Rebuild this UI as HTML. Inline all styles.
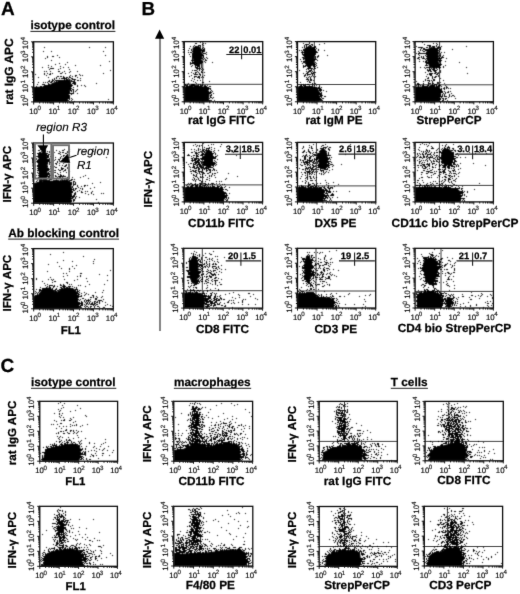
<!DOCTYPE html>
<html><head><meta charset="utf-8"><style>
html,body{margin:0;padding:0;background:#fff;}
body{width:520px;height:594px;overflow:hidden;}
svg{display:block;font-family:"Liberation Sans", sans-serif;text-rendering:geometricPrecision;}
</style></head><body>
<svg width="520" height="594" viewBox="0 0 520 594">
<defs><filter id="bl" x="0" y="0" width="1" height="1" filterUnits="objectBoundingBox"><feConvolveMatrix order="3" kernelMatrix="0.0121 0.0858 0.0121 0.0858 0.6084 0.0858 0.0121 0.0858 0.0121" divisor="1" edgeMode="none" preserveAlpha="false"/></filter><filter id="gb" x="0" y="0" width="1" height="1"><feConvolveMatrix order="3" kernelMatrix="0.0064 0.0672 0.0064 0.0672 0.7056 0.0672 0.0064 0.0672 0.0064" divisor="1" edgeMode="none" preserveAlpha="false"/></filter></defs>
<rect width="520" height="594" fill="#fff"/>
<g filter="url(#gb)">
<path d="M202.80 41.60L202.80 101.80" stroke="#444" stroke-width="1.0" fill="none"/><path d="M184.30 84.30L262.70 84.30" stroke="#444" stroke-width="1.0" fill="none"/><path d="M314.30 41.60L314.30 101.80" stroke="#444" stroke-width="1.0" fill="none"/><path d="M297.50 84.50L375.70 84.50" stroke="#444" stroke-width="1.0" fill="none"/><path d="M439.60 41.60L439.60 101.80" stroke="#444" stroke-width="1.0" fill="none"/><path d="M415.10 84.80L493.40 84.80" stroke="#444" stroke-width="1.0" fill="none"/><path d="M202.60 142.40L202.60 201.90" stroke="#444" stroke-width="1.0" fill="none"/><path d="M184.30 184.90L262.60 184.90" stroke="#444" stroke-width="1.0" fill="none"/><path d="M316.40 142.40L316.40 201.90" stroke="#444" stroke-width="1.0" fill="none"/><path d="M297.50 185.90L375.80 185.90" stroke="#444" stroke-width="1.0" fill="none"/><path d="M439.40 142.40L439.40 201.90" stroke="#444" stroke-width="1.0" fill="none"/><path d="M415.10 185.40L493.40 185.40" stroke="#444" stroke-width="1.0" fill="none"/><path d="M202.30 248.30L202.30 308.10" stroke="#444" stroke-width="1.0" fill="none"/><path d="M183.80 290.70L262.60 290.70" stroke="#444" stroke-width="1.0" fill="none"/><path d="M316.00 248.30L316.00 308.00" stroke="#444" stroke-width="1.0" fill="none"/><path d="M297.50 291.00L375.70 291.00" stroke="#444" stroke-width="1.0" fill="none"/><path d="M441.00 248.30L441.00 308.00" stroke="#444" stroke-width="1.0" fill="none"/><path d="M415.10 291.40L493.40 291.40" stroke="#444" stroke-width="1.0" fill="none"/><path d="M319.20 441.40L397.30 441.40" stroke="#444" stroke-width="1.0" fill="none"/><path d="M344.50 401.40L344.50 441.40" stroke="#444" stroke-width="1.0" fill="none"/><path d="M425.10 441.40L503.30 441.40" stroke="#444" stroke-width="1.0" fill="none"/><path d="M448.80 401.40L448.80 441.40" stroke="#444" stroke-width="1.0" fill="none"/><path d="M319.20 546.50L397.30 546.50" stroke="#444" stroke-width="1.0" fill="none"/><path d="M344.50 506.50L344.50 546.50" stroke="#444" stroke-width="1.0" fill="none"/><path d="M424.30 546.50L502.60 546.50" stroke="#444" stroke-width="1.0" fill="none"/><path d="M447.40 506.30L447.40 546.50" stroke="#444" stroke-width="1.0" fill="none"/>
<g filter="url(#bl)">
<path d="M33.7 87.0L45.0 86.5L49.0 85.2L52.8 82.7L57.1 81.5L62.4 80.3L67.2 79.6L70.6 79.5L71.0 84.2L70.0 89.8L68.7 95.4L67.4 101.9L33.7 101.9Z" fill="#000"/><path d="M33.7 183.2L40.9 181.3L50.7 180.8L59.5 180.4L67.2 179.5L71.0 182.3L72.0 189.8L71.3 203.2L33.7 203.2Z" fill="#000"/><path d="M38.8 152.9L45.8 152.0L47.5 158.9L47.8 169.3L46.8 179.0L39.3 180.0L38.5 165.9Z" fill="#000"/><path d="M33.7 297.8L38.0 294.9L41.0 291.1L43.9 288.3L47.8 287.5L51.7 288.7L54.7 291.2L56.8 292.0L60.3 289.7L64.2 288.0L69.1 287.4L74.0 288.7L77.0 292.0L78.0 297.8L78.7 308.8L33.7 308.8Z" fill="#000"/><path d="M192.5 47.8L197.0 46.0L200.7 46.9L201.7 52.6L201.5 63.1L198.9 66.0L194.3 65.1L192.9 57.6Z" fill="#000"/><path d="M184.3 86.4L195.6 86.3L204.3 86.7L208.1 88.4L209.5 94.7L208.3 101.8L184.3 101.8Z" fill="#000"/><path d="M304.1 48.8L309.0 46.0L313.5 47.9L314.5 55.2L314.0 65.1L309.9 67.0L305.4 64.1L304.0 56.0Z" fill="#000"/><path d="M297.5 86.4L310.1 86.5L317.2 87.1L319.5 92.0L319.3 101.8L297.5 101.8Z" fill="#000"/><path d="M426.6 49.8L431.2 47.0L436.6 47.9L438.7 52.6L438.4 65.2L434.8 69.0L429.3 67.1L426.9 59.6Z" fill="#000"/><path d="M415.1 86.4L430.0 86.5L439.2 86.5L440.0 92.0L439.8 101.8L415.1 101.8Z" fill="#000"/><path d="M213.0 159.0L212.9 161.2L212.6 163.3L211.9 165.2L210.9 166.7L209.8 167.7L208.5 168.0L207.2 167.7L206.1 166.7L205.1 165.2L204.4 163.3L204.1 161.2L204.0 159.0L204.1 156.8L204.4 154.7L205.1 152.8L206.1 151.3L207.2 150.3L208.5 150.0L209.8 150.3L210.9 151.3L211.9 152.8L212.6 154.7L212.9 156.8Z" fill="#000"/><path d="M184.3 187.2L200.8 186.6L214.2 187.1L221.0 188.3L224.5 192.9L224.1 201.9L184.3 201.9Z" fill="#000"/><path d="M327.5 159.0L327.4 161.5L327.1 164.0L326.5 166.2L325.5 168.0L324.3 169.1L323.0 169.5L321.7 169.1L320.5 168.0L319.5 166.2L318.9 164.0L318.6 161.5L318.5 159.0L318.6 156.5L318.9 154.0L319.5 151.8L320.5 150.0L321.7 148.9L323.0 148.5L324.3 148.9L325.5 150.0L326.5 151.8L327.1 154.0L327.4 156.5Z" fill="#000"/><path d="M297.5 187.8L312.2 187.5L321.2 187.5L324.0 192.1L323.2 201.9L297.5 201.9Z" fill="#000"/><path d="M453.0 157.0L452.8 159.1L452.3 161.1L451.4 162.9L450.1 164.3L448.6 165.2L447.0 165.5L445.4 165.2L443.9 164.3L442.6 162.9L441.7 161.1L441.2 159.1L441.0 157.0L441.2 154.9L441.7 152.9L442.6 151.1L443.9 149.7L445.4 148.8L447.0 148.5L448.6 148.8L450.1 149.7L451.4 151.1L452.3 152.9L452.8 154.9Z" fill="#000"/><path d="M415.1 187.2L430.9 186.5L444.4 187.8L457.0 188.2L461.0 192.0L460.1 201.9L415.1 201.9Z" fill="#000"/><path d="M198.5 270.0L198.5 273.3L198.2 276.7L197.5 279.7L196.5 282.0L195.3 283.5L194.0 284.0L192.7 283.5L191.5 282.0L190.5 279.7L189.8 276.7L189.5 273.3L189.5 270.0L189.5 266.7L189.8 263.3L190.5 260.3L191.5 258.0L192.7 256.5L194.0 256.0L195.3 256.5L196.5 258.0L197.5 260.3L198.2 263.3L198.5 266.7Z" fill="#000"/><path d="M183.8 292.5L195.2 292.5L202.2 293.6L205.0 298.0L204.3 308.1L183.8 308.1Z" fill="#000"/><path d="M311.5 268.0L311.6 270.9L311.4 273.9L310.9 276.6L310.1 278.7L309.1 280.0L308.0 280.5L306.9 280.0L305.9 278.7L305.1 276.6L304.6 273.9L304.4 270.9L304.5 268.0L304.4 265.1L304.6 262.1L305.1 259.4L305.9 257.3L306.9 256.0L308.0 255.5L309.1 256.0L310.1 257.3L310.9 259.4L311.4 262.1L311.6 265.1Z" fill="#000"/><path d="M297.5 293.3L310.7 292.7L316.3 295.0L317.4 298.8L329.0 297.1L334.0 299.9L334.1 308.0L297.5 308.0Z" fill="#000"/><path d="M423.6 260.8L428.2 258.0L433.7 258.0L437.4 261.8L437.2 274.5L434.7 282.1L430.0 285.0L425.4 281.1L424.0 270.0Z" fill="#000"/><path d="M417.0 294.3L425.7 291.7L434.5 291.9L441.1 294.4L442.0 299.8L441.3 308.0L416.8 308.0Z" fill="#000"/><path d="M452.0 302.0L451.9 303.2L451.7 304.3L451.3 305.4L450.6 306.3L449.9 308.0L449.0 308.0L448.1 308.0L447.4 306.3L446.7 305.4L446.3 304.3L446.1 303.2L446.0 302.0L446.1 300.8L446.3 299.7L446.7 298.6L447.4 297.7L448.1 297.2L449.0 297.0L449.9 297.2L450.6 297.7L451.3 298.6L451.7 299.7L451.9 300.8Z" fill="#000"/><path d="M45.0 451.9L48.0 448.2L55.8 446.5L64.7 444.9L71.2 443.6L77.1 444.4L80.5 448.1L81.0 454.8L79.1 461.2L42.9 461.2L44.0 455.7Z" fill="#000"/><path d="M173.8 449.9L183.0 449.0L189.0 446.1L194.9 442.9L200.8 443.5L205.8 446.6L211.1 446.0L219.1 443.8L229.0 443.2L237.0 444.1L240.0 448.0L240.6 461.2L173.8 461.2Z" fill="#000"/><path d="M324.0 451.9L331.0 448.2L340.8 446.7L347.6 444.9L355.1 444.5L361.0 447.2L363.0 451.9L362.1 460.8L321.9 460.8Z" fill="#000"/><path d="M430.0 451.9L436.0 447.2L445.7 444.8L451.7 443.0L459.2 442.6L465.0 445.3L466.5 451.9L465.2 460.8L428.9 460.8Z" fill="#000"/><path d="M45.0 555.9L49.0 552.2L56.9 550.5L64.8 549.5L71.2 548.6L79.0 550.3L82.5 555.0L82.1 566.3L42.9 566.3Z" fill="#000"/><path d="M173.8 554.0L186.0 553.5L201.0 553.1L210.9 552.0L219.4 550.8L231.1 549.3L240.0 549.7L245.0 552.1L246.0 557.9L245.6 566.0L173.8 566.0Z" fill="#000"/><path d="M327.0 556.0L333.0 552.3L340.7 550.7L347.7 549.9L355.1 550.5L360.0 553.2L361.0 559.8L359.2 566.3L324.9 566.3Z" fill="#000"/><path d="M429.0 555.9L433.0 553.1L440.9 551.5L446.0 549.0L454.2 547.6L460.1 549.3L462.5 555.0L462.2 566.0L426.9 566.0Z" fill="#000"/>
<path d="M52 79h1v1h-1zM69 76h1v1h-1zM43 86h1v1h-1zM73 89h1v1h-1zM61 80h1v1h-1zM55 83h1v1h-1zM47 82h1v1h-1zM75 83h1v1h-1zM66 80h1v1h-1zM71 86h1v1h-1zM68 95h1v1h-1zM48 84h1v1h-1zM73 92h1v1h-1zM67 80h1v1h-1zM54 81h1v1h-1zM69 93h1v1h-1zM45 82h1v1h-1zM70 75h1v1h-1zM62 81h1v1h-1zM70 89h1v1h-1zM72 78h1v1h-1zM71 94h1v1h-1zM45 86h1v1h-1zM38 87h1v1h-1zM70 82h1v1h-1zM69 80h1v1h-1zM63 78h1v1h-1zM59 78h1v1h-1zM68 96h1v1h-1zM65 78h1v1h-1zM75 84h1v1h-1zM42 84h1v1h-1zM69 92h1v1h-1zM69 96h1v1h-1zM73 93h1v1h-1zM61 82h1v1h-1zM50 85h1v1h-1zM72 83h1v1h-1zM70 90h1v1h-1zM35 92h1v1h-1zM77 77h1v1h-1zM35 87h1v1h-1zM55 80h1v1h-1zM70 87h1v1h-1zM52 80h1v1h-1zM52 81h1v1h-1zM71 90h1v1h-1zM64 77h1v1h-1zM76 90h1v1h-1zM67 77h1v1h-1zM49 84h1v1h-1zM54 84h1v1h-1zM51 82h1v1h-1zM51 81h1v1h-1zM52 83h1v1h-1zM56 82h1v1h-1zM43 84h1v1h-1zM66 77h1v1h-1zM37 87h1v1h-1zM49 80h1v1h-1zM35 95h1v1h-1zM53 84h1v1h-1zM43 82h1v1h-1zM73 81h1v1h-1zM71 98h1v1h-1zM40 86h1v1h-1zM50 82h1v1h-1zM70 88h1v1h-1zM64 80h1v1h-1zM67 98h1v1h-1zM62 80h1v1h-1zM35 100h1v1h-1zM68 98h1v1h-1zM61 76h1v1h-1zM44 86h1v1h-1zM70 86h1v1h-1zM67 100h1v1h-1zM69 91h1v1h-1zM58 82h1v1h-1zM56 77h1v1h-1zM70 83h1v1h-1zM44 85h1v1h-1zM69 98h1v1h-1zM67 79h1v1h-1zM71 84h1v1h-1zM71 80h1v1h-1zM46 85h1v1h-1zM56 80h1v1h-1zM68 78h1v1h-1zM74 79h1v1h-1zM73 87h1v1h-1zM71 91h1v1h-1zM41 86h1v1h-1zM45 85h1v1h-1zM37 84h1v1h-1zM77 85h1v1h-1zM71 81h1v1h-1zM68 100h1v1h-1zM60 80h1v1h-1zM41 87h1v1h-1zM44 84h1v1h-1zM72 93h1v1h-1zM69 77h1v1h-1zM38 82h1v1h-1zM61 78h1v1h-1zM70 93h1v1h-1zM65 80h1v1h-1zM48 85h1v1h-1zM53 83h1v1h-1zM57 80h1v1h-1zM56 83h1v1h-1zM49 81h1v1h-1zM71 85h1v1h-1zM46 86h1v1h-1zM74 81h1v1h-1zM66 78h1v1h-1zM60 73h1v1h-1zM48 86h1v1h-1zM59 82h1v1h-1zM63 77h1v1h-1zM69 95h1v1h-1zM74 80h1v1h-1zM55 82h1v1h-1zM68 93h1v1h-1zM68 80h1v1h-1zM72 85h1v1h-1zM54 83h1v1h-1zM35 93h1v1h-1zM69 89h1v1h-1zM69 99h1v1h-1zM74 84h1v1h-1zM70 85h1v1h-1zM69 101h1v1h-1zM34 92h1v1h-1zM71 93h1v1h-1zM63 81h1v1h-1zM67 96h1v1h-1zM57 83h1v1h-1zM58 81h1v1h-1zM73 82h1v1h-1zM59 81h1v1h-1zM64 79h1v1h-1zM62 101h1v1h-1zM35 91h1v1h-1zM69 97h1v1h-1zM75 91h1v1h-1zM56 81h1v1h-1zM36 86h1v1h-1zM73 83h1v1h-1zM72 81h1v1h-1zM71 100h1v1h-1zM59 80h1v1h-1zM73 79h1v1h-1zM47 86h1v1h-1zM68 97h1v1h-1zM34 97h1v1h-1zM53 80h1v1h-1zM74 83h1v1h-1zM72 89h1v1h-1zM63 80h1v1h-1zM71 78h1v1h-1zM63 76h1v1h-1zM49 85h1v1h-1zM69 88h1v1h-1zM47 85h1v1h-1zM48 83h1v1h-1zM72 99h1v1h-1zM71 88h1v1h-1zM58 80h1v1h-1zM74 101h1v1h-1zM34 93h1v1h-1zM73 91h1v1h-1zM51 66h1v1h-1zM50 68h1v1h-1zM70 77h1v1h-1zM50 74h1v1h-1zM73 90h1v1h-1zM45 58h1v1h-1zM63 67h1v1h-1zM49 74h1v1h-1zM51 51h1v1h-1zM58 71h1v1h-1zM64 78h1v1h-1zM60 68h1v1h-1zM52 56h1v1h-1zM54 79h1v1h-1zM64 88h1v1h-1zM57 55h1v1h-1zM66 79h1v1h-1zM47 56h1v1h-1zM60 76h1v1h-1zM48 67h1v1h-1zM51 60h1v1h-1zM46 71h1v1h-1zM55 64h1v1h-1zM49 69h1v1h-1zM47 73h1v1h-1zM44 71h1v1h-1zM56 78h1v1h-1zM48 65h1v1h-1zM56 88h1v1h-1zM44 73h1v1h-1zM52 73h1v1h-1zM64 71h1v1h-1zM61 73h1v1h-1zM53 68h1v1h-1zM42 67h1v1h-1zM51 68h1v1h-1zM65 73h1v1h-1zM35 74h1v1h-1zM58 69h1v1h-1zM46 75h1v1h-1zM69 79h1v1h-1zM57 76h1v1h-1zM67 86h1v1h-1zM70 71h1v1h-1zM59 71h1v1h-1zM60 66h1v1h-1zM65 64h1v1h-1zM50 73h1v1h-1zM38 77h1v1h-1zM62 72h1v1h-1zM51 87h1v1h-1zM54 78h1v1h-1zM75 65h1v1h-1zM59 63h1v1h-1zM68 67h1v1h-1zM48 81h1v1h-1zM67 62h1v1h-1zM69 72h1v1h-1zM84 85h1v1h-1zM50 71h1v1h-1zM58 76h1v1h-1zM59 57h1v1h-1zM69 69h1v1h-1zM75 82h1v1h-1zM76 75h1v1h-1zM80 80h1v1h-1zM77 71h1v1h-1zM77 89h1v1h-1zM65 90h1v1h-1zM78 80h1v1h-1zM68 89h1v1h-1zM77 86h1v1h-1zM75 79h1v1h-1zM80 78h1v1h-1zM80 75h1v1h-1zM72 76h1v1h-1zM82 75h1v1h-1zM77 93h1v1h-1zM85 86h1v1h-1zM79 74h1v1h-1zM75 76h1v1h-1zM72 79h1v1h-1zM81 85h1v1h-1zM74 82h1v1h-1zM77 80h1v1h-1zM75 75h1v1h-1zM105 47h1v1h-1zM62 78h1v1h-1zM52 68h1v1h-1zM43 51h1v1h-1zM103 73h1v1h-1zM54 94h1v1h-1zM103 51h1v1h-1zM105 55h1v1h-1zM44 74h1v1h-1zM100 65h1v1h-1zM109 61h1v1h-1zM89 47h1v1h-1zM48 77h1v1h-1zM110 70h1v1h-1zM96 83h1v1h-1zM53 56h1v1h-1zM108 99h1v1h-1zM44 47h1v1h-1zM47 57h1v1h-1zM53 180h1v1h-1zM71 191h1v1h-1zM44 178h1v1h-1zM58 180h1v1h-1zM72 197h1v1h-1zM66 179h1v1h-1zM72 198h1v1h-1zM60 178h1v1h-1zM75 194h1v1h-1zM64 179h1v1h-1zM72 192h1v1h-1zM70 202h1v1h-1zM48 178h1v1h-1zM34 195h1v1h-1zM46 181h1v1h-1zM71 188h1v1h-1zM73 197h1v1h-1zM70 188h1v1h-1zM34 189h1v1h-1zM71 198h1v1h-1zM68 179h1v1h-1zM57 181h1v1h-1zM53 178h1v1h-1zM73 183h1v1h-1zM73 188h1v1h-1zM73 182h1v1h-1zM39 182h1v1h-1zM48 182h1v1h-1zM35 195h1v1h-1zM50 179h1v1h-1zM74 181h1v1h-1zM50 181h1v1h-1zM60 181h1v1h-1zM74 194h1v1h-1zM37 180h1v1h-1zM42 180h1v1h-1zM56 179h1v1h-1zM47 176h1v1h-1zM69 181h1v1h-1zM72 187h1v1h-1zM50 178h1v1h-1zM65 180h1v1h-1zM77 191h1v1h-1zM35 197h1v1h-1zM66 180h1v1h-1zM71 182h1v1h-1zM35 186h1v1h-1zM71 184h1v1h-1zM54 181h1v1h-1zM70 180h1v1h-1zM75 192h1v1h-1zM73 190h1v1h-1zM61 175h1v1h-1zM71 192h1v1h-1zM58 178h1v1h-1zM41 181h1v1h-1zM73 199h1v1h-1zM35 188h1v1h-1zM71 201h1v1h-1zM45 177h1v1h-1zM44 179h1v1h-1zM68 181h1v1h-1zM71 190h1v1h-1zM35 200h1v1h-1zM72 191h1v1h-1zM71 189h1v1h-1zM55 180h1v1h-1zM59 181h1v1h-1zM61 179h1v1h-1zM73 184h1v1h-1zM37 182h1v1h-1zM71 180h1v1h-1zM52 181h1v1h-1zM70 187h1v1h-1zM54 182h1v1h-1zM75 198h1v1h-1zM54 180h1v1h-1zM70 183h1v1h-1zM44 182h1v1h-1zM57 180h1v1h-1zM62 177h1v1h-1zM62 180h1v1h-1zM75 182h1v1h-1zM53 181h1v1h-1zM75 184h1v1h-1zM35 190h1v1h-1zM69 182h1v1h-1zM74 193h1v1h-1zM47 182h1v1h-1zM59 177h1v1h-1zM77 186h1v1h-1zM70 200h1v1h-1zM63 178h1v1h-1zM64 180h1v1h-1zM65 178h1v1h-1zM34 188h1v1h-1zM56 182h1v1h-1zM34 192h1v1h-1zM51 178h1v1h-1zM63 176h1v1h-1zM75 183h1v1h-1zM73 181h1v1h-1zM34 194h1v1h-1zM72 189h1v1h-1zM35 187h1v1h-1zM35 184h1v1h-1zM63 180h1v1h-1zM44 181h1v1h-1zM70 185h1v1h-1zM74 184h1v1h-1zM71 179h1v1h-1zM73 200h1v1h-1zM57 182h1v1h-1zM72 179h1v1h-1zM74 196h1v1h-1zM72 196h1v1h-1zM73 195h1v1h-1zM40 180h1v1h-1zM51 181h1v1h-1zM38 182h1v1h-1zM47 180h1v1h-1zM68 176h1v1h-1zM57 177h1v1h-1zM40 178h1v1h-1zM73 185h1v1h-1zM37 183h1v1h-1zM41 179h1v1h-1zM77 185h1v1h-1zM49 179h1v1h-1zM56 180h1v1h-1zM51 182h1v1h-1zM73 196h1v1h-1zM74 199h1v1h-1zM35 199h1v1h-1zM52 182h1v1h-1zM39 180h1v1h-1zM67 179h1v1h-1zM71 196h1v1h-1zM71 183h1v1h-1zM74 195h1v1h-1zM75 188h1v1h-1zM43 179h1v1h-1zM67 178h1v1h-1zM56 176h1v1h-1zM71 200h1v1h-1zM75 189h1v1h-1zM69 180h1v1h-1zM49 180h1v1h-1zM34 193h1v1h-1zM66 178h1v1h-1zM74 200h1v1h-1zM61 176h1v1h-1zM55 175h1v1h-1zM74 179h1v1h-1zM37 178h1v1h-1zM45 180h1v1h-1zM55 176h1v1h-1zM71 195h1v1h-1zM68 202h1v1h-1zM48 180h1v1h-1zM62 179h1v1h-1zM34 197h1v1h-1zM35 192h1v1h-1zM49 177h1v1h-1zM63 175h1v1h-1zM73 201h1v1h-1zM56 181h1v1h-1zM72 177h1v1h-1zM35 194h1v1h-1zM71 194h1v1h-1zM73 189h1v1h-1zM39 181h1v1h-1zM60 180h1v1h-1zM40 182h1v1h-1zM44 180h1v1h-1zM70 184h1v1h-1zM45 179h1v1h-1zM74 190h1v1h-1zM61 181h1v1h-1zM38 178h1v1h-1zM75 197h1v1h-1zM35 189h1v1h-1zM72 186h1v1h-1zM46 179h1v1h-1zM49 171h1v1h-1zM40 181h1v1h-1zM38 160h1v1h-1zM42 154h1v1h-1zM48 173h1v1h-1zM39 167h1v1h-1zM51 179h1v1h-1zM35 177h1v1h-1zM49 160h1v1h-1zM44 151h1v1h-1zM51 170h1v1h-1zM47 162h1v1h-1zM38 175h1v1h-1zM48 174h1v1h-1zM43 181h1v1h-1zM40 179h1v1h-1zM45 153h1v1h-1zM47 168h1v1h-1zM47 161h1v1h-1zM40 173h1v1h-1zM46 155h1v1h-1zM51 164h1v1h-1zM49 164h1v1h-1zM43 178h1v1h-1zM47 159h1v1h-1zM39 163h1v1h-1zM38 159h1v1h-1zM52 160h1v1h-1zM46 154h1v1h-1zM49 176h1v1h-1zM38 153h1v1h-1zM37 170h1v1h-1zM48 160h1v1h-1zM38 163h1v1h-1zM47 163h1v1h-1zM40 168h1v1h-1zM48 155h1v1h-1zM49 181h1v1h-1zM45 149h1v1h-1zM50 171h1v1h-1zM39 162h1v1h-1zM35 165h1v1h-1zM39 183h1v1h-1zM37 172h1v1h-1zM39 157h1v1h-1zM38 166h1v1h-1zM47 174h1v1h-1zM39 177h1v1h-1zM38 177h1v1h-1zM48 156h1v1h-1zM35 162h1v1h-1zM48 177h1v1h-1zM52 169h1v1h-1zM39 153h1v1h-1zM49 154h1v1h-1zM48 172h1v1h-1zM36 158h1v1h-1zM42 149h1v1h-1zM37 168h1v1h-1zM36 181h1v1h-1zM36 159h1v1h-1zM39 155h1v1h-1zM39 172h1v1h-1zM49 174h1v1h-1zM39 164h1v1h-1zM51 173h1v1h-1zM35 166h1v1h-1zM37 161h1v1h-1zM40 149h1v1h-1zM37 162h1v1h-1zM44 150h1v1h-1zM38 150h1v1h-1zM50 168h1v1h-1zM51 175h1v1h-1zM38 173h1v1h-1zM48 176h1v1h-1zM39 158h1v1h-1zM39 165h1v1h-1zM38 170h1v1h-1zM44 148h1v1h-1zM49 159h1v1h-1zM47 160h1v1h-1zM37 160h1v1h-1zM38 165h1v1h-1zM46 153h1v1h-1zM43 180h1v1h-1zM38 162h1v1h-1zM39 168h1v1h-1zM38 154h1v1h-1zM43 184h1v1h-1zM38 161h1v1h-1zM39 173h1v1h-1zM40 152h1v1h-1zM49 169h1v1h-1zM50 162h1v1h-1zM39 150h1v1h-1zM38 155h1v1h-1zM39 152h1v1h-1zM37 156h1v1h-1zM49 163h1v1h-1zM49 175h1v1h-1zM43 151h1v1h-1zM46 180h1v1h-1zM42 178h1v1h-1zM39 161h1v1h-1zM51 167h1v1h-1zM41 153h1v1h-1zM47 181h1v1h-1zM38 156h1v1h-1zM34 159h1v1h-1zM45 150h1v1h-1zM47 157h1v1h-1zM52 175h1v1h-1zM50 175h1v1h-1zM38 157h1v1h-1zM48 170h1v1h-1zM51 174h1v1h-1zM49 152h1v1h-1zM38 168h1v1h-1zM41 180h1v1h-1zM47 169h1v1h-1zM39 156h1v1h-1zM48 157h1v1h-1zM47 178h1v1h-1zM47 166h1v1h-1zM50 166h1v1h-1zM39 175h1v1h-1zM45 151h1v1h-1zM47 175h1v1h-1zM49 161h1v1h-1zM42 152h1v1h-1zM39 159h1v1h-1zM49 158h1v1h-1zM39 160h1v1h-1zM48 154h1v1h-1zM45 178h1v1h-1zM39 178h1v1h-1zM40 162h1v1h-1zM44 153h1v1h-1zM39 176h1v1h-1zM39 174h1v1h-1zM36 175h1v1h-1zM45 182h1v1h-1zM47 153h1v1h-1zM44 152h1v1h-1zM39 170h1v1h-1zM48 169h1v1h-1zM38 169h1v1h-1zM36 161h1v1h-1zM37 153h1v1h-1zM36 156h1v1h-1zM41 154h1v1h-1zM43 152h1v1h-1zM35 169h1v1h-1zM38 164h1v1h-1zM38 167h1v1h-1zM48 168h1v1h-1zM42 183h1v1h-1zM45 181h1v1h-1zM41 151h1v1h-1zM50 156h1v1h-1zM43 153h1v1h-1zM47 155h1v1h-1zM49 151h1v1h-1zM43 183h1v1h-1zM51 162h1v1h-1zM51 172h1v1h-1zM51 166h1v1h-1zM48 161h1v1h-1zM41 182h1v1h-1zM40 183h1v1h-1zM40 171h1v1h-1zM47 173h1v1h-1zM47 170h1v1h-1zM47 156h1v1h-1zM47 151h1v1h-1zM37 165h1v1h-1zM52 159h1v1h-1zM40 176h1v1h-1zM48 159h1v1h-1zM49 162h1v1h-1zM39 166h1v1h-1zM52 165h1v1h-1zM37 166h1v1h-1zM52 174h1v1h-1zM49 173h1v1h-1zM58 159h1v1h-1zM57 162h1v1h-1zM64 170h1v1h-1zM69 149h1v1h-1zM60 176h1v1h-1zM65 162h1v1h-1zM54 160h1v1h-1zM67 152h1v1h-1zM62 152h1v1h-1zM63 163h1v1h-1zM60 174h1v1h-1zM53 167h1v1h-1zM59 176h1v1h-1zM56 164h1v1h-1zM66 155h1v1h-1zM66 156h1v1h-1zM65 166h1v1h-1zM64 155h1v1h-1zM54 172h1v1h-1zM66 165h1v1h-1zM53 175h1v1h-1zM59 170h1v1h-1zM67 168h1v1h-1zM65 169h1v1h-1zM62 176h1v1h-1zM63 161h1v1h-1zM68 170h1v1h-1zM65 160h1v1h-1zM62 169h1v1h-1zM59 165h1v1h-1zM55 172h1v1h-1zM66 164h1v1h-1zM63 152h1v1h-1zM67 151h1v1h-1zM55 163h1v1h-1zM69 162h1v1h-1zM68 152h1v1h-1zM63 171h1v1h-1zM55 159h1v1h-1zM62 168h1v1h-1zM63 150h1v1h-1zM65 176h1v1h-1zM69 155h1v1h-1zM61 161h1v1h-1zM65 165h1v1h-1zM60 175h1v1h-1zM62 160h1v1h-1zM59 160h1v1h-1zM69 171h1v1h-1zM63 156h1v1h-1zM59 161h1v1h-1zM63 155h1v1h-1zM68 164h1v1h-1zM64 162h1v1h-1zM62 158h1v1h-1zM54 166h1v1h-1zM60 154h1v1h-1zM60 157h1v1h-1zM64 166h1v1h-1zM57 161h1v1h-1zM61 169h1v1h-1zM59 151h1v1h-1zM66 172h1v1h-1zM64 176h1v1h-1zM62 150h1v1h-1zM60 158h1v1h-1zM54 152h1v1h-1zM60 152h1v1h-1zM67 154h1v1h-1zM69 151h1v1h-1zM67 177h1v1h-1zM55 167h1v1h-1zM67 159h1v1h-1zM61 156h1v1h-1zM64 149h1v1h-1zM61 168h1v1h-1zM56 163h1v1h-1zM59 159h1v1h-1zM59 163h1v1h-1zM55 170h1v1h-1zM67 162h1v1h-1zM62 165h1v1h-1zM55 157h1v1h-1zM64 159h1v1h-1zM56 167h1v1h-1zM63 168h1v1h-1zM57 173h1v1h-1zM58 176h1v1h-1zM58 174h1v1h-1zM53 155h1v1h-1zM60 172h1v1h-1zM67 167h1v1h-1zM56 150h1v1h-1zM61 167h1v1h-1zM68 162h1v1h-1zM60 170h1v1h-1zM65 153h1v1h-1zM54 170h1v1h-1zM58 153h1v1h-1zM59 153h1v1h-1zM58 169h1v1h-1zM65 170h1v1h-1zM60 177h1v1h-1zM66 153h1v1h-1zM79 190h1v1h-1zM84 185h1v1h-1zM92 183h1v1h-1zM88 178h1v1h-1zM92 191h1v1h-1zM81 191h1v1h-1zM76 188h1v1h-1zM87 191h1v1h-1zM93 194h1v1h-1zM94 187h1v1h-1zM87 185h1v1h-1zM85 175h1v1h-1zM85 191h1v1h-1zM82 189h1v1h-1zM81 192h1v1h-1zM90 188h1v1h-1zM85 193h1v1h-1zM79 197h1v1h-1zM103 193h1v1h-1zM82 192h1v1h-1zM96 199h1v1h-1zM75 193h1v1h-1zM80 188h1v1h-1zM88 194h1v1h-1zM84 186h1v1h-1zM85 185h1v1h-1zM100 182h1v1h-1zM91 192h1v1h-1zM80 177h1v1h-1zM91 193h1v1h-1zM98 202h1v1h-1zM78 187h1v1h-1zM106 157h1v1h-1zM76 196h1v1h-1zM70 193h1v1h-1zM82 188h1v1h-1zM101 193h1v1h-1zM93 151h1v1h-1zM81 186h1v1h-1zM83 176h1v1h-1zM81 296h1v1h-1zM68 286h1v1h-1zM81 295h1v1h-1zM52 288h1v1h-1zM35 302h1v1h-1zM44 288h1v1h-1zM78 304h1v1h-1zM59 291h1v1h-1zM34 300h1v1h-1zM46 289h1v1h-1zM49 285h1v1h-1zM79 303h1v1h-1zM77 304h1v1h-1zM47 286h1v1h-1zM49 286h1v1h-1zM39 293h1v1h-1zM63 287h1v1h-1zM76 294h1v1h-1zM77 295h1v1h-1zM41 292h1v1h-1zM76 289h1v1h-1zM43 288h1v1h-1zM42 291h1v1h-1zM54 290h1v1h-1zM57 290h1v1h-1zM62 288h1v1h-1zM55 290h1v1h-1zM78 294h1v1h-1zM52 282h1v1h-1zM75 289h1v1h-1zM84 295h1v1h-1zM76 287h1v1h-1zM60 289h1v1h-1zM80 296h1v1h-1zM78 296h1v1h-1zM37 294h1v1h-1zM47 288h1v1h-1zM40 290h1v1h-1zM42 288h1v1h-1zM35 293h1v1h-1zM66 288h1v1h-1zM73 289h1v1h-1zM81 303h1v1h-1zM81 301h1v1h-1zM36 296h1v1h-1zM46 288h1v1h-1zM63 284h1v1h-1zM77 300h1v1h-1zM34 297h1v1h-1zM78 297h1v1h-1zM41 290h1v1h-1zM78 293h1v1h-1zM58 292h1v1h-1zM35 300h1v1h-1zM70 288h1v1h-1zM39 289h1v1h-1zM74 290h1v1h-1zM77 299h1v1h-1zM79 304h1v1h-1zM50 288h1v1h-1zM44 289h1v1h-1zM80 285h1v1h-1zM64 287h1v1h-1zM40 293h1v1h-1zM43 290h1v1h-1zM61 287h1v1h-1zM41 291h1v1h-1zM79 306h1v1h-1zM34 306h1v1h-1zM44 283h1v1h-1zM42 289h1v1h-1zM64 288h1v1h-1zM79 290h1v1h-1zM36 289h1v1h-1zM59 289h1v1h-1zM55 291h1v1h-1zM78 295h1v1h-1zM79 302h1v1h-1zM39 295h1v1h-1zM63 285h1v1h-1zM57 292h1v1h-1zM39 291h1v1h-1zM84 292h1v1h-1zM78 299h1v1h-1zM37 296h1v1h-1zM82 302h1v1h-1zM43 291h1v1h-1zM85 305h1v1h-1zM60 284h1v1h-1zM78 303h1v1h-1zM78 305h1v1h-1zM77 290h1v1h-1zM64 286h1v1h-1zM62 289h1v1h-1zM40 289h1v1h-1zM69 286h1v1h-1zM56 289h1v1h-1zM76 288h1v1h-1zM53 287h1v1h-1zM67 283h1v1h-1zM56 293h1v1h-1zM40 287h1v1h-1zM38 295h1v1h-1zM55 292h1v1h-1zM83 298h1v1h-1zM76 293h1v1h-1zM86 300h1v1h-1zM77 298h1v1h-1zM35 307h1v1h-1zM65 288h1v1h-1zM69 287h1v1h-1zM35 291h1v1h-1zM58 291h1v1h-1zM77 296h1v1h-1zM80 305h1v1h-1zM78 306h1v1h-1zM53 290h1v1h-1zM67 287h1v1h-1zM81 307h1v1h-1zM69 288h1v1h-1zM80 299h1v1h-1zM72 286h1v1h-1zM45 285h1v1h-1zM44 290h1v1h-1zM52 285h1v1h-1zM79 294h1v1h-1zM46 287h1v1h-1zM80 306h1v1h-1zM77 303h1v1h-1zM52 289h1v1h-1zM37 295h1v1h-1zM50 287h1v1h-1zM81 305h1v1h-1zM75 290h1v1h-1zM55 289h1v1h-1zM79 307h1v1h-1zM64 285h1v1h-1zM79 296h1v1h-1zM74 287h1v1h-1zM42 290h1v1h-1zM35 295h1v1h-1zM79 292h1v1h-1zM34 296h1v1h-1zM61 289h1v1h-1zM66 287h1v1h-1zM70 286h1v1h-1zM69 284h1v1h-1zM62 286h1v1h-1zM78 307h1v1h-1zM78 302h1v1h-1zM78 291h1v1h-1zM36 297h1v1h-1zM43 289h1v1h-1zM39 290h1v1h-1zM81 293h1v1h-1zM56 288h1v1h-1zM56 291h1v1h-1zM78 285h1v1h-1zM81 302h1v1h-1zM67 288h1v1h-1zM35 303h1v1h-1zM81 304h1v1h-1zM82 298h1v1h-1zM82 305h1v1h-1zM40 292h1v1h-1zM75 291h1v1h-1zM41 293h1v1h-1zM72 288h1v1h-1zM51 285h1v1h-1zM65 286h1v1h-1zM68 288h1v1h-1zM82 304h1v1h-1zM36 295h1v1h-1zM63 286h1v1h-1zM66 282h1v1h-1zM77 289h1v1h-1zM35 306h1v1h-1zM47 284h1v1h-1zM58 290h1v1h-1zM61 288h1v1h-1zM35 296h1v1h-1zM37 293h1v1h-1zM77 292h1v1h-1zM49 287h1v1h-1zM38 292h1v1h-1zM36 292h1v1h-1zM77 291h1v1h-1zM77 293h1v1h-1zM56 292h1v1h-1zM76 297h1v1h-1zM60 285h1v1h-1zM80 303h1v1h-1zM53 286h1v1h-1zM54 286h1v1h-1zM71 284h1v1h-1zM60 287h1v1h-1zM45 289h1v1h-1zM96 302h1v1h-1zM79 300h1v1h-1zM88 294h1v1h-1zM88 301h1v1h-1zM88 300h1v1h-1zM102 296h1v1h-1zM87 306h1v1h-1zM93 296h1v1h-1zM95 292h1v1h-1zM88 304h1v1h-1zM92 302h1v1h-1zM93 295h1v1h-1zM92 304h1v1h-1zM84 300h1v1h-1zM96 296h1v1h-1zM91 306h1v1h-1zM89 303h1v1h-1zM95 301h1v1h-1zM96 298h1v1h-1zM102 292h1v1h-1zM93 304h1v1h-1zM87 302h1v1h-1zM93 305h1v1h-1zM86 304h1v1h-1zM112 306h1v1h-1zM97 306h1v1h-1zM102 308h1v1h-1zM100 300h1v1h-1zM97 304h1v1h-1zM89 300h1v1h-1zM94 306h1v1h-1zM94 301h1v1h-1zM105 302h1v1h-1zM99 303h1v1h-1zM87 300h1v1h-1zM97 301h1v1h-1zM102 301h1v1h-1zM97 302h1v1h-1zM91 304h1v1h-1zM90 299h1v1h-1zM87 303h1v1h-1zM94 307h1v1h-1zM95 305h1v1h-1zM99 301h1v1h-1zM101 300h1v1h-1zM89 284h1v1h-1zM103 307h1v1h-1zM103 299h1v1h-1zM86 303h1v1h-1zM99 302h1v1h-1zM95 303h1v1h-1zM96 304h1v1h-1zM85 294h1v1h-1zM88 299h1v1h-1zM75 307h1v1h-1zM86 306h1v1h-1zM94 303h1v1h-1zM90 301h1v1h-1zM91 297h1v1h-1zM105 305h1v1h-1zM90 297h1v1h-1zM94 302h1v1h-1zM97 297h1v1h-1zM98 306h1v1h-1zM95 299h1v1h-1zM85 302h1v1h-1zM94 304h1v1h-1zM92 295h1v1h-1zM89 302h1v1h-1zM101 297h1v1h-1zM96 299h1v1h-1zM84 301h1v1h-1zM107 304h1v1h-1zM90 307h1v1h-1zM80 307h1v1h-1zM93 297h1v1h-1zM75 300h1v1h-1zM104 307h1v1h-1zM90 306h1v1h-1zM95 298h1v1h-1zM110 305h1v1h-1zM85 307h1v1h-1zM99 307h1v1h-1zM82 303h1v1h-1zM86 301h1v1h-1zM90 304h1v1h-1zM84 306h1v1h-1zM91 303h1v1h-1zM98 300h1v1h-1zM99 300h1v1h-1zM86 293h1v1h-1zM85 299h1v1h-1zM88 307h1v1h-1zM84 304h1v1h-1zM92 303h1v1h-1zM54 281h1v1h-1zM68 295h1v1h-1zM74 280h1v1h-1zM66 273h1v1h-1zM53 279h1v1h-1zM77 279h1v1h-1zM42 281h1v1h-1zM107 275h1v1h-1zM49 288h1v1h-1zM50 277h1v1h-1zM69 271h1v1h-1zM51 279h1v1h-1zM48 279h1v1h-1zM72 266h1v1h-1zM76 265h1v1h-1zM69 269h1v1h-1zM47 271h1v1h-1zM67 282h1v1h-1zM74 268h1v1h-1zM63 252h1v1h-1zM77 276h1v1h-1zM63 273h1v1h-1zM36 279h1v1h-1zM67 275h1v1h-1zM80 275h1v1h-1zM57 286h1v1h-1zM61 268h1v1h-1zM59 266h1v1h-1zM72 261h1v1h-1zM63 276h1v1h-1zM80 276h1v1h-1zM61 285h1v1h-1zM86 278h1v1h-1zM52 280h1v1h-1zM48 288h1v1h-1zM69 268h1v1h-1zM93 263h1v1h-1zM80 273h1v1h-1zM57 262h1v1h-1zM36 278h1v1h-1zM50 285h1v1h-1zM64 279h1v1h-1zM93 261h1v1h-1zM87 281h1v1h-1zM103 290h1v1h-1zM104 284h1v1h-1zM60 290h1v1h-1zM83 256h1v1h-1zM54 285h1v1h-1zM94 259h1v1h-1zM99 274h1v1h-1zM81 273h1v1h-1zM110 270h1v1h-1zM107 280h1v1h-1zM50 254h1v1h-1zM50 289h1v1h-1zM55 281h1v1h-1zM63 260h1v1h-1zM48 264h1v1h-1zM85 286h1v1h-1zM192 59h1v1h-1zM194 56h1v1h-1zM203 47h1v1h-1zM202 55h1v1h-1zM196 65h1v1h-1zM204 51h1v1h-1zM201 49h1v1h-1zM201 61h1v1h-1zM200 45h1v1h-1zM194 59h1v1h-1zM200 46h1v1h-1zM194 57h1v1h-1zM195 65h1v1h-1zM199 68h1v1h-1zM205 53h1v1h-1zM205 60h1v1h-1zM199 66h1v1h-1zM195 46h1v1h-1zM193 53h1v1h-1zM204 58h1v1h-1zM198 68h1v1h-1zM201 54h1v1h-1zM199 65h1v1h-1zM193 62h1v1h-1zM201 63h1v1h-1zM201 56h1v1h-1zM201 65h1v1h-1zM204 48h1v1h-1zM201 66h1v1h-1zM192 61h1v1h-1zM192 55h1v1h-1zM191 63h1v1h-1zM202 70h1v1h-1zM206 54h1v1h-1zM195 43h1v1h-1zM191 66h1v1h-1zM197 47h1v1h-1zM201 60h1v1h-1zM203 51h1v1h-1zM197 66h1v1h-1zM202 51h1v1h-1zM194 60h1v1h-1zM200 49h1v1h-1zM199 67h1v1h-1zM190 46h1v1h-1zM198 65h1v1h-1zM193 51h1v1h-1zM201 62h1v1h-1zM199 45h1v1h-1zM195 67h1v1h-1zM196 67h1v1h-1zM193 60h1v1h-1zM199 69h1v1h-1zM192 62h1v1h-1zM197 68h1v1h-1zM192 53h1v1h-1zM205 59h1v1h-1zM193 57h1v1h-1zM201 50h1v1h-1zM198 46h1v1h-1zM200 51h1v1h-1zM203 45h1v1h-1zM194 45h1v1h-1zM189 54h1v1h-1zM203 50h1v1h-1zM193 55h1v1h-1zM203 59h1v1h-1zM206 57h1v1h-1zM198 66h1v1h-1zM191 52h1v1h-1zM200 50h1v1h-1zM203 53h1v1h-1zM198 47h1v1h-1zM197 65h1v1h-1zM192 58h1v1h-1zM194 58h1v1h-1zM200 63h1v1h-1zM202 48h1v1h-1zM194 55h1v1h-1zM191 60h1v1h-1zM195 64h1v1h-1zM191 50h1v1h-1zM198 45h1v1h-1zM196 46h1v1h-1zM201 64h1v1h-1zM203 49h1v1h-1zM194 61h1v1h-1zM201 58h1v1h-1zM192 65h1v1h-1zM201 53h1v1h-1zM190 63h1v1h-1zM199 47h1v1h-1zM201 55h1v1h-1zM204 49h1v1h-1zM195 48h1v1h-1zM196 48h1v1h-1zM191 49h1v1h-1zM204 53h1v1h-1zM203 57h1v1h-1zM202 61h1v1h-1zM188 50h1v1h-1zM192 60h1v1h-1zM193 50h1v1h-1zM194 70h1v1h-1zM202 44h1v1h-1zM201 67h1v1h-1zM199 64h1v1h-1zM202 62h1v1h-1zM197 67h1v1h-1zM193 46h1v1h-1zM204 61h1v1h-1zM193 63h1v1h-1zM192 63h1v1h-1zM200 68h1v1h-1zM194 63h1v1h-1zM194 64h1v1h-1zM193 54h1v1h-1zM193 56h1v1h-1zM195 66h1v1h-1zM189 48h1v1h-1zM202 54h1v1h-1zM203 56h1v1h-1zM206 52h1v1h-1zM202 58h1v1h-1zM192 56h1v1h-1zM190 56h1v1h-1zM207 58h1v1h-1zM204 50h1v1h-1zM192 57h1v1h-1zM202 52h1v1h-1zM203 55h1v1h-1zM206 60h1v1h-1zM188 52h1v1h-1zM203 43h1v1h-1zM205 62h1v1h-1zM192 51h1v1h-1zM190 62h1v1h-1zM201 57h1v1h-1zM196 43h1v1h-1zM190 52h1v1h-1zM190 64h1v1h-1zM192 54h1v1h-1zM202 50h1v1h-1zM192 85h1v1h-1zM197 71h1v1h-1zM197 74h1v1h-1zM198 84h1v1h-1zM201 71h1v1h-1zM195 73h1v1h-1zM202 82h1v1h-1zM191 72h1v1h-1zM195 82h1v1h-1zM201 72h1v1h-1zM194 76h1v1h-1zM198 76h1v1h-1zM193 73h1v1h-1zM199 77h1v1h-1zM199 70h1v1h-1zM196 76h1v1h-1zM188 73h1v1h-1zM196 74h1v1h-1zM199 74h1v1h-1zM192 78h1v1h-1zM192 70h1v1h-1zM203 77h1v1h-1zM199 78h1v1h-1zM199 76h1v1h-1zM194 77h1v1h-1zM197 80h1v1h-1zM200 84h1v1h-1zM202 72h1v1h-1zM195 72h1v1h-1zM195 70h1v1h-1zM197 69h1v1h-1zM203 69h1v1h-1zM193 81h1v1h-1zM195 76h1v1h-1zM202 68h1v1h-1zM189 76h1v1h-1zM204 72h1v1h-1zM191 75h1v1h-1zM200 80h1v1h-1zM196 72h1v1h-1zM196 68h1v1h-1zM198 77h1v1h-1zM201 69h1v1h-1zM200 74h1v1h-1zM199 73h1v1h-1zM200 75h1v1h-1zM195 74h1v1h-1zM194 79h1v1h-1zM196 70h1v1h-1zM204 75h1v1h-1zM198 72h1v1h-1zM197 85h1v1h-1zM191 80h1v1h-1zM197 77h1v1h-1zM202 76h1v1h-1zM201 77h1v1h-1zM194 74h1v1h-1zM202 85h1v1h-1zM185 84h1v1h-1zM197 88h1v1h-1zM208 89h1v1h-1zM205 86h1v1h-1zM194 85h1v1h-1zM210 86h1v1h-1zM195 85h1v1h-1zM199 87h1v1h-1zM205 85h1v1h-1zM204 85h1v1h-1zM200 86h1v1h-1zM195 86h1v1h-1zM197 86h1v1h-1zM210 89h1v1h-1zM208 100h1v1h-1zM188 83h1v1h-1zM185 99h1v1h-1zM186 97h1v1h-1zM200 85h1v1h-1zM207 88h1v1h-1zM206 88h1v1h-1zM205 87h1v1h-1zM210 88h1v1h-1zM206 87h1v1h-1zM201 87h1v1h-1zM202 88h1v1h-1zM198 87h1v1h-1zM186 86h1v1h-1zM187 84h1v1h-1zM192 87h1v1h-1zM191 84h1v1h-1zM209 101h1v1h-1zM196 86h1v1h-1zM198 86h1v1h-1zM196 83h1v1h-1zM192 86h1v1h-1zM204 86h1v1h-1zM186 87h1v1h-1zM189 86h1v1h-1zM190 86h1v1h-1zM211 94h1v1h-1zM208 88h1v1h-1zM211 100h1v1h-1zM210 95h1v1h-1zM194 87h1v1h-1zM185 97h1v1h-1zM211 97h1v1h-1zM208 91h1v1h-1zM210 92h1v1h-1zM198 85h1v1h-1zM207 87h1v1h-1zM185 96h1v1h-1zM204 87h1v1h-1zM191 86h1v1h-1zM194 84h1v1h-1zM212 98h1v1h-1zM191 85h1v1h-1zM187 86h1v1h-1zM186 85h1v1h-1zM210 100h1v1h-1zM201 86h1v1h-1zM208 87h1v1h-1zM209 92h1v1h-1zM197 87h1v1h-1zM203 82h1v1h-1zM195 87h1v1h-1zM187 87h1v1h-1zM185 88h1v1h-1zM210 93h1v1h-1zM214 100h1v1h-1zM190 87h1v1h-1zM208 94h1v1h-1zM200 87h1v1h-1zM208 99h1v1h-1zM210 97h1v1h-1zM203 87h1v1h-1zM201 85h1v1h-1zM194 86h1v1h-1zM210 96h1v1h-1zM207 85h1v1h-1zM190 85h1v1h-1zM209 100h1v1h-1zM185 95h1v1h-1zM186 93h1v1h-1zM193 85h1v1h-1zM185 94h1v1h-1zM211 95h1v1h-1zM209 86h1v1h-1zM208 97h1v1h-1zM202 87h1v1h-1zM209 98h1v1h-1zM209 88h1v1h-1zM206 89h1v1h-1zM189 85h1v1h-1zM199 86h1v1h-1zM213 97h1v1h-1zM202 84h1v1h-1zM196 85h1v1h-1zM203 88h1v1h-1zM189 87h1v1h-1zM208 96h1v1h-1zM212 91h1v1h-1zM185 100h1v1h-1zM185 85h1v1h-1zM191 87h1v1h-1zM210 91h1v1h-1zM188 86h1v1h-1zM211 90h1v1h-1zM205 88h1v1h-1zM211 92h1v1h-1zM206 86h1v1h-1zM213 93h1v1h-1zM186 95h1v1h-1zM187 85h1v1h-1zM209 93h1v1h-1zM193 84h1v1h-1zM186 96h1v1h-1zM192 84h1v1h-1zM193 91h1v1h-1zM200 42h1v1h-1zM193 92h1v1h-1zM209 81h1v1h-1zM199 53h1v1h-1zM205 43h1v1h-1zM200 61h1v1h-1zM212 62h1v1h-1zM201 91h1v1h-1zM304 56h1v1h-1zM314 49h1v1h-1zM313 47h1v1h-1zM311 48h1v1h-1zM306 65h1v1h-1zM305 51h1v1h-1zM302 54h1v1h-1zM316 48h1v1h-1zM306 48h1v1h-1zM315 72h1v1h-1zM305 53h1v1h-1zM309 47h1v1h-1zM304 47h1v1h-1zM314 46h1v1h-1zM305 57h1v1h-1zM310 46h1v1h-1zM313 58h1v1h-1zM302 63h1v1h-1zM308 72h1v1h-1zM313 49h1v1h-1zM311 70h1v1h-1zM303 61h1v1h-1zM311 68h1v1h-1zM318 49h1v1h-1zM304 55h1v1h-1zM305 44h1v1h-1zM310 47h1v1h-1zM310 66h1v1h-1zM312 44h1v1h-1zM315 64h1v1h-1zM314 55h1v1h-1zM303 55h1v1h-1zM313 66h1v1h-1zM308 46h1v1h-1zM303 54h1v1h-1zM307 68h1v1h-1zM318 55h1v1h-1zM300 59h1v1h-1zM303 65h1v1h-1zM306 49h1v1h-1zM313 51h1v1h-1zM305 59h1v1h-1zM303 50h1v1h-1zM313 64h1v1h-1zM305 63h1v1h-1zM308 66h1v1h-1zM306 44h1v1h-1zM304 61h1v1h-1zM303 58h1v1h-1zM305 66h1v1h-1zM302 51h1v1h-1zM310 45h1v1h-1zM302 57h1v1h-1zM308 64h1v1h-1zM302 52h1v1h-1zM313 48h1v1h-1zM307 47h1v1h-1zM309 66h1v1h-1zM308 69h1v1h-1zM311 65h1v1h-1zM315 50h1v1h-1zM304 62h1v1h-1zM315 62h1v1h-1zM318 56h1v1h-1zM311 46h1v1h-1zM316 59h1v1h-1zM312 48h1v1h-1zM313 57h1v1h-1zM314 68h1v1h-1zM305 58h1v1h-1zM307 66h1v1h-1zM317 52h1v1h-1zM305 48h1v1h-1zM309 43h1v1h-1zM306 60h1v1h-1zM317 56h1v1h-1zM304 50h1v1h-1zM313 54h1v1h-1zM315 54h1v1h-1zM317 67h1v1h-1zM312 47h1v1h-1zM305 61h1v1h-1zM308 67h1v1h-1zM303 57h1v1h-1zM310 67h1v1h-1zM307 44h1v1h-1zM310 48h1v1h-1zM304 58h1v1h-1zM308 47h1v1h-1zM315 56h1v1h-1zM314 59h1v1h-1zM313 61h1v1h-1zM306 47h1v1h-1zM303 62h1v1h-1zM316 51h1v1h-1zM315 59h1v1h-1zM304 66h1v1h-1zM305 49h1v1h-1zM313 69h1v1h-1zM302 53h1v1h-1zM304 45h1v1h-1zM306 59h1v1h-1zM304 53h1v1h-1zM309 71h1v1h-1zM303 52h1v1h-1zM310 68h1v1h-1zM314 67h1v1h-1zM317 60h1v1h-1zM305 52h1v1h-1zM316 65h1v1h-1zM308 48h1v1h-1zM312 71h1v1h-1zM315 47h1v1h-1zM316 63h1v1h-1zM314 66h1v1h-1zM312 45h1v1h-1zM306 64h1v1h-1zM314 60h1v1h-1zM306 69h1v1h-1zM303 49h1v1h-1zM314 63h1v1h-1zM301 50h1v1h-1zM311 44h1v1h-1zM307 48h1v1h-1zM308 65h1v1h-1zM314 54h1v1h-1zM314 64h1v1h-1zM305 54h1v1h-1zM314 52h1v1h-1zM313 59h1v1h-1zM314 51h1v1h-1zM315 53h1v1h-1zM301 61h1v1h-1zM315 52h1v1h-1zM318 50h1v1h-1zM304 54h1v1h-1zM311 69h1v1h-1zM316 52h1v1h-1zM306 46h1v1h-1zM314 50h1v1h-1zM299 50h1v1h-1zM314 65h1v1h-1zM308 68h1v1h-1zM314 47h1v1h-1zM304 51h1v1h-1zM317 57h1v1h-1zM315 46h1v1h-1zM315 58h1v1h-1zM307 65h1v1h-1zM303 66h1v1h-1zM304 46h1v1h-1zM310 71h1v1h-1zM302 47h1v1h-1zM315 51h1v1h-1zM314 53h1v1h-1zM309 67h1v1h-1zM306 45h1v1h-1zM315 57h1v1h-1zM309 68h1v1h-1zM309 45h1v1h-1zM308 44h1v1h-1zM309 42h1v1h-1zM314 48h1v1h-1zM313 50h1v1h-1zM305 65h1v1h-1zM315 49h1v1h-1zM304 52h1v1h-1zM313 65h1v1h-1zM303 59h1v1h-1zM310 70h1v1h-1zM305 50h1v1h-1zM312 75h1v1h-1zM313 72h1v1h-1zM311 73h1v1h-1zM305 75h1v1h-1zM309 81h1v1h-1zM308 86h1v1h-1zM309 76h1v1h-1zM304 76h1v1h-1zM312 73h1v1h-1zM308 74h1v1h-1zM312 84h1v1h-1zM307 78h1v1h-1zM312 74h1v1h-1zM312 68h1v1h-1zM312 83h1v1h-1zM309 70h1v1h-1zM314 74h1v1h-1zM307 88h1v1h-1zM306 73h1v1h-1zM305 86h1v1h-1zM303 73h1v1h-1zM310 77h1v1h-1zM306 71h1v1h-1zM308 71h1v1h-1zM307 81h1v1h-1zM310 82h1v1h-1zM313 80h1v1h-1zM306 87h1v1h-1zM315 66h1v1h-1zM314 72h1v1h-1zM305 74h1v1h-1zM307 73h1v1h-1zM304 86h1v1h-1zM310 74h1v1h-1zM310 61h1v1h-1zM303 67h1v1h-1zM307 86h1v1h-1zM310 80h1v1h-1zM313 76h1v1h-1zM307 72h1v1h-1zM308 79h1v1h-1zM306 79h1v1h-1zM311 80h1v1h-1zM307 87h1v1h-1zM309 74h1v1h-1zM315 83h1v1h-1zM311 76h1v1h-1zM308 77h1v1h-1zM313 73h1v1h-1zM308 80h1v1h-1zM311 72h1v1h-1zM306 77h1v1h-1zM314 85h1v1h-1zM314 77h1v1h-1zM307 74h1v1h-1zM299 70h1v1h-1zM315 76h1v1h-1zM307 79h1v1h-1zM315 68h1v1h-1zM309 82h1v1h-1zM310 79h1v1h-1zM304 75h1v1h-1zM307 75h1v1h-1zM310 78h1v1h-1zM299 98h1v1h-1zM312 85h1v1h-1zM320 91h1v1h-1zM326 91h1v1h-1zM319 94h1v1h-1zM320 98h1v1h-1zM321 90h1v1h-1zM302 86h1v1h-1zM300 86h1v1h-1zM311 79h1v1h-1zM320 95h1v1h-1zM299 89h1v1h-1zM319 99h1v1h-1zM315 88h1v1h-1zM320 100h1v1h-1zM322 100h1v1h-1zM320 88h1v1h-1zM319 100h1v1h-1zM319 92h1v1h-1zM320 93h1v1h-1zM318 94h1v1h-1zM321 99h1v1h-1zM302 87h1v1h-1zM298 92h1v1h-1zM321 87h1v1h-1zM301 84h1v1h-1zM318 93h1v1h-1zM318 95h1v1h-1zM322 98h1v1h-1zM310 86h1v1h-1zM320 96h1v1h-1zM319 96h1v1h-1zM321 89h1v1h-1zM301 85h1v1h-1zM306 86h1v1h-1zM310 88h1v1h-1zM300 85h1v1h-1zM316 85h1v1h-1zM305 85h1v1h-1zM298 90h1v1h-1zM309 86h1v1h-1zM321 100h1v1h-1zM299 92h1v1h-1zM309 88h1v1h-1zM319 93h1v1h-1zM318 88h1v1h-1zM319 98h1v1h-1zM321 94h1v1h-1zM309 85h1v1h-1zM312 86h1v1h-1zM322 95h1v1h-1zM301 86h1v1h-1zM299 91h1v1h-1zM318 92h1v1h-1zM308 84h1v1h-1zM321 97h1v1h-1zM317 88h1v1h-1zM319 90h1v1h-1zM318 87h1v1h-1zM320 94h1v1h-1zM299 95h1v1h-1zM298 98h1v1h-1zM311 87h1v1h-1zM319 87h1v1h-1zM313 88h1v1h-1zM308 87h1v1h-1zM321 96h1v1h-1zM319 89h1v1h-1zM320 90h1v1h-1zM318 98h1v1h-1zM314 83h1v1h-1zM299 87h1v1h-1zM319 86h1v1h-1zM321 92h1v1h-1zM299 86h1v1h-1zM320 89h1v1h-1zM321 95h1v1h-1zM319 88h1v1h-1zM300 82h1v1h-1zM298 95h1v1h-1zM311 86h1v1h-1zM321 93h1v1h-1zM325 96h1v1h-1zM323 90h1v1h-1zM314 88h1v1h-1zM307 84h1v1h-1zM299 90h1v1h-1zM303 85h1v1h-1zM319 97h1v1h-1zM320 99h1v1h-1zM309 87h1v1h-1zM304 85h1v1h-1zM310 87h1v1h-1zM324 96h1v1h-1zM305 84h1v1h-1zM298 93h1v1h-1zM319 85h1v1h-1zM323 98h1v1h-1zM303 84h1v1h-1zM303 43h1v1h-1zM308 59h1v1h-1zM324 43h1v1h-1zM319 44h1v1h-1zM307 93h1v1h-1zM314 95h1v1h-1zM301 52h1v1h-1zM327 55h1v1h-1zM306 58h1v1h-1zM324 50h1v1h-1zM304 90h1v1h-1zM438 56h1v1h-1zM434 71h1v1h-1zM437 49h1v1h-1zM427 67h1v1h-1zM428 61h1v1h-1zM428 62h1v1h-1zM443 67h1v1h-1zM426 63h1v1h-1zM430 69h1v1h-1zM438 58h1v1h-1zM430 46h1v1h-1zM433 69h1v1h-1zM423 61h1v1h-1zM443 55h1v1h-1zM436 67h1v1h-1zM427 58h1v1h-1zM426 62h1v1h-1zM424 53h1v1h-1zM441 60h1v1h-1zM440 48h1v1h-1zM438 50h1v1h-1zM437 51h1v1h-1zM432 46h1v1h-1zM437 44h1v1h-1zM428 45h1v1h-1zM426 50h1v1h-1zM427 51h1v1h-1zM427 54h1v1h-1zM428 57h1v1h-1zM438 47h1v1h-1zM439 49h1v1h-1zM429 69h1v1h-1zM438 63h1v1h-1zM426 64h1v1h-1zM445 61h1v1h-1zM441 46h1v1h-1zM437 65h1v1h-1zM438 52h1v1h-1zM439 61h1v1h-1zM430 48h1v1h-1zM439 60h1v1h-1zM426 58h1v1h-1zM439 65h1v1h-1zM438 67h1v1h-1zM426 67h1v1h-1zM439 55h1v1h-1zM438 53h1v1h-1zM440 72h1v1h-1zM441 64h1v1h-1zM436 72h1v1h-1zM440 63h1v1h-1zM428 50h1v1h-1zM442 57h1v1h-1zM426 65h1v1h-1zM428 71h1v1h-1zM434 46h1v1h-1zM426 47h1v1h-1zM429 70h1v1h-1zM433 47h1v1h-1zM435 49h1v1h-1zM440 67h1v1h-1zM436 48h1v1h-1zM434 69h1v1h-1zM436 43h1v1h-1zM438 62h1v1h-1zM427 70h1v1h-1zM439 67h1v1h-1zM427 65h1v1h-1zM439 68h1v1h-1zM428 59h1v1h-1zM428 70h1v1h-1zM428 67h1v1h-1zM440 47h1v1h-1zM434 47h1v1h-1zM425 61h1v1h-1zM440 71h1v1h-1zM425 50h1v1h-1zM427 47h1v1h-1zM434 70h1v1h-1zM435 70h1v1h-1zM423 53h1v1h-1zM441 58h1v1h-1zM426 56h1v1h-1zM424 58h1v1h-1zM440 53h1v1h-1zM436 46h1v1h-1zM438 59h1v1h-1zM438 64h1v1h-1zM436 66h1v1h-1zM438 46h1v1h-1zM428 60h1v1h-1zM438 60h1v1h-1zM424 67h1v1h-1zM429 64h1v1h-1zM430 66h1v1h-1zM432 69h1v1h-1zM440 70h1v1h-1zM440 49h1v1h-1zM440 58h1v1h-1zM437 67h1v1h-1zM426 54h1v1h-1zM440 59h1v1h-1zM440 60h1v1h-1zM427 69h1v1h-1zM439 58h1v1h-1zM440 64h1v1h-1zM427 53h1v1h-1zM427 45h1v1h-1zM426 49h1v1h-1zM430 71h1v1h-1zM434 68h1v1h-1zM425 55h1v1h-1zM418 57h1v1h-1zM429 46h1v1h-1zM439 47h1v1h-1zM429 65h1v1h-1zM430 49h1v1h-1zM440 54h1v1h-1zM440 56h1v1h-1zM427 55h1v1h-1zM428 49h1v1h-1zM431 48h1v1h-1zM433 68h1v1h-1zM428 63h1v1h-1zM439 51h1v1h-1zM430 70h1v1h-1zM440 55h1v1h-1zM424 44h1v1h-1zM439 57h1v1h-1zM427 52h1v1h-1zM441 57h1v1h-1zM429 47h1v1h-1zM429 61h1v1h-1zM426 52h1v1h-1zM425 53h1v1h-1zM436 45h1v1h-1zM425 72h1v1h-1zM436 68h1v1h-1zM425 59h1v1h-1zM429 67h1v1h-1zM425 62h1v1h-1zM437 52h1v1h-1zM425 65h1v1h-1zM440 65h1v1h-1zM440 61h1v1h-1zM427 49h1v1h-1zM430 67h1v1h-1zM425 68h1v1h-1zM431 68h1v1h-1zM425 49h1v1h-1zM424 49h1v1h-1zM444 52h1v1h-1zM437 69h1v1h-1zM433 70h1v1h-1zM436 50h1v1h-1zM437 50h1v1h-1zM429 62h1v1h-1zM438 48h1v1h-1zM428 52h1v1h-1zM428 51h1v1h-1zM424 51h1v1h-1zM426 60h1v1h-1zM438 66h1v1h-1zM429 68h1v1h-1zM443 57h1v1h-1zM429 45h1v1h-1zM426 53h1v1h-1zM437 48h1v1h-1zM421 48h1v1h-1zM429 50h1v1h-1zM441 52h1v1h-1zM427 50h1v1h-1zM427 63h1v1h-1zM427 62h1v1h-1zM431 66h1v1h-1zM430 73h1v1h-1zM423 56h1v1h-1zM433 46h1v1h-1zM438 65h1v1h-1zM437 66h1v1h-1zM433 43h1v1h-1zM442 56h1v1h-1zM430 45h1v1h-1zM437 47h1v1h-1zM439 66h1v1h-1zM431 71h1v1h-1zM439 64h1v1h-1zM440 62h1v1h-1zM419 52h1v1h-1zM418 53h1v1h-1zM420 50h1v1h-1zM420 53h1v1h-1zM419 61h1v1h-1zM419 59h1v1h-1zM421 57h1v1h-1zM418 58h1v1h-1zM424 48h1v1h-1zM423 58h1v1h-1zM423 57h1v1h-1zM419 53h1v1h-1zM422 53h1v1h-1zM418 51h1v1h-1zM423 48h1v1h-1zM421 53h1v1h-1zM417 58h1v1h-1zM422 50h1v1h-1zM420 47h1v1h-1zM422 58h1v1h-1zM419 55h1v1h-1zM419 57h1v1h-1zM418 54h1v1h-1zM416 53h1v1h-1zM422 47h1v1h-1zM419 47h1v1h-1zM429 51h1v1h-1zM420 67h1v1h-1zM423 51h1v1h-1zM421 47h1v1h-1zM416 46h1v1h-1zM418 47h1v1h-1zM422 42h1v1h-1zM421 56h1v1h-1zM423 49h1v1h-1zM420 49h1v1h-1zM434 85h1v1h-1zM435 72h1v1h-1zM437 82h1v1h-1zM429 74h1v1h-1zM437 74h1v1h-1zM432 83h1v1h-1zM436 84h1v1h-1zM430 86h1v1h-1zM425 79h1v1h-1zM434 73h1v1h-1zM428 77h1v1h-1zM435 73h1v1h-1zM434 79h1v1h-1zM432 73h1v1h-1zM438 72h1v1h-1zM437 73h1v1h-1zM432 77h1v1h-1zM438 75h1v1h-1zM436 74h1v1h-1zM438 73h1v1h-1zM437 83h1v1h-1zM429 83h1v1h-1zM429 73h1v1h-1zM432 81h1v1h-1zM440 78h1v1h-1zM429 81h1v1h-1zM428 80h1v1h-1zM430 74h1v1h-1zM428 82h1v1h-1zM434 77h1v1h-1zM427 74h1v1h-1zM430 83h1v1h-1zM438 82h1v1h-1zM438 83h1v1h-1zM432 78h1v1h-1zM427 80h1v1h-1zM435 71h1v1h-1zM436 76h1v1h-1zM426 76h1v1h-1zM433 79h1v1h-1zM431 74h1v1h-1zM427 78h1v1h-1zM433 86h1v1h-1zM435 76h1v1h-1zM431 75h1v1h-1zM435 77h1v1h-1zM433 83h1v1h-1zM433 85h1v1h-1zM433 80h1v1h-1zM438 76h1v1h-1zM431 80h1v1h-1zM438 86h1v1h-1zM430 75h1v1h-1zM443 80h1v1h-1zM432 76h1v1h-1zM434 80h1v1h-1zM428 78h1v1h-1zM423 83h1v1h-1zM431 73h1v1h-1zM438 85h1v1h-1zM442 95h1v1h-1zM433 88h1v1h-1zM441 96h1v1h-1zM439 86h1v1h-1zM418 85h1v1h-1zM428 87h1v1h-1zM426 87h1v1h-1zM440 91h1v1h-1zM443 99h1v1h-1zM417 87h1v1h-1zM420 85h1v1h-1zM429 87h1v1h-1zM431 86h1v1h-1zM439 90h1v1h-1zM444 89h1v1h-1zM434 86h1v1h-1zM437 86h1v1h-1zM430 85h1v1h-1zM422 85h1v1h-1zM418 83h1v1h-1zM426 86h1v1h-1zM432 85h1v1h-1zM423 85h1v1h-1zM432 86h1v1h-1zM423 86h1v1h-1zM439 88h1v1h-1zM429 88h1v1h-1zM440 96h1v1h-1zM440 99h1v1h-1zM427 86h1v1h-1zM419 84h1v1h-1zM442 96h1v1h-1zM441 88h1v1h-1zM443 98h1v1h-1zM440 92h1v1h-1zM421 87h1v1h-1zM416 95h1v1h-1zM431 85h1v1h-1zM431 88h1v1h-1zM440 94h1v1h-1zM416 94h1v1h-1zM440 95h1v1h-1zM441 86h1v1h-1zM423 84h1v1h-1zM441 97h1v1h-1zM420 87h1v1h-1zM439 94h1v1h-1zM427 88h1v1h-1zM416 85h1v1h-1zM416 92h1v1h-1zM432 84h1v1h-1zM445 93h1v1h-1zM436 86h1v1h-1zM418 87h1v1h-1zM431 87h1v1h-1zM444 91h1v1h-1zM416 99h1v1h-1zM424 87h1v1h-1zM442 91h1v1h-1zM416 101h1v1h-1zM418 86h1v1h-1zM423 87h1v1h-1zM422 87h1v1h-1zM439 89h1v1h-1zM440 89h1v1h-1zM439 92h1v1h-1zM428 85h1v1h-1zM434 84h1v1h-1zM440 82h1v1h-1zM442 101h1v1h-1zM425 80h1v1h-1zM416 89h1v1h-1zM439 96h1v1h-1zM442 100h1v1h-1zM429 86h1v1h-1zM439 84h1v1h-1zM435 87h1v1h-1zM417 84h1v1h-1zM440 98h1v1h-1zM439 99h1v1h-1zM427 85h1v1h-1zM443 93h1v1h-1zM429 80h1v1h-1zM436 85h1v1h-1zM441 92h1v1h-1zM439 91h1v1h-1zM444 87h1v1h-1zM442 98h1v1h-1zM416 81h1v1h-1zM440 93h1v1h-1zM432 82h1v1h-1zM425 86h1v1h-1zM443 100h1v1h-1zM442 94h1v1h-1zM423 81h1v1h-1zM416 90h1v1h-1zM422 86h1v1h-1zM433 87h1v1h-1zM441 90h1v1h-1zM443 88h1v1h-1zM436 87h1v1h-1zM441 89h1v1h-1zM424 86h1v1h-1zM416 98h1v1h-1zM435 84h1v1h-1zM446 96h1v1h-1zM417 83h1v1h-1zM439 95h1v1h-1zM416 97h1v1h-1zM439 85h1v1h-1zM441 91h1v1h-1zM428 83h1v1h-1zM418 84h1v1h-1zM442 92h1v1h-1zM440 85h1v1h-1zM428 84h1v1h-1zM444 94h1v1h-1zM448 97h1v1h-1zM444 88h1v1h-1zM449 96h1v1h-1zM449 94h1v1h-1zM448 91h1v1h-1zM445 92h1v1h-1zM454 96h1v1h-1zM446 98h1v1h-1zM446 88h1v1h-1zM446 86h1v1h-1zM455 98h1v1h-1zM450 88h1v1h-1zM447 92h1v1h-1zM440 90h1v1h-1zM448 88h1v1h-1zM452 95h1v1h-1zM448 92h1v1h-1zM449 95h1v1h-1zM451 96h1v1h-1zM451 93h1v1h-1zM453 95h1v1h-1zM447 100h1v1h-1zM445 96h1v1h-1zM444 96h1v1h-1zM450 91h1v1h-1zM445 85h1v1h-1zM444 95h1v1h-1zM446 87h1v1h-1zM445 98h1v1h-1zM445 99h1v1h-1zM444 83h1v1h-1zM443 66h1v1h-1zM447 87h1v1h-1zM418 88h1v1h-1zM425 97h1v1h-1zM426 61h1v1h-1zM436 70h1v1h-1zM445 65h1v1h-1zM446 58h1v1h-1zM467 73h1v1h-1zM466 67h1v1h-1zM466 46h1v1h-1zM452 49h1v1h-1zM459 62h1v1h-1zM206 149h1v1h-1zM204 154h1v1h-1zM210 169h1v1h-1zM213 164h1v1h-1zM212 163h1v1h-1zM213 153h1v1h-1zM209 148h1v1h-1zM208 150h1v1h-1zM214 160h1v1h-1zM214 158h1v1h-1zM204 157h1v1h-1zM203 164h1v1h-1zM209 170h1v1h-1zM201 158h1v1h-1zM205 156h1v1h-1zM212 154h1v1h-1zM205 159h1v1h-1zM205 158h1v1h-1zM203 150h1v1h-1zM205 150h1v1h-1zM210 172h1v1h-1zM209 169h1v1h-1zM204 161h1v1h-1zM200 158h1v1h-1zM206 167h1v1h-1zM203 156h1v1h-1zM207 151h1v1h-1zM212 156h1v1h-1zM199 162h1v1h-1zM215 157h1v1h-1zM208 173h1v1h-1zM211 147h1v1h-1zM210 171h1v1h-1zM216 164h1v1h-1zM204 156h1v1h-1zM213 166h1v1h-1zM212 160h1v1h-1zM202 153h1v1h-1zM210 167h1v1h-1zM204 165h1v1h-1zM202 162h1v1h-1zM212 164h1v1h-1zM211 149h1v1h-1zM209 147h1v1h-1zM204 169h1v1h-1zM215 158h1v1h-1zM208 145h1v1h-1zM203 153h1v1h-1zM214 148h1v1h-1zM213 168h1v1h-1zM210 151h1v1h-1zM215 163h1v1h-1zM206 152h1v1h-1zM216 162h1v1h-1zM210 166h1v1h-1zM213 163h1v1h-1zM206 166h1v1h-1zM202 159h1v1h-1zM202 154h1v1h-1zM212 161h1v1h-1zM211 144h1v1h-1zM203 157h1v1h-1zM201 154h1v1h-1zM206 148h1v1h-1zM212 153h1v1h-1zM205 164h1v1h-1zM214 152h1v1h-1zM209 167h1v1h-1zM210 170h1v1h-1zM213 151h1v1h-1zM205 167h1v1h-1zM200 151h1v1h-1zM203 163h1v1h-1zM214 163h1v1h-1zM215 154h1v1h-1zM202 167h1v1h-1zM204 160h1v1h-1zM213 162h1v1h-1zM202 157h1v1h-1zM206 153h1v1h-1zM201 161h1v1h-1zM204 163h1v1h-1zM213 144h1v1h-1zM205 163h1v1h-1zM207 150h1v1h-1zM206 169h1v1h-1zM206 155h1v1h-1zM214 169h1v1h-1zM212 159h1v1h-1zM206 150h1v1h-1zM208 167h1v1h-1zM215 156h1v1h-1zM205 165h1v1h-1zM214 157h1v1h-1zM214 162h1v1h-1zM216 156h1v1h-1zM215 165h1v1h-1zM206 154h1v1h-1zM208 148h1v1h-1zM204 162h1v1h-1zM211 153h1v1h-1zM205 155h1v1h-1zM213 158h1v1h-1zM217 155h1v1h-1zM204 164h1v1h-1zM212 162h1v1h-1zM208 169h1v1h-1zM203 161h1v1h-1zM213 157h1v1h-1zM215 161h1v1h-1zM201 159h1v1h-1zM207 168h1v1h-1zM213 156h1v1h-1zM207 166h1v1h-1zM204 151h1v1h-1zM205 162h1v1h-1zM209 151h1v1h-1zM210 152h1v1h-1zM208 168h1v1h-1zM203 154h1v1h-1zM211 152h1v1h-1zM205 161h1v1h-1zM212 158h1v1h-1zM202 155h1v1h-1zM202 164h1v1h-1zM212 155h1v1h-1zM202 158h1v1h-1zM208 149h1v1h-1zM204 159h1v1h-1zM211 151h1v1h-1zM212 165h1v1h-1zM204 152h1v1h-1zM215 153h1v1h-1zM212 167h1v1h-1zM203 158h1v1h-1zM203 149h1v1h-1zM203 168h1v1h-1zM212 170h1v1h-1zM214 150h1v1h-1zM204 149h1v1h-1zM201 168h1v1h-1zM214 164h1v1h-1zM208 151h1v1h-1zM211 167h1v1h-1zM203 165h1v1h-1zM209 150h1v1h-1zM206 168h1v1h-1zM198 154h1v1h-1zM213 165h1v1h-1zM203 162h1v1h-1zM217 159h1v1h-1zM202 172h1v1h-1zM187 155h1v1h-1zM201 152h1v1h-1zM194 159h1v1h-1zM198 188h1v1h-1zM195 176h1v1h-1zM193 155h1v1h-1zM201 163h1v1h-1zM195 162h1v1h-1zM196 153h1v1h-1zM206 160h1v1h-1zM200 155h1v1h-1zM199 159h1v1h-1zM208 157h1v1h-1zM197 164h1v1h-1zM197 173h1v1h-1zM194 162h1v1h-1zM198 152h1v1h-1zM198 168h1v1h-1zM199 165h1v1h-1zM198 164h1v1h-1zM199 173h1v1h-1zM198 160h1v1h-1zM199 186h1v1h-1zM194 175h1v1h-1zM202 169h1v1h-1zM207 161h1v1h-1zM200 164h1v1h-1zM198 156h1v1h-1zM200 165h1v1h-1zM193 163h1v1h-1zM199 171h1v1h-1zM195 144h1v1h-1zM195 152h1v1h-1zM196 154h1v1h-1zM198 167h1v1h-1zM195 159h1v1h-1zM191 149h1v1h-1zM203 167h1v1h-1zM195 168h1v1h-1zM195 160h1v1h-1zM205 168h1v1h-1zM198 162h1v1h-1zM197 165h1v1h-1zM202 176h1v1h-1zM204 147h1v1h-1zM193 160h1v1h-1zM190 167h1v1h-1zM196 175h1v1h-1zM195 172h1v1h-1zM196 158h1v1h-1zM196 161h1v1h-1zM198 170h1v1h-1zM199 152h1v1h-1zM196 165h1v1h-1zM195 170h1v1h-1zM192 159h1v1h-1zM193 170h1v1h-1zM194 158h1v1h-1zM198 169h1v1h-1zM193 157h1v1h-1zM196 167h1v1h-1zM189 155h1v1h-1zM198 171h1v1h-1zM191 173h1v1h-1zM198 178h1v1h-1zM196 157h1v1h-1zM203 183h1v1h-1zM196 174h1v1h-1zM200 167h1v1h-1zM197 161h1v1h-1zM192 160h1v1h-1zM191 160h1v1h-1zM195 185h1v1h-1zM192 158h1v1h-1zM191 158h1v1h-1zM191 156h1v1h-1zM199 168h1v1h-1zM194 155h1v1h-1zM203 151h1v1h-1zM199 166h1v1h-1zM197 153h1v1h-1zM201 166h1v1h-1zM198 179h1v1h-1zM194 164h1v1h-1zM196 163h1v1h-1zM190 171h1v1h-1zM198 148h1v1h-1zM205 160h1v1h-1zM196 146h1v1h-1zM193 180h1v1h-1zM201 165h1v1h-1zM197 160h1v1h-1zM198 149h1v1h-1zM197 145h1v1h-1zM194 151h1v1h-1zM193 164h1v1h-1zM189 166h1v1h-1zM197 166h1v1h-1zM195 164h1v1h-1zM201 151h1v1h-1zM199 160h1v1h-1zM198 158h1v1h-1zM200 174h1v1h-1zM200 171h1v1h-1zM196 172h1v1h-1zM194 160h1v1h-1zM197 155h1v1h-1zM193 167h1v1h-1zM199 169h1v1h-1zM191 171h1v1h-1zM203 159h1v1h-1zM202 150h1v1h-1zM199 146h1v1h-1zM197 158h1v1h-1zM196 159h1v1h-1zM199 163h1v1h-1zM196 156h1v1h-1zM188 154h1v1h-1zM203 143h1v1h-1zM198 161h1v1h-1zM202 170h1v1h-1zM194 149h1v1h-1zM202 174h1v1h-1zM197 167h1v1h-1zM192 161h1v1h-1zM197 156h1v1h-1zM193 174h1v1h-1zM192 152h1v1h-1zM202 192h1v1h-1zM193 175h1v1h-1zM197 195h1v1h-1zM192 167h1v1h-1zM198 150h1v1h-1zM194 178h1v1h-1zM196 179h1v1h-1zM190 163h1v1h-1zM201 155h1v1h-1zM199 164h1v1h-1zM200 177h1v1h-1zM198 159h1v1h-1zM200 180h1v1h-1zM200 166h1v1h-1zM200 161h1v1h-1zM196 176h1v1h-1zM199 172h1v1h-1zM201 145h1v1h-1zM194 179h1v1h-1zM202 181h1v1h-1zM195 158h1v1h-1zM196 168h1v1h-1zM196 152h1v1h-1zM186 162h1v1h-1zM195 163h1v1h-1zM193 166h1v1h-1zM191 152h1v1h-1zM195 153h1v1h-1zM192 170h1v1h-1zM195 171h1v1h-1zM196 155h1v1h-1zM203 173h1v1h-1zM199 145h1v1h-1zM188 155h1v1h-1zM195 161h1v1h-1zM194 166h1v1h-1zM200 149h1v1h-1zM196 170h1v1h-1zM193 165h1v1h-1zM193 145h1v1h-1zM201 162h1v1h-1zM191 163h1v1h-1zM201 167h1v1h-1zM201 177h1v1h-1zM194 167h1v1h-1zM198 163h1v1h-1zM188 164h1v1h-1zM196 162h1v1h-1zM197 162h1v1h-1zM201 171h1v1h-1zM197 177h1v1h-1zM193 177h1v1h-1zM195 181h1v1h-1zM200 176h1v1h-1zM194 168h1v1h-1zM195 183h1v1h-1zM211 175h1v1h-1zM211 190h1v1h-1zM207 179h1v1h-1zM208 186h1v1h-1zM212 173h1v1h-1zM195 188h1v1h-1zM205 181h1v1h-1zM204 173h1v1h-1zM209 176h1v1h-1zM201 182h1v1h-1zM214 173h1v1h-1zM203 177h1v1h-1zM195 180h1v1h-1zM194 171h1v1h-1zM200 183h1v1h-1zM211 176h1v1h-1zM209 172h1v1h-1zM204 187h1v1h-1zM207 170h1v1h-1zM209 178h1v1h-1zM212 193h1v1h-1zM216 170h1v1h-1zM225 179h1v1h-1zM205 175h1v1h-1zM209 180h1v1h-1zM193 171h1v1h-1zM200 186h1v1h-1zM218 189h1v1h-1zM221 181h1v1h-1zM213 169h1v1h-1zM206 171h1v1h-1zM207 173h1v1h-1zM209 175h1v1h-1zM209 187h1v1h-1zM208 183h1v1h-1zM191 192h1v1h-1zM205 189h1v1h-1zM215 173h1v1h-1zM204 186h1v1h-1zM192 179h1v1h-1zM199 180h1v1h-1zM200 184h1v1h-1zM206 179h1v1h-1zM203 166h1v1h-1zM214 170h1v1h-1zM201 184h1v1h-1zM214 175h1v1h-1zM212 174h1v1h-1zM190 169h1v1h-1zM207 177h1v1h-1zM211 183h1v1h-1zM212 187h1v1h-1zM216 181h1v1h-1zM206 170h1v1h-1zM204 168h1v1h-1zM203 172h1v1h-1zM215 177h1v1h-1zM219 183h1v1h-1zM222 187h1v1h-1zM196 185h1v1h-1zM220 185h1v1h-1zM185 192h1v1h-1zM200 185h1v1h-1zM192 187h1v1h-1zM214 186h1v1h-1zM194 184h1v1h-1zM206 187h1v1h-1zM225 199h1v1h-1zM194 187h1v1h-1zM207 187h1v1h-1zM206 186h1v1h-1zM188 183h1v1h-1zM212 186h1v1h-1zM197 185h1v1h-1zM196 187h1v1h-1zM218 187h1v1h-1zM227 195h1v1h-1zM222 191h1v1h-1zM223 193h1v1h-1zM220 189h1v1h-1zM212 183h1v1h-1zM199 183h1v1h-1zM222 190h1v1h-1zM222 184h1v1h-1zM226 197h1v1h-1zM205 187h1v1h-1zM191 187h1v1h-1zM187 187h1v1h-1zM227 190h1v1h-1zM215 188h1v1h-1zM222 189h1v1h-1zM224 197h1v1h-1zM223 192h1v1h-1zM192 185h1v1h-1zM221 187h1v1h-1zM186 190h1v1h-1zM190 183h1v1h-1zM224 195h1v1h-1zM190 186h1v1h-1zM187 186h1v1h-1zM201 181h1v1h-1zM217 187h1v1h-1zM191 185h1v1h-1zM218 186h1v1h-1zM229 193h1v1h-1zM221 190h1v1h-1zM225 192h1v1h-1zM213 186h1v1h-1zM196 186h1v1h-1zM187 184h1v1h-1zM185 190h1v1h-1zM210 187h1v1h-1zM201 183h1v1h-1zM219 188h1v1h-1zM223 191h1v1h-1zM186 191h1v1h-1zM223 195h1v1h-1zM225 196h1v1h-1zM185 194h1v1h-1zM225 186h1v1h-1zM212 184h1v1h-1zM214 188h1v1h-1zM185 188h1v1h-1zM224 196h1v1h-1zM193 187h1v1h-1zM203 187h1v1h-1zM223 189h1v1h-1zM205 185h1v1h-1zM201 186h1v1h-1zM214 187h1v1h-1zM212 185h1v1h-1zM226 189h1v1h-1zM226 195h1v1h-1zM219 186h1v1h-1zM215 187h1v1h-1zM218 188h1v1h-1zM224 192h1v1h-1zM189 184h1v1h-1zM189 187h1v1h-1zM185 199h1v1h-1zM224 184h1v1h-1zM199 185h1v1h-1zM226 194h1v1h-1zM223 198h1v1h-1zM206 184h1v1h-1zM197 187h1v1h-1zM225 189h1v1h-1zM206 188h1v1h-1zM223 196h1v1h-1zM224 194h1v1h-1zM208 188h1v1h-1zM217 185h1v1h-1zM225 197h1v1h-1zM226 193h1v1h-1zM226 201h1v1h-1zM191 183h1v1h-1zM195 184h1v1h-1zM214 184h1v1h-1zM223 199h1v1h-1zM226 200h1v1h-1zM185 201h1v1h-1zM210 184h1v1h-1zM226 196h1v1h-1zM207 188h1v1h-1zM224 187h1v1h-1zM185 189h1v1h-1zM216 183h1v1h-1zM188 187h1v1h-1zM192 186h1v1h-1zM186 185h1v1h-1zM223 197h1v1h-1zM192 184h1v1h-1zM225 195h1v1h-1zM188 186h1v1h-1zM197 186h1v1h-1zM221 186h1v1h-1zM205 184h1v1h-1zM195 186h1v1h-1zM186 189h1v1h-1zM221 188h1v1h-1zM228 197h1v1h-1zM227 200h1v1h-1zM196 188h1v1h-1zM202 187h1v1h-1zM222 188h1v1h-1zM220 187h1v1h-1zM216 187h1v1h-1zM204 183h1v1h-1zM226 198h1v1h-1zM207 185h1v1h-1zM204 185h1v1h-1zM197 188h1v1h-1zM193 185h1v1h-1zM191 186h1v1h-1zM225 193h1v1h-1zM186 195h1v1h-1zM208 184h1v1h-1zM221 189h1v1h-1zM195 187h1v1h-1zM197 184h1v1h-1zM227 199h1v1h-1zM220 188h1v1h-1zM228 198h1v1h-1zM186 187h1v1h-1zM210 186h1v1h-1zM224 193h1v1h-1zM217 186h1v1h-1zM213 183h1v1h-1zM219 181h1v1h-1zM205 183h1v1h-1zM203 185h1v1h-1zM224 198h1v1h-1zM196 150h1v1h-1zM196 198h1v1h-1zM229 187h1v1h-1zM228 173h1v1h-1zM207 148h1v1h-1zM220 146h1v1h-1zM226 178h1v1h-1zM236 155h1v1h-1zM237 176h1v1h-1zM218 150h1v1h-1zM221 144h1v1h-1zM209 191h1v1h-1zM231 150h1v1h-1zM233 152h1v1h-1zM201 172h1v1h-1zM217 172h1v1h-1zM328 152h1v1h-1zM326 156h1v1h-1zM324 150h1v1h-1zM319 160h1v1h-1zM327 146h1v1h-1zM318 157h1v1h-1zM326 165h1v1h-1zM325 144h1v1h-1zM319 153h1v1h-1zM327 161h1v1h-1zM319 157h1v1h-1zM320 163h1v1h-1zM317 169h1v1h-1zM315 152h1v1h-1zM328 167h1v1h-1zM319 158h1v1h-1zM329 161h1v1h-1zM323 172h1v1h-1zM322 170h1v1h-1zM328 149h1v1h-1zM325 168h1v1h-1zM325 166h1v1h-1zM317 158h1v1h-1zM319 165h1v1h-1zM332 169h1v1h-1zM330 147h1v1h-1zM329 150h1v1h-1zM320 160h1v1h-1zM316 157h1v1h-1zM319 161h1v1h-1zM331 162h1v1h-1zM319 151h1v1h-1zM316 152h1v1h-1zM322 148h1v1h-1zM328 163h1v1h-1zM316 155h1v1h-1zM318 161h1v1h-1zM328 154h1v1h-1zM326 162h1v1h-1zM321 150h1v1h-1zM328 148h1v1h-1zM316 159h1v1h-1zM319 159h1v1h-1zM321 174h1v1h-1zM321 170h1v1h-1zM320 151h1v1h-1zM327 165h1v1h-1zM326 157h1v1h-1zM332 164h1v1h-1zM324 168h1v1h-1zM315 168h1v1h-1zM320 170h1v1h-1zM314 158h1v1h-1zM328 159h1v1h-1zM323 147h1v1h-1zM328 166h1v1h-1zM323 149h1v1h-1zM329 170h1v1h-1zM317 150h1v1h-1zM326 166h1v1h-1zM323 170h1v1h-1zM320 166h1v1h-1zM328 161h1v1h-1zM327 155h1v1h-1zM329 158h1v1h-1zM319 167h1v1h-1zM321 151h1v1h-1zM326 151h1v1h-1zM330 155h1v1h-1zM328 162h1v1h-1zM319 163h1v1h-1zM328 153h1v1h-1zM320 169h1v1h-1zM318 154h1v1h-1zM330 161h1v1h-1zM317 156h1v1h-1zM323 174h1v1h-1zM315 155h1v1h-1zM320 154h1v1h-1zM317 157h1v1h-1zM320 167h1v1h-1zM330 159h1v1h-1zM319 156h1v1h-1zM315 162h1v1h-1zM317 159h1v1h-1zM313 163h1v1h-1zM331 164h1v1h-1zM326 153h1v1h-1zM327 157h1v1h-1zM320 153h1v1h-1zM325 172h1v1h-1zM325 147h1v1h-1zM318 156h1v1h-1zM326 159h1v1h-1zM319 154h1v1h-1zM315 169h1v1h-1zM322 150h1v1h-1zM318 165h1v1h-1zM328 165h1v1h-1zM327 158h1v1h-1zM324 147h1v1h-1zM314 154h1v1h-1zM318 164h1v1h-1zM321 168h1v1h-1zM314 161h1v1h-1zM317 154h1v1h-1zM314 159h1v1h-1zM323 145h1v1h-1zM321 173h1v1h-1zM327 166h1v1h-1zM318 169h1v1h-1zM329 149h1v1h-1zM326 169h1v1h-1zM326 147h1v1h-1zM320 150h1v1h-1zM328 172h1v1h-1zM323 171h1v1h-1zM320 165h1v1h-1zM329 147h1v1h-1zM319 155h1v1h-1zM319 164h1v1h-1zM317 161h1v1h-1zM327 162h1v1h-1zM316 158h1v1h-1zM329 163h1v1h-1zM329 167h1v1h-1zM317 165h1v1h-1zM318 166h1v1h-1zM329 157h1v1h-1zM328 155h1v1h-1zM327 168h1v1h-1zM322 168h1v1h-1zM320 156h1v1h-1zM332 166h1v1h-1zM329 165h1v1h-1zM321 148h1v1h-1zM333 165h1v1h-1zM327 160h1v1h-1zM317 153h1v1h-1zM320 148h1v1h-1zM314 155h1v1h-1zM320 164h1v1h-1zM327 159h1v1h-1zM324 169h1v1h-1zM331 157h1v1h-1zM318 160h1v1h-1zM317 155h1v1h-1zM326 164h1v1h-1zM326 171h1v1h-1zM323 148h1v1h-1zM320 168h1v1h-1zM319 166h1v1h-1zM317 149h1v1h-1zM329 155h1v1h-1zM322 145h1v1h-1zM328 164h1v1h-1zM328 158h1v1h-1zM325 148h1v1h-1zM326 167h1v1h-1zM326 158h1v1h-1zM325 169h1v1h-1zM324 173h1v1h-1zM323 150h1v1h-1zM318 167h1v1h-1zM327 169h1v1h-1zM313 152h1v1h-1zM318 155h1v1h-1zM325 167h1v1h-1zM317 162h1v1h-1zM327 164h1v1h-1zM309 171h1v1h-1zM303 162h1v1h-1zM311 180h1v1h-1zM309 158h1v1h-1zM302 174h1v1h-1zM309 162h1v1h-1zM308 150h1v1h-1zM302 181h1v1h-1zM302 165h1v1h-1zM311 161h1v1h-1zM300 178h1v1h-1zM306 155h1v1h-1zM311 146h1v1h-1zM321 171h1v1h-1zM303 161h1v1h-1zM312 169h1v1h-1zM317 163h1v1h-1zM303 146h1v1h-1zM315 171h1v1h-1zM305 156h1v1h-1zM307 162h1v1h-1zM313 177h1v1h-1zM300 164h1v1h-1zM307 169h1v1h-1zM312 165h1v1h-1zM307 161h1v1h-1zM307 171h1v1h-1zM312 162h1v1h-1zM309 170h1v1h-1zM305 164h1v1h-1zM307 178h1v1h-1zM303 155h1v1h-1zM312 183h1v1h-1zM307 159h1v1h-1zM302 169h1v1h-1zM309 165h1v1h-1zM305 173h1v1h-1zM311 187h1v1h-1zM309 157h1v1h-1zM314 193h1v1h-1zM307 177h1v1h-1zM306 162h1v1h-1zM305 178h1v1h-1zM311 174h1v1h-1zM300 160h1v1h-1zM307 164h1v1h-1zM309 161h1v1h-1zM303 151h1v1h-1zM312 155h1v1h-1zM310 177h1v1h-1zM310 156h1v1h-1zM314 163h1v1h-1zM302 160h1v1h-1zM311 148h1v1h-1zM309 167h1v1h-1zM307 174h1v1h-1zM311 160h1v1h-1zM310 178h1v1h-1zM307 176h1v1h-1zM309 172h1v1h-1zM309 163h1v1h-1zM302 156h1v1h-1zM309 151h1v1h-1zM309 155h1v1h-1zM309 176h1v1h-1zM308 171h1v1h-1zM315 163h1v1h-1zM313 166h1v1h-1zM315 154h1v1h-1zM315 159h1v1h-1zM314 172h1v1h-1zM305 158h1v1h-1zM301 162h1v1h-1zM305 157h1v1h-1zM314 160h1v1h-1zM309 169h1v1h-1zM312 180h1v1h-1zM317 171h1v1h-1zM308 151h1v1h-1zM306 152h1v1h-1zM302 152h1v1h-1zM305 182h1v1h-1zM310 160h1v1h-1zM309 147h1v1h-1zM305 170h1v1h-1zM310 152h1v1h-1zM314 178h1v1h-1zM312 167h1v1h-1zM310 164h1v1h-1zM313 144h1v1h-1zM304 156h1v1h-1zM309 152h1v1h-1zM306 161h1v1h-1zM312 172h1v1h-1zM311 156h1v1h-1zM310 167h1v1h-1zM305 159h1v1h-1zM313 169h1v1h-1zM304 159h1v1h-1zM308 160h1v1h-1zM309 198h1v1h-1zM303 152h1v1h-1zM312 168h1v1h-1zM313 165h1v1h-1zM312 189h1v1h-1zM304 164h1v1h-1zM307 172h1v1h-1zM310 166h1v1h-1zM305 168h1v1h-1zM309 173h1v1h-1zM299 168h1v1h-1zM310 168h1v1h-1zM314 169h1v1h-1zM307 168h1v1h-1zM303 169h1v1h-1zM320 162h1v1h-1zM310 184h1v1h-1zM308 182h1v1h-1zM312 153h1v1h-1zM308 162h1v1h-1zM316 160h1v1h-1zM315 166h1v1h-1zM309 174h1v1h-1zM310 158h1v1h-1zM306 167h1v1h-1zM304 172h1v1h-1zM311 147h1v1h-1zM312 171h1v1h-1zM305 155h1v1h-1zM304 163h1v1h-1zM312 160h1v1h-1zM307 163h1v1h-1zM305 161h1v1h-1zM300 159h1v1h-1zM313 186h1v1h-1zM311 172h1v1h-1zM313 161h1v1h-1zM311 169h1v1h-1zM308 168h1v1h-1zM315 180h1v1h-1zM313 167h1v1h-1zM301 176h1v1h-1zM307 165h1v1h-1zM312 150h1v1h-1zM303 160h1v1h-1zM313 171h1v1h-1zM312 159h1v1h-1zM313 176h1v1h-1zM304 151h1v1h-1zM310 176h1v1h-1zM310 173h1v1h-1zM307 173h1v1h-1zM308 167h1v1h-1zM312 173h1v1h-1zM308 172h1v1h-1zM306 171h1v1h-1zM307 160h1v1h-1zM306 181h1v1h-1zM307 175h1v1h-1zM305 162h1v1h-1zM314 174h1v1h-1zM309 159h1v1h-1zM303 191h1v1h-1zM301 172h1v1h-1zM313 154h1v1h-1zM308 164h1v1h-1zM306 163h1v1h-1zM310 153h1v1h-1zM304 157h1v1h-1zM309 145h1v1h-1zM318 153h1v1h-1zM311 170h1v1h-1zM317 167h1v1h-1zM306 168h1v1h-1zM305 180h1v1h-1zM306 154h1v1h-1zM310 161h1v1h-1zM316 177h1v1h-1zM313 170h1v1h-1zM307 156h1v1h-1zM315 165h1v1h-1zM305 169h1v1h-1zM305 175h1v1h-1zM310 157h1v1h-1zM303 147h1v1h-1zM309 160h1v1h-1zM310 171h1v1h-1zM305 172h1v1h-1zM312 148h1v1h-1zM305 166h1v1h-1zM312 164h1v1h-1zM313 156h1v1h-1zM311 168h1v1h-1zM316 172h1v1h-1zM304 162h1v1h-1zM313 162h1v1h-1zM311 178h1v1h-1zM314 166h1v1h-1zM302 148h1v1h-1zM306 177h1v1h-1zM307 179h1v1h-1zM304 158h1v1h-1zM301 165h1v1h-1zM338 184h1v1h-1zM330 191h1v1h-1zM326 191h1v1h-1zM328 186h1v1h-1zM327 197h1v1h-1zM325 193h1v1h-1zM326 184h1v1h-1zM331 200h1v1h-1zM332 188h1v1h-1zM328 195h1v1h-1zM327 191h1v1h-1zM326 193h1v1h-1zM328 187h1v1h-1zM320 194h1v1h-1zM331 195h1v1h-1zM326 190h1v1h-1zM331 194h1v1h-1zM322 190h1v1h-1zM332 194h1v1h-1zM329 189h1v1h-1zM328 183h1v1h-1zM326 182h1v1h-1zM337 197h1v1h-1zM328 192h1v1h-1zM325 198h1v1h-1zM330 187h1v1h-1zM330 192h1v1h-1zM329 197h1v1h-1zM326 195h1v1h-1zM325 180h1v1h-1zM324 191h1v1h-1zM333 194h1v1h-1zM333 191h1v1h-1zM327 193h1v1h-1zM330 188h1v1h-1zM324 196h1v1h-1zM326 192h1v1h-1zM329 190h1v1h-1zM330 199h1v1h-1zM336 191h1v1h-1zM328 191h1v1h-1zM329 200h1v1h-1zM324 188h1v1h-1zM327 190h1v1h-1zM320 189h1v1h-1zM324 195h1v1h-1zM319 196h1v1h-1zM327 187h1v1h-1zM325 190h1v1h-1zM329 191h1v1h-1zM330 195h1v1h-1zM331 187h1v1h-1zM332 195h1v1h-1zM333 195h1v1h-1zM319 195h1v1h-1zM332 187h1v1h-1zM323 193h1v1h-1zM334 186h1v1h-1zM320 183h1v1h-1zM325 196h1v1h-1zM328 196h1v1h-1zM320 197h1v1h-1zM332 197h1v1h-1zM329 192h1v1h-1zM328 185h1v1h-1zM332 193h1v1h-1zM329 188h1v1h-1zM317 187h1v1h-1zM298 187h1v1h-1zM305 186h1v1h-1zM312 188h1v1h-1zM324 186h1v1h-1zM308 183h1v1h-1zM323 192h1v1h-1zM321 187h1v1h-1zM327 201h1v1h-1zM316 185h1v1h-1zM327 198h1v1h-1zM322 192h1v1h-1zM324 194h1v1h-1zM324 200h1v1h-1zM326 189h1v1h-1zM313 183h1v1h-1zM314 189h1v1h-1zM299 187h1v1h-1zM323 200h1v1h-1zM322 191h1v1h-1zM324 192h1v1h-1zM306 189h1v1h-1zM310 188h1v1h-1zM307 186h1v1h-1zM323 194h1v1h-1zM305 183h1v1h-1zM323 187h1v1h-1zM305 187h1v1h-1zM324 190h1v1h-1zM330 198h1v1h-1zM302 187h1v1h-1zM326 200h1v1h-1zM313 188h1v1h-1zM313 189h1v1h-1zM323 197h1v1h-1zM310 187h1v1h-1zM318 188h1v1h-1zM323 195h1v1h-1zM308 186h1v1h-1zM320 187h1v1h-1zM309 188h1v1h-1zM307 188h1v1h-1zM323 190h1v1h-1zM323 191h1v1h-1zM299 186h1v1h-1zM315 188h1v1h-1zM321 188h1v1h-1zM311 186h1v1h-1zM313 187h1v1h-1zM323 196h1v1h-1zM309 185h1v1h-1zM324 198h1v1h-1zM309 184h1v1h-1zM326 196h1v1h-1zM325 200h1v1h-1zM298 201h1v1h-1zM314 187h1v1h-1zM323 198h1v1h-1zM308 187h1v1h-1zM305 188h1v1h-1zM327 195h1v1h-1zM303 187h1v1h-1zM325 195h1v1h-1zM312 186h1v1h-1zM308 184h1v1h-1zM315 187h1v1h-1zM310 186h1v1h-1zM325 197h1v1h-1zM314 188h1v1h-1zM314 184h1v1h-1zM298 193h1v1h-1zM298 190h1v1h-1zM310 180h1v1h-1zM327 194h1v1h-1zM298 194h1v1h-1zM323 189h1v1h-1zM304 187h1v1h-1zM302 186h1v1h-1zM303 188h1v1h-1zM325 188h1v1h-1zM322 189h1v1h-1zM301 186h1v1h-1zM299 198h1v1h-1zM316 186h1v1h-1zM298 198h1v1h-1zM319 187h1v1h-1zM317 183h1v1h-1zM322 194h1v1h-1zM322 186h1v1h-1zM315 186h1v1h-1zM318 186h1v1h-1zM309 187h1v1h-1zM299 192h1v1h-1zM301 187h1v1h-1zM316 184h1v1h-1zM319 188h1v1h-1zM325 189h1v1h-1zM301 185h1v1h-1zM308 185h1v1h-1zM303 186h1v1h-1zM324 187h1v1h-1zM306 188h1v1h-1zM328 188h1v1h-1zM300 187h1v1h-1zM322 199h1v1h-1zM324 199h1v1h-1zM321 189h1v1h-1zM314 185h1v1h-1zM298 197h1v1h-1zM326 197h1v1h-1zM315 189h1v1h-1zM321 146h1v1h-1zM304 150h1v1h-1zM302 196h1v1h-1zM301 190h1v1h-1zM349 191h1v1h-1zM350 144h1v1h-1zM345 154h1v1h-1zM330 164h1v1h-1zM308 149h1v1h-1zM333 182h1v1h-1zM341 164h1v1h-1zM319 173h1v1h-1zM317 198h1v1h-1zM310 197h1v1h-1zM306 194h1v1h-1zM318 158h1v1h-1zM449 167h1v1h-1zM438 156h1v1h-1zM453 155h1v1h-1zM453 156h1v1h-1zM452 158h1v1h-1zM446 164h1v1h-1zM437 149h1v1h-1zM454 164h1v1h-1zM441 152h1v1h-1zM438 148h1v1h-1zM445 167h1v1h-1zM452 148h1v1h-1zM443 151h1v1h-1zM444 165h1v1h-1zM444 170h1v1h-1zM437 159h1v1h-1zM444 166h1v1h-1zM451 164h1v1h-1zM455 154h1v1h-1zM447 148h1v1h-1zM455 158h1v1h-1zM449 166h1v1h-1zM451 153h1v1h-1zM442 158h1v1h-1zM441 153h1v1h-1zM441 158h1v1h-1zM454 158h1v1h-1zM454 150h1v1h-1zM438 159h1v1h-1zM440 158h1v1h-1zM439 169h1v1h-1zM439 166h1v1h-1zM451 161h1v1h-1zM452 161h1v1h-1zM442 162h1v1h-1zM452 155h1v1h-1zM457 153h1v1h-1zM450 163h1v1h-1zM443 149h1v1h-1zM447 149h1v1h-1zM453 149h1v1h-1zM453 159h1v1h-1zM447 150h1v1h-1zM442 153h1v1h-1zM436 160h1v1h-1zM455 156h1v1h-1zM452 154h1v1h-1zM453 170h1v1h-1zM444 148h1v1h-1zM444 147h1v1h-1zM452 160h1v1h-1zM441 164h1v1h-1zM436 152h1v1h-1zM443 166h1v1h-1zM442 156h1v1h-1zM452 153h1v1h-1zM441 155h1v1h-1zM451 162h1v1h-1zM456 157h1v1h-1zM441 149h1v1h-1zM442 151h1v1h-1zM439 151h1v1h-1zM440 151h1v1h-1zM442 167h1v1h-1zM441 159h1v1h-1zM451 165h1v1h-1zM444 164h1v1h-1zM454 161h1v1h-1zM451 168h1v1h-1zM445 168h1v1h-1zM445 165h1v1h-1zM457 157h1v1h-1zM442 160h1v1h-1zM445 166h1v1h-1zM445 148h1v1h-1zM448 149h1v1h-1zM447 147h1v1h-1zM439 159h1v1h-1zM445 169h1v1h-1zM449 164h1v1h-1zM454 156h1v1h-1zM453 164h1v1h-1zM451 166h1v1h-1zM455 151h1v1h-1zM453 158h1v1h-1zM446 165h1v1h-1zM445 150h1v1h-1zM458 155h1v1h-1zM452 152h1v1h-1zM449 150h1v1h-1zM456 154h1v1h-1zM440 165h1v1h-1zM452 159h1v1h-1zM442 165h1v1h-1zM448 168h1v1h-1zM446 144h1v1h-1zM445 145h1v1h-1zM442 163h1v1h-1zM453 162h1v1h-1zM437 157h1v1h-1zM453 148h1v1h-1zM452 165h1v1h-1zM436 161h1v1h-1zM444 150h1v1h-1zM460 157h1v1h-1zM455 160h1v1h-1zM448 146h1v1h-1zM437 161h1v1h-1zM453 157h1v1h-1zM444 151h1v1h-1zM452 157h1v1h-1zM452 162h1v1h-1zM443 153h1v1h-1zM442 148h1v1h-1zM452 156h1v1h-1zM442 152h1v1h-1zM442 150h1v1h-1zM455 150h1v1h-1zM439 157h1v1h-1zM442 145h1v1h-1zM449 168h1v1h-1zM440 152h1v1h-1zM447 167h1v1h-1zM445 149h1v1h-1zM448 167h1v1h-1zM453 154h1v1h-1zM453 163h1v1h-1zM450 165h1v1h-1zM448 147h1v1h-1zM454 162h1v1h-1zM452 166h1v1h-1zM448 165h1v1h-1zM454 159h1v1h-1zM449 148h1v1h-1zM443 154h1v1h-1zM447 166h1v1h-1zM451 160h1v1h-1zM440 169h1v1h-1zM455 164h1v1h-1zM454 163h1v1h-1zM451 163h1v1h-1zM442 169h1v1h-1zM450 164h1v1h-1zM443 152h1v1h-1zM443 150h1v1h-1zM444 149h1v1h-1zM439 164h1v1h-1zM453 153h1v1h-1zM451 150h1v1h-1zM442 157h1v1h-1zM442 154h1v1h-1zM453 152h1v1h-1zM436 150h1v1h-1zM445 146h1v1h-1zM452 150h1v1h-1zM444 163h1v1h-1zM454 167h1v1h-1zM441 156h1v1h-1zM450 172h1v1h-1zM424 156h1v1h-1zM427 169h1v1h-1zM433 174h1v1h-1zM423 164h1v1h-1zM427 171h1v1h-1zM431 170h1v1h-1zM417 154h1v1h-1zM426 173h1v1h-1zM418 149h1v1h-1zM422 167h1v1h-1zM439 152h1v1h-1zM428 172h1v1h-1zM423 154h1v1h-1zM436 171h1v1h-1zM429 177h1v1h-1zM421 165h1v1h-1zM428 152h1v1h-1zM433 167h1v1h-1zM416 157h1v1h-1zM426 144h1v1h-1zM427 154h1v1h-1zM419 147h1v1h-1zM424 168h1v1h-1zM422 158h1v1h-1zM422 180h1v1h-1zM423 157h1v1h-1zM426 157h1v1h-1zM431 192h1v1h-1zM431 175h1v1h-1zM422 164h1v1h-1zM431 155h1v1h-1zM422 143h1v1h-1zM426 167h1v1h-1zM432 156h1v1h-1zM417 170h1v1h-1zM423 156h1v1h-1zM425 153h1v1h-1zM423 170h1v1h-1zM440 172h1v1h-1zM430 154h1v1h-1zM419 162h1v1h-1zM423 155h1v1h-1zM429 171h1v1h-1zM422 154h1v1h-1zM427 155h1v1h-1zM426 150h1v1h-1zM433 160h1v1h-1zM438 169h1v1h-1zM429 158h1v1h-1zM434 171h1v1h-1zM435 173h1v1h-1zM428 157h1v1h-1zM426 159h1v1h-1zM420 157h1v1h-1zM429 163h1v1h-1zM424 165h1v1h-1zM423 151h1v1h-1zM424 170h1v1h-1zM425 168h1v1h-1zM428 171h1v1h-1zM422 162h1v1h-1zM435 159h1v1h-1zM424 166h1v1h-1zM424 162h1v1h-1zM421 163h1v1h-1zM428 145h1v1h-1zM420 161h1v1h-1zM429 164h1v1h-1zM429 143h1v1h-1zM429 166h1v1h-1zM424 144h1v1h-1zM427 176h1v1h-1zM428 154h1v1h-1zM433 181h1v1h-1zM426 164h1v1h-1zM431 162h1v1h-1zM425 151h1v1h-1zM431 161h1v1h-1zM421 151h1v1h-1zM428 177h1v1h-1zM433 148h1v1h-1zM432 164h1v1h-1zM437 152h1v1h-1zM430 153h1v1h-1zM417 160h1v1h-1zM429 168h1v1h-1zM433 161h1v1h-1zM435 157h1v1h-1zM428 165h1v1h-1zM419 159h1v1h-1zM434 153h1v1h-1zM430 157h1v1h-1zM418 167h1v1h-1zM432 157h1v1h-1zM419 153h1v1h-1zM420 144h1v1h-1zM422 153h1v1h-1zM435 167h1v1h-1zM427 151h1v1h-1zM432 148h1v1h-1zM427 156h1v1h-1zM426 156h1v1h-1zM432 167h1v1h-1zM431 157h1v1h-1zM427 158h1v1h-1zM432 169h1v1h-1zM432 166h1v1h-1zM421 160h1v1h-1zM427 150h1v1h-1zM430 160h1v1h-1zM429 151h1v1h-1zM426 152h1v1h-1zM426 153h1v1h-1zM431 152h1v1h-1zM421 172h1v1h-1zM427 163h1v1h-1zM419 157h1v1h-1zM421 177h1v1h-1zM425 154h1v1h-1zM432 172h1v1h-1zM433 158h1v1h-1zM434 152h1v1h-1zM427 161h1v1h-1zM422 172h1v1h-1zM441 161h1v1h-1zM417 153h1v1h-1zM438 162h1v1h-1zM420 154h1v1h-1zM430 172h1v1h-1zM423 165h1v1h-1zM419 150h1v1h-1zM419 163h1v1h-1zM437 158h1v1h-1zM427 164h1v1h-1zM426 149h1v1h-1zM434 173h1v1h-1zM423 168h1v1h-1zM423 160h1v1h-1zM431 146h1v1h-1zM429 165h1v1h-1zM440 157h1v1h-1zM419 161h1v1h-1zM432 147h1v1h-1zM421 174h1v1h-1zM417 165h1v1h-1zM432 163h1v1h-1zM427 146h1v1h-1zM424 164h1v1h-1zM425 166h1v1h-1zM420 156h1v1h-1zM418 155h1v1h-1zM418 165h1v1h-1zM417 156h1v1h-1zM427 173h1v1h-1zM430 156h1v1h-1zM439 165h1v1h-1zM434 155h1v1h-1zM434 158h1v1h-1zM428 164h1v1h-1zM433 154h1v1h-1zM429 154h1v1h-1zM430 170h1v1h-1zM434 161h1v1h-1zM427 166h1v1h-1zM437 155h1v1h-1zM433 163h1v1h-1zM440 171h1v1h-1zM431 177h1v1h-1zM427 160h1v1h-1zM426 171h1v1h-1zM429 159h1v1h-1zM434 163h1v1h-1zM429 150h1v1h-1zM423 152h1v1h-1zM422 166h1v1h-1zM436 156h1v1h-1zM431 148h1v1h-1zM429 157h1v1h-1zM435 165h1v1h-1zM421 157h1v1h-1zM424 157h1v1h-1zM436 155h1v1h-1zM425 167h1v1h-1zM454 170h1v1h-1zM458 173h1v1h-1zM436 183h1v1h-1zM442 180h1v1h-1zM441 172h1v1h-1zM445 177h1v1h-1zM448 175h1v1h-1zM449 178h1v1h-1zM449 175h1v1h-1zM451 173h1v1h-1zM450 175h1v1h-1zM443 167h1v1h-1zM452 178h1v1h-1zM455 161h1v1h-1zM450 177h1v1h-1zM449 165h1v1h-1zM453 173h1v1h-1zM453 171h1v1h-1zM448 181h1v1h-1zM460 163h1v1h-1zM458 176h1v1h-1zM448 178h1v1h-1zM436 164h1v1h-1zM439 181h1v1h-1zM440 174h1v1h-1zM443 172h1v1h-1zM455 173h1v1h-1zM441 162h1v1h-1zM454 160h1v1h-1zM456 166h1v1h-1zM453 180h1v1h-1zM453 188h1v1h-1zM448 180h1v1h-1zM439 161h1v1h-1zM449 171h1v1h-1zM454 180h1v1h-1zM451 181h1v1h-1zM444 181h1v1h-1zM441 183h1v1h-1zM450 179h1v1h-1zM442 177h1v1h-1zM444 169h1v1h-1zM446 174h1v1h-1zM443 173h1v1h-1zM457 164h1v1h-1zM449 176h1v1h-1zM445 174h1v1h-1zM444 171h1v1h-1zM452 170h1v1h-1zM454 173h1v1h-1zM454 166h1v1h-1zM449 173h1v1h-1zM442 188h1v1h-1zM456 161h1v1h-1zM440 184h1v1h-1zM455 179h1v1h-1zM448 170h1v1h-1zM449 179h1v1h-1zM452 176h1v1h-1zM459 172h1v1h-1zM444 176h1v1h-1zM455 181h1v1h-1zM448 166h1v1h-1zM456 165h1v1h-1zM445 184h1v1h-1zM445 180h1v1h-1zM439 176h1v1h-1zM444 172h1v1h-1zM431 172h1v1h-1zM449 182h1v1h-1zM443 158h1v1h-1zM452 183h1v1h-1zM439 172h1v1h-1zM448 179h1v1h-1zM460 168h1v1h-1zM453 166h1v1h-1zM450 171h1v1h-1zM455 171h1v1h-1zM445 176h1v1h-1zM443 165h1v1h-1zM451 176h1v1h-1zM458 166h1v1h-1zM437 177h1v1h-1zM458 165h1v1h-1zM454 176h1v1h-1zM444 179h1v1h-1zM442 171h1v1h-1zM454 175h1v1h-1zM456 178h1v1h-1zM452 186h1v1h-1zM451 182h1v1h-1zM465 157h1v1h-1zM445 172h1v1h-1zM443 171h1v1h-1zM443 182h1v1h-1zM458 169h1v1h-1zM443 170h1v1h-1zM454 169h1v1h-1zM453 168h1v1h-1zM438 175h1v1h-1zM445 179h1v1h-1zM446 177h1v1h-1zM456 174h1v1h-1zM462 193h1v1h-1zM416 185h1v1h-1zM463 198h1v1h-1zM460 200h1v1h-1zM450 187h1v1h-1zM462 192h1v1h-1zM464 194h1v1h-1zM461 192h1v1h-1zM459 195h1v1h-1zM456 185h1v1h-1zM428 185h1v1h-1zM434 186h1v1h-1zM450 189h1v1h-1zM440 187h1v1h-1zM425 186h1v1h-1zM416 193h1v1h-1zM461 189h1v1h-1zM445 186h1v1h-1zM435 181h1v1h-1zM459 193h1v1h-1zM442 184h1v1h-1zM428 187h1v1h-1zM440 188h1v1h-1zM462 200h1v1h-1zM441 181h1v1h-1zM442 186h1v1h-1zM445 189h1v1h-1zM454 184h1v1h-1zM444 188h1v1h-1zM461 193h1v1h-1zM463 192h1v1h-1zM460 195h1v1h-1zM459 188h1v1h-1zM449 188h1v1h-1zM439 186h1v1h-1zM454 188h1v1h-1zM455 188h1v1h-1zM460 191h1v1h-1zM451 188h1v1h-1zM447 187h1v1h-1zM436 187h1v1h-1zM448 188h1v1h-1zM455 187h1v1h-1zM462 195h1v1h-1zM419 187h1v1h-1zM459 199h1v1h-1zM463 199h1v1h-1zM431 184h1v1h-1zM426 185h1v1h-1zM439 188h1v1h-1zM447 188h1v1h-1zM456 188h1v1h-1zM416 187h1v1h-1zM416 195h1v1h-1zM464 201h1v1h-1zM460 199h1v1h-1zM464 191h1v1h-1zM462 191h1v1h-1zM462 190h1v1h-1zM417 185h1v1h-1zM433 187h1v1h-1zM445 187h1v1h-1zM446 185h1v1h-1zM451 186h1v1h-1zM466 196h1v1h-1zM452 188h1v1h-1zM446 188h1v1h-1zM461 198h1v1h-1zM417 180h1v1h-1zM462 198h1v1h-1zM434 187h1v1h-1zM416 198h1v1h-1zM457 188h1v1h-1zM464 198h1v1h-1zM431 186h1v1h-1zM422 177h1v1h-1zM427 186h1v1h-1zM429 186h1v1h-1zM424 186h1v1h-1zM417 182h1v1h-1zM448 186h1v1h-1zM419 186h1v1h-1zM461 191h1v1h-1zM426 184h1v1h-1zM446 187h1v1h-1zM450 188h1v1h-1zM444 186h1v1h-1zM420 184h1v1h-1zM416 200h1v1h-1zM431 187h1v1h-1zM461 188h1v1h-1zM437 188h1v1h-1zM453 184h1v1h-1zM448 185h1v1h-1zM427 183h1v1h-1zM417 195h1v1h-1zM423 187h1v1h-1zM443 187h1v1h-1zM416 191h1v1h-1zM416 194h1v1h-1zM439 184h1v1h-1zM458 186h1v1h-1zM449 187h1v1h-1zM450 185h1v1h-1zM461 196h1v1h-1zM416 201h1v1h-1zM461 195h1v1h-1zM462 194h1v1h-1zM418 187h1v1h-1zM438 187h1v1h-1zM441 185h1v1h-1zM422 187h1v1h-1zM416 192h1v1h-1zM419 185h1v1h-1zM459 197h1v1h-1zM460 196h1v1h-1zM437 187h1v1h-1zM430 187h1v1h-1zM423 182h1v1h-1zM424 185h1v1h-1zM419 183h1v1h-1zM458 190h1v1h-1zM444 187h1v1h-1zM459 187h1v1h-1zM435 186h1v1h-1zM442 183h1v1h-1zM432 183h1v1h-1zM464 195h1v1h-1zM448 187h1v1h-1zM460 197h1v1h-1zM430 184h1v1h-1zM460 198h1v1h-1zM420 187h1v1h-1zM448 189h1v1h-1zM464 200h1v1h-1zM439 187h1v1h-1zM458 188h1v1h-1zM467 192h1v1h-1zM439 185h1v1h-1zM417 199h1v1h-1zM430 182h1v1h-1zM422 186h1v1h-1zM462 188h1v1h-1zM460 193h1v1h-1zM416 188h1v1h-1zM437 183h1v1h-1zM420 185h1v1h-1zM419 178h1v1h-1zM433 184h1v1h-1zM462 186h1v1h-1zM447 189h1v1h-1zM427 185h1v1h-1zM432 187h1v1h-1zM452 189h1v1h-1zM446 186h1v1h-1zM441 187h1v1h-1zM449 147h1v1h-1zM474 189h1v1h-1zM462 148h1v1h-1zM421 188h1v1h-1zM428 194h1v1h-1zM479 183h1v1h-1zM486 153h1v1h-1zM447 155h1v1h-1zM425 160h1v1h-1zM479 152h1v1h-1zM467 191h1v1h-1zM420 165h1v1h-1zM444 167h1v1h-1zM469 152h1v1h-1zM475 153h1v1h-1zM473 163h1v1h-1zM485 165h1v1h-1zM418 180h1v1h-1zM427 199h1v1h-1zM453 144h1v1h-1zM201 266h1v1h-1zM190 275h1v1h-1zM201 274h1v1h-1zM195 282h1v1h-1zM191 271h1v1h-1zM186 270h1v1h-1zM199 271h1v1h-1zM200 267h1v1h-1zM197 281h1v1h-1zM189 277h1v1h-1zM189 267h1v1h-1zM197 260h1v1h-1zM199 272h1v1h-1zM198 276h1v1h-1zM190 271h1v1h-1zM189 263h1v1h-1zM191 270h1v1h-1zM190 257h1v1h-1zM198 281h1v1h-1zM192 257h1v1h-1zM199 265h1v1h-1zM198 263h1v1h-1zM187 280h1v1h-1zM201 257h1v1h-1zM198 260h1v1h-1zM199 264h1v1h-1zM187 270h1v1h-1zM200 271h1v1h-1zM190 290h1v1h-1zM199 256h1v1h-1zM197 257h1v1h-1zM194 258h1v1h-1zM195 257h1v1h-1zM199 254h1v1h-1zM197 280h1v1h-1zM202 279h1v1h-1zM199 276h1v1h-1zM189 270h1v1h-1zM201 279h1v1h-1zM199 273h1v1h-1zM196 281h1v1h-1zM199 261h1v1h-1zM192 282h1v1h-1zM187 277h1v1h-1zM189 265h1v1h-1zM195 256h1v1h-1zM188 273h1v1h-1zM189 273h1v1h-1zM198 277h1v1h-1zM190 278h1v1h-1zM201 281h1v1h-1zM201 264h1v1h-1zM196 258h1v1h-1zM199 255h1v1h-1zM201 268h1v1h-1zM187 267h1v1h-1zM189 262h1v1h-1zM200 260h1v1h-1zM191 278h1v1h-1zM193 282h1v1h-1zM197 282h1v1h-1zM190 264h1v1h-1zM197 255h1v1h-1zM189 269h1v1h-1zM191 262h1v1h-1zM199 278h1v1h-1zM200 272h1v1h-1zM197 262h1v1h-1zM199 259h1v1h-1zM194 285h1v1h-1zM201 275h1v1h-1zM189 261h1v1h-1zM191 269h1v1h-1zM198 274h1v1h-1zM190 267h1v1h-1zM189 266h1v1h-1zM200 280h1v1h-1zM190 276h1v1h-1zM186 262h1v1h-1zM203 255h1v1h-1zM190 262h1v1h-1zM190 269h1v1h-1zM198 280h1v1h-1zM188 270h1v1h-1zM190 261h1v1h-1zM189 274h1v1h-1zM201 259h1v1h-1zM195 284h1v1h-1zM196 282h1v1h-1zM195 287h1v1h-1zM190 272h1v1h-1zM199 282h1v1h-1zM199 269h1v1h-1zM189 258h1v1h-1zM200 277h1v1h-1zM192 256h1v1h-1zM198 275h1v1h-1zM188 282h1v1h-1zM193 287h1v1h-1zM190 265h1v1h-1zM191 285h1v1h-1zM200 261h1v1h-1zM188 277h1v1h-1zM191 268h1v1h-1zM189 264h1v1h-1zM198 283h1v1h-1zM188 261h1v1h-1zM198 266h1v1h-1zM191 280h1v1h-1zM193 253h1v1h-1zM190 266h1v1h-1zM196 283h1v1h-1zM191 261h1v1h-1zM193 256h1v1h-1zM197 283h1v1h-1zM188 274h1v1h-1zM202 271h1v1h-1zM199 266h1v1h-1zM199 281h1v1h-1zM190 263h1v1h-1zM202 281h1v1h-1zM188 283h1v1h-1zM196 252h1v1h-1zM198 259h1v1h-1zM196 257h1v1h-1zM187 276h1v1h-1zM191 281h1v1h-1zM202 268h1v1h-1zM204 266h1v1h-1zM193 257h1v1h-1zM193 285h1v1h-1zM198 279h1v1h-1zM194 257h1v1h-1zM197 271h1v1h-1zM201 262h1v1h-1zM199 275h1v1h-1zM195 283h1v1h-1zM190 274h1v1h-1zM195 254h1v1h-1zM190 270h1v1h-1zM201 258h1v1h-1zM188 286h1v1h-1zM189 268h1v1h-1zM198 269h1v1h-1zM191 272h1v1h-1zM189 272h1v1h-1zM191 283h1v1h-1zM202 269h1v1h-1zM197 258h1v1h-1zM186 263h1v1h-1zM198 264h1v1h-1zM196 287h1v1h-1zM193 254h1v1h-1zM187 271h1v1h-1zM194 256h1v1h-1zM188 271h1v1h-1zM198 273h1v1h-1zM197 261h1v1h-1zM200 262h1v1h-1zM202 278h1v1h-1zM191 260h1v1h-1zM188 276h1v1h-1zM188 280h1v1h-1zM202 266h1v1h-1zM198 290h1v1h-1zM188 272h1v1h-1zM193 255h1v1h-1zM189 287h1v1h-1zM200 264h1v1h-1zM190 277h1v1h-1zM191 274h1v1h-1zM189 259h1v1h-1zM189 260h1v1h-1zM190 260h1v1h-1zM200 265h1v1h-1zM190 286h1v1h-1zM196 284h1v1h-1zM186 267h1v1h-1zM198 271h1v1h-1zM189 276h1v1h-1zM200 269h1v1h-1zM194 251h1v1h-1zM191 253h1v1h-1zM194 284h1v1h-1zM210 277h1v1h-1zM205 281h1v1h-1zM213 263h1v1h-1zM209 266h1v1h-1zM203 273h1v1h-1zM208 267h1v1h-1zM216 272h1v1h-1zM210 272h1v1h-1zM217 285h1v1h-1zM210 276h1v1h-1zM204 264h1v1h-1zM211 254h1v1h-1zM203 274h1v1h-1zM213 274h1v1h-1zM215 264h1v1h-1zM219 271h1v1h-1zM206 262h1v1h-1zM208 278h1v1h-1zM211 271h1v1h-1zM202 274h1v1h-1zM207 282h1v1h-1zM210 270h1v1h-1zM217 259h1v1h-1zM207 276h1v1h-1zM206 281h1v1h-1zM214 278h1v1h-1zM214 296h1v1h-1zM221 279h1v1h-1zM218 262h1v1h-1zM221 272h1v1h-1zM213 268h1v1h-1zM206 265h1v1h-1zM212 266h1v1h-1zM214 280h1v1h-1zM211 259h1v1h-1zM215 266h1v1h-1zM207 285h1v1h-1zM212 279h1v1h-1zM207 266h1v1h-1zM215 263h1v1h-1zM202 265h1v1h-1zM212 292h1v1h-1zM209 272h1v1h-1zM213 275h1v1h-1zM206 277h1v1h-1zM209 259h1v1h-1zM215 297h1v1h-1zM216 280h1v1h-1zM211 276h1v1h-1zM215 275h1v1h-1zM215 282h1v1h-1zM206 257h1v1h-1zM205 298h1v1h-1zM207 279h1v1h-1zM206 283h1v1h-1zM224 257h1v1h-1zM205 257h1v1h-1zM204 260h1v1h-1zM208 282h1v1h-1zM207 269h1v1h-1zM211 274h1v1h-1zM217 256h1v1h-1zM221 265h1v1h-1zM219 282h1v1h-1zM205 253h1v1h-1zM211 277h1v1h-1zM196 265h1v1h-1zM218 267h1v1h-1zM208 270h1v1h-1zM209 261h1v1h-1zM203 271h1v1h-1zM205 266h1v1h-1zM210 289h1v1h-1zM213 266h1v1h-1zM218 289h1v1h-1zM206 263h1v1h-1zM207 287h1v1h-1zM203 264h1v1h-1zM215 281h1v1h-1zM225 269h1v1h-1zM213 264h1v1h-1zM212 267h1v1h-1zM218 278h1v1h-1zM204 276h1v1h-1zM205 280h1v1h-1zM218 274h1v1h-1zM215 278h1v1h-1zM215 270h1v1h-1zM201 270h1v1h-1zM221 269h1v1h-1zM198 272h1v1h-1zM213 270h1v1h-1zM215 288h1v1h-1zM210 254h1v1h-1zM212 274h1v1h-1zM214 273h1v1h-1zM212 281h1v1h-1zM206 288h1v1h-1zM214 274h1v1h-1zM215 280h1v1h-1zM217 269h1v1h-1zM210 283h1v1h-1zM212 260h1v1h-1zM216 264h1v1h-1zM221 284h1v1h-1zM208 280h1v1h-1zM201 265h1v1h-1zM216 267h1v1h-1zM214 266h1v1h-1zM212 284h1v1h-1zM209 258h1v1h-1zM212 264h1v1h-1zM213 271h1v1h-1zM215 277h1v1h-1zM215 274h1v1h-1zM206 279h1v1h-1zM210 273h1v1h-1zM216 298h1v1h-1zM211 273h1v1h-1zM206 271h1v1h-1zM206 274h1v1h-1zM214 270h1v1h-1zM209 275h1v1h-1zM225 294h1v1h-1zM206 276h1v1h-1zM203 267h1v1h-1zM213 251h1v1h-1zM209 253h1v1h-1zM205 267h1v1h-1zM217 280h1v1h-1zM209 276h1v1h-1zM209 263h1v1h-1zM202 277h1v1h-1zM207 259h1v1h-1zM216 277h1v1h-1zM212 258h1v1h-1zM204 263h1v1h-1zM214 261h1v1h-1zM215 256h1v1h-1zM217 261h1v1h-1zM209 265h1v1h-1zM208 272h1v1h-1zM212 275h1v1h-1zM215 283h1v1h-1zM216 268h1v1h-1zM209 264h1v1h-1zM204 283h1v1h-1zM215 268h1v1h-1zM219 268h1v1h-1zM215 284h1v1h-1zM206 261h1v1h-1zM218 266h1v1h-1zM207 273h1v1h-1zM211 280h1v1h-1zM220 284h1v1h-1zM207 271h1v1h-1zM207 264h1v1h-1zM207 304h1v1h-1zM208 305h1v1h-1zM213 305h1v1h-1zM206 303h1v1h-1zM212 301h1v1h-1zM211 301h1v1h-1zM221 299h1v1h-1zM213 300h1v1h-1zM207 299h1v1h-1zM218 290h1v1h-1zM224 299h1v1h-1zM224 303h1v1h-1zM206 295h1v1h-1zM220 302h1v1h-1zM210 298h1v1h-1zM223 299h1v1h-1zM215 302h1v1h-1zM209 296h1v1h-1zM211 302h1v1h-1zM216 302h1v1h-1zM206 307h1v1h-1zM208 296h1v1h-1zM215 296h1v1h-1zM207 300h1v1h-1zM215 295h1v1h-1zM224 306h1v1h-1zM209 297h1v1h-1zM222 305h1v1h-1zM203 306h1v1h-1zM209 300h1v1h-1zM214 302h1v1h-1zM210 300h1v1h-1zM228 302h1v1h-1zM218 299h1v1h-1zM215 299h1v1h-1zM204 303h1v1h-1zM203 298h1v1h-1zM210 303h1v1h-1zM206 302h1v1h-1zM211 299h1v1h-1zM208 301h1v1h-1zM206 298h1v1h-1zM217 304h1v1h-1zM216 307h1v1h-1zM205 300h1v1h-1zM218 300h1v1h-1zM215 301h1v1h-1zM214 298h1v1h-1zM207 301h1v1h-1zM215 305h1v1h-1zM211 303h1v1h-1zM220 295h1v1h-1zM208 304h1v1h-1zM214 305h1v1h-1zM219 304h1v1h-1zM206 300h1v1h-1zM201 304h1v1h-1zM196 300h1v1h-1zM216 299h1v1h-1zM210 302h1v1h-1zM217 298h1v1h-1zM204 295h1v1h-1zM220 297h1v1h-1zM206 306h1v1h-1zM216 293h1v1h-1zM213 303h1v1h-1zM219 299h1v1h-1zM217 300h1v1h-1zM211 295h1v1h-1zM216 301h1v1h-1zM199 301h1v1h-1zM210 295h1v1h-1zM207 298h1v1h-1zM203 303h1v1h-1zM206 293h1v1h-1zM202 303h1v1h-1zM213 306h1v1h-1zM206 304h1v1h-1zM217 296h1v1h-1zM214 297h1v1h-1zM208 299h1v1h-1zM215 294h1v1h-1zM214 303h1v1h-1zM207 307h1v1h-1zM214 299h1v1h-1zM216 300h1v1h-1zM212 302h1v1h-1zM220 298h1v1h-1zM214 300h1v1h-1zM196 298h1v1h-1zM219 303h1v1h-1zM203 296h1v1h-1zM219 300h1v1h-1zM204 300h1v1h-1zM212 303h1v1h-1zM217 303h1v1h-1zM215 304h1v1h-1zM210 305h1v1h-1zM211 294h1v1h-1zM214 293h1v1h-1zM214 304h1v1h-1zM210 293h1v1h-1zM219 296h1v1h-1zM211 304h1v1h-1zM211 305h1v1h-1zM213 298h1v1h-1zM210 296h1v1h-1zM210 297h1v1h-1zM207 306h1v1h-1zM208 306h1v1h-1zM206 301h1v1h-1zM218 304h1v1h-1zM205 303h1v1h-1zM233 302h1v1h-1zM249 293h1v1h-1zM221 305h1v1h-1zM225 306h1v1h-1zM248 304h1v1h-1zM238 302h1v1h-1zM231 300h1v1h-1zM225 305h1v1h-1zM253 294h1v1h-1zM257 299h1v1h-1zM232 297h1v1h-1zM229 293h1v1h-1zM242 300h1v1h-1zM221 298h1v1h-1zM243 299h1v1h-1zM255 304h1v1h-1zM248 293h1v1h-1zM239 295h1v1h-1zM245 299h1v1h-1zM235 298h1v1h-1zM229 300h1v1h-1zM238 294h1v1h-1zM242 301h1v1h-1zM242 304h1v1h-1zM231 303h1v1h-1zM255 298h1v1h-1zM233 292h1v1h-1zM234 303h1v1h-1zM228 301h1v1h-1zM227 302h1v1h-1zM232 307h1v1h-1zM242 302h1v1h-1zM233 300h1v1h-1zM250 296h1v1h-1zM239 297h1v1h-1zM202 293h1v1h-1zM205 296h1v1h-1zM207 305h1v1h-1zM209 304h1v1h-1zM204 302h1v1h-1zM201 294h1v1h-1zM196 291h1v1h-1zM193 293h1v1h-1zM200 294h1v1h-1zM204 298h1v1h-1zM197 294h1v1h-1zM199 293h1v1h-1zM192 294h1v1h-1zM187 289h1v1h-1zM192 293h1v1h-1zM200 293h1v1h-1zM194 291h1v1h-1zM185 295h1v1h-1zM189 292h1v1h-1zM186 291h1v1h-1zM203 295h1v1h-1zM200 290h1v1h-1zM188 293h1v1h-1zM208 298h1v1h-1zM195 293h1v1h-1zM211 293h1v1h-1zM202 295h1v1h-1zM185 303h1v1h-1zM204 296h1v1h-1zM199 291h1v1h-1zM205 301h1v1h-1zM205 295h1v1h-1zM203 292h1v1h-1zM197 307h1v1h-1zM208 302h1v1h-1zM208 295h1v1h-1zM188 292h1v1h-1zM184 302h1v1h-1zM208 297h1v1h-1zM203 291h1v1h-1zM186 293h1v1h-1zM185 291h1v1h-1zM198 293h1v1h-1zM195 292h1v1h-1zM203 293h1v1h-1zM206 299h1v1h-1zM207 290h1v1h-1zM201 295h1v1h-1zM199 294h1v1h-1zM197 292h1v1h-1zM205 304h1v1h-1zM193 290h1v1h-1zM192 290h1v1h-1zM209 298h1v1h-1zM207 296h1v1h-1zM205 306h1v1h-1zM193 289h1v1h-1zM196 288h1v1h-1zM204 293h1v1h-1zM209 306h1v1h-1zM185 298h1v1h-1zM207 302h1v1h-1zM209 301h1v1h-1zM203 297h1v1h-1zM191 293h1v1h-1zM186 292h1v1h-1zM196 293h1v1h-1zM184 296h1v1h-1zM190 292h1v1h-1zM197 290h1v1h-1zM190 294h1v1h-1zM192 292h1v1h-1zM205 299h1v1h-1zM206 296h1v1h-1zM185 301h1v1h-1zM190 289h1v1h-1zM207 291h1v1h-1zM190 291h1v1h-1zM189 293h1v1h-1zM204 294h1v1h-1zM196 292h1v1h-1zM191 290h1v1h-1zM210 301h1v1h-1zM185 297h1v1h-1zM205 297h1v1h-1zM194 290h1v1h-1zM313 270h1v1h-1zM305 261h1v1h-1zM311 268h1v1h-1zM311 270h1v1h-1zM308 279h1v1h-1zM302 266h1v1h-1zM305 273h1v1h-1zM307 280h1v1h-1zM314 274h1v1h-1zM314 265h1v1h-1zM310 280h1v1h-1zM311 259h1v1h-1zM312 265h1v1h-1zM314 275h1v1h-1zM311 264h1v1h-1zM306 280h1v1h-1zM315 264h1v1h-1zM303 265h1v1h-1zM304 277h1v1h-1zM309 252h1v1h-1zM309 281h1v1h-1zM310 277h1v1h-1zM308 283h1v1h-1zM303 272h1v1h-1zM306 257h1v1h-1zM304 268h1v1h-1zM312 262h1v1h-1zM306 281h1v1h-1zM313 267h1v1h-1zM313 257h1v1h-1zM307 279h1v1h-1zM310 275h1v1h-1zM305 267h1v1h-1zM311 261h1v1h-1zM311 273h1v1h-1zM309 257h1v1h-1zM305 279h1v1h-1zM305 272h1v1h-1zM311 263h1v1h-1zM301 261h1v1h-1zM303 268h1v1h-1zM307 258h1v1h-1zM309 255h1v1h-1zM300 274h1v1h-1zM308 254h1v1h-1zM313 274h1v1h-1zM307 281h1v1h-1zM312 271h1v1h-1zM303 259h1v1h-1zM310 284h1v1h-1zM308 280h1v1h-1zM305 274h1v1h-1zM303 276h1v1h-1zM315 272h1v1h-1zM313 276h1v1h-1zM309 279h1v1h-1zM312 268h1v1h-1zM311 260h1v1h-1zM312 272h1v1h-1zM304 259h1v1h-1zM312 274h1v1h-1zM305 277h1v1h-1zM305 262h1v1h-1zM313 273h1v1h-1zM304 262h1v1h-1zM311 256h1v1h-1zM311 265h1v1h-1zM312 278h1v1h-1zM300 262h1v1h-1zM312 267h1v1h-1zM313 272h1v1h-1zM306 269h1v1h-1zM305 275h1v1h-1zM311 262h1v1h-1zM304 270h1v1h-1zM304 273h1v1h-1zM303 260h1v1h-1zM315 263h1v1h-1zM303 261h1v1h-1zM312 275h1v1h-1zM305 281h1v1h-1zM312 266h1v1h-1zM309 283h1v1h-1zM307 255h1v1h-1zM306 283h1v1h-1zM311 257h1v1h-1zM302 267h1v1h-1zM309 256h1v1h-1zM302 259h1v1h-1zM304 266h1v1h-1zM313 278h1v1h-1zM313 280h1v1h-1zM311 274h1v1h-1zM312 260h1v1h-1zM306 268h1v1h-1zM306 256h1v1h-1zM304 265h1v1h-1zM305 278h1v1h-1zM312 258h1v1h-1zM301 278h1v1h-1zM313 260h1v1h-1zM308 256h1v1h-1zM302 270h1v1h-1zM311 271h1v1h-1zM305 264h1v1h-1zM308 281h1v1h-1zM311 276h1v1h-1zM304 261h1v1h-1zM305 268h1v1h-1zM305 259h1v1h-1zM314 257h1v1h-1zM310 270h1v1h-1zM301 257h1v1h-1zM313 266h1v1h-1zM305 263h1v1h-1zM307 256h1v1h-1zM304 276h1v1h-1zM313 275h1v1h-1zM304 258h1v1h-1zM312 255h1v1h-1zM302 268h1v1h-1zM305 266h1v1h-1zM303 258h1v1h-1zM305 265h1v1h-1zM313 271h1v1h-1zM302 258h1v1h-1zM307 252h1v1h-1zM305 276h1v1h-1zM304 272h1v1h-1zM311 267h1v1h-1zM305 271h1v1h-1zM304 275h1v1h-1zM309 278h1v1h-1zM315 276h1v1h-1zM311 266h1v1h-1zM304 264h1v1h-1zM306 275h1v1h-1zM312 259h1v1h-1zM305 269h1v1h-1zM302 275h1v1h-1zM304 267h1v1h-1zM312 273h1v1h-1zM303 267h1v1h-1zM308 257h1v1h-1zM305 260h1v1h-1zM311 255h1v1h-1zM299 266h1v1h-1zM306 267h1v1h-1zM302 273h1v1h-1zM314 261h1v1h-1zM314 268h1v1h-1zM303 271h1v1h-1zM311 284h1v1h-1zM315 282h1v1h-1zM303 280h1v1h-1zM303 283h1v1h-1zM306 290h1v1h-1zM313 287h1v1h-1zM313 277h1v1h-1zM311 288h1v1h-1zM304 278h1v1h-1zM306 278h1v1h-1zM314 289h1v1h-1zM311 275h1v1h-1zM316 277h1v1h-1zM311 279h1v1h-1zM311 285h1v1h-1zM306 271h1v1h-1zM310 278h1v1h-1zM307 284h1v1h-1zM302 280h1v1h-1zM299 289h1v1h-1zM304 279h1v1h-1zM301 287h1v1h-1zM312 292h1v1h-1zM310 288h1v1h-1zM315 277h1v1h-1zM314 281h1v1h-1zM309 275h1v1h-1zM312 286h1v1h-1zM310 285h1v1h-1zM308 286h1v1h-1zM312 285h1v1h-1zM310 289h1v1h-1zM316 279h1v1h-1zM310 283h1v1h-1zM308 275h1v1h-1zM306 285h1v1h-1zM309 282h1v1h-1zM308 282h1v1h-1zM307 289h1v1h-1zM307 282h1v1h-1zM311 282h1v1h-1zM306 279h1v1h-1zM302 277h1v1h-1zM323 269h1v1h-1zM320 272h1v1h-1zM322 279h1v1h-1zM320 281h1v1h-1zM321 271h1v1h-1zM330 279h1v1h-1zM324 258h1v1h-1zM327 284h1v1h-1zM321 262h1v1h-1zM320 259h1v1h-1zM327 270h1v1h-1zM320 265h1v1h-1zM318 268h1v1h-1zM322 274h1v1h-1zM315 273h1v1h-1zM316 270h1v1h-1zM319 277h1v1h-1zM329 276h1v1h-1zM332 274h1v1h-1zM326 263h1v1h-1zM323 281h1v1h-1zM320 278h1v1h-1zM323 268h1v1h-1zM328 268h1v1h-1zM323 274h1v1h-1zM328 276h1v1h-1zM327 273h1v1h-1zM327 268h1v1h-1zM330 264h1v1h-1zM324 271h1v1h-1zM326 282h1v1h-1zM317 274h1v1h-1zM328 265h1v1h-1zM332 262h1v1h-1zM338 270h1v1h-1zM322 283h1v1h-1zM331 258h1v1h-1zM328 277h1v1h-1zM317 273h1v1h-1zM324 270h1v1h-1zM314 272h1v1h-1zM320 279h1v1h-1zM326 268h1v1h-1zM329 285h1v1h-1zM327 278h1v1h-1zM319 253h1v1h-1zM326 262h1v1h-1zM321 273h1v1h-1zM324 281h1v1h-1zM309 280h1v1h-1zM317 284h1v1h-1zM315 260h1v1h-1zM329 251h1v1h-1zM321 277h1v1h-1zM321 272h1v1h-1zM325 262h1v1h-1zM317 263h1v1h-1zM329 266h1v1h-1zM319 284h1v1h-1zM328 278h1v1h-1zM322 275h1v1h-1zM330 274h1v1h-1zM329 277h1v1h-1zM326 278h1v1h-1zM319 275h1v1h-1zM322 272h1v1h-1zM336 276h1v1h-1zM323 276h1v1h-1zM316 264h1v1h-1zM324 269h1v1h-1zM315 269h1v1h-1zM324 257h1v1h-1zM318 258h1v1h-1zM326 260h1v1h-1zM330 262h1v1h-1zM320 268h1v1h-1zM331 275h1v1h-1zM324 267h1v1h-1zM326 264h1v1h-1zM318 289h1v1h-1zM325 264h1v1h-1zM325 255h1v1h-1zM319 266h1v1h-1zM322 277h1v1h-1zM322 252h1v1h-1zM320 274h1v1h-1zM330 259h1v1h-1zM323 270h1v1h-1zM324 261h1v1h-1zM318 263h1v1h-1zM330 272h1v1h-1zM328 263h1v1h-1zM318 274h1v1h-1zM334 275h1v1h-1zM323 265h1v1h-1zM313 283h1v1h-1zM318 261h1v1h-1zM326 274h1v1h-1zM329 284h1v1h-1zM322 276h1v1h-1zM315 284h1v1h-1zM323 286h1v1h-1zM320 252h1v1h-1zM321 279h1v1h-1zM324 264h1v1h-1zM324 259h1v1h-1zM319 279h1v1h-1zM318 264h1v1h-1zM322 281h1v1h-1zM325 256h1v1h-1zM317 275h1v1h-1zM323 273h1v1h-1zM329 269h1v1h-1zM325 277h1v1h-1zM315 265h1v1h-1zM329 273h1v1h-1zM316 268h1v1h-1zM319 265h1v1h-1zM324 285h1v1h-1zM322 286h1v1h-1zM327 262h1v1h-1zM317 252h1v1h-1zM325 279h1v1h-1zM329 278h1v1h-1zM319 267h1v1h-1zM336 250h1v1h-1zM317 277h1v1h-1zM316 285h1v1h-1zM320 262h1v1h-1zM318 284h1v1h-1zM317 270h1v1h-1zM333 269h1v1h-1zM322 265h1v1h-1zM314 252h1v1h-1zM318 299h1v1h-1zM336 306h1v1h-1zM327 297h1v1h-1zM298 305h1v1h-1zM330 294h1v1h-1zM306 293h1v1h-1zM317 296h1v1h-1zM333 307h1v1h-1zM315 295h1v1h-1zM334 301h1v1h-1zM299 292h1v1h-1zM335 304h1v1h-1zM331 297h1v1h-1zM298 301h1v1h-1zM333 299h1v1h-1zM321 294h1v1h-1zM307 292h1v1h-1zM309 293h1v1h-1zM334 298h1v1h-1zM309 290h1v1h-1zM333 298h1v1h-1zM318 298h1v1h-1zM311 292h1v1h-1zM303 293h1v1h-1zM306 292h1v1h-1zM333 306h1v1h-1zM299 301h1v1h-1zM335 306h1v1h-1zM335 307h1v1h-1zM321 296h1v1h-1zM317 295h1v1h-1zM326 294h1v1h-1zM310 292h1v1h-1zM339 307h1v1h-1zM308 292h1v1h-1zM321 297h1v1h-1zM338 301h1v1h-1zM324 297h1v1h-1zM298 298h1v1h-1zM311 293h1v1h-1zM317 298h1v1h-1zM301 291h1v1h-1zM320 299h1v1h-1zM318 294h1v1h-1zM313 293h1v1h-1zM314 293h1v1h-1zM318 296h1v1h-1zM309 292h1v1h-1zM319 297h1v1h-1zM304 292h1v1h-1zM321 298h1v1h-1zM329 298h1v1h-1zM332 296h1v1h-1zM299 302h1v1h-1zM312 293h1v1h-1zM316 299h1v1h-1zM302 292h1v1h-1zM331 299h1v1h-1zM333 301h1v1h-1zM333 302h1v1h-1zM311 289h1v1h-1zM316 295h1v1h-1zM322 297h1v1h-1zM299 297h1v1h-1zM320 297h1v1h-1zM305 293h1v1h-1zM326 296h1v1h-1zM301 293h1v1h-1zM302 291h1v1h-1zM336 302h1v1h-1zM327 298h1v1h-1zM299 294h1v1h-1zM334 305h1v1h-1zM321 295h1v1h-1zM323 297h1v1h-1zM298 295h1v1h-1zM300 290h1v1h-1zM298 304h1v1h-1zM313 294h1v1h-1zM336 298h1v1h-1zM299 293h1v1h-1zM299 299h1v1h-1zM324 291h1v1h-1zM300 292h1v1h-1zM313 292h1v1h-1zM331 293h1v1h-1zM298 294h1v1h-1zM336 305h1v1h-1zM329 297h1v1h-1zM299 300h1v1h-1zM335 302h1v1h-1zM319 295h1v1h-1zM319 298h1v1h-1zM333 303h1v1h-1zM299 306h1v1h-1zM333 305h1v1h-1zM333 296h1v1h-1zM336 300h1v1h-1zM310 293h1v1h-1zM313 289h1v1h-1zM315 294h1v1h-1zM334 302h1v1h-1zM323 296h1v1h-1zM303 291h1v1h-1zM334 303h1v1h-1zM298 291h1v1h-1zM314 294h1v1h-1zM298 299h1v1h-1zM332 295h1v1h-1zM337 303h1v1h-1zM320 298h1v1h-1zM332 299h1v1h-1zM325 297h1v1h-1zM339 303h1v1h-1zM298 300h1v1h-1zM330 296h1v1h-1zM318 297h1v1h-1zM336 307h1v1h-1zM317 299h1v1h-1zM314 295h1v1h-1zM310 286h1v1h-1zM332 298h1v1h-1zM317 297h1v1h-1zM336 293h1v1h-1zM337 299h1v1h-1zM362 307h1v1h-1zM349 293h1v1h-1zM340 296h1v1h-1zM339 296h1v1h-1zM365 306h1v1h-1zM364 299h1v1h-1zM354 304h1v1h-1zM338 306h1v1h-1zM359 296h1v1h-1zM369 295h1v1h-1zM344 296h1v1h-1zM348 294h1v1h-1zM338 305h1v1h-1zM365 295h1v1h-1zM345 304h1v1h-1zM365 301h1v1h-1zM363 304h1v1h-1zM370 294h1v1h-1zM428 282h1v1h-1zM421 268h1v1h-1zM440 267h1v1h-1zM420 273h1v1h-1zM429 284h1v1h-1zM437 272h1v1h-1zM435 259h1v1h-1zM423 271h1v1h-1zM438 267h1v1h-1zM423 264h1v1h-1zM435 283h1v1h-1zM436 255h1v1h-1zM439 264h1v1h-1zM432 284h1v1h-1zM438 268h1v1h-1zM438 256h1v1h-1zM442 267h1v1h-1zM436 278h1v1h-1zM421 278h1v1h-1zM422 284h1v1h-1zM433 259h1v1h-1zM432 256h1v1h-1zM421 274h1v1h-1zM434 288h1v1h-1zM437 280h1v1h-1zM433 287h1v1h-1zM439 282h1v1h-1zM417 263h1v1h-1zM429 253h1v1h-1zM420 264h1v1h-1zM424 274h1v1h-1zM437 262h1v1h-1zM431 284h1v1h-1zM438 266h1v1h-1zM439 273h1v1h-1zM433 283h1v1h-1zM424 267h1v1h-1zM423 268h1v1h-1zM437 278h1v1h-1zM430 258h1v1h-1zM439 262h1v1h-1zM438 260h1v1h-1zM424 281h1v1h-1zM435 256h1v1h-1zM431 255h1v1h-1zM424 269h1v1h-1zM423 265h1v1h-1zM436 273h1v1h-1zM422 270h1v1h-1zM424 263h1v1h-1zM437 263h1v1h-1zM425 277h1v1h-1zM425 270h1v1h-1zM436 284h1v1h-1zM424 264h1v1h-1zM435 280h1v1h-1zM437 281h1v1h-1zM439 260h1v1h-1zM425 272h1v1h-1zM425 258h1v1h-1zM420 271h1v1h-1zM425 273h1v1h-1zM438 273h1v1h-1zM432 255h1v1h-1zM423 274h1v1h-1zM435 284h1v1h-1zM440 266h1v1h-1zM425 276h1v1h-1zM437 270h1v1h-1zM423 258h1v1h-1zM437 271h1v1h-1zM425 268h1v1h-1zM428 283h1v1h-1zM424 273h1v1h-1zM429 258h1v1h-1zM428 258h1v1h-1zM441 269h1v1h-1zM426 281h1v1h-1zM425 283h1v1h-1zM424 277h1v1h-1zM426 276h1v1h-1zM425 274h1v1h-1zM446 269h1v1h-1zM422 256h1v1h-1zM437 266h1v1h-1zM434 283h1v1h-1zM432 283h1v1h-1zM430 284h1v1h-1zM424 257h1v1h-1zM439 267h1v1h-1zM436 289h1v1h-1zM425 260h1v1h-1zM423 280h1v1h-1zM438 274h1v1h-1zM433 286h1v1h-1zM437 268h1v1h-1zM424 259h1v1h-1zM438 276h1v1h-1zM432 254h1v1h-1zM437 267h1v1h-1zM434 259h1v1h-1zM444 265h1v1h-1zM423 257h1v1h-1zM423 270h1v1h-1zM423 263h1v1h-1zM439 261h1v1h-1zM442 271h1v1h-1zM424 266h1v1h-1zM431 254h1v1h-1zM424 268h1v1h-1zM426 283h1v1h-1zM435 281h1v1h-1zM418 261h1v1h-1zM436 281h1v1h-1zM424 261h1v1h-1zM440 262h1v1h-1zM425 278h1v1h-1zM426 278h1v1h-1zM432 285h1v1h-1zM436 275h1v1h-1zM436 268h1v1h-1zM437 274h1v1h-1zM432 252h1v1h-1zM428 257h1v1h-1zM438 264h1v1h-1zM441 259h1v1h-1zM439 266h1v1h-1zM423 277h1v1h-1zM436 259h1v1h-1zM434 281h1v1h-1zM440 264h1v1h-1zM424 258h1v1h-1zM420 279h1v1h-1zM431 283h1v1h-1zM437 269h1v1h-1zM442 262h1v1h-1zM431 258h1v1h-1zM437 276h1v1h-1zM424 275h1v1h-1zM428 256h1v1h-1zM421 270h1v1h-1zM425 280h1v1h-1zM425 285h1v1h-1zM434 257h1v1h-1zM419 260h1v1h-1zM420 268h1v1h-1zM425 275h1v1h-1zM438 263h1v1h-1zM432 290h1v1h-1zM441 258h1v1h-1zM438 269h1v1h-1zM430 254h1v1h-1zM433 255h1v1h-1zM438 275h1v1h-1zM431 257h1v1h-1zM425 257h1v1h-1zM423 269h1v1h-1zM426 282h1v1h-1zM424 265h1v1h-1zM433 282h1v1h-1zM423 284h1v1h-1zM423 266h1v1h-1zM427 257h1v1h-1zM419 276h1v1h-1zM434 284h1v1h-1zM422 265h1v1h-1zM441 266h1v1h-1zM435 282h1v1h-1zM444 266h1v1h-1zM427 261h1v1h-1zM439 263h1v1h-1zM435 258h1v1h-1zM440 261h1v1h-1zM427 260h1v1h-1zM425 281h1v1h-1zM424 272h1v1h-1zM426 260h1v1h-1zM439 265h1v1h-1zM435 288h1v1h-1zM436 283h1v1h-1zM428 287h1v1h-1zM438 272h1v1h-1zM421 285h1v1h-1zM425 269h1v1h-1zM426 261h1v1h-1zM424 285h1v1h-1zM423 260h1v1h-1zM436 276h1v1h-1zM425 261h1v1h-1zM436 280h1v1h-1zM437 275h1v1h-1zM433 257h1v1h-1zM422 269h1v1h-1zM439 268h1v1h-1zM437 261h1v1h-1zM431 259h1v1h-1zM426 258h1v1h-1zM424 271h1v1h-1zM424 270h1v1h-1zM433 284h1v1h-1zM426 259h1v1h-1zM434 280h1v1h-1zM425 259h1v1h-1zM442 265h1v1h-1zM439 276h1v1h-1zM428 259h1v1h-1zM420 267h1v1h-1zM422 268h1v1h-1zM427 281h1v1h-1zM425 267h1v1h-1zM423 267h1v1h-1zM424 286h1v1h-1zM434 289h1v1h-1zM440 269h1v1h-1zM433 258h1v1h-1zM430 263h1v1h-1zM430 257h1v1h-1zM428 263h1v1h-1zM430 260h1v1h-1zM432 274h1v1h-1zM417 258h1v1h-1zM418 268h1v1h-1zM427 264h1v1h-1zM428 270h1v1h-1zM425 262h1v1h-1zM429 267h1v1h-1zM442 273h1v1h-1zM428 262h1v1h-1zM434 270h1v1h-1zM434 260h1v1h-1zM433 266h1v1h-1zM429 261h1v1h-1zM432 270h1v1h-1zM431 265h1v1h-1zM426 268h1v1h-1zM420 262h1v1h-1zM444 269h1v1h-1zM430 266h1v1h-1zM430 270h1v1h-1zM421 254h1v1h-1zM426 257h1v1h-1zM426 280h1v1h-1zM429 263h1v1h-1zM434 262h1v1h-1zM433 278h1v1h-1zM429 264h1v1h-1zM439 253h1v1h-1zM434 266h1v1h-1zM429 270h1v1h-1zM436 261h1v1h-1zM436 269h1v1h-1zM431 272h1v1h-1zM427 272h1v1h-1zM435 265h1v1h-1zM431 267h1v1h-1zM431 270h1v1h-1zM430 273h1v1h-1zM430 256h1v1h-1zM433 260h1v1h-1zM426 277h1v1h-1zM445 273h1v1h-1zM433 264h1v1h-1zM431 269h1v1h-1zM422 267h1v1h-1zM426 266h1v1h-1zM425 265h1v1h-1zM434 249h1v1h-1zM433 261h1v1h-1zM432 261h1v1h-1zM426 271h1v1h-1zM430 262h1v1h-1zM427 277h1v1h-1zM432 267h1v1h-1zM430 269h1v1h-1zM433 267h1v1h-1zM431 271h1v1h-1zM430 259h1v1h-1zM427 262h1v1h-1zM433 269h1v1h-1zM426 272h1v1h-1zM437 264h1v1h-1zM440 259h1v1h-1zM450 264h1v1h-1zM450 261h1v1h-1zM448 277h1v1h-1zM445 265h1v1h-1zM449 290h1v1h-1zM454 269h1v1h-1zM452 265h1v1h-1zM449 279h1v1h-1zM448 272h1v1h-1zM454 268h1v1h-1zM447 269h1v1h-1zM452 258h1v1h-1zM452 266h1v1h-1zM449 273h1v1h-1zM442 250h1v1h-1zM448 260h1v1h-1zM453 281h1v1h-1zM442 258h1v1h-1zM454 288h1v1h-1zM448 278h1v1h-1zM447 272h1v1h-1zM454 272h1v1h-1zM443 282h1v1h-1zM449 295h1v1h-1zM447 257h1v1h-1zM453 276h1v1h-1zM455 262h1v1h-1zM451 267h1v1h-1zM450 274h1v1h-1zM448 285h1v1h-1zM449 276h1v1h-1zM445 264h1v1h-1zM453 272h1v1h-1zM447 263h1v1h-1zM449 286h1v1h-1zM454 265h1v1h-1zM447 279h1v1h-1zM454 263h1v1h-1zM448 279h1v1h-1zM446 284h1v1h-1zM446 281h1v1h-1zM448 273h1v1h-1zM446 264h1v1h-1zM454 285h1v1h-1zM447 283h1v1h-1zM449 260h1v1h-1zM451 279h1v1h-1zM445 275h1v1h-1zM447 285h1v1h-1zM454 270h1v1h-1zM451 273h1v1h-1zM435 293h1v1h-1zM418 301h1v1h-1zM442 304h1v1h-1zM418 295h1v1h-1zM441 295h1v1h-1zM441 299h1v1h-1zM441 300h1v1h-1zM441 294h1v1h-1zM439 292h1v1h-1zM416 296h1v1h-1zM428 291h1v1h-1zM442 295h1v1h-1zM417 297h1v1h-1zM438 293h1v1h-1zM430 292h1v1h-1zM418 302h1v1h-1zM442 293h1v1h-1zM436 293h1v1h-1zM444 292h1v1h-1zM435 291h1v1h-1zM425 291h1v1h-1zM420 294h1v1h-1zM443 300h1v1h-1zM418 306h1v1h-1zM416 293h1v1h-1zM425 290h1v1h-1zM440 295h1v1h-1zM440 293h1v1h-1zM418 294h1v1h-1zM433 291h1v1h-1zM418 292h1v1h-1zM417 299h1v1h-1zM416 292h1v1h-1zM443 295h1v1h-1zM426 292h1v1h-1zM433 290h1v1h-1zM436 291h1v1h-1zM423 293h1v1h-1zM442 302h1v1h-1zM442 297h1v1h-1zM417 304h1v1h-1zM442 301h1v1h-1zM416 294h1v1h-1zM433 292h1v1h-1zM435 292h1v1h-1zM423 292h1v1h-1zM445 293h1v1h-1zM426 289h1v1h-1zM442 296h1v1h-1zM443 303h1v1h-1zM424 294h1v1h-1zM417 302h1v1h-1zM442 303h1v1h-1zM442 300h1v1h-1zM417 294h1v1h-1zM424 291h1v1h-1zM442 299h1v1h-1zM420 292h1v1h-1zM441 305h1v1h-1zM436 294h1v1h-1zM441 301h1v1h-1zM429 291h1v1h-1zM425 292h1v1h-1zM422 293h1v1h-1zM439 291h1v1h-1zM432 291h1v1h-1zM440 292h1v1h-1zM418 297h1v1h-1zM418 305h1v1h-1zM427 291h1v1h-1zM421 293h1v1h-1zM434 292h1v1h-1zM417 301h1v1h-1zM419 292h1v1h-1zM418 299h1v1h-1zM437 292h1v1h-1zM416 297h1v1h-1zM427 289h1v1h-1zM417 307h1v1h-1zM421 292h1v1h-1zM433 285h1v1h-1zM434 293h1v1h-1zM424 290h1v1h-1zM442 298h1v1h-1zM441 306h1v1h-1zM430 293h1v1h-1zM417 292h1v1h-1zM418 307h1v1h-1zM428 293h1v1h-1zM421 294h1v1h-1zM437 291h1v1h-1zM442 305h1v1h-1zM443 299h1v1h-1zM431 291h1v1h-1zM445 300h1v1h-1zM419 293h1v1h-1zM416 300h1v1h-1zM441 297h1v1h-1zM428 292h1v1h-1zM424 292h1v1h-1zM418 300h1v1h-1zM424 289h1v1h-1zM438 290h1v1h-1zM445 301h1v1h-1zM416 305h1v1h-1zM428 290h1v1h-1zM423 287h1v1h-1zM420 293h1v1h-1zM443 301h1v1h-1zM437 293h1v1h-1zM441 307h1v1h-1zM418 304h1v1h-1zM416 301h1v1h-1zM450 306h1v1h-1zM418 290h1v1h-1zM418 298h1v1h-1zM441 293h1v1h-1zM441 304h1v1h-1zM437 290h1v1h-1zM444 299h1v1h-1zM448 300h1v1h-1zM434 290h1v1h-1zM417 305h1v1h-1zM444 303h1v1h-1zM443 293h1v1h-1zM417 306h1v1h-1zM421 291h1v1h-1zM430 291h1v1h-1zM440 297h1v1h-1zM441 303h1v1h-1zM427 290h1v1h-1zM447 305h1v1h-1zM453 298h1v1h-1zM446 295h1v1h-1zM451 303h1v1h-1zM448 294h1v1h-1zM447 304h1v1h-1zM450 298h1v1h-1zM454 305h1v1h-1zM451 302h1v1h-1zM447 306h1v1h-1zM450 305h1v1h-1zM448 307h1v1h-1zM446 301h1v1h-1zM452 303h1v1h-1zM453 300h1v1h-1zM453 296h1v1h-1zM453 303h1v1h-1zM451 301h1v1h-1zM446 306h1v1h-1zM445 296h1v1h-1zM448 298h1v1h-1zM447 300h1v1h-1zM454 297h1v1h-1zM447 297h1v1h-1zM453 294h1v1h-1zM452 298h1v1h-1zM450 296h1v1h-1zM455 302h1v1h-1zM446 303h1v1h-1zM454 304h1v1h-1zM452 299h1v1h-1zM452 304h1v1h-1zM451 300h1v1h-1zM446 305h1v1h-1zM444 302h1v1h-1zM455 303h1v1h-1zM448 299h1v1h-1zM449 298h1v1h-1zM445 304h1v1h-1zM451 294h1v1h-1zM445 306h1v1h-1zM453 302h1v1h-1zM448 305h1v1h-1zM457 303h1v1h-1zM443 296h1v1h-1zM457 301h1v1h-1zM453 307h1v1h-1zM452 302h1v1h-1zM446 293h1v1h-1zM450 295h1v1h-1zM445 303h1v1h-1zM452 295h1v1h-1zM444 298h1v1h-1zM456 298h1v1h-1zM451 298h1v1h-1zM447 298h1v1h-1zM457 299h1v1h-1zM447 303h1v1h-1zM452 305h1v1h-1zM453 297h1v1h-1zM449 297h1v1h-1zM451 306h1v1h-1zM452 301h1v1h-1zM451 299h1v1h-1zM455 301h1v1h-1zM445 298h1v1h-1zM446 300h1v1h-1zM445 299h1v1h-1zM447 299h1v1h-1zM447 301h1v1h-1zM476 304h1v1h-1zM463 296h1v1h-1zM456 305h1v1h-1zM485 302h1v1h-1zM472 295h1v1h-1zM458 297h1v1h-1zM470 299h1v1h-1zM471 292h1v1h-1zM460 304h1v1h-1zM470 305h1v1h-1zM488 306h1v1h-1zM492 298h1v1h-1zM481 293h1v1h-1zM490 294h1v1h-1zM470 306h1v1h-1zM487 305h1v1h-1zM475 296h1v1h-1zM476 305h1v1h-1zM483 307h1v1h-1zM487 301h1v1h-1zM482 294h1v1h-1zM480 296h1v1h-1zM468 302h1v1h-1zM465 306h1v1h-1zM462 294h1v1h-1zM462 296h1v1h-1zM492 297h1v1h-1zM479 298h1v1h-1zM481 295h1v1h-1zM492 303h1v1h-1zM491 295h1v1h-1zM478 295h1v1h-1zM469 297h1v1h-1zM487 303h1v1h-1zM460 306h1v1h-1zM471 295h1v1h-1zM463 303h1v1h-1zM487 296h1v1h-1zM471 299h1v1h-1zM490 301h1v1h-1zM488 303h1v1h-1zM491 305h1v1h-1zM60 447h1v1h-1zM81 446h1v1h-1zM50 444h1v1h-1zM82 458h1v1h-1zM81 458h1v1h-1zM81 450h1v1h-1zM80 454h1v1h-1zM51 446h1v1h-1zM44 455h1v1h-1zM44 456h1v1h-1zM74 444h1v1h-1zM76 444h1v1h-1zM47 450h1v1h-1zM79 443h1v1h-1zM49 449h1v1h-1zM42 452h1v1h-1zM47 447h1v1h-1zM82 453h1v1h-1zM83 454h1v1h-1zM77 446h1v1h-1zM72 445h1v1h-1zM75 444h1v1h-1zM45 450h1v1h-1zM84 452h1v1h-1zM51 447h1v1h-1zM42 457h1v1h-1zM52 444h1v1h-1zM64 444h1v1h-1zM54 445h1v1h-1zM48 449h1v1h-1zM45 451h1v1h-1zM66 445h1v1h-1zM79 448h1v1h-1zM62 447h1v1h-1zM44 453h1v1h-1zM45 455h1v1h-1zM54 443h1v1h-1zM46 452h1v1h-1zM57 447h1v1h-1zM55 445h1v1h-1zM82 454h1v1h-1zM45 452h1v1h-1zM43 452h1v1h-1zM80 457h1v1h-1zM47 448h1v1h-1zM78 445h1v1h-1zM79 457h1v1h-1zM46 449h1v1h-1zM68 440h1v1h-1zM46 454h1v1h-1zM79 445h1v1h-1zM65 446h1v1h-1zM42 455h1v1h-1zM54 447h1v1h-1zM44 458h1v1h-1zM82 452h1v1h-1zM78 460h1v1h-1zM71 444h1v1h-1zM48 446h1v1h-1zM43 447h1v1h-1zM45 459h1v1h-1zM60 446h1v1h-1zM63 446h1v1h-1zM84 453h1v1h-1zM54 444h1v1h-1zM55 447h1v1h-1zM78 446h1v1h-1zM80 456h1v1h-1zM82 449h1v1h-1zM78 448h1v1h-1zM64 443h1v1h-1zM69 444h1v1h-1zM83 457h1v1h-1zM84 454h1v1h-1zM81 453h1v1h-1zM71 442h1v1h-1zM80 449h1v1h-1zM48 448h1v1h-1zM80 444h1v1h-1zM85 451h1v1h-1zM46 446h1v1h-1zM49 448h1v1h-1zM59 446h1v1h-1zM46 450h1v1h-1zM85 449h1v1h-1zM79 442h1v1h-1zM47 449h1v1h-1zM72 443h1v1h-1zM83 451h1v1h-1zM66 439h1v1h-1zM85 454h1v1h-1zM69 445h1v1h-1zM80 453h1v1h-1zM77 444h1v1h-1zM66 444h1v1h-1zM62 446h1v1h-1zM65 445h1v1h-1zM54 448h1v1h-1zM85 455h1v1h-1zM61 443h1v1h-1zM70 444h1v1h-1zM43 460h1v1h-1zM43 458h1v1h-1zM81 440h1v1h-1zM44 452h1v1h-1zM65 444h1v1h-1zM65 443h1v1h-1zM57 446h1v1h-1zM74 445h1v1h-1zM81 454h1v1h-1zM45 449h1v1h-1zM81 459h1v1h-1zM41 459h1v1h-1zM79 455h1v1h-1zM51 448h1v1h-1zM67 442h1v1h-1zM62 442h1v1h-1zM81 443h1v1h-1zM42 460h1v1h-1zM58 446h1v1h-1zM46 447h1v1h-1zM68 445h1v1h-1zM52 447h1v1h-1zM79 446h1v1h-1zM86 446h1v1h-1zM61 445h1v1h-1zM46 453h1v1h-1zM42 458h1v1h-1zM63 445h1v1h-1zM68 442h1v1h-1zM60 444h1v1h-1zM67 445h1v1h-1zM53 446h1v1h-1zM43 459h1v1h-1zM83 459h1v1h-1zM50 448h1v1h-1zM40 453h1v1h-1zM42 456h1v1h-1zM67 441h1v1h-1zM79 458h1v1h-1zM60 441h1v1h-1zM64 445h1v1h-1zM64 446h1v1h-1zM45 457h1v1h-1zM59 441h1v1h-1zM76 446h1v1h-1zM81 456h1v1h-1zM55 446h1v1h-1zM66 440h1v1h-1zM56 446h1v1h-1zM62 445h1v1h-1zM52 445h1v1h-1zM50 446h1v1h-1zM80 459h1v1h-1zM66 442h1v1h-1zM82 448h1v1h-1zM67 443h1v1h-1zM72 444h1v1h-1zM59 445h1v1h-1zM85 452h1v1h-1zM86 459h1v1h-1zM80 452h1v1h-1zM75 443h1v1h-1zM45 454h1v1h-1zM59 447h1v1h-1zM82 456h1v1h-1zM70 440h1v1h-1zM71 441h1v1h-1zM76 445h1v1h-1zM67 444h1v1h-1zM42 459h1v1h-1zM81 449h1v1h-1zM73 438h1v1h-1zM56 445h1v1h-1zM74 442h1v1h-1zM60 417h1v1h-1zM73 442h1v1h-1zM53 445h1v1h-1zM65 430h1v1h-1zM58 433h1v1h-1zM56 433h1v1h-1zM56 421h1v1h-1zM73 430h1v1h-1zM76 424h1v1h-1zM73 431h1v1h-1zM82 425h1v1h-1zM73 447h1v1h-1zM78 437h1v1h-1zM60 410h1v1h-1zM73 417h1v1h-1zM77 432h1v1h-1zM62 437h1v1h-1zM57 436h1v1h-1zM81 431h1v1h-1zM67 447h1v1h-1zM80 408h1v1h-1zM62 405h1v1h-1zM61 420h1v1h-1zM56 441h1v1h-1zM66 426h1v1h-1zM74 425h1v1h-1zM61 408h1v1h-1zM59 442h1v1h-1zM69 433h1v1h-1zM86 416h1v1h-1zM78 431h1v1h-1zM59 426h1v1h-1zM61 423h1v1h-1zM78 441h1v1h-1zM53 424h1v1h-1zM69 420h1v1h-1zM60 436h1v1h-1zM63 407h1v1h-1zM70 411h1v1h-1zM77 435h1v1h-1zM63 426h1v1h-1zM56 444h1v1h-1zM80 450h1v1h-1zM54 413h1v1h-1zM71 419h1v1h-1zM66 449h1v1h-1zM76 425h1v1h-1zM58 432h1v1h-1zM64 419h1v1h-1zM58 438h1v1h-1zM59 437h1v1h-1zM61 431h1v1h-1zM59 411h1v1h-1zM67 452h1v1h-1zM85 415h1v1h-1zM72 425h1v1h-1zM63 417h1v1h-1zM51 424h1v1h-1zM80 441h1v1h-1zM64 448h1v1h-1zM64 441h1v1h-1zM70 418h1v1h-1zM75 421h1v1h-1zM73 450h1v1h-1zM60 423h1v1h-1zM70 430h1v1h-1zM70 431h1v1h-1zM64 403h1v1h-1zM85 438h1v1h-1zM59 413h1v1h-1zM76 430h1v1h-1zM73 433h1v1h-1zM60 402h1v1h-1zM73 445h1v1h-1zM75 410h1v1h-1zM77 405h1v1h-1zM63 433h1v1h-1zM69 440h1v1h-1zM66 430h1v1h-1zM54 420h1v1h-1zM66 429h1v1h-1zM62 413h1v1h-1zM70 424h1v1h-1zM61 444h1v1h-1zM64 433h1v1h-1zM63 431h1v1h-1zM80 426h1v1h-1zM59 414h1v1h-1zM70 420h1v1h-1zM64 420h1v1h-1zM58 409h1v1h-1zM59 416h1v1h-1zM58 403h1v1h-1zM68 433h1v1h-1zM71 430h1v1h-1zM76 433h1v1h-1zM68 437h1v1h-1zM67 432h1v1h-1zM61 440h1v1h-1zM61 415h1v1h-1zM61 453h1v1h-1zM62 444h1v1h-1zM72 446h1v1h-1zM70 426h1v1h-1zM73 422h1v1h-1zM69 439h1v1h-1zM57 424h1v1h-1zM63 420h1v1h-1zM56 428h1v1h-1zM60 431h1v1h-1zM87 424h1v1h-1zM61 428h1v1h-1zM74 432h1v1h-1zM59 439h1v1h-1zM96 448h1v1h-1zM93 455h1v1h-1zM95 453h1v1h-1zM70 454h1v1h-1zM94 450h1v1h-1zM91 450h1v1h-1zM90 456h1v1h-1zM98 458h1v1h-1zM108 446h1v1h-1zM103 443h1v1h-1zM102 453h1v1h-1zM89 442h1v1h-1zM89 443h1v1h-1zM93 447h1v1h-1zM103 449h1v1h-1zM94 446h1v1h-1zM81 457h1v1h-1zM102 450h1v1h-1zM85 448h1v1h-1zM113 450h1v1h-1zM88 451h1v1h-1zM74 459h1v1h-1zM92 455h1v1h-1zM100 446h1v1h-1zM94 443h1v1h-1zM104 448h1v1h-1zM79 454h1v1h-1zM93 456h1v1h-1zM107 450h1v1h-1zM89 459h1v1h-1zM86 458h1v1h-1zM103 453h1v1h-1zM90 459h1v1h-1zM85 453h1v1h-1zM87 460h1v1h-1zM109 455h1v1h-1zM105 439h1v1h-1zM96 451h1v1h-1zM91 454h1v1h-1zM72 459h1v1h-1zM102 455h1v1h-1zM101 444h1v1h-1zM96 455h1v1h-1zM112 452h1v1h-1zM105 442h1v1h-1zM99 449h1v1h-1zM220 444h1v1h-1zM205 446h1v1h-1zM242 447h1v1h-1zM231 443h1v1h-1zM242 443h1v1h-1zM240 449h1v1h-1zM244 451h1v1h-1zM214 443h1v1h-1zM217 444h1v1h-1zM175 450h1v1h-1zM177 448h1v1h-1zM228 441h1v1h-1zM240 451h1v1h-1zM188 446h1v1h-1zM238 445h1v1h-1zM240 446h1v1h-1zM208 447h1v1h-1zM211 444h1v1h-1zM197 443h1v1h-1zM239 447h1v1h-1zM179 442h1v1h-1zM175 448h1v1h-1zM239 454h1v1h-1zM230 443h1v1h-1zM211 445h1v1h-1zM220 443h1v1h-1zM194 444h1v1h-1zM243 449h1v1h-1zM192 443h1v1h-1zM198 443h1v1h-1zM208 445h1v1h-1zM177 441h1v1h-1zM239 448h1v1h-1zM192 445h1v1h-1zM225 442h1v1h-1zM244 453h1v1h-1zM236 443h1v1h-1zM241 460h1v1h-1zM243 457h1v1h-1zM175 452h1v1h-1zM223 440h1v1h-1zM230 441h1v1h-1zM239 450h1v1h-1zM203 442h1v1h-1zM192 442h1v1h-1zM193 444h1v1h-1zM180 449h1v1h-1zM240 455h1v1h-1zM214 442h1v1h-1zM177 444h1v1h-1zM209 447h1v1h-1zM221 441h1v1h-1zM233 443h1v1h-1zM239 455h1v1h-1zM215 445h1v1h-1zM192 440h1v1h-1zM239 458h1v1h-1zM237 439h1v1h-1zM182 445h1v1h-1zM180 446h1v1h-1zM174 453h1v1h-1zM242 450h1v1h-1zM226 442h1v1h-1zM193 445h1v1h-1zM179 445h1v1h-1zM186 447h1v1h-1zM210 446h1v1h-1zM191 441h1v1h-1zM239 442h1v1h-1zM191 437h1v1h-1zM241 442h1v1h-1zM222 442h1v1h-1zM194 436h1v1h-1zM240 454h1v1h-1zM228 442h1v1h-1zM200 440h1v1h-1zM204 445h1v1h-1zM200 444h1v1h-1zM175 459h1v1h-1zM237 446h1v1h-1zM238 442h1v1h-1zM175 456h1v1h-1zM241 458h1v1h-1zM242 448h1v1h-1zM212 446h1v1h-1zM241 445h1v1h-1zM174 448h1v1h-1zM175 453h1v1h-1zM199 441h1v1h-1zM181 447h1v1h-1zM194 443h1v1h-1zM201 441h1v1h-1zM228 438h1v1h-1zM246 457h1v1h-1zM217 442h1v1h-1zM184 445h1v1h-1zM235 444h1v1h-1zM229 441h1v1h-1zM187 448h1v1h-1zM241 448h1v1h-1zM203 444h1v1h-1zM220 440h1v1h-1zM188 445h1v1h-1zM189 446h1v1h-1zM240 457h1v1h-1zM197 438h1v1h-1zM179 447h1v1h-1zM191 443h1v1h-1zM205 445h1v1h-1zM187 447h1v1h-1zM243 451h1v1h-1zM192 439h1v1h-1zM183 445h1v1h-1zM240 459h1v1h-1zM224 440h1v1h-1zM224 442h1v1h-1zM209 445h1v1h-1zM239 459h1v1h-1zM209 443h1v1h-1zM242 449h1v1h-1zM187 445h1v1h-1zM198 441h1v1h-1zM221 442h1v1h-1zM218 440h1v1h-1zM240 452h1v1h-1zM238 444h1v1h-1zM226 443h1v1h-1zM222 441h1v1h-1zM233 442h1v1h-1zM204 441h1v1h-1zM213 445h1v1h-1zM240 456h1v1h-1zM241 446h1v1h-1zM224 443h1v1h-1zM186 445h1v1h-1zM242 457h1v1h-1zM218 444h1v1h-1zM199 444h1v1h-1zM177 449h1v1h-1zM179 449h1v1h-1zM181 449h1v1h-1zM234 443h1v1h-1zM239 446h1v1h-1zM216 445h1v1h-1zM185 449h1v1h-1zM242 454h1v1h-1zM242 453h1v1h-1zM233 444h1v1h-1zM201 444h1v1h-1zM205 444h1v1h-1zM182 447h1v1h-1zM227 439h1v1h-1zM190 443h1v1h-1zM205 440h1v1h-1zM183 449h1v1h-1zM199 443h1v1h-1zM237 445h1v1h-1zM243 453h1v1h-1zM242 459h1v1h-1zM215 444h1v1h-1zM243 452h1v1h-1zM242 451h1v1h-1zM206 445h1v1h-1zM190 444h1v1h-1zM241 457h1v1h-1zM236 441h1v1h-1zM180 448h1v1h-1zM213 444h1v1h-1zM208 446h1v1h-1zM207 445h1v1h-1zM207 444h1v1h-1zM189 447h1v1h-1zM189 442h1v1h-1zM241 454h1v1h-1zM182 449h1v1h-1zM187 444h1v1h-1zM221 443h1v1h-1zM243 454h1v1h-1zM239 451h1v1h-1zM207 446h1v1h-1zM216 444h1v1h-1zM193 443h1v1h-1zM215 442h1v1h-1zM239 452h1v1h-1zM195 440h1v1h-1zM231 442h1v1h-1zM189 443h1v1h-1zM183 446h1v1h-1zM175 455h1v1h-1zM218 441h1v1h-1zM212 443h1v1h-1zM190 446h1v1h-1zM214 441h1v1h-1zM208 444h1v1h-1zM211 446h1v1h-1zM195 444h1v1h-1zM213 439h1v1h-1zM227 442h1v1h-1zM191 446h1v1h-1zM192 444h1v1h-1zM222 440h1v1h-1zM219 443h1v1h-1zM200 441h1v1h-1zM210 445h1v1h-1zM186 448h1v1h-1zM202 443h1v1h-1zM195 442h1v1h-1zM202 444h1v1h-1zM241 449h1v1h-1zM176 446h1v1h-1zM221 440h1v1h-1zM227 443h1v1h-1zM245 457h1v1h-1zM185 446h1v1h-1zM229 443h1v1h-1zM243 455h1v1h-1zM232 444h1v1h-1zM225 443h1v1h-1zM204 442h1v1h-1zM238 447h1v1h-1zM223 443h1v1h-1zM187 446h1v1h-1zM185 448h1v1h-1zM198 435h1v1h-1zM196 415h1v1h-1zM196 437h1v1h-1zM197 431h1v1h-1zM196 418h1v1h-1zM193 423h1v1h-1zM196 435h1v1h-1zM202 416h1v1h-1zM198 423h1v1h-1zM199 408h1v1h-1zM197 430h1v1h-1zM196 432h1v1h-1zM197 423h1v1h-1zM196 433h1v1h-1zM192 403h1v1h-1zM197 413h1v1h-1zM199 433h1v1h-1zM195 422h1v1h-1zM193 421h1v1h-1zM196 412h1v1h-1zM198 409h1v1h-1zM196 417h1v1h-1zM194 419h1v1h-1zM194 416h1v1h-1zM195 411h1v1h-1zM193 418h1v1h-1zM197 436h1v1h-1zM197 427h1v1h-1zM195 409h1v1h-1zM194 441h1v1h-1zM194 426h1v1h-1zM190 422h1v1h-1zM198 420h1v1h-1zM200 412h1v1h-1zM194 415h1v1h-1zM195 402h1v1h-1zM197 440h1v1h-1zM202 418h1v1h-1zM196 429h1v1h-1zM193 451h1v1h-1zM192 421h1v1h-1zM194 418h1v1h-1zM197 429h1v1h-1zM198 437h1v1h-1zM191 420h1v1h-1zM197 418h1v1h-1zM197 411h1v1h-1zM197 417h1v1h-1zM200 421h1v1h-1zM196 411h1v1h-1zM195 441h1v1h-1zM194 433h1v1h-1zM198 428h1v1h-1zM192 411h1v1h-1zM194 425h1v1h-1zM197 412h1v1h-1zM202 424h1v1h-1zM201 431h1v1h-1zM200 426h1v1h-1zM199 415h1v1h-1zM200 422h1v1h-1zM196 430h1v1h-1zM196 427h1v1h-1zM192 406h1v1h-1zM200 437h1v1h-1zM193 410h1v1h-1zM196 421h1v1h-1zM202 414h1v1h-1zM191 426h1v1h-1zM193 426h1v1h-1zM198 416h1v1h-1zM195 443h1v1h-1zM202 438h1v1h-1zM200 432h1v1h-1zM192 432h1v1h-1zM197 403h1v1h-1zM194 408h1v1h-1zM197 419h1v1h-1zM200 419h1v1h-1zM193 434h1v1h-1zM202 426h1v1h-1zM199 420h1v1h-1zM190 430h1v1h-1zM193 424h1v1h-1zM195 421h1v1h-1zM190 432h1v1h-1zM192 415h1v1h-1zM196 406h1v1h-1zM197 428h1v1h-1zM193 429h1v1h-1zM195 414h1v1h-1zM195 420h1v1h-1zM195 428h1v1h-1zM198 418h1v1h-1zM195 445h1v1h-1zM195 446h1v1h-1zM198 421h1v1h-1zM193 432h1v1h-1zM196 420h1v1h-1zM197 442h1v1h-1zM195 424h1v1h-1zM194 422h1v1h-1zM195 438h1v1h-1zM192 426h1v1h-1zM195 427h1v1h-1zM194 439h1v1h-1zM193 419h1v1h-1zM193 425h1v1h-1zM191 428h1v1h-1zM196 423h1v1h-1zM194 424h1v1h-1zM196 443h1v1h-1zM200 431h1v1h-1zM195 425h1v1h-1zM204 425h1v1h-1zM198 432h1v1h-1zM194 404h1v1h-1zM196 425h1v1h-1zM190 412h1v1h-1zM197 425h1v1h-1zM192 438h1v1h-1zM193 447h1v1h-1zM198 408h1v1h-1zM195 435h1v1h-1zM196 424h1v1h-1zM196 422h1v1h-1zM197 437h1v1h-1zM197 439h1v1h-1zM195 417h1v1h-1zM194 414h1v1h-1zM197 420h1v1h-1zM192 422h1v1h-1zM195 426h1v1h-1zM192 431h1v1h-1zM195 418h1v1h-1zM195 430h1v1h-1zM195 432h1v1h-1zM193 433h1v1h-1zM195 433h1v1h-1zM197 422h1v1h-1zM194 410h1v1h-1zM199 426h1v1h-1zM193 406h1v1h-1zM196 413h1v1h-1zM192 413h1v1h-1zM197 421h1v1h-1zM197 444h1v1h-1zM203 419h1v1h-1zM195 434h1v1h-1zM193 409h1v1h-1zM199 414h1v1h-1zM195 423h1v1h-1zM194 412h1v1h-1zM191 432h1v1h-1zM196 431h1v1h-1zM190 420h1v1h-1zM196 419h1v1h-1zM196 428h1v1h-1zM191 423h1v1h-1zM193 435h1v1h-1zM202 421h1v1h-1zM189 405h1v1h-1zM190 427h1v1h-1zM188 426h1v1h-1zM193 438h1v1h-1zM188 419h1v1h-1zM193 411h1v1h-1zM195 413h1v1h-1zM193 416h1v1h-1zM190 433h1v1h-1zM197 435h1v1h-1zM200 446h1v1h-1zM199 403h1v1h-1zM192 424h1v1h-1zM189 426h1v1h-1zM192 423h1v1h-1zM194 428h1v1h-1zM191 416h1v1h-1zM199 416h1v1h-1zM197 415h1v1h-1zM200 436h1v1h-1zM200 414h1v1h-1zM202 446h1v1h-1zM198 434h1v1h-1zM199 413h1v1h-1zM201 427h1v1h-1zM193 427h1v1h-1zM192 407h1v1h-1zM191 427h1v1h-1zM197 433h1v1h-1zM193 415h1v1h-1zM198 433h1v1h-1zM198 431h1v1h-1zM197 441h1v1h-1zM187 420h1v1h-1zM194 430h1v1h-1zM196 434h1v1h-1zM201 435h1v1h-1zM194 411h1v1h-1zM189 428h1v1h-1zM193 422h1v1h-1zM188 436h1v1h-1zM188 415h1v1h-1zM203 425h1v1h-1zM199 429h1v1h-1zM203 438h1v1h-1zM193 408h1v1h-1zM190 413h1v1h-1zM195 415h1v1h-1zM191 415h1v1h-1zM195 431h1v1h-1zM199 440h1v1h-1zM197 414h1v1h-1zM201 424h1v1h-1zM190 425h1v1h-1zM192 418h1v1h-1zM193 407h1v1h-1zM199 409h1v1h-1zM199 435h1v1h-1zM188 414h1v1h-1zM205 407h1v1h-1zM199 442h1v1h-1zM201 417h1v1h-1zM195 416h1v1h-1zM192 417h1v1h-1zM192 412h1v1h-1zM192 435h1v1h-1zM197 407h1v1h-1zM202 422h1v1h-1zM194 413h1v1h-1zM193 417h1v1h-1zM192 436h1v1h-1zM194 417h1v1h-1zM192 409h1v1h-1zM199 428h1v1h-1zM190 442h1v1h-1zM201 437h1v1h-1zM192 429h1v1h-1zM199 436h1v1h-1zM197 416h1v1h-1zM194 403h1v1h-1zM192 434h1v1h-1zM192 414h1v1h-1zM198 425h1v1h-1zM197 409h1v1h-1zM201 438h1v1h-1zM192 437h1v1h-1zM195 408h1v1h-1zM194 409h1v1h-1zM194 427h1v1h-1zM199 422h1v1h-1zM191 433h1v1h-1zM198 410h1v1h-1zM198 414h1v1h-1zM193 439h1v1h-1zM201 429h1v1h-1zM199 448h1v1h-1zM199 424h1v1h-1zM201 416h1v1h-1zM200 428h1v1h-1zM197 424h1v1h-1zM201 425h1v1h-1zM193 414h1v1h-1zM204 417h1v1h-1zM195 407h1v1h-1zM191 429h1v1h-1zM191 425h1v1h-1zM199 412h1v1h-1zM196 416h1v1h-1zM191 444h1v1h-1zM198 422h1v1h-1zM192 408h1v1h-1zM202 419h1v1h-1zM191 409h1v1h-1zM196 407h1v1h-1zM195 439h1v1h-1zM190 419h1v1h-1zM190 439h1v1h-1zM190 418h1v1h-1zM198 419h1v1h-1zM196 414h1v1h-1zM197 432h1v1h-1zM199 425h1v1h-1zM195 410h1v1h-1zM202 427h1v1h-1zM194 420h1v1h-1zM200 409h1v1h-1zM196 426h1v1h-1zM191 436h1v1h-1zM192 430h1v1h-1zM194 434h1v1h-1zM196 449h1v1h-1zM199 434h1v1h-1zM192 420h1v1h-1zM196 436h1v1h-1zM191 434h1v1h-1zM196 408h1v1h-1zM198 415h1v1h-1zM190 440h1v1h-1zM189 425h1v1h-1zM198 424h1v1h-1zM190 414h1v1h-1zM193 441h1v1h-1zM198 417h1v1h-1zM192 419h1v1h-1zM202 434h1v1h-1zM202 407h1v1h-1zM191 424h1v1h-1zM197 445h1v1h-1zM199 418h1v1h-1zM192 427h1v1h-1zM193 430h1v1h-1zM186 430h1v1h-1zM190 435h1v1h-1zM192 447h1v1h-1zM196 448h1v1h-1zM194 442h1v1h-1zM207 443h1v1h-1zM215 439h1v1h-1zM208 443h1v1h-1zM193 446h1v1h-1zM200 435h1v1h-1zM189 450h1v1h-1zM202 441h1v1h-1zM200 449h1v1h-1zM186 438h1v1h-1zM196 442h1v1h-1zM189 437h1v1h-1zM185 445h1v1h-1zM175 439h1v1h-1zM189 449h1v1h-1zM202 437h1v1h-1zM194 449h1v1h-1zM206 451h1v1h-1zM198 445h1v1h-1zM194 435h1v1h-1zM204 439h1v1h-1zM198 451h1v1h-1zM200 442h1v1h-1zM188 438h1v1h-1zM191 440h1v1h-1zM189 441h1v1h-1zM202 440h1v1h-1zM192 441h1v1h-1zM203 445h1v1h-1zM198 440h1v1h-1zM196 440h1v1h-1zM203 447h1v1h-1zM204 444h1v1h-1zM186 446h1v1h-1zM207 438h1v1h-1zM182 443h1v1h-1zM195 436h1v1h-1zM201 433h1v1h-1zM188 440h1v1h-1zM188 433h1v1h-1zM194 438h1v1h-1zM201 436h1v1h-1zM195 437h1v1h-1zM224 419h1v1h-1zM214 436h1v1h-1zM229 431h1v1h-1zM229 442h1v1h-1zM222 428h1v1h-1zM234 452h1v1h-1zM223 436h1v1h-1zM223 435h1v1h-1zM229 425h1v1h-1zM229 436h1v1h-1zM230 430h1v1h-1zM223 427h1v1h-1zM224 438h1v1h-1zM245 434h1v1h-1zM220 426h1v1h-1zM222 433h1v1h-1zM214 425h1v1h-1zM234 429h1v1h-1zM227 433h1v1h-1zM214 434h1v1h-1zM231 432h1v1h-1zM223 433h1v1h-1zM211 422h1v1h-1zM228 437h1v1h-1zM246 445h1v1h-1zM231 423h1v1h-1zM204 426h1v1h-1zM222 435h1v1h-1zM215 425h1v1h-1zM236 433h1v1h-1zM211 429h1v1h-1zM231 439h1v1h-1zM212 447h1v1h-1zM224 435h1v1h-1zM215 424h1v1h-1zM229 427h1v1h-1zM231 430h1v1h-1zM241 425h1v1h-1zM241 433h1v1h-1zM234 430h1v1h-1zM209 429h1v1h-1zM218 427h1v1h-1zM226 423h1v1h-1zM249 426h1v1h-1zM222 431h1v1h-1zM225 445h1v1h-1zM224 434h1v1h-1zM217 430h1v1h-1zM206 443h1v1h-1zM224 437h1v1h-1zM220 424h1v1h-1zM232 419h1v1h-1zM230 436h1v1h-1zM230 424h1v1h-1zM243 431h1v1h-1zM218 424h1v1h-1zM214 430h1v1h-1zM224 439h1v1h-1zM232 427h1v1h-1zM232 436h1v1h-1zM219 428h1v1h-1zM236 448h1v1h-1zM225 432h1v1h-1zM204 433h1v1h-1zM224 449h1v1h-1zM228 431h1v1h-1zM222 446h1v1h-1zM230 421h1v1h-1zM219 441h1v1h-1zM227 438h1v1h-1zM221 423h1v1h-1zM230 434h1v1h-1zM232 426h1v1h-1zM202 429h1v1h-1zM220 434h1v1h-1zM224 452h1v1h-1zM211 431h1v1h-1zM235 451h1v1h-1zM226 432h1v1h-1zM214 453h1v1h-1zM219 436h1v1h-1zM222 434h1v1h-1zM217 448h1v1h-1zM218 430h1v1h-1zM233 441h1v1h-1zM229 426h1v1h-1zM203 450h1v1h-1zM245 425h1v1h-1zM228 426h1v1h-1zM226 436h1v1h-1zM218 452h1v1h-1zM209 433h1v1h-1zM249 428h1v1h-1zM226 430h1v1h-1zM241 429h1v1h-1zM232 438h1v1h-1zM227 435h1v1h-1zM224 432h1v1h-1zM248 444h1v1h-1zM226 433h1v1h-1zM232 416h1v1h-1zM227 418h1v1h-1zM211 443h1v1h-1zM234 440h1v1h-1zM221 439h1v1h-1zM226 435h1v1h-1zM225 433h1v1h-1zM222 456h1v1h-1zM244 428h1v1h-1zM213 428h1v1h-1zM219 434h1v1h-1zM234 437h1v1h-1zM237 438h1v1h-1zM237 427h1v1h-1zM231 427h1v1h-1zM222 445h1v1h-1zM232 428h1v1h-1zM243 426h1v1h-1zM228 439h1v1h-1zM227 425h1v1h-1zM212 428h1v1h-1zM204 443h1v1h-1zM237 434h1v1h-1zM222 430h1v1h-1zM239 444h1v1h-1zM223 423h1v1h-1zM231 441h1v1h-1zM234 428h1v1h-1zM228 444h1v1h-1zM239 425h1v1h-1zM238 435h1v1h-1zM222 438h1v1h-1zM235 434h1v1h-1zM223 426h1v1h-1zM217 435h1v1h-1zM230 432h1v1h-1zM221 447h1v1h-1zM224 423h1v1h-1zM212 431h1v1h-1zM210 436h1v1h-1zM211 440h1v1h-1zM220 435h1v1h-1zM223 422h1v1h-1zM217 443h1v1h-1zM226 434h1v1h-1zM242 437h1v1h-1zM223 431h1v1h-1zM217 434h1v1h-1zM231 447h1v1h-1zM224 429h1v1h-1zM217 429h1v1h-1zM218 425h1v1h-1zM229 422h1v1h-1zM216 443h1v1h-1zM215 427h1v1h-1zM227 428h1v1h-1zM221 437h1v1h-1zM215 437h1v1h-1zM231 431h1v1h-1zM229 424h1v1h-1zM239 443h1v1h-1zM234 434h1v1h-1zM238 425h1v1h-1zM210 433h1v1h-1zM241 424h1v1h-1zM225 423h1v1h-1zM215 432h1v1h-1zM227 448h1v1h-1zM230 438h1v1h-1zM229 448h1v1h-1zM214 439h1v1h-1zM240 434h1v1h-1zM234 433h1v1h-1zM219 439h1v1h-1zM209 427h1v1h-1zM223 442h1v1h-1zM210 435h1v1h-1zM233 430h1v1h-1zM216 432h1v1h-1zM213 431h1v1h-1zM211 425h1v1h-1zM228 430h1v1h-1zM222 432h1v1h-1zM208 417h1v1h-1zM225 435h1v1h-1zM240 438h1v1h-1zM242 439h1v1h-1zM213 450h1v1h-1zM215 438h1v1h-1zM209 444h1v1h-1zM208 437h1v1h-1zM187 439h1v1h-1zM204 437h1v1h-1zM206 434h1v1h-1zM205 450h1v1h-1zM188 444h1v1h-1zM206 439h1v1h-1zM217 436h1v1h-1zM188 439h1v1h-1zM208 441h1v1h-1zM228 443h1v1h-1zM228 447h1v1h-1zM213 437h1v1h-1zM198 439h1v1h-1zM203 437h1v1h-1zM206 436h1v1h-1zM225 436h1v1h-1zM213 446h1v1h-1zM186 442h1v1h-1zM201 446h1v1h-1zM217 445h1v1h-1zM214 446h1v1h-1zM196 444h1v1h-1zM215 434h1v1h-1zM185 441h1v1h-1zM218 433h1v1h-1zM206 440h1v1h-1zM189 435h1v1h-1zM196 439h1v1h-1zM193 440h1v1h-1zM189 439h1v1h-1zM214 438h1v1h-1zM220 445h1v1h-1zM219 440h1v1h-1zM199 439h1v1h-1zM211 441h1v1h-1zM210 439h1v1h-1zM204 436h1v1h-1zM203 441h1v1h-1zM216 441h1v1h-1zM196 441h1v1h-1zM211 439h1v1h-1zM213 438h1v1h-1zM205 441h1v1h-1zM190 438h1v1h-1zM212 433h1v1h-1zM211 437h1v1h-1zM220 438h1v1h-1zM201 450h1v1h-1zM210 440h1v1h-1zM216 436h1v1h-1zM211 438h1v1h-1zM206 442h1v1h-1zM223 439h1v1h-1zM199 438h1v1h-1zM226 450h1v1h-1zM203 446h1v1h-1zM202 439h1v1h-1zM207 436h1v1h-1zM216 437h1v1h-1zM211 435h1v1h-1zM217 437h1v1h-1zM217 440h1v1h-1zM206 441h1v1h-1zM236 418h1v1h-1zM175 417h1v1h-1zM209 430h1v1h-1zM244 437h1v1h-1zM234 405h1v1h-1zM237 404h1v1h-1zM216 422h1v1h-1zM201 408h1v1h-1zM249 412h1v1h-1zM247 438h1v1h-1zM212 418h1v1h-1zM208 412h1v1h-1zM216 405h1v1h-1zM223 413h1v1h-1zM178 435h1v1h-1zM249 446h1v1h-1zM240 433h1v1h-1zM181 413h1v1h-1zM221 403h1v1h-1zM231 403h1v1h-1zM245 443h1v1h-1zM203 422h1v1h-1zM251 416h1v1h-1zM218 416h1v1h-1zM245 409h1v1h-1zM190 403h1v1h-1zM220 421h1v1h-1zM188 437h1v1h-1zM233 426h1v1h-1zM235 422h1v1h-1zM209 440h1v1h-1zM206 415h1v1h-1zM200 404h1v1h-1zM178 424h1v1h-1zM225 425h1v1h-1zM210 409h1v1h-1zM180 447h1v1h-1zM179 439h1v1h-1zM183 442h1v1h-1zM178 454h1v1h-1zM175 454h1v1h-1zM176 444h1v1h-1zM180 441h1v1h-1zM175 438h1v1h-1zM176 445h1v1h-1zM182 433h1v1h-1zM180 451h1v1h-1zM177 442h1v1h-1zM175 435h1v1h-1zM182 453h1v1h-1zM178 449h1v1h-1zM178 433h1v1h-1zM176 447h1v1h-1zM176 438h1v1h-1zM181 435h1v1h-1zM183 453h1v1h-1zM176 441h1v1h-1zM179 438h1v1h-1zM175 437h1v1h-1zM179 450h1v1h-1zM178 443h1v1h-1zM175 444h1v1h-1zM178 441h1v1h-1zM178 430h1v1h-1zM179 440h1v1h-1zM184 442h1v1h-1zM178 438h1v1h-1zM178 444h1v1h-1zM181 442h1v1h-1zM182 441h1v1h-1zM178 447h1v1h-1zM175 433h1v1h-1zM177 450h1v1h-1zM177 454h1v1h-1zM176 451h1v1h-1zM181 444h1v1h-1zM244 454h1v1h-1zM243 456h1v1h-1zM247 454h1v1h-1zM249 459h1v1h-1zM241 450h1v1h-1zM248 458h1v1h-1zM245 458h1v1h-1zM246 455h1v1h-1zM246 453h1v1h-1zM237 456h1v1h-1zM242 456h1v1h-1zM247 457h1v1h-1zM251 454h1v1h-1zM244 455h1v1h-1zM246 454h1v1h-1zM247 450h1v1h-1zM250 455h1v1h-1zM243 450h1v1h-1zM245 456h1v1h-1zM247 448h1v1h-1zM239 453h1v1h-1zM246 452h1v1h-1zM241 456h1v1h-1zM247 451h1v1h-1zM345 446h1v1h-1zM361 460h1v1h-1zM363 456h1v1h-1zM329 446h1v1h-1zM322 452h1v1h-1zM364 447h1v1h-1zM364 456h1v1h-1zM361 457h1v1h-1zM323 450h1v1h-1zM344 445h1v1h-1zM349 444h1v1h-1zM361 443h1v1h-1zM365 453h1v1h-1zM362 456h1v1h-1zM363 454h1v1h-1zM324 449h1v1h-1zM355 441h1v1h-1zM364 451h1v1h-1zM363 457h1v1h-1zM338 441h1v1h-1zM342 444h1v1h-1zM333 448h1v1h-1zM332 448h1v1h-1zM353 443h1v1h-1zM323 457h1v1h-1zM348 442h1v1h-1zM348 445h1v1h-1zM355 443h1v1h-1zM365 455h1v1h-1zM324 458h1v1h-1zM361 448h1v1h-1zM364 453h1v1h-1zM361 440h1v1h-1zM350 444h1v1h-1zM361 449h1v1h-1zM359 445h1v1h-1zM340 446h1v1h-1zM334 447h1v1h-1zM322 451h1v1h-1zM348 443h1v1h-1zM367 452h1v1h-1zM323 459h1v1h-1zM363 450h1v1h-1zM343 447h1v1h-1zM322 455h1v1h-1zM324 454h1v1h-1zM338 446h1v1h-1zM325 454h1v1h-1zM364 454h1v1h-1zM329 449h1v1h-1zM348 446h1v1h-1zM325 455h1v1h-1zM354 441h1v1h-1zM362 452h1v1h-1zM361 442h1v1h-1zM351 441h1v1h-1zM322 460h1v1h-1zM335 447h1v1h-1zM321 452h1v1h-1zM362 451h1v1h-1zM361 446h1v1h-1zM340 445h1v1h-1zM320 458h1v1h-1zM321 454h1v1h-1zM331 446h1v1h-1zM363 451h1v1h-1zM359 446h1v1h-1zM344 443h1v1h-1zM362 449h1v1h-1zM365 454h1v1h-1zM345 443h1v1h-1zM360 447h1v1h-1zM327 448h1v1h-1zM326 446h1v1h-1zM329 447h1v1h-1zM366 460h1v1h-1zM339 445h1v1h-1zM336 447h1v1h-1zM332 446h1v1h-1zM344 447h1v1h-1zM323 447h1v1h-1zM366 455h1v1h-1zM362 453h1v1h-1zM358 444h1v1h-1zM362 455h1v1h-1zM347 441h1v1h-1zM323 453h1v1h-1zM360 446h1v1h-1zM352 444h1v1h-1zM323 452h1v1h-1zM332 447h1v1h-1zM330 449h1v1h-1zM325 453h1v1h-1zM345 445h1v1h-1zM356 445h1v1h-1zM351 445h1v1h-1zM322 450h1v1h-1zM339 447h1v1h-1zM347 445h1v1h-1zM334 448h1v1h-1zM327 447h1v1h-1zM364 446h1v1h-1zM324 453h1v1h-1zM337 446h1v1h-1zM357 444h1v1h-1zM323 448h1v1h-1zM365 457h1v1h-1zM349 438h1v1h-1zM366 454h1v1h-1zM350 445h1v1h-1zM327 446h1v1h-1zM337 447h1v1h-1zM364 452h1v1h-1zM362 450h1v1h-1zM358 442h1v1h-1zM330 448h1v1h-1zM324 447h1v1h-1zM365 459h1v1h-1zM342 441h1v1h-1zM346 443h1v1h-1zM360 445h1v1h-1zM327 451h1v1h-1zM354 442h1v1h-1zM361 447h1v1h-1zM349 446h1v1h-1zM364 450h1v1h-1zM354 443h1v1h-1zM361 451h1v1h-1zM323 454h1v1h-1zM353 445h1v1h-1zM363 453h1v1h-1zM346 444h1v1h-1zM363 455h1v1h-1zM363 458h1v1h-1zM328 450h1v1h-1zM357 447h1v1h-1zM364 459h1v1h-1zM335 448h1v1h-1zM347 446h1v1h-1zM362 460h1v1h-1zM346 446h1v1h-1zM347 444h1v1h-1zM361 444h1v1h-1zM347 443h1v1h-1zM368 457h1v1h-1zM321 457h1v1h-1zM328 449h1v1h-1zM364 444h1v1h-1zM342 447h1v1h-1zM342 446h1v1h-1zM331 448h1v1h-1zM341 443h1v1h-1zM361 450h1v1h-1zM357 440h1v1h-1zM339 446h1v1h-1zM333 447h1v1h-1zM333 445h1v1h-1zM365 458h1v1h-1zM327 449h1v1h-1zM356 446h1v1h-1zM338 447h1v1h-1zM355 444h1v1h-1zM354 444h1v1h-1zM364 455h1v1h-1zM343 445h1v1h-1zM337 441h1v1h-1zM323 456h1v1h-1zM341 447h1v1h-1zM332 443h1v1h-1zM363 449h1v1h-1zM352 443h1v1h-1zM326 452h1v1h-1zM357 445h1v1h-1zM363 447h1v1h-1zM330 447h1v1h-1zM341 433h1v1h-1zM342 423h1v1h-1zM342 404h1v1h-1zM344 421h1v1h-1zM345 427h1v1h-1zM343 427h1v1h-1zM344 410h1v1h-1zM341 435h1v1h-1zM341 429h1v1h-1zM341 418h1v1h-1zM342 448h1v1h-1zM345 424h1v1h-1zM340 431h1v1h-1zM341 410h1v1h-1zM342 410h1v1h-1zM342 416h1v1h-1zM343 406h1v1h-1zM342 422h1v1h-1zM340 426h1v1h-1zM344 431h1v1h-1zM339 412h1v1h-1zM341 413h1v1h-1zM339 410h1v1h-1zM340 433h1v1h-1zM337 431h1v1h-1zM340 403h1v1h-1zM338 431h1v1h-1zM345 416h1v1h-1zM343 414h1v1h-1zM342 428h1v1h-1zM335 436h1v1h-1zM337 417h1v1h-1zM345 450h1v1h-1zM341 408h1v1h-1zM339 435h1v1h-1zM338 413h1v1h-1zM344 419h1v1h-1zM341 417h1v1h-1zM340 410h1v1h-1zM341 412h1v1h-1zM343 426h1v1h-1zM349 430h1v1h-1zM342 431h1v1h-1zM344 418h1v1h-1zM338 443h1v1h-1zM338 421h1v1h-1zM341 419h1v1h-1zM343 410h1v1h-1zM338 412h1v1h-1zM348 417h1v1h-1zM345 415h1v1h-1zM337 422h1v1h-1zM347 428h1v1h-1zM341 432h1v1h-1zM337 420h1v1h-1zM340 428h1v1h-1zM337 424h1v1h-1zM341 425h1v1h-1zM342 430h1v1h-1zM347 403h1v1h-1zM339 451h1v1h-1zM344 422h1v1h-1zM336 417h1v1h-1zM342 434h1v1h-1zM341 423h1v1h-1zM342 413h1v1h-1zM342 429h1v1h-1zM338 422h1v1h-1zM345 418h1v1h-1zM338 409h1v1h-1zM343 421h1v1h-1zM333 436h1v1h-1zM344 436h1v1h-1zM340 435h1v1h-1zM340 443h1v1h-1zM343 418h1v1h-1zM340 415h1v1h-1zM332 450h1v1h-1zM340 423h1v1h-1zM345 433h1v1h-1zM343 425h1v1h-1zM343 429h1v1h-1zM346 433h1v1h-1zM338 426h1v1h-1zM339 417h1v1h-1zM343 438h1v1h-1zM344 420h1v1h-1zM344 428h1v1h-1zM344 435h1v1h-1zM336 427h1v1h-1zM336 410h1v1h-1zM345 426h1v1h-1zM341 415h1v1h-1zM345 421h1v1h-1zM347 412h1v1h-1zM338 437h1v1h-1zM343 416h1v1h-1zM343 424h1v1h-1zM339 432h1v1h-1zM341 428h1v1h-1zM348 432h1v1h-1zM343 432h1v1h-1zM343 434h1v1h-1zM340 413h1v1h-1zM343 433h1v1h-1zM344 438h1v1h-1zM339 427h1v1h-1zM337 406h1v1h-1zM347 422h1v1h-1zM341 427h1v1h-1zM347 426h1v1h-1zM338 448h1v1h-1zM345 435h1v1h-1zM342 427h1v1h-1zM339 406h1v1h-1zM337 414h1v1h-1zM344 427h1v1h-1zM341 404h1v1h-1zM337 426h1v1h-1zM336 414h1v1h-1zM341 421h1v1h-1zM339 425h1v1h-1zM341 420h1v1h-1zM341 426h1v1h-1zM345 404h1v1h-1zM341 431h1v1h-1zM344 439h1v1h-1zM335 418h1v1h-1zM338 410h1v1h-1zM342 415h1v1h-1zM349 414h1v1h-1zM339 424h1v1h-1zM343 431h1v1h-1zM340 420h1v1h-1zM344 424h1v1h-1zM345 414h1v1h-1zM344 429h1v1h-1zM338 420h1v1h-1zM347 411h1v1h-1zM342 417h1v1h-1zM342 445h1v1h-1zM347 434h1v1h-1zM343 415h1v1h-1zM336 413h1v1h-1zM345 406h1v1h-1zM339 409h1v1h-1zM345 438h1v1h-1zM332 421h1v1h-1zM342 411h1v1h-1zM340 421h1v1h-1zM339 426h1v1h-1zM346 419h1v1h-1zM344 430h1v1h-1zM340 418h1v1h-1zM341 414h1v1h-1zM340 419h1v1h-1zM344 405h1v1h-1zM344 414h1v1h-1zM343 405h1v1h-1zM345 423h1v1h-1zM343 430h1v1h-1zM343 419h1v1h-1zM345 437h1v1h-1zM345 411h1v1h-1zM341 407h1v1h-1zM340 440h1v1h-1zM340 425h1v1h-1zM336 411h1v1h-1zM339 418h1v1h-1zM340 436h1v1h-1zM339 440h1v1h-1zM338 434h1v1h-1zM342 412h1v1h-1zM340 422h1v1h-1zM340 411h1v1h-1zM339 429h1v1h-1zM343 420h1v1h-1zM339 420h1v1h-1zM347 410h1v1h-1zM336 407h1v1h-1zM339 431h1v1h-1zM343 428h1v1h-1zM342 425h1v1h-1zM338 415h1v1h-1zM344 426h1v1h-1zM345 432h1v1h-1zM335 416h1v1h-1zM336 412h1v1h-1zM350 419h1v1h-1zM344 437h1v1h-1zM339 428h1v1h-1zM337 439h1v1h-1zM337 432h1v1h-1zM337 412h1v1h-1zM339 407h1v1h-1zM339 433h1v1h-1zM341 424h1v1h-1zM346 412h1v1h-1zM340 444h1v1h-1zM346 429h1v1h-1zM337 428h1v1h-1zM334 411h1v1h-1zM347 421h1v1h-1zM338 432h1v1h-1zM342 433h1v1h-1zM343 435h1v1h-1zM337 409h1v1h-1zM338 433h1v1h-1zM344 425h1v1h-1zM340 417h1v1h-1zM345 428h1v1h-1zM342 435h1v1h-1zM346 422h1v1h-1zM337 440h1v1h-1zM342 439h1v1h-1zM347 429h1v1h-1zM337 442h1v1h-1zM343 422h1v1h-1zM337 430h1v1h-1zM340 434h1v1h-1zM346 435h1v1h-1zM339 404h1v1h-1zM343 437h1v1h-1zM338 418h1v1h-1zM344 451h1v1h-1zM339 423h1v1h-1zM345 425h1v1h-1zM345 410h1v1h-1zM343 436h1v1h-1zM347 418h1v1h-1zM344 441h1v1h-1zM338 429h1v1h-1zM349 429h1v1h-1zM337 419h1v1h-1zM338 427h1v1h-1zM339 413h1v1h-1zM341 430h1v1h-1zM347 406h1v1h-1zM342 420h1v1h-1zM340 429h1v1h-1zM335 419h1v1h-1zM342 421h1v1h-1zM338 428h1v1h-1zM348 437h1v1h-1zM338 407h1v1h-1zM339 419h1v1h-1zM337 415h1v1h-1zM335 423h1v1h-1zM346 426h1v1h-1zM343 441h1v1h-1zM345 419h1v1h-1zM343 413h1v1h-1zM347 433h1v1h-1zM338 417h1v1h-1zM347 409h1v1h-1zM346 431h1v1h-1zM356 423h1v1h-1zM341 438h1v1h-1zM348 448h1v1h-1zM348 444h1v1h-1zM372 443h1v1h-1zM349 421h1v1h-1zM349 437h1v1h-1zM333 442h1v1h-1zM370 432h1v1h-1zM357 433h1v1h-1zM352 439h1v1h-1zM354 439h1v1h-1zM361 425h1v1h-1zM356 442h1v1h-1zM359 430h1v1h-1zM353 444h1v1h-1zM351 437h1v1h-1zM360 433h1v1h-1zM362 433h1v1h-1zM349 442h1v1h-1zM347 439h1v1h-1zM345 441h1v1h-1zM349 443h1v1h-1zM352 438h1v1h-1zM348 431h1v1h-1zM349 436h1v1h-1zM366 449h1v1h-1zM367 430h1v1h-1zM350 436h1v1h-1zM358 435h1v1h-1zM354 438h1v1h-1zM348 425h1v1h-1zM350 433h1v1h-1zM363 431h1v1h-1zM357 438h1v1h-1zM354 435h1v1h-1zM348 440h1v1h-1zM345 436h1v1h-1zM360 430h1v1h-1zM348 423h1v1h-1zM353 436h1v1h-1zM340 447h1v1h-1zM351 433h1v1h-1zM365 442h1v1h-1zM355 436h1v1h-1zM343 439h1v1h-1zM347 424h1v1h-1zM345 422h1v1h-1zM359 440h1v1h-1zM358 436h1v1h-1zM358 449h1v1h-1zM341 440h1v1h-1zM357 439h1v1h-1zM354 445h1v1h-1zM351 435h1v1h-1zM353 437h1v1h-1zM357 434h1v1h-1zM357 443h1v1h-1zM352 427h1v1h-1zM358 430h1v1h-1zM351 443h1v1h-1zM356 443h1v1h-1zM353 440h1v1h-1zM351 427h1v1h-1zM350 428h1v1h-1zM352 441h1v1h-1zM346 438h1v1h-1zM346 434h1v1h-1zM359 436h1v1h-1zM348 428h1v1h-1zM351 436h1v1h-1zM366 446h1v1h-1zM363 443h1v1h-1zM363 439h1v1h-1zM352 445h1v1h-1zM357 430h1v1h-1zM381 455h1v1h-1zM364 458h1v1h-1zM373 457h1v1h-1zM367 447h1v1h-1zM379 446h1v1h-1zM360 435h1v1h-1zM365 446h1v1h-1zM378 454h1v1h-1zM367 439h1v1h-1zM366 458h1v1h-1zM369 449h1v1h-1zM365 451h1v1h-1zM371 446h1v1h-1zM377 443h1v1h-1zM371 449h1v1h-1zM367 458h1v1h-1zM382 444h1v1h-1zM375 444h1v1h-1zM374 457h1v1h-1zM357 442h1v1h-1zM383 449h1v1h-1zM376 454h1v1h-1zM376 446h1v1h-1zM367 437h1v1h-1zM356 453h1v1h-1zM366 452h1v1h-1zM374 452h1v1h-1zM359 439h1v1h-1zM371 456h1v1h-1zM374 443h1v1h-1zM358 441h1v1h-1zM369 447h1v1h-1zM360 454h1v1h-1zM387 454h1v1h-1zM385 446h1v1h-1zM378 444h1v1h-1zM359 449h1v1h-1zM378 445h1v1h-1zM366 450h1v1h-1zM378 450h1v1h-1zM373 449h1v1h-1zM364 457h1v1h-1zM377 455h1v1h-1zM374 451h1v1h-1zM375 445h1v1h-1zM359 433h1v1h-1zM380 458h1v1h-1zM381 448h1v1h-1zM370 444h1v1h-1zM376 449h1v1h-1zM356 447h1v1h-1zM371 454h1v1h-1zM368 452h1v1h-1zM369 451h1v1h-1zM367 455h1v1h-1zM378 446h1v1h-1zM381 452h1v1h-1zM370 458h1v1h-1zM377 444h1v1h-1zM371 445h1v1h-1zM370 451h1v1h-1zM368 455h1v1h-1zM361 456h1v1h-1zM378 452h1v1h-1zM376 453h1v1h-1zM376 458h1v1h-1zM375 454h1v1h-1zM378 443h1v1h-1zM357 446h1v1h-1zM380 457h1v1h-1zM391 460h1v1h-1zM368 450h1v1h-1zM361 454h1v1h-1zM360 459h1v1h-1zM361 452h1v1h-1zM360 450h1v1h-1zM371 439h1v1h-1zM448 443h1v1h-1zM431 454h1v1h-1zM465 459h1v1h-1zM456 443h1v1h-1zM426 456h1v1h-1zM443 446h1v1h-1zM448 444h1v1h-1zM469 454h1v1h-1zM433 448h1v1h-1zM456 440h1v1h-1zM467 452h1v1h-1zM463 445h1v1h-1zM447 445h1v1h-1zM463 443h1v1h-1zM462 445h1v1h-1zM462 442h1v1h-1zM466 459h1v1h-1zM446 445h1v1h-1zM465 449h1v1h-1zM446 443h1v1h-1zM470 451h1v1h-1zM465 447h1v1h-1zM430 447h1v1h-1zM459 439h1v1h-1zM455 442h1v1h-1zM429 449h1v1h-1zM428 448h1v1h-1zM445 445h1v1h-1zM455 441h1v1h-1zM431 453h1v1h-1zM466 453h1v1h-1zM441 445h1v1h-1zM432 450h1v1h-1zM465 457h1v1h-1zM461 443h1v1h-1zM445 443h1v1h-1zM429 453h1v1h-1zM467 447h1v1h-1zM430 454h1v1h-1zM457 442h1v1h-1zM452 440h1v1h-1zM449 444h1v1h-1zM442 444h1v1h-1zM432 442h1v1h-1zM466 456h1v1h-1zM436 447h1v1h-1zM462 438h1v1h-1zM457 443h1v1h-1zM447 439h1v1h-1zM446 439h1v1h-1zM445 446h1v1h-1zM467 445h1v1h-1zM429 455h1v1h-1zM465 443h1v1h-1zM460 438h1v1h-1zM462 441h1v1h-1zM465 442h1v1h-1zM444 446h1v1h-1zM435 446h1v1h-1zM434 447h1v1h-1zM452 441h1v1h-1zM452 444h1v1h-1zM467 456h1v1h-1zM463 444h1v1h-1zM467 446h1v1h-1zM430 451h1v1h-1zM438 446h1v1h-1zM431 452h1v1h-1zM468 455h1v1h-1zM469 451h1v1h-1zM459 443h1v1h-1zM430 456h1v1h-1zM470 452h1v1h-1zM432 444h1v1h-1zM434 449h1v1h-1zM441 441h1v1h-1zM467 458h1v1h-1zM435 447h1v1h-1zM465 450h1v1h-1zM443 443h1v1h-1zM465 441h1v1h-1zM476 444h1v1h-1zM469 452h1v1h-1zM450 443h1v1h-1zM462 444h1v1h-1zM463 442h1v1h-1zM465 451h1v1h-1zM430 450h1v1h-1zM451 444h1v1h-1zM467 451h1v1h-1zM439 446h1v1h-1zM466 448h1v1h-1zM429 458h1v1h-1zM438 447h1v1h-1zM459 441h1v1h-1zM459 442h1v1h-1zM450 440h1v1h-1zM452 443h1v1h-1zM442 446h1v1h-1zM434 448h1v1h-1zM427 457h1v1h-1zM431 449h1v1h-1zM445 442h1v1h-1zM455 443h1v1h-1zM429 454h1v1h-1zM435 448h1v1h-1zM464 445h1v1h-1zM442 445h1v1h-1zM466 443h1v1h-1zM430 453h1v1h-1zM429 459h1v1h-1zM431 457h1v1h-1zM470 454h1v1h-1zM466 447h1v1h-1zM469 444h1v1h-1zM466 444h1v1h-1zM433 446h1v1h-1zM466 457h1v1h-1zM458 441h1v1h-1zM428 455h1v1h-1zM450 445h1v1h-1zM466 455h1v1h-1zM460 443h1v1h-1zM441 444h1v1h-1zM446 441h1v1h-1zM430 452h1v1h-1zM427 450h1v1h-1zM427 455h1v1h-1zM450 444h1v1h-1zM459 440h1v1h-1zM458 438h1v1h-1zM430 455h1v1h-1zM451 442h1v1h-1zM458 442h1v1h-1zM466 446h1v1h-1zM466 449h1v1h-1zM429 450h1v1h-1zM454 444h1v1h-1zM428 454h1v1h-1zM444 443h1v1h-1zM472 449h1v1h-1zM461 440h1v1h-1zM430 441h1v1h-1zM470 456h1v1h-1zM451 441h1v1h-1zM467 454h1v1h-1zM453 444h1v1h-1zM462 439h1v1h-1zM431 450h1v1h-1zM461 445h1v1h-1zM461 442h1v1h-1zM458 444h1v1h-1zM448 442h1v1h-1zM436 448h1v1h-1zM440 445h1v1h-1zM468 451h1v1h-1zM464 459h1v1h-1zM465 453h1v1h-1zM467 455h1v1h-1zM442 441h1v1h-1zM429 448h1v1h-1zM428 456h1v1h-1zM460 444h1v1h-1zM456 441h1v1h-1zM466 454h1v1h-1zM470 457h1v1h-1zM440 447h1v1h-1zM465 445h1v1h-1zM426 452h1v1h-1zM461 444h1v1h-1zM434 446h1v1h-1zM428 459h1v1h-1zM434 450h1v1h-1zM466 450h1v1h-1zM437 446h1v1h-1zM468 459h1v1h-1zM457 438h1v1h-1zM433 449h1v1h-1zM428 447h1v1h-1zM454 425h1v1h-1zM453 429h1v1h-1zM447 429h1v1h-1zM463 435h1v1h-1zM440 417h1v1h-1zM457 414h1v1h-1zM447 427h1v1h-1zM455 419h1v1h-1zM460 415h1v1h-1zM452 428h1v1h-1zM447 436h1v1h-1zM445 423h1v1h-1zM453 433h1v1h-1zM454 415h1v1h-1zM456 429h1v1h-1zM452 429h1v1h-1zM460 432h1v1h-1zM456 433h1v1h-1zM452 426h1v1h-1zM459 420h1v1h-1zM459 434h1v1h-1zM447 423h1v1h-1zM453 436h1v1h-1zM446 446h1v1h-1zM451 419h1v1h-1zM446 412h1v1h-1zM459 422h1v1h-1zM446 425h1v1h-1zM455 424h1v1h-1zM463 425h1v1h-1zM461 427h1v1h-1zM441 409h1v1h-1zM475 419h1v1h-1zM457 418h1v1h-1zM462 418h1v1h-1zM452 419h1v1h-1zM441 422h1v1h-1zM458 432h1v1h-1zM450 424h1v1h-1zM462 423h1v1h-1zM456 423h1v1h-1zM459 411h1v1h-1zM438 431h1v1h-1zM457 432h1v1h-1zM428 435h1v1h-1zM448 425h1v1h-1zM450 433h1v1h-1zM444 421h1v1h-1zM445 426h1v1h-1zM460 424h1v1h-1zM458 428h1v1h-1zM460 420h1v1h-1zM462 425h1v1h-1zM461 437h1v1h-1zM458 437h1v1h-1zM449 445h1v1h-1zM466 406h1v1h-1zM460 418h1v1h-1zM463 410h1v1h-1zM450 431h1v1h-1zM457 445h1v1h-1zM452 434h1v1h-1zM451 433h1v1h-1zM448 411h1v1h-1zM446 431h1v1h-1zM456 421h1v1h-1zM455 417h1v1h-1zM461 419h1v1h-1zM448 418h1v1h-1zM457 434h1v1h-1zM461 436h1v1h-1zM452 432h1v1h-1zM453 439h1v1h-1zM446 448h1v1h-1zM454 441h1v1h-1zM444 432h1v1h-1zM444 414h1v1h-1zM455 422h1v1h-1zM449 419h1v1h-1zM451 434h1v1h-1zM453 424h1v1h-1zM455 440h1v1h-1zM449 429h1v1h-1zM453 438h1v1h-1zM462 413h1v1h-1zM451 426h1v1h-1zM445 428h1v1h-1zM450 439h1v1h-1zM450 434h1v1h-1zM459 416h1v1h-1zM451 427h1v1h-1zM457 448h1v1h-1zM444 424h1v1h-1zM448 422h1v1h-1zM446 442h1v1h-1zM452 408h1v1h-1zM465 422h1v1h-1zM467 431h1v1h-1zM456 427h1v1h-1zM456 409h1v1h-1zM452 433h1v1h-1zM448 438h1v1h-1zM449 430h1v1h-1zM449 425h1v1h-1zM451 417h1v1h-1zM457 430h1v1h-1zM456 420h1v1h-1zM462 431h1v1h-1zM469 412h1v1h-1zM457 436h1v1h-1zM449 428h1v1h-1zM449 435h1v1h-1zM456 415h1v1h-1zM454 423h1v1h-1zM458 426h1v1h-1zM447 415h1v1h-1zM454 417h1v1h-1zM449 433h1v1h-1zM450 442h1v1h-1zM456 414h1v1h-1zM467 439h1v1h-1zM450 425h1v1h-1zM460 410h1v1h-1zM463 419h1v1h-1zM446 427h1v1h-1zM459 424h1v1h-1zM450 426h1v1h-1zM453 437h1v1h-1zM457 423h1v1h-1zM459 427h1v1h-1zM460 407h1v1h-1zM455 435h1v1h-1zM440 432h1v1h-1zM451 422h1v1h-1zM458 412h1v1h-1zM438 432h1v1h-1zM458 430h1v1h-1zM462 434h1v1h-1zM455 433h1v1h-1zM439 431h1v1h-1zM453 426h1v1h-1zM461 411h1v1h-1zM462 428h1v1h-1zM438 416h1v1h-1zM470 421h1v1h-1zM458 415h1v1h-1zM462 427h1v1h-1zM451 414h1v1h-1zM461 422h1v1h-1zM465 421h1v1h-1zM457 437h1v1h-1zM452 424h1v1h-1zM457 417h1v1h-1zM442 415h1v1h-1zM450 413h1v1h-1zM461 433h1v1h-1zM456 422h1v1h-1zM452 418h1v1h-1zM443 415h1v1h-1zM449 436h1v1h-1zM453 431h1v1h-1zM468 421h1v1h-1zM443 404h1v1h-1zM445 419h1v1h-1zM453 427h1v1h-1zM444 425h1v1h-1zM456 428h1v1h-1zM457 419h1v1h-1zM457 433h1v1h-1zM467 428h1v1h-1zM453 411h1v1h-1zM455 428h1v1h-1zM455 407h1v1h-1zM447 425h1v1h-1zM443 434h1v1h-1zM449 426h1v1h-1zM443 426h1v1h-1zM453 423h1v1h-1zM470 428h1v1h-1zM450 420h1v1h-1zM456 439h1v1h-1zM457 429h1v1h-1zM452 416h1v1h-1zM466 422h1v1h-1zM455 436h1v1h-1zM462 422h1v1h-1zM461 430h1v1h-1zM451 409h1v1h-1zM437 419h1v1h-1zM450 423h1v1h-1zM445 429h1v1h-1zM464 417h1v1h-1zM455 429h1v1h-1zM466 428h1v1h-1zM467 434h1v1h-1zM451 411h1v1h-1zM452 442h1v1h-1zM465 425h1v1h-1zM446 438h1v1h-1zM457 415h1v1h-1zM458 431h1v1h-1zM463 426h1v1h-1zM449 431h1v1h-1zM448 430h1v1h-1zM454 413h1v1h-1zM459 432h1v1h-1zM448 420h1v1h-1zM443 439h1v1h-1zM451 430h1v1h-1zM457 408h1v1h-1zM445 430h1v1h-1zM460 437h1v1h-1zM451 412h1v1h-1zM452 435h1v1h-1zM462 432h1v1h-1zM437 425h1v1h-1zM451 415h1v1h-1zM448 414h1v1h-1zM460 430h1v1h-1zM447 420h1v1h-1zM454 416h1v1h-1zM443 424h1v1h-1zM463 406h1v1h-1zM456 417h1v1h-1zM449 414h1v1h-1zM455 420h1v1h-1zM447 418h1v1h-1zM450 421h1v1h-1zM466 431h1v1h-1zM448 435h1v1h-1zM454 414h1v1h-1zM451 405h1v1h-1zM442 424h1v1h-1zM462 440h1v1h-1zM442 431h1v1h-1zM455 434h1v1h-1zM456 419h1v1h-1zM454 408h1v1h-1zM455 415h1v1h-1zM447 404h1v1h-1zM442 419h1v1h-1zM457 424h1v1h-1zM451 439h1v1h-1zM458 420h1v1h-1zM457 403h1v1h-1zM458 440h1v1h-1zM458 422h1v1h-1zM458 419h1v1h-1zM446 428h1v1h-1zM448 424h1v1h-1zM454 430h1v1h-1zM459 426h1v1h-1zM438 423h1v1h-1zM446 426h1v1h-1zM460 449h1v1h-1zM447 424h1v1h-1zM459 429h1v1h-1zM443 435h1v1h-1zM449 427h1v1h-1zM447 430h1v1h-1zM453 422h1v1h-1zM453 421h1v1h-1zM446 429h1v1h-1zM454 434h1v1h-1zM454 451h1v1h-1zM462 426h1v1h-1zM438 411h1v1h-1zM458 425h1v1h-1zM446 415h1v1h-1zM448 434h1v1h-1zM455 412h1v1h-1zM465 407h1v1h-1zM460 425h1v1h-1zM451 436h1v1h-1zM457 428h1v1h-1zM453 417h1v1h-1zM450 447h1v1h-1zM458 416h1v1h-1zM457 426h1v1h-1zM447 409h1v1h-1zM445 433h1v1h-1zM449 403h1v1h-1zM450 437h1v1h-1zM438 441h1v1h-1zM454 431h1v1h-1zM452 421h1v1h-1zM454 421h1v1h-1zM448 427h1v1h-1zM446 418h1v1h-1zM442 420h1v1h-1zM451 428h1v1h-1zM470 435h1v1h-1zM440 424h1v1h-1zM449 416h1v1h-1zM459 421h1v1h-1zM468 431h1v1h-1zM448 432h1v1h-1zM451 420h1v1h-1zM466 415h1v1h-1zM448 441h1v1h-1zM464 413h1v1h-1zM454 420h1v1h-1zM446 420h1v1h-1zM451 455h1v1h-1zM447 422h1v1h-1zM442 434h1v1h-1zM451 407h1v1h-1zM450 409h1v1h-1zM442 430h1v1h-1zM454 404h1v1h-1zM444 426h1v1h-1zM459 412h1v1h-1zM456 435h1v1h-1zM441 426h1v1h-1zM448 429h1v1h-1zM458 421h1v1h-1zM444 427h1v1h-1zM455 425h1v1h-1zM458 407h1v1h-1zM448 410h1v1h-1zM455 421h1v1h-1zM451 425h1v1h-1zM463 429h1v1h-1zM466 412h1v1h-1zM452 407h1v1h-1zM440 421h1v1h-1zM454 437h1v1h-1zM451 437h1v1h-1zM438 425h1v1h-1zM454 409h1v1h-1zM459 436h1v1h-1zM464 433h1v1h-1zM459 435h1v1h-1zM452 448h1v1h-1zM452 410h1v1h-1zM450 428h1v1h-1zM444 419h1v1h-1zM448 407h1v1h-1zM454 427h1v1h-1zM464 429h1v1h-1zM456 434h1v1h-1zM450 412h1v1h-1zM452 420h1v1h-1zM456 424h1v1h-1zM460 428h1v1h-1zM449 420h1v1h-1zM447 406h1v1h-1zM447 419h1v1h-1zM458 427h1v1h-1zM453 419h1v1h-1zM451 423h1v1h-1zM455 426h1v1h-1zM456 438h1v1h-1zM458 429h1v1h-1zM446 449h1v1h-1zM457 425h1v1h-1zM458 410h1v1h-1zM455 431h1v1h-1zM459 447h1v1h-1zM464 428h1v1h-1zM442 417h1v1h-1zM450 418h1v1h-1zM441 419h1v1h-1zM453 408h1v1h-1zM460 416h1v1h-1zM465 427h1v1h-1zM449 434h1v1h-1zM445 434h1v1h-1zM463 416h1v1h-1zM441 420h1v1h-1zM466 430h1v1h-1zM448 423h1v1h-1zM454 439h1v1h-1zM464 411h1v1h-1zM443 425h1v1h-1zM461 434h1v1h-1zM451 408h1v1h-1zM448 417h1v1h-1zM449 422h1v1h-1zM454 433h1v1h-1zM452 431h1v1h-1zM453 409h1v1h-1zM454 426h1v1h-1zM441 425h1v1h-1zM451 435h1v1h-1zM446 403h1v1h-1zM448 431h1v1h-1zM454 418h1v1h-1zM460 429h1v1h-1zM465 420h1v1h-1zM445 422h1v1h-1zM441 411h1v1h-1zM443 437h1v1h-1zM448 413h1v1h-1zM457 435h1v1h-1zM449 417h1v1h-1zM447 438h1v1h-1zM455 437h1v1h-1zM456 442h1v1h-1zM457 440h1v1h-1zM453 435h1v1h-1zM463 439h1v1h-1zM462 447h1v1h-1zM456 432h1v1h-1zM457 439h1v1h-1zM460 436h1v1h-1zM464 448h1v1h-1zM457 441h1v1h-1zM451 440h1v1h-1zM461 439h1v1h-1zM460 435h1v1h-1zM463 430h1v1h-1zM459 431h1v1h-1zM449 432h1v1h-1zM455 438h1v1h-1zM467 435h1v1h-1zM455 432h1v1h-1zM464 439h1v1h-1zM453 440h1v1h-1zM452 436h1v1h-1zM453 443h1v1h-1zM463 428h1v1h-1zM455 430h1v1h-1zM456 436h1v1h-1zM466 442h1v1h-1zM458 434h1v1h-1zM468 440h1v1h-1zM458 436h1v1h-1zM458 439h1v1h-1zM464 436h1v1h-1zM452 437h1v1h-1zM454 442h1v1h-1zM452 439h1v1h-1zM444 437h1v1h-1zM460 434h1v1h-1zM482 447h1v1h-1zM474 455h1v1h-1zM471 456h1v1h-1zM471 457h1v1h-1zM477 452h1v1h-1zM492 459h1v1h-1zM488 453h1v1h-1zM478 441h1v1h-1zM473 445h1v1h-1zM479 447h1v1h-1zM494 453h1v1h-1zM462 453h1v1h-1zM477 455h1v1h-1zM484 455h1v1h-1zM481 452h1v1h-1zM485 457h1v1h-1zM483 457h1v1h-1zM464 450h1v1h-1zM468 453h1v1h-1zM471 446h1v1h-1zM480 458h1v1h-1zM489 451h1v1h-1zM472 456h1v1h-1zM479 455h1v1h-1zM474 444h1v1h-1zM493 449h1v1h-1zM475 454h1v1h-1zM484 447h1v1h-1zM479 452h1v1h-1zM490 459h1v1h-1zM484 451h1v1h-1zM478 450h1v1h-1zM484 450h1v1h-1zM483 442h1v1h-1zM471 452h1v1h-1zM481 456h1v1h-1zM81 552h1v1h-1zM45 559h1v1h-1zM81 555h1v1h-1zM83 557h1v1h-1zM81 547h1v1h-1zM87 565h1v1h-1zM80 550h1v1h-1zM82 550h1v1h-1zM43 556h1v1h-1zM44 552h1v1h-1zM75 546h1v1h-1zM78 547h1v1h-1zM82 559h1v1h-1zM72 549h1v1h-1zM65 545h1v1h-1zM82 565h1v1h-1zM42 565h1v1h-1zM60 548h1v1h-1zM62 548h1v1h-1zM41 561h1v1h-1zM52 551h1v1h-1zM42 555h1v1h-1zM83 560h1v1h-1zM58 551h1v1h-1zM62 551h1v1h-1zM85 561h1v1h-1zM60 549h1v1h-1zM65 548h1v1h-1zM59 547h1v1h-1zM59 551h1v1h-1zM84 561h1v1h-1zM73 549h1v1h-1zM76 547h1v1h-1zM70 546h1v1h-1zM67 549h1v1h-1zM41 559h1v1h-1zM56 550h1v1h-1zM67 550h1v1h-1zM85 555h1v1h-1zM82 553h1v1h-1zM84 565h1v1h-1zM52 552h1v1h-1zM81 562h1v1h-1zM55 550h1v1h-1zM68 550h1v1h-1zM86 561h1v1h-1zM48 551h1v1h-1zM76 548h1v1h-1zM61 549h1v1h-1zM76 545h1v1h-1zM83 549h1v1h-1zM80 551h1v1h-1zM47 554h1v1h-1zM42 553h1v1h-1zM83 558h1v1h-1zM53 550h1v1h-1zM62 550h1v1h-1zM44 559h1v1h-1zM82 562h1v1h-1zM86 559h1v1h-1zM51 548h1v1h-1zM79 552h1v1h-1zM53 551h1v1h-1zM54 552h1v1h-1zM45 553h1v1h-1zM78 551h1v1h-1zM50 552h1v1h-1zM45 562h1v1h-1zM54 548h1v1h-1zM73 545h1v1h-1zM83 556h1v1h-1zM69 547h1v1h-1zM55 552h1v1h-1zM61 551h1v1h-1zM66 550h1v1h-1zM82 551h1v1h-1zM82 554h1v1h-1zM54 549h1v1h-1zM83 564h1v1h-1zM82 556h1v1h-1zM58 550h1v1h-1zM61 545h1v1h-1zM43 565h1v1h-1zM44 550h1v1h-1zM79 548h1v1h-1zM49 553h1v1h-1zM84 563h1v1h-1zM75 548h1v1h-1zM84 560h1v1h-1zM77 550h1v1h-1zM83 555h1v1h-1zM60 550h1v1h-1zM44 562h1v1h-1zM82 557h1v1h-1zM85 562h1v1h-1zM86 563h1v1h-1zM66 545h1v1h-1zM62 547h1v1h-1zM58 547h1v1h-1zM64 551h1v1h-1zM42 560h1v1h-1zM43 562h1v1h-1zM72 550h1v1h-1zM81 563h1v1h-1zM83 562h1v1h-1zM57 550h1v1h-1zM83 565h1v1h-1zM56 552h1v1h-1zM85 558h1v1h-1zM66 549h1v1h-1zM85 554h1v1h-1zM77 548h1v1h-1zM82 555h1v1h-1zM69 548h1v1h-1zM63 550h1v1h-1zM48 554h1v1h-1zM67 548h1v1h-1zM67 546h1v1h-1zM53 548h1v1h-1zM84 553h1v1h-1zM81 557h1v1h-1zM49 551h1v1h-1zM83 550h1v1h-1zM51 551h1v1h-1zM59 548h1v1h-1zM46 554h1v1h-1zM45 564h1v1h-1zM72 548h1v1h-1zM71 549h1v1h-1zM84 559h1v1h-1zM44 557h1v1h-1zM45 554h1v1h-1zM79 550h1v1h-1zM87 552h1v1h-1zM44 561h1v1h-1zM72 547h1v1h-1zM63 549h1v1h-1zM81 559h1v1h-1zM80 552h1v1h-1zM48 550h1v1h-1zM55 551h1v1h-1zM71 545h1v1h-1zM43 558h1v1h-1zM64 549h1v1h-1zM46 555h1v1h-1zM56 549h1v1h-1zM77 549h1v1h-1zM57 549h1v1h-1zM42 558h1v1h-1zM57 551h1v1h-1zM44 556h1v1h-1zM52 548h1v1h-1zM48 549h1v1h-1zM64 548h1v1h-1zM44 560h1v1h-1zM41 564h1v1h-1zM81 554h1v1h-1zM43 552h1v1h-1zM50 549h1v1h-1zM49 548h1v1h-1zM74 546h1v1h-1zM83 552h1v1h-1zM47 555h1v1h-1zM82 564h1v1h-1zM50 553h1v1h-1zM82 560h1v1h-1zM65 547h1v1h-1zM74 550h1v1h-1zM44 563h1v1h-1zM82 563h1v1h-1zM46 547h1v1h-1zM81 551h1v1h-1zM59 549h1v1h-1zM75 547h1v1h-1zM79 553h1v1h-1zM70 548h1v1h-1zM45 555h1v1h-1zM45 560h1v1h-1zM87 560h1v1h-1zM81 550h1v1h-1zM81 561h1v1h-1zM69 549h1v1h-1zM63 547h1v1h-1zM43 560h1v1h-1zM45 556h1v1h-1zM62 521h1v1h-1zM61 515h1v1h-1zM63 531h1v1h-1zM63 521h1v1h-1zM59 537h1v1h-1zM61 535h1v1h-1zM63 530h1v1h-1zM64 538h1v1h-1zM58 535h1v1h-1zM61 543h1v1h-1zM66 533h1v1h-1zM61 531h1v1h-1zM57 515h1v1h-1zM61 538h1v1h-1zM60 531h1v1h-1zM56 537h1v1h-1zM59 523h1v1h-1zM61 521h1v1h-1zM63 540h1v1h-1zM56 526h1v1h-1zM54 514h1v1h-1zM58 525h1v1h-1zM54 523h1v1h-1zM61 523h1v1h-1zM59 530h1v1h-1zM62 515h1v1h-1zM70 519h1v1h-1zM59 532h1v1h-1zM63 537h1v1h-1zM58 512h1v1h-1zM58 531h1v1h-1zM60 522h1v1h-1zM59 524h1v1h-1zM61 528h1v1h-1zM60 534h1v1h-1zM58 530h1v1h-1zM61 526h1v1h-1zM56 521h1v1h-1zM57 517h1v1h-1zM60 530h1v1h-1zM61 537h1v1h-1zM63 523h1v1h-1zM61 534h1v1h-1zM60 521h1v1h-1zM63 545h1v1h-1zM58 522h1v1h-1zM60 529h1v1h-1zM58 514h1v1h-1zM59 518h1v1h-1zM55 527h1v1h-1zM65 524h1v1h-1zM64 525h1v1h-1zM63 533h1v1h-1zM68 524h1v1h-1zM59 539h1v1h-1zM62 526h1v1h-1zM59 514h1v1h-1zM61 540h1v1h-1zM57 532h1v1h-1zM56 544h1v1h-1zM62 520h1v1h-1zM60 523h1v1h-1zM62 528h1v1h-1zM62 534h1v1h-1zM61 529h1v1h-1zM59 544h1v1h-1zM59 526h1v1h-1zM55 517h1v1h-1zM56 528h1v1h-1zM64 522h1v1h-1zM56 543h1v1h-1zM60 541h1v1h-1zM61 525h1v1h-1zM58 528h1v1h-1zM58 521h1v1h-1zM60 525h1v1h-1zM64 535h1v1h-1zM53 523h1v1h-1zM59 520h1v1h-1zM56 519h1v1h-1zM61 527h1v1h-1zM63 519h1v1h-1zM57 523h1v1h-1zM64 537h1v1h-1zM62 524h1v1h-1zM60 545h1v1h-1zM58 536h1v1h-1zM58 529h1v1h-1zM60 527h1v1h-1zM59 536h1v1h-1zM57 510h1v1h-1zM55 545h1v1h-1zM59 522h1v1h-1zM67 521h1v1h-1zM59 534h1v1h-1zM61 524h1v1h-1zM59 533h1v1h-1zM63 517h1v1h-1zM61 532h1v1h-1zM57 511h1v1h-1zM60 540h1v1h-1zM57 534h1v1h-1zM65 520h1v1h-1zM62 545h1v1h-1zM64 519h1v1h-1zM59 531h1v1h-1zM59 528h1v1h-1zM57 524h1v1h-1zM66 535h1v1h-1zM61 516h1v1h-1zM61 517h1v1h-1zM60 526h1v1h-1zM63 518h1v1h-1zM63 526h1v1h-1zM63 524h1v1h-1zM68 525h1v1h-1zM60 507h1v1h-1zM55 523h1v1h-1zM60 517h1v1h-1zM58 517h1v1h-1zM66 530h1v1h-1zM55 530h1v1h-1zM64 536h1v1h-1zM60 524h1v1h-1zM62 530h1v1h-1zM65 529h1v1h-1zM61 520h1v1h-1zM63 528h1v1h-1zM60 528h1v1h-1zM56 535h1v1h-1zM61 542h1v1h-1zM57 537h1v1h-1zM59 510h1v1h-1zM57 528h1v1h-1zM64 521h1v1h-1zM62 511h1v1h-1zM59 542h1v1h-1zM56 515h1v1h-1zM60 510h1v1h-1zM62 536h1v1h-1zM56 534h1v1h-1zM60 532h1v1h-1zM62 539h1v1h-1zM59 527h1v1h-1zM57 546h1v1h-1zM61 522h1v1h-1zM63 527h1v1h-1zM58 543h1v1h-1zM61 550h1v1h-1zM63 532h1v1h-1zM65 537h1v1h-1zM67 520h1v1h-1zM62 532h1v1h-1zM62 527h1v1h-1zM56 524h1v1h-1zM69 522h1v1h-1zM63 516h1v1h-1zM58 533h1v1h-1zM65 525h1v1h-1zM54 527h1v1h-1zM60 547h1v1h-1zM57 542h1v1h-1zM63 529h1v1h-1zM62 537h1v1h-1zM61 541h1v1h-1zM62 546h1v1h-1zM60 537h1v1h-1zM62 531h1v1h-1zM54 541h1v1h-1zM58 532h1v1h-1zM57 530h1v1h-1zM66 522h1v1h-1zM64 541h1v1h-1zM57 516h1v1h-1zM59 516h1v1h-1zM59 541h1v1h-1zM60 543h1v1h-1zM59 538h1v1h-1zM63 544h1v1h-1zM59 529h1v1h-1zM58 520h1v1h-1zM57 540h1v1h-1zM65 512h1v1h-1zM66 520h1v1h-1zM59 545h1v1h-1zM64 517h1v1h-1zM60 539h1v1h-1zM56 530h1v1h-1zM54 537h1v1h-1zM60 536h1v1h-1zM57 519h1v1h-1zM65 511h1v1h-1zM57 543h1v1h-1zM59 521h1v1h-1zM62 529h1v1h-1zM62 540h1v1h-1zM63 525h1v1h-1zM65 527h1v1h-1zM63 536h1v1h-1zM57 527h1v1h-1zM60 538h1v1h-1zM63 538h1v1h-1zM57 520h1v1h-1zM58 523h1v1h-1zM58 527h1v1h-1zM59 535h1v1h-1zM65 542h1v1h-1zM62 510h1v1h-1zM67 522h1v1h-1zM67 535h1v1h-1zM56 533h1v1h-1zM57 518h1v1h-1zM61 530h1v1h-1zM66 529h1v1h-1zM55 536h1v1h-1zM57 529h1v1h-1zM54 529h1v1h-1zM59 540h1v1h-1zM63 539h1v1h-1zM64 528h1v1h-1zM57 533h1v1h-1zM64 524h1v1h-1zM69 530h1v1h-1zM65 514h1v1h-1zM64 540h1v1h-1zM61 514h1v1h-1zM56 542h1v1h-1zM57 541h1v1h-1zM59 513h1v1h-1zM63 552h1v1h-1zM66 538h1v1h-1zM65 521h1v1h-1zM62 522h1v1h-1zM66 524h1v1h-1zM63 534h1v1h-1zM64 527h1v1h-1zM62 525h1v1h-1zM53 519h1v1h-1zM61 547h1v1h-1zM63 513h1v1h-1zM65 518h1v1h-1zM65 534h1v1h-1zM55 518h1v1h-1zM54 535h1v1h-1zM54 517h1v1h-1zM60 516h1v1h-1zM58 519h1v1h-1zM57 526h1v1h-1zM53 544h1v1h-1zM63 535h1v1h-1zM59 515h1v1h-1zM65 515h1v1h-1zM59 519h1v1h-1zM57 522h1v1h-1zM68 520h1v1h-1zM64 533h1v1h-1zM66 523h1v1h-1zM57 544h1v1h-1zM52 523h1v1h-1zM56 545h1v1h-1zM61 533h1v1h-1zM58 509h1v1h-1zM65 540h1v1h-1zM63 546h1v1h-1zM58 558h1v1h-1zM62 523h1v1h-1zM58 534h1v1h-1zM65 532h1v1h-1zM52 526h1v1h-1zM63 542h1v1h-1zM80 554h1v1h-1zM101 547h1v1h-1zM96 558h1v1h-1zM73 559h1v1h-1zM91 553h1v1h-1zM99 556h1v1h-1zM95 558h1v1h-1zM91 559h1v1h-1zM89 563h1v1h-1zM69 560h1v1h-1zM95 564h1v1h-1zM102 564h1v1h-1zM84 547h1v1h-1zM90 557h1v1h-1zM78 557h1v1h-1zM90 545h1v1h-1zM100 546h1v1h-1zM95 557h1v1h-1zM75 557h1v1h-1zM87 551h1v1h-1zM76 551h1v1h-1zM85 556h1v1h-1zM91 551h1v1h-1zM86 551h1v1h-1zM84 552h1v1h-1zM101 553h1v1h-1zM99 555h1v1h-1zM100 564h1v1h-1zM90 558h1v1h-1zM88 553h1v1h-1zM72 558h1v1h-1zM90 553h1v1h-1zM103 545h1v1h-1zM96 556h1v1h-1zM93 562h1v1h-1zM112 555h1v1h-1zM79 555h1v1h-1zM74 554h1v1h-1zM85 559h1v1h-1zM90 550h1v1h-1zM86 558h1v1h-1zM89 553h1v1h-1zM89 562h1v1h-1zM84 554h1v1h-1zM101 558h1v1h-1zM110 553h1v1h-1zM83 554h1v1h-1zM92 556h1v1h-1zM84 557h1v1h-1zM86 556h1v1h-1zM88 556h1v1h-1zM95 556h1v1h-1zM78 554h1v1h-1zM92 554h1v1h-1zM91 557h1v1h-1zM87 558h1v1h-1zM90 563h1v1h-1zM76 549h1v1h-1zM86 554h1v1h-1zM83 559h1v1h-1zM75 550h1v1h-1zM76 555h1v1h-1zM87 563h1v1h-1zM88 559h1v1h-1zM100 550h1v1h-1zM84 558h1v1h-1zM85 560h1v1h-1zM93 551h1v1h-1zM87 547h1v1h-1zM98 556h1v1h-1zM87 556h1v1h-1zM80 558h1v1h-1zM79 557h1v1h-1zM88 549h1v1h-1zM106 557h1v1h-1zM101 551h1v1h-1zM95 550h1v1h-1zM99 546h1v1h-1zM94 554h1v1h-1zM95 559h1v1h-1zM93 564h1v1h-1zM85 557h1v1h-1zM93 552h1v1h-1zM86 549h1v1h-1zM90 564h1v1h-1zM90 560h1v1h-1zM97 560h1v1h-1zM89 555h1v1h-1zM84 550h1v1h-1zM86 545h1v1h-1zM60 562h1v1h-1zM67 539h1v1h-1zM73 538h1v1h-1zM55 531h1v1h-1zM65 528h1v1h-1zM53 539h1v1h-1zM52 537h1v1h-1zM42 534h1v1h-1zM87 537h1v1h-1zM78 531h1v1h-1zM90 540h1v1h-1zM61 558h1v1h-1zM76 544h1v1h-1zM68 541h1v1h-1zM99 532h1v1h-1zM86 528h1v1h-1zM93 519h1v1h-1zM94 538h1v1h-1zM70 536h1v1h-1zM58 526h1v1h-1zM46 530h1v1h-1zM79 527h1v1h-1zM76 540h1v1h-1zM69 531h1v1h-1zM75 539h1v1h-1zM62 516h1v1h-1zM65 550h1v1h-1zM67 541h1v1h-1zM92 541h1v1h-1zM98 546h1v1h-1zM53 528h1v1h-1zM79 544h1v1h-1zM55 537h1v1h-1zM54 540h1v1h-1zM89 560h1v1h-1zM66 546h1v1h-1zM85 534h1v1h-1zM71 528h1v1h-1zM73 528h1v1h-1zM72 525h1v1h-1zM72 532h1v1h-1zM82 537h1v1h-1zM69 532h1v1h-1zM65 549h1v1h-1zM99 540h1v1h-1zM65 554h1v1h-1zM68 549h1v1h-1zM80 543h1v1h-1zM89 540h1v1h-1zM79 519h1v1h-1zM74 548h1v1h-1zM64 553h1v1h-1zM55 539h1v1h-1zM71 556h1v1h-1zM77 539h1v1h-1zM97 540h1v1h-1zM85 539h1v1h-1zM62 543h1v1h-1zM84 544h1v1h-1zM77 543h1v1h-1zM89 544h1v1h-1zM70 526h1v1h-1zM75 535h1v1h-1zM63 520h1v1h-1zM54 547h1v1h-1zM62 542h1v1h-1zM79 534h1v1h-1zM67 531h1v1h-1zM79 547h1v1h-1zM72 545h1v1h-1zM43 563h1v1h-1zM45 561h1v1h-1zM44 558h1v1h-1zM46 563h1v1h-1zM49 564h1v1h-1zM45 557h1v1h-1zM40 560h1v1h-1zM43 559h1v1h-1zM45 558h1v1h-1zM49 560h1v1h-1zM42 564h1v1h-1zM41 557h1v1h-1zM45 563h1v1h-1zM49 559h1v1h-1zM41 565h1v1h-1zM47 553h1v1h-1zM47 564h1v1h-1zM47 560h1v1h-1zM43 554h1v1h-1zM202 553h1v1h-1zM194 552h1v1h-1zM245 554h1v1h-1zM215 548h1v1h-1zM181 552h1v1h-1zM248 565h1v1h-1zM222 547h1v1h-1zM218 551h1v1h-1zM214 548h1v1h-1zM245 555h1v1h-1zM220 551h1v1h-1zM247 562h1v1h-1zM245 549h1v1h-1zM218 549h1v1h-1zM223 545h1v1h-1zM205 550h1v1h-1zM205 552h1v1h-1zM200 552h1v1h-1zM175 558h1v1h-1zM239 547h1v1h-1zM237 549h1v1h-1zM211 546h1v1h-1zM238 548h1v1h-1zM224 549h1v1h-1zM187 553h1v1h-1zM178 552h1v1h-1zM198 553h1v1h-1zM221 548h1v1h-1zM238 550h1v1h-1zM249 558h1v1h-1zM220 549h1v1h-1zM183 551h1v1h-1zM196 551h1v1h-1zM235 547h1v1h-1zM245 556h1v1h-1zM224 551h1v1h-1zM245 557h1v1h-1zM185 551h1v1h-1zM235 549h1v1h-1zM217 552h1v1h-1zM213 552h1v1h-1zM210 553h1v1h-1zM245 558h1v1h-1zM183 552h1v1h-1zM246 564h1v1h-1zM247 559h1v1h-1zM239 548h1v1h-1zM249 556h1v1h-1zM203 552h1v1h-1zM246 557h1v1h-1zM176 552h1v1h-1zM240 547h1v1h-1zM248 564h1v1h-1zM225 550h1v1h-1zM249 559h1v1h-1zM246 561h1v1h-1zM185 550h1v1h-1zM242 551h1v1h-1zM243 550h1v1h-1zM216 552h1v1h-1zM216 551h1v1h-1zM184 551h1v1h-1zM229 548h1v1h-1zM196 553h1v1h-1zM246 563h1v1h-1zM231 544h1v1h-1zM178 554h1v1h-1zM239 549h1v1h-1zM246 559h1v1h-1zM200 548h1v1h-1zM187 552h1v1h-1zM250 560h1v1h-1zM245 559h1v1h-1zM203 553h1v1h-1zM233 549h1v1h-1zM175 565h1v1h-1zM194 553h1v1h-1zM193 553h1v1h-1zM212 552h1v1h-1zM228 548h1v1h-1zM189 553h1v1h-1zM216 549h1v1h-1zM197 548h1v1h-1zM251 548h1v1h-1zM245 562h1v1h-1zM248 554h1v1h-1zM210 545h1v1h-1zM203 549h1v1h-1zM174 553h1v1h-1zM245 561h1v1h-1zM175 562h1v1h-1zM175 556h1v1h-1zM203 548h1v1h-1zM192 553h1v1h-1zM187 549h1v1h-1zM229 550h1v1h-1zM224 550h1v1h-1zM237 550h1v1h-1zM226 547h1v1h-1zM233 547h1v1h-1zM186 553h1v1h-1zM189 551h1v1h-1zM207 548h1v1h-1zM230 550h1v1h-1zM240 550h1v1h-1zM232 545h1v1h-1zM224 545h1v1h-1zM246 554h1v1h-1zM246 552h1v1h-1zM248 553h1v1h-1zM245 553h1v1h-1zM213 548h1v1h-1zM199 550h1v1h-1zM194 549h1v1h-1zM216 546h1v1h-1zM248 555h1v1h-1zM202 552h1v1h-1zM194 551h1v1h-1zM250 556h1v1h-1zM244 550h1v1h-1zM179 550h1v1h-1zM220 547h1v1h-1zM245 560h1v1h-1zM174 558h1v1h-1zM226 549h1v1h-1zM210 550h1v1h-1zM247 556h1v1h-1zM197 552h1v1h-1zM215 551h1v1h-1zM174 555h1v1h-1zM178 550h1v1h-1zM250 553h1v1h-1zM241 550h1v1h-1zM244 544h1v1h-1zM244 553h1v1h-1zM240 549h1v1h-1zM175 549h1v1h-1zM244 563h1v1h-1zM192 550h1v1h-1zM211 552h1v1h-1zM241 547h1v1h-1zM191 552h1v1h-1zM175 553h1v1h-1zM243 544h1v1h-1zM225 547h1v1h-1zM205 551h1v1h-1zM200 553h1v1h-1zM183 550h1v1h-1zM177 552h1v1h-1zM227 548h1v1h-1zM211 550h1v1h-1zM246 565h1v1h-1zM208 551h1v1h-1zM251 553h1v1h-1zM221 551h1v1h-1zM208 550h1v1h-1zM207 549h1v1h-1zM227 550h1v1h-1zM211 551h1v1h-1zM248 561h1v1h-1zM206 551h1v1h-1zM191 551h1v1h-1zM229 547h1v1h-1zM182 553h1v1h-1zM239 550h1v1h-1zM209 552h1v1h-1zM174 559h1v1h-1zM250 555h1v1h-1zM191 553h1v1h-1zM210 552h1v1h-1zM222 549h1v1h-1zM200 551h1v1h-1zM220 550h1v1h-1zM197 553h1v1h-1zM214 549h1v1h-1zM216 550h1v1h-1zM218 545h1v1h-1zM209 548h1v1h-1zM175 563h1v1h-1zM188 552h1v1h-1zM232 549h1v1h-1zM246 560h1v1h-1zM206 552h1v1h-1zM244 561h1v1h-1zM234 547h1v1h-1zM245 548h1v1h-1zM245 564h1v1h-1zM226 550h1v1h-1zM195 552h1v1h-1zM175 555h1v1h-1zM175 561h1v1h-1zM248 552h1v1h-1zM215 550h1v1h-1zM190 552h1v1h-1zM175 559h1v1h-1zM246 562h1v1h-1zM247 558h1v1h-1zM222 550h1v1h-1zM230 549h1v1h-1zM199 553h1v1h-1zM174 562h1v1h-1zM221 550h1v1h-1zM181 551h1v1h-1zM242 549h1v1h-1zM178 553h1v1h-1zM209 550h1v1h-1zM209 553h1v1h-1zM190 551h1v1h-1zM195 553h1v1h-1zM205 548h1v1h-1zM201 553h1v1h-1zM182 552h1v1h-1zM244 555h1v1h-1zM247 553h1v1h-1zM232 550h1v1h-1zM248 558h1v1h-1zM246 556h1v1h-1zM217 550h1v1h-1zM195 550h1v1h-1zM202 548h1v1h-1zM224 544h1v1h-1zM219 551h1v1h-1zM220 545h1v1h-1zM202 550h1v1h-1zM247 561h1v1h-1zM186 552h1v1h-1zM238 549h1v1h-1zM193 530h1v1h-1zM197 534h1v1h-1zM191 532h1v1h-1zM197 514h1v1h-1zM194 521h1v1h-1zM191 541h1v1h-1zM194 533h1v1h-1zM197 541h1v1h-1zM192 530h1v1h-1zM198 536h1v1h-1zM195 513h1v1h-1zM195 509h1v1h-1zM189 531h1v1h-1zM195 537h1v1h-1zM194 528h1v1h-1zM195 549h1v1h-1zM196 518h1v1h-1zM199 515h1v1h-1zM199 548h1v1h-1zM191 534h1v1h-1zM190 518h1v1h-1zM198 535h1v1h-1zM200 536h1v1h-1zM190 534h1v1h-1zM192 520h1v1h-1zM196 544h1v1h-1zM198 526h1v1h-1zM192 536h1v1h-1zM196 521h1v1h-1zM188 509h1v1h-1zM195 512h1v1h-1zM198 516h1v1h-1zM195 525h1v1h-1zM189 525h1v1h-1zM195 543h1v1h-1zM200 528h1v1h-1zM194 538h1v1h-1zM197 520h1v1h-1zM194 537h1v1h-1zM197 532h1v1h-1zM192 517h1v1h-1zM193 540h1v1h-1zM198 509h1v1h-1zM196 539h1v1h-1zM203 522h1v1h-1zM192 543h1v1h-1zM193 522h1v1h-1zM193 525h1v1h-1zM196 531h1v1h-1zM197 524h1v1h-1zM199 524h1v1h-1zM198 520h1v1h-1zM194 522h1v1h-1zM196 530h1v1h-1zM194 541h1v1h-1zM188 535h1v1h-1zM194 512h1v1h-1zM196 515h1v1h-1zM201 523h1v1h-1zM193 520h1v1h-1zM198 527h1v1h-1zM195 546h1v1h-1zM196 525h1v1h-1zM197 508h1v1h-1zM194 525h1v1h-1zM194 526h1v1h-1zM190 516h1v1h-1zM189 515h1v1h-1zM194 534h1v1h-1zM194 514h1v1h-1zM200 534h1v1h-1zM192 511h1v1h-1zM195 510h1v1h-1zM197 531h1v1h-1zM193 538h1v1h-1zM193 529h1v1h-1zM196 526h1v1h-1zM191 528h1v1h-1zM200 535h1v1h-1zM199 519h1v1h-1zM193 537h1v1h-1zM191 530h1v1h-1zM193 519h1v1h-1zM192 540h1v1h-1zM199 536h1v1h-1zM191 555h1v1h-1zM195 523h1v1h-1zM189 532h1v1h-1zM197 539h1v1h-1zM193 508h1v1h-1zM200 513h1v1h-1zM201 535h1v1h-1zM196 520h1v1h-1zM201 558h1v1h-1zM195 532h1v1h-1zM195 541h1v1h-1zM189 535h1v1h-1zM194 518h1v1h-1zM194 516h1v1h-1zM197 513h1v1h-1zM201 522h1v1h-1zM190 533h1v1h-1zM194 527h1v1h-1zM199 552h1v1h-1zM198 517h1v1h-1zM200 520h1v1h-1zM193 532h1v1h-1zM193 518h1v1h-1zM197 540h1v1h-1zM199 523h1v1h-1zM195 542h1v1h-1zM195 530h1v1h-1zM195 529h1v1h-1zM194 540h1v1h-1zM193 544h1v1h-1zM197 527h1v1h-1zM196 538h1v1h-1zM193 515h1v1h-1zM192 514h1v1h-1zM197 523h1v1h-1zM196 511h1v1h-1zM197 519h1v1h-1zM194 542h1v1h-1zM197 542h1v1h-1zM196 524h1v1h-1zM199 514h1v1h-1zM195 522h1v1h-1zM202 525h1v1h-1zM195 517h1v1h-1zM196 535h1v1h-1zM200 530h1v1h-1zM198 525h1v1h-1zM199 540h1v1h-1zM191 538h1v1h-1zM191 536h1v1h-1zM198 518h1v1h-1zM191 529h1v1h-1zM197 533h1v1h-1zM196 534h1v1h-1zM194 536h1v1h-1zM202 534h1v1h-1zM195 533h1v1h-1zM197 521h1v1h-1zM198 524h1v1h-1zM195 534h1v1h-1zM197 545h1v1h-1zM191 519h1v1h-1zM199 516h1v1h-1zM196 541h1v1h-1zM201 549h1v1h-1zM195 538h1v1h-1zM201 516h1v1h-1zM193 514h1v1h-1zM199 520h1v1h-1zM197 522h1v1h-1zM200 514h1v1h-1zM197 535h1v1h-1zM194 539h1v1h-1zM195 528h1v1h-1zM195 511h1v1h-1zM198 531h1v1h-1zM192 525h1v1h-1zM196 514h1v1h-1zM197 543h1v1h-1zM200 546h1v1h-1zM197 559h1v1h-1zM194 531h1v1h-1zM195 531h1v1h-1zM191 512h1v1h-1zM195 536h1v1h-1zM198 540h1v1h-1zM200 507h1v1h-1zM197 529h1v1h-1zM202 530h1v1h-1zM192 524h1v1h-1zM198 533h1v1h-1zM191 527h1v1h-1zM198 541h1v1h-1zM199 541h1v1h-1zM190 540h1v1h-1zM195 540h1v1h-1zM193 517h1v1h-1zM191 525h1v1h-1zM197 511h1v1h-1zM196 522h1v1h-1zM193 535h1v1h-1zM196 529h1v1h-1zM199 527h1v1h-1zM197 528h1v1h-1zM201 546h1v1h-1zM189 522h1v1h-1zM199 531h1v1h-1zM200 542h1v1h-1zM187 530h1v1h-1zM203 528h1v1h-1zM201 532h1v1h-1zM192 521h1v1h-1zM196 527h1v1h-1zM197 526h1v1h-1zM194 532h1v1h-1zM197 517h1v1h-1zM195 514h1v1h-1zM196 523h1v1h-1zM197 546h1v1h-1zM205 532h1v1h-1zM198 539h1v1h-1zM197 530h1v1h-1zM194 509h1v1h-1zM190 536h1v1h-1zM200 527h1v1h-1zM191 543h1v1h-1zM199 521h1v1h-1zM198 514h1v1h-1zM194 545h1v1h-1zM192 516h1v1h-1zM199 528h1v1h-1zM196 540h1v1h-1zM193 516h1v1h-1zM192 539h1v1h-1zM195 519h1v1h-1zM190 512h1v1h-1zM200 531h1v1h-1zM199 509h1v1h-1zM198 552h1v1h-1zM192 523h1v1h-1zM202 536h1v1h-1zM193 539h1v1h-1zM194 510h1v1h-1zM200 512h1v1h-1zM188 534h1v1h-1zM198 513h1v1h-1zM194 517h1v1h-1zM195 535h1v1h-1zM191 524h1v1h-1zM192 509h1v1h-1zM200 515h1v1h-1zM198 528h1v1h-1zM200 538h1v1h-1zM196 519h1v1h-1zM189 541h1v1h-1zM191 523h1v1h-1zM193 536h1v1h-1zM196 528h1v1h-1zM199 547h1v1h-1zM192 528h1v1h-1zM190 532h1v1h-1zM193 526h1v1h-1zM189 537h1v1h-1zM189 526h1v1h-1zM197 525h1v1h-1zM201 527h1v1h-1zM200 525h1v1h-1zM199 535h1v1h-1zM193 511h1v1h-1zM200 521h1v1h-1zM193 523h1v1h-1zM194 524h1v1h-1zM197 536h1v1h-1zM202 521h1v1h-1zM198 543h1v1h-1zM197 537h1v1h-1zM200 540h1v1h-1zM190 529h1v1h-1zM198 515h1v1h-1zM193 542h1v1h-1zM188 539h1v1h-1zM189 540h1v1h-1zM196 508h1v1h-1zM199 549h1v1h-1zM198 522h1v1h-1zM196 532h1v1h-1zM202 545h1v1h-1zM193 531h1v1h-1zM194 523h1v1h-1zM191 531h1v1h-1zM193 533h1v1h-1zM192 510h1v1h-1zM194 520h1v1h-1zM199 512h1v1h-1zM195 520h1v1h-1zM192 531h1v1h-1zM190 522h1v1h-1zM196 547h1v1h-1zM196 533h1v1h-1zM190 526h1v1h-1zM199 529h1v1h-1zM198 530h1v1h-1zM187 526h1v1h-1zM195 526h1v1h-1zM200 537h1v1h-1zM195 524h1v1h-1zM195 516h1v1h-1zM195 518h1v1h-1zM192 519h1v1h-1zM201 536h1v1h-1zM191 533h1v1h-1zM193 541h1v1h-1zM191 514h1v1h-1zM196 517h1v1h-1zM201 531h1v1h-1zM197 512h1v1h-1zM192 529h1v1h-1zM198 549h1v1h-1zM198 534h1v1h-1zM193 527h1v1h-1zM199 534h1v1h-1zM194 535h1v1h-1zM198 523h1v1h-1zM190 531h1v1h-1zM190 535h1v1h-1zM188 537h1v1h-1zM196 542h1v1h-1zM189 509h1v1h-1zM190 510h1v1h-1zM193 521h1v1h-1zM204 513h1v1h-1zM199 522h1v1h-1zM199 532h1v1h-1zM192 542h1v1h-1zM197 550h1v1h-1zM201 508h1v1h-1zM190 521h1v1h-1zM195 544h1v1h-1zM194 519h1v1h-1zM192 522h1v1h-1zM198 544h1v1h-1zM192 537h1v1h-1zM195 560h1v1h-1zM192 556h1v1h-1zM193 548h1v1h-1zM187 542h1v1h-1zM182 551h1v1h-1zM188 545h1v1h-1zM179 541h1v1h-1zM176 556h1v1h-1zM179 555h1v1h-1zM188 555h1v1h-1zM186 548h1v1h-1zM178 544h1v1h-1zM178 547h1v1h-1zM182 538h1v1h-1zM183 545h1v1h-1zM177 553h1v1h-1zM182 547h1v1h-1zM180 556h1v1h-1zM188 558h1v1h-1zM179 543h1v1h-1zM187 554h1v1h-1zM178 556h1v1h-1zM179 549h1v1h-1zM192 557h1v1h-1zM182 537h1v1h-1zM178 555h1v1h-1zM178 541h1v1h-1zM180 547h1v1h-1zM180 551h1v1h-1zM181 544h1v1h-1zM181 542h1v1h-1zM192 538h1v1h-1zM180 548h1v1h-1zM180 554h1v1h-1zM181 555h1v1h-1zM176 548h1v1h-1zM180 560h1v1h-1zM181 561h1v1h-1zM178 538h1v1h-1zM180 552h1v1h-1zM176 549h1v1h-1zM178 549h1v1h-1zM186 544h1v1h-1zM184 557h1v1h-1zM183 540h1v1h-1zM180 542h1v1h-1zM178 534h1v1h-1zM181 540h1v1h-1zM189 544h1v1h-1zM186 550h1v1h-1zM181 547h1v1h-1zM188 549h1v1h-1zM183 549h1v1h-1zM182 549h1v1h-1zM189 549h1v1h-1zM177 545h1v1h-1zM182 539h1v1h-1zM199 546h1v1h-1zM182 555h1v1h-1zM186 532h1v1h-1zM190 553h1v1h-1zM176 550h1v1h-1zM182 548h1v1h-1zM185 536h1v1h-1zM179 551h1v1h-1zM200 539h1v1h-1zM186 541h1v1h-1zM190 546h1v1h-1zM187 546h1v1h-1zM188 551h1v1h-1zM183 546h1v1h-1zM185 554h1v1h-1zM187 540h1v1h-1zM190 541h1v1h-1zM190 547h1v1h-1zM175 548h1v1h-1zM178 537h1v1h-1zM182 544h1v1h-1zM178 543h1v1h-1zM188 542h1v1h-1zM183 544h1v1h-1zM185 548h1v1h-1zM178 546h1v1h-1zM188 547h1v1h-1zM175 550h1v1h-1zM176 553h1v1h-1zM185 538h1v1h-1zM189 542h1v1h-1zM179 547h1v1h-1zM175 542h1v1h-1zM179 546h1v1h-1zM177 535h1v1h-1zM180 531h1v1h-1zM181 545h1v1h-1zM179 542h1v1h-1zM191 563h1v1h-1zM177 550h1v1h-1zM181 546h1v1h-1zM180 550h1v1h-1zM187 543h1v1h-1zM192 546h1v1h-1zM186 540h1v1h-1zM186 547h1v1h-1zM191 546h1v1h-1zM182 546h1v1h-1zM186 545h1v1h-1zM183 535h1v1h-1zM190 544h1v1h-1zM183 543h1v1h-1zM177 541h1v1h-1zM176 540h1v1h-1zM188 554h1v1h-1zM176 539h1v1h-1zM186 546h1v1h-1zM175 547h1v1h-1zM186 538h1v1h-1zM192 554h1v1h-1zM180 540h1v1h-1zM176 551h1v1h-1zM176 543h1v1h-1zM184 552h1v1h-1zM185 547h1v1h-1zM187 532h1v1h-1zM175 551h1v1h-1zM181 541h1v1h-1zM183 556h1v1h-1zM189 539h1v1h-1zM186 542h1v1h-1zM185 542h1v1h-1zM187 557h1v1h-1zM187 538h1v1h-1zM188 556h1v1h-1zM189 543h1v1h-1zM191 547h1v1h-1zM186 558h1v1h-1zM181 537h1v1h-1zM184 549h1v1h-1zM183 539h1v1h-1zM185 555h1v1h-1zM182 542h1v1h-1zM193 556h1v1h-1zM180 538h1v1h-1zM178 540h1v1h-1zM190 550h1v1h-1zM186 555h1v1h-1zM185 545h1v1h-1zM179 548h1v1h-1zM190 548h1v1h-1zM176 545h1v1h-1zM176 547h1v1h-1zM175 543h1v1h-1zM192 544h1v1h-1zM180 543h1v1h-1zM189 558h1v1h-1zM177 534h1v1h-1zM193 543h1v1h-1zM184 550h1v1h-1zM179 553h1v1h-1zM177 543h1v1h-1zM179 534h1v1h-1zM176 554h1v1h-1zM186 543h1v1h-1zM183 548h1v1h-1zM177 549h1v1h-1zM189 548h1v1h-1zM191 557h1v1h-1zM199 545h1v1h-1zM179 552h1v1h-1zM180 539h1v1h-1zM184 548h1v1h-1zM185 543h1v1h-1zM179 545h1v1h-1zM191 540h1v1h-1zM205 544h1v1h-1zM194 547h1v1h-1zM205 539h1v1h-1zM192 548h1v1h-1zM189 545h1v1h-1zM191 544h1v1h-1zM184 547h1v1h-1zM196 549h1v1h-1zM191 542h1v1h-1zM196 546h1v1h-1zM193 547h1v1h-1zM192 545h1v1h-1zM204 546h1v1h-1zM200 549h1v1h-1zM204 544h1v1h-1zM201 547h1v1h-1zM205 545h1v1h-1zM200 547h1v1h-1zM204 554h1v1h-1zM196 548h1v1h-1zM204 532h1v1h-1zM201 548h1v1h-1zM200 541h1v1h-1zM202 546h1v1h-1zM206 545h1v1h-1zM191 550h1v1h-1zM201 544h1v1h-1zM200 543h1v1h-1zM194 544h1v1h-1zM197 544h1v1h-1zM193 546h1v1h-1zM211 543h1v1h-1zM189 550h1v1h-1zM200 545h1v1h-1zM203 543h1v1h-1zM201 541h1v1h-1zM183 547h1v1h-1zM202 539h1v1h-1zM230 516h1v1h-1zM203 517h1v1h-1zM218 521h1v1h-1zM244 541h1v1h-1zM207 539h1v1h-1zM212 544h1v1h-1zM222 515h1v1h-1zM238 528h1v1h-1zM243 537h1v1h-1zM233 539h1v1h-1zM207 546h1v1h-1zM229 533h1v1h-1zM234 519h1v1h-1zM238 512h1v1h-1zM209 541h1v1h-1zM236 536h1v1h-1zM215 519h1v1h-1zM240 525h1v1h-1zM206 521h1v1h-1zM228 523h1v1h-1zM245 513h1v1h-1zM230 534h1v1h-1zM242 507h1v1h-1zM209 532h1v1h-1zM213 520h1v1h-1zM203 518h1v1h-1zM203 524h1v1h-1zM245 533h1v1h-1zM238 521h1v1h-1zM221 543h1v1h-1zM221 527h1v1h-1zM217 535h1v1h-1zM247 521h1v1h-1zM227 510h1v1h-1zM207 531h1v1h-1zM239 513h1v1h-1zM236 513h1v1h-1zM247 527h1v1h-1zM226 530h1v1h-1zM228 514h1v1h-1zM248 526h1v1h-1zM248 563h1v1h-1zM248 562h1v1h-1zM248 548h1v1h-1zM249 549h1v1h-1zM250 563h1v1h-1zM245 563h1v1h-1zM249 561h1v1h-1zM251 554h1v1h-1zM249 563h1v1h-1zM247 560h1v1h-1zM242 565h1v1h-1zM246 553h1v1h-1zM251 562h1v1h-1zM344 545h1v1h-1zM362 553h1v1h-1zM351 550h1v1h-1zM348 547h1v1h-1zM338 550h1v1h-1zM326 562h1v1h-1zM326 564h1v1h-1zM350 545h1v1h-1zM360 561h1v1h-1zM342 551h1v1h-1zM336 550h1v1h-1zM333 551h1v1h-1zM345 544h1v1h-1zM343 551h1v1h-1zM364 558h1v1h-1zM360 547h1v1h-1zM337 550h1v1h-1zM345 551h1v1h-1zM364 561h1v1h-1zM325 553h1v1h-1zM342 550h1v1h-1zM347 548h1v1h-1zM333 547h1v1h-1zM361 554h1v1h-1zM358 549h1v1h-1zM365 552h1v1h-1zM361 561h1v1h-1zM361 564h1v1h-1zM348 545h1v1h-1zM324 561h1v1h-1zM362 563h1v1h-1zM332 553h1v1h-1zM357 553h1v1h-1zM331 555h1v1h-1zM360 551h1v1h-1zM326 556h1v1h-1zM345 549h1v1h-1zM343 545h1v1h-1zM334 550h1v1h-1zM359 565h1v1h-1zM330 555h1v1h-1zM339 551h1v1h-1zM328 556h1v1h-1zM359 563h1v1h-1zM360 550h1v1h-1zM362 561h1v1h-1zM354 547h1v1h-1zM349 548h1v1h-1zM339 550h1v1h-1zM335 549h1v1h-1zM350 551h1v1h-1zM363 559h1v1h-1zM360 564h1v1h-1zM336 551h1v1h-1zM334 551h1v1h-1zM363 561h1v1h-1zM358 552h1v1h-1zM344 548h1v1h-1zM322 560h1v1h-1zM362 555h1v1h-1zM336 552h1v1h-1zM330 554h1v1h-1zM324 564h1v1h-1zM353 549h1v1h-1zM338 551h1v1h-1zM362 554h1v1h-1zM354 549h1v1h-1zM361 560h1v1h-1zM346 551h1v1h-1zM325 560h1v1h-1zM327 551h1v1h-1zM357 551h1v1h-1zM345 550h1v1h-1zM355 547h1v1h-1zM361 553h1v1h-1zM369 557h1v1h-1zM341 552h1v1h-1zM359 560h1v1h-1zM333 550h1v1h-1zM327 559h1v1h-1zM331 554h1v1h-1zM326 559h1v1h-1zM352 549h1v1h-1zM354 550h1v1h-1zM325 558h1v1h-1zM340 550h1v1h-1zM361 551h1v1h-1zM330 548h1v1h-1zM327 563h1v1h-1zM353 550h1v1h-1zM350 550h1v1h-1zM358 564h1v1h-1zM339 549h1v1h-1zM352 550h1v1h-1zM327 556h1v1h-1zM342 549h1v1h-1zM346 546h1v1h-1zM348 548h1v1h-1zM362 562h1v1h-1zM360 558h1v1h-1zM361 548h1v1h-1zM337 552h1v1h-1zM359 552h1v1h-1zM327 555h1v1h-1zM332 551h1v1h-1zM327 564h1v1h-1zM363 554h1v1h-1zM328 558h1v1h-1zM359 564h1v1h-1zM360 562h1v1h-1zM325 554h1v1h-1zM359 554h1v1h-1zM341 551h1v1h-1zM356 550h1v1h-1zM358 550h1v1h-1zM359 556h1v1h-1zM331 553h1v1h-1zM363 551h1v1h-1zM361 558h1v1h-1zM356 551h1v1h-1zM348 549h1v1h-1zM365 558h1v1h-1zM359 562h1v1h-1zM334 552h1v1h-1zM340 546h1v1h-1zM335 553h1v1h-1zM344 550h1v1h-1zM325 556h1v1h-1zM364 563h1v1h-1zM363 563h1v1h-1zM356 548h1v1h-1zM331 552h1v1h-1zM329 553h1v1h-1zM328 552h1v1h-1zM362 559h1v1h-1zM356 552h1v1h-1zM323 561h1v1h-1zM356 545h1v1h-1zM343 549h1v1h-1zM341 550h1v1h-1zM324 556h1v1h-1zM330 549h1v1h-1zM345 548h1v1h-1zM361 552h1v1h-1zM344 549h1v1h-1zM364 557h1v1h-1zM363 565h1v1h-1zM349 546h1v1h-1zM328 557h1v1h-1zM360 560h1v1h-1zM350 549h1v1h-1zM360 563h1v1h-1zM334 549h1v1h-1zM323 559h1v1h-1zM364 559h1v1h-1zM320 562h1v1h-1zM327 560h1v1h-1zM359 553h1v1h-1zM325 561h1v1h-1zM330 551h1v1h-1zM326 554h1v1h-1zM361 559h1v1h-1zM327 562h1v1h-1zM362 558h1v1h-1zM326 557h1v1h-1zM322 562h1v1h-1zM337 546h1v1h-1zM354 548h1v1h-1zM343 550h1v1h-1zM328 559h1v1h-1zM331 550h1v1h-1zM329 554h1v1h-1zM360 559h1v1h-1zM328 554h1v1h-1zM332 552h1v1h-1zM347 551h1v1h-1zM366 556h1v1h-1zM320 564h1v1h-1zM359 551h1v1h-1zM333 552h1v1h-1zM346 548h1v1h-1zM326 561h1v1h-1zM328 555h1v1h-1zM329 550h1v1h-1zM339 548h1v1h-1zM322 556h1v1h-1zM326 558h1v1h-1zM322 563h1v1h-1zM340 519h1v1h-1zM353 557h1v1h-1zM340 524h1v1h-1zM343 519h1v1h-1zM340 535h1v1h-1zM344 532h1v1h-1zM340 518h1v1h-1zM346 526h1v1h-1zM344 518h1v1h-1zM336 524h1v1h-1zM333 537h1v1h-1zM345 526h1v1h-1zM347 526h1v1h-1zM347 541h1v1h-1zM345 539h1v1h-1zM343 521h1v1h-1zM339 530h1v1h-1zM336 536h1v1h-1zM345 538h1v1h-1zM342 536h1v1h-1zM341 514h1v1h-1zM335 538h1v1h-1zM348 533h1v1h-1zM347 516h1v1h-1zM343 543h1v1h-1zM345 522h1v1h-1zM342 540h1v1h-1zM351 529h1v1h-1zM346 531h1v1h-1zM343 525h1v1h-1zM337 537h1v1h-1zM339 537h1v1h-1zM338 513h1v1h-1zM339 534h1v1h-1zM335 528h1v1h-1zM342 531h1v1h-1zM341 524h1v1h-1zM338 522h1v1h-1zM343 532h1v1h-1zM334 527h1v1h-1zM340 543h1v1h-1zM341 530h1v1h-1zM336 522h1v1h-1zM348 537h1v1h-1zM340 530h1v1h-1zM342 515h1v1h-1zM329 539h1v1h-1zM347 517h1v1h-1zM340 529h1v1h-1zM342 523h1v1h-1zM342 530h1v1h-1zM337 520h1v1h-1zM343 522h1v1h-1zM342 529h1v1h-1zM338 515h1v1h-1zM340 527h1v1h-1zM344 540h1v1h-1zM335 520h1v1h-1zM340 536h1v1h-1zM346 536h1v1h-1zM340 520h1v1h-1zM346 533h1v1h-1zM337 518h1v1h-1zM345 536h1v1h-1zM340 549h1v1h-1zM341 515h1v1h-1zM333 515h1v1h-1zM335 517h1v1h-1zM349 529h1v1h-1zM341 518h1v1h-1zM342 525h1v1h-1zM339 536h1v1h-1zM342 511h1v1h-1zM345 527h1v1h-1zM341 511h1v1h-1zM339 525h1v1h-1zM332 536h1v1h-1zM343 528h1v1h-1zM351 531h1v1h-1zM341 529h1v1h-1zM342 517h1v1h-1zM340 545h1v1h-1zM348 511h1v1h-1zM343 546h1v1h-1zM337 533h1v1h-1zM339 522h1v1h-1zM345 546h1v1h-1zM346 547h1v1h-1zM349 531h1v1h-1zM345 509h1v1h-1zM344 514h1v1h-1zM350 530h1v1h-1zM346 534h1v1h-1zM353 530h1v1h-1zM347 527h1v1h-1zM336 531h1v1h-1zM344 523h1v1h-1zM351 512h1v1h-1zM343 516h1v1h-1zM346 545h1v1h-1zM342 519h1v1h-1zM340 542h1v1h-1zM346 527h1v1h-1zM343 544h1v1h-1zM347 533h1v1h-1zM344 531h1v1h-1zM339 512h1v1h-1zM348 527h1v1h-1zM346 543h1v1h-1zM340 523h1v1h-1zM344 542h1v1h-1zM349 524h1v1h-1zM340 531h1v1h-1zM347 515h1v1h-1zM348 528h1v1h-1zM341 539h1v1h-1zM351 518h1v1h-1zM346 540h1v1h-1zM350 518h1v1h-1zM340 516h1v1h-1zM343 510h1v1h-1zM342 514h1v1h-1zM333 560h1v1h-1zM341 526h1v1h-1zM340 537h1v1h-1zM335 527h1v1h-1zM343 531h1v1h-1zM332 521h1v1h-1zM340 522h1v1h-1zM343 523h1v1h-1zM344 535h1v1h-1zM342 518h1v1h-1zM332 533h1v1h-1zM345 513h1v1h-1zM343 535h1v1h-1zM343 542h1v1h-1zM344 541h1v1h-1zM334 534h1v1h-1zM343 515h1v1h-1zM349 521h1v1h-1zM348 515h1v1h-1zM343 512h1v1h-1zM347 522h1v1h-1zM337 544h1v1h-1zM344 524h1v1h-1zM348 512h1v1h-1zM348 532h1v1h-1zM343 508h1v1h-1zM343 530h1v1h-1zM335 522h1v1h-1zM341 516h1v1h-1zM339 518h1v1h-1zM350 537h1v1h-1zM348 523h1v1h-1zM350 532h1v1h-1zM343 529h1v1h-1zM338 540h1v1h-1zM338 545h1v1h-1zM341 535h1v1h-1zM345 534h1v1h-1zM342 539h1v1h-1zM335 540h1v1h-1zM340 540h1v1h-1zM340 533h1v1h-1zM345 528h1v1h-1zM341 519h1v1h-1zM341 534h1v1h-1zM349 516h1v1h-1zM344 558h1v1h-1zM339 508h1v1h-1zM338 527h1v1h-1zM348 518h1v1h-1zM347 546h1v1h-1zM338 512h1v1h-1zM332 532h1v1h-1zM340 511h1v1h-1zM349 540h1v1h-1zM344 533h1v1h-1zM343 520h1v1h-1zM341 540h1v1h-1zM343 559h1v1h-1zM344 527h1v1h-1zM350 536h1v1h-1zM338 516h1v1h-1zM346 517h1v1h-1zM335 513h1v1h-1zM331 511h1v1h-1zM334 542h1v1h-1zM335 530h1v1h-1zM341 521h1v1h-1zM342 526h1v1h-1zM347 540h1v1h-1zM334 518h1v1h-1zM342 528h1v1h-1zM349 515h1v1h-1zM343 561h1v1h-1zM344 521h1v1h-1zM344 534h1v1h-1zM345 529h1v1h-1zM345 533h1v1h-1zM339 517h1v1h-1zM345 515h1v1h-1zM350 515h1v1h-1zM333 540h1v1h-1zM336 517h1v1h-1zM346 559h1v1h-1zM338 520h1v1h-1zM337 543h1v1h-1zM339 516h1v1h-1zM347 520h1v1h-1zM336 558h1v1h-1zM340 509h1v1h-1zM342 516h1v1h-1zM337 538h1v1h-1zM337 510h1v1h-1zM344 529h1v1h-1zM340 538h1v1h-1zM350 524h1v1h-1zM335 523h1v1h-1zM344 522h1v1h-1zM342 510h1v1h-1zM339 528h1v1h-1zM337 531h1v1h-1zM343 513h1v1h-1zM339 539h1v1h-1zM354 524h1v1h-1zM343 538h1v1h-1zM338 529h1v1h-1zM334 520h1v1h-1zM349 532h1v1h-1zM337 542h1v1h-1zM341 541h1v1h-1zM341 525h1v1h-1zM348 519h1v1h-1zM335 546h1v1h-1zM341 531h1v1h-1zM338 517h1v1h-1zM339 531h1v1h-1zM350 534h1v1h-1zM340 541h1v1h-1zM342 542h1v1h-1zM347 521h1v1h-1zM342 543h1v1h-1zM351 528h1v1h-1zM342 527h1v1h-1zM335 541h1v1h-1zM339 529h1v1h-1zM346 524h1v1h-1zM340 512h1v1h-1zM340 508h1v1h-1zM342 524h1v1h-1zM344 528h1v1h-1zM338 521h1v1h-1zM347 536h1v1h-1zM350 514h1v1h-1zM349 518h1v1h-1zM341 537h1v1h-1zM345 531h1v1h-1zM341 536h1v1h-1zM338 541h1v1h-1zM351 519h1v1h-1zM356 543h1v1h-1zM336 539h1v1h-1zM354 540h1v1h-1zM358 545h1v1h-1zM354 545h1v1h-1zM361 532h1v1h-1zM361 535h1v1h-1zM360 540h1v1h-1zM351 538h1v1h-1zM360 538h1v1h-1zM352 527h1v1h-1zM359 539h1v1h-1zM349 542h1v1h-1zM351 543h1v1h-1zM348 534h1v1h-1zM356 537h1v1h-1zM346 538h1v1h-1zM357 546h1v1h-1zM351 541h1v1h-1zM358 542h1v1h-1zM352 539h1v1h-1zM352 537h1v1h-1zM348 551h1v1h-1zM355 540h1v1h-1zM353 543h1v1h-1zM344 544h1v1h-1zM362 545h1v1h-1zM345 547h1v1h-1zM346 541h1v1h-1zM349 554h1v1h-1zM352 536h1v1h-1zM353 540h1v1h-1zM354 541h1v1h-1zM356 535h1v1h-1zM352 545h1v1h-1zM354 536h1v1h-1zM364 541h1v1h-1zM355 536h1v1h-1zM363 550h1v1h-1zM352 543h1v1h-1zM346 537h1v1h-1zM359 543h1v1h-1zM349 535h1v1h-1zM348 530h1v1h-1zM341 546h1v1h-1zM348 536h1v1h-1zM355 539h1v1h-1zM345 542h1v1h-1zM339 542h1v1h-1zM366 536h1v1h-1zM349 544h1v1h-1zM355 551h1v1h-1zM356 541h1v1h-1zM352 538h1v1h-1zM349 538h1v1h-1zM338 534h1v1h-1zM351 544h1v1h-1zM353 536h1v1h-1zM343 540h1v1h-1zM365 540h1v1h-1zM345 540h1v1h-1zM360 543h1v1h-1zM347 535h1v1h-1zM379 555h1v1h-1zM372 553h1v1h-1zM370 553h1v1h-1zM378 548h1v1h-1zM374 553h1v1h-1zM386 554h1v1h-1zM378 550h1v1h-1zM369 556h1v1h-1zM377 556h1v1h-1zM376 553h1v1h-1zM387 561h1v1h-1zM367 563h1v1h-1zM384 552h1v1h-1zM394 554h1v1h-1zM367 555h1v1h-1zM370 545h1v1h-1zM351 565h1v1h-1zM375 555h1v1h-1zM367 556h1v1h-1zM375 565h1v1h-1zM379 559h1v1h-1zM372 547h1v1h-1zM372 561h1v1h-1zM383 542h1v1h-1zM371 555h1v1h-1zM375 557h1v1h-1zM392 555h1v1h-1zM381 555h1v1h-1zM369 545h1v1h-1zM369 549h1v1h-1zM379 564h1v1h-1zM376 562h1v1h-1zM363 557h1v1h-1zM390 557h1v1h-1zM381 556h1v1h-1zM386 546h1v1h-1zM371 552h1v1h-1zM364 550h1v1h-1zM379 553h1v1h-1zM378 553h1v1h-1zM371 549h1v1h-1zM364 554h1v1h-1zM388 558h1v1h-1zM372 563h1v1h-1zM359 540h1v1h-1zM395 561h1v1h-1zM354 556h1v1h-1zM380 553h1v1h-1zM377 552h1v1h-1zM374 554h1v1h-1zM374 552h1v1h-1zM389 550h1v1h-1zM388 542h1v1h-1zM368 563h1v1h-1zM383 559h1v1h-1zM381 551h1v1h-1zM373 554h1v1h-1zM377 562h1v1h-1zM367 557h1v1h-1zM373 543h1v1h-1zM388 556h1v1h-1zM382 553h1v1h-1zM374 563h1v1h-1zM383 561h1v1h-1zM348 559h1v1h-1zM388 552h1v1h-1zM375 553h1v1h-1zM370 561h1v1h-1zM386 559h1v1h-1zM383 554h1v1h-1zM373 559h1v1h-1zM385 552h1v1h-1zM368 538h1v1h-1zM390 556h1v1h-1zM376 556h1v1h-1zM377 546h1v1h-1zM370 560h1v1h-1zM367 547h1v1h-1zM395 559h1v1h-1zM376 539h1v1h-1zM391 547h1v1h-1zM381 563h1v1h-1zM363 553h1v1h-1zM371 564h1v1h-1zM365 546h1v1h-1zM374 559h1v1h-1zM378 552h1v1h-1zM461 549h1v1h-1zM449 547h1v1h-1zM464 553h1v1h-1zM462 554h1v1h-1zM461 547h1v1h-1zM461 550h1v1h-1zM431 551h1v1h-1zM428 560h1v1h-1zM432 554h1v1h-1zM465 565h1v1h-1zM427 565h1v1h-1zM439 553h1v1h-1zM461 563h1v1h-1zM432 552h1v1h-1zM447 548h1v1h-1zM427 562h1v1h-1zM428 563h1v1h-1zM469 563h1v1h-1zM456 547h1v1h-1zM442 552h1v1h-1zM427 556h1v1h-1zM432 550h1v1h-1zM465 556h1v1h-1zM437 553h1v1h-1zM462 552h1v1h-1zM437 551h1v1h-1zM451 549h1v1h-1zM461 553h1v1h-1zM463 562h1v1h-1zM444 551h1v1h-1zM457 547h1v1h-1zM443 551h1v1h-1zM431 555h1v1h-1zM428 556h1v1h-1zM449 548h1v1h-1zM429 558h1v1h-1zM463 557h1v1h-1zM442 551h1v1h-1zM429 561h1v1h-1zM461 545h1v1h-1zM460 547h1v1h-1zM463 565h1v1h-1zM430 558h1v1h-1zM461 560h1v1h-1zM461 559h1v1h-1zM456 548h1v1h-1zM439 552h1v1h-1zM465 555h1v1h-1zM458 547h1v1h-1zM444 550h1v1h-1zM445 549h1v1h-1zM462 556h1v1h-1zM431 554h1v1h-1zM437 552h1v1h-1zM455 548h1v1h-1zM432 553h1v1h-1zM441 550h1v1h-1zM447 550h1v1h-1zM453 547h1v1h-1zM426 565h1v1h-1zM436 553h1v1h-1zM464 557h1v1h-1zM427 564h1v1h-1zM469 558h1v1h-1zM438 551h1v1h-1zM436 551h1v1h-1zM434 552h1v1h-1zM429 553h1v1h-1zM445 547h1v1h-1zM428 562h1v1h-1zM430 553h1v1h-1zM462 559h1v1h-1zM426 558h1v1h-1zM460 551h1v1h-1zM462 557h1v1h-1zM452 546h1v1h-1zM465 553h1v1h-1zM464 554h1v1h-1zM434 553h1v1h-1zM457 548h1v1h-1zM462 560h1v1h-1zM426 559h1v1h-1zM466 563h1v1h-1zM426 561h1v1h-1zM464 562h1v1h-1zM454 548h1v1h-1zM465 560h1v1h-1zM460 552h1v1h-1zM461 551h1v1h-1zM446 547h1v1h-1zM466 558h1v1h-1zM450 547h1v1h-1zM467 559h1v1h-1zM446 546h1v1h-1zM442 550h1v1h-1zM453 548h1v1h-1zM430 552h1v1h-1zM436 552h1v1h-1zM448 546h1v1h-1zM455 547h1v1h-1zM458 548h1v1h-1zM464 558h1v1h-1zM433 554h1v1h-1zM428 564h1v1h-1zM462 547h1v1h-1zM462 563h1v1h-1zM428 554h1v1h-1zM436 549h1v1h-1zM463 555h1v1h-1zM463 556h1v1h-1zM433 553h1v1h-1zM463 553h1v1h-1zM429 559h1v1h-1zM426 563h1v1h-1zM464 548h1v1h-1zM461 546h1v1h-1zM462 550h1v1h-1zM451 548h1v1h-1zM433 549h1v1h-1zM462 565h1v1h-1zM463 563h1v1h-1zM434 550h1v1h-1zM448 549h1v1h-1zM427 560h1v1h-1zM435 549h1v1h-1zM443 552h1v1h-1zM463 559h1v1h-1zM448 550h1v1h-1zM463 554h1v1h-1zM466 560h1v1h-1zM467 551h1v1h-1zM443 548h1v1h-1zM459 549h1v1h-1zM462 558h1v1h-1zM443 546h1v1h-1zM444 545h1v1h-1zM428 558h1v1h-1zM466 561h1v1h-1zM464 561h1v1h-1zM437 546h1v1h-1zM426 554h1v1h-1zM430 555h1v1h-1zM429 556h1v1h-1zM434 554h1v1h-1zM449 549h1v1h-1zM442 549h1v1h-1zM435 552h1v1h-1zM463 552h1v1h-1zM444 549h1v1h-1zM427 563h1v1h-1zM460 548h1v1h-1zM427 555h1v1h-1zM446 549h1v1h-1zM461 548h1v1h-1zM463 561h1v1h-1zM449 546h1v1h-1zM464 550h1v1h-1zM465 549h1v1h-1zM461 562h1v1h-1zM443 549h1v1h-1zM446 550h1v1h-1zM461 555h1v1h-1zM429 554h1v1h-1zM461 564h1v1h-1zM457 549h1v1h-1zM450 546h1v1h-1zM430 556h1v1h-1zM463 564h1v1h-1zM429 560h1v1h-1zM450 549h1v1h-1zM461 561h1v1h-1zM450 548h1v1h-1zM425 556h1v1h-1zM440 551h1v1h-1zM425 562h1v1h-1zM467 563h1v1h-1zM430 557h1v1h-1zM456 543h1v1h-1zM456 526h1v1h-1zM453 534h1v1h-1zM445 531h1v1h-1zM451 534h1v1h-1zM455 518h1v1h-1zM448 530h1v1h-1zM461 516h1v1h-1zM460 521h1v1h-1zM454 531h1v1h-1zM469 516h1v1h-1zM459 540h1v1h-1zM456 523h1v1h-1zM451 526h1v1h-1zM454 533h1v1h-1zM451 536h1v1h-1zM440 527h1v1h-1zM452 540h1v1h-1zM448 548h1v1h-1zM457 527h1v1h-1zM453 530h1v1h-1zM451 547h1v1h-1zM452 526h1v1h-1zM458 533h1v1h-1zM455 525h1v1h-1zM452 532h1v1h-1zM433 540h1v1h-1zM452 530h1v1h-1zM460 518h1v1h-1zM446 522h1v1h-1zM442 532h1v1h-1zM460 523h1v1h-1zM448 519h1v1h-1zM444 547h1v1h-1zM452 537h1v1h-1zM452 543h1v1h-1zM454 522h1v1h-1zM467 525h1v1h-1zM447 524h1v1h-1zM447 530h1v1h-1zM441 516h1v1h-1zM446 517h1v1h-1zM460 535h1v1h-1zM453 526h1v1h-1zM460 542h1v1h-1zM464 525h1v1h-1zM451 523h1v1h-1zM458 530h1v1h-1zM449 527h1v1h-1zM472 522h1v1h-1zM441 543h1v1h-1zM454 521h1v1h-1zM455 540h1v1h-1zM448 521h1v1h-1zM456 533h1v1h-1zM438 520h1v1h-1zM442 542h1v1h-1zM451 525h1v1h-1zM454 549h1v1h-1zM451 522h1v1h-1zM460 540h1v1h-1zM450 537h1v1h-1zM447 534h1v1h-1zM443 553h1v1h-1zM459 529h1v1h-1zM449 542h1v1h-1zM454 542h1v1h-1zM444 519h1v1h-1zM459 513h1v1h-1zM446 542h1v1h-1zM449 536h1v1h-1zM448 523h1v1h-1zM449 518h1v1h-1zM459 552h1v1h-1zM460 537h1v1h-1zM453 522h1v1h-1zM451 535h1v1h-1zM451 528h1v1h-1zM455 526h1v1h-1zM459 530h1v1h-1zM462 508h1v1h-1zM462 534h1v1h-1zM451 541h1v1h-1zM460 529h1v1h-1zM452 522h1v1h-1zM442 535h1v1h-1zM455 533h1v1h-1zM434 547h1v1h-1zM456 522h1v1h-1zM453 535h1v1h-1zM450 539h1v1h-1zM452 535h1v1h-1zM444 508h1v1h-1zM454 524h1v1h-1zM454 537h1v1h-1zM457 516h1v1h-1zM443 541h1v1h-1zM466 532h1v1h-1zM456 529h1v1h-1zM442 524h1v1h-1zM453 528h1v1h-1zM451 524h1v1h-1zM447 544h1v1h-1zM440 519h1v1h-1zM447 526h1v1h-1zM447 509h1v1h-1zM450 524h1v1h-1zM443 532h1v1h-1zM465 533h1v1h-1zM451 519h1v1h-1zM473 524h1v1h-1zM447 520h1v1h-1zM460 511h1v1h-1zM441 524h1v1h-1zM442 531h1v1h-1zM452 523h1v1h-1zM456 531h1v1h-1zM460 554h1v1h-1zM452 538h1v1h-1zM454 540h1v1h-1zM457 534h1v1h-1zM455 531h1v1h-1zM454 546h1v1h-1zM448 516h1v1h-1zM448 539h1v1h-1zM462 537h1v1h-1zM456 532h1v1h-1zM456 528h1v1h-1zM455 521h1v1h-1zM440 520h1v1h-1zM450 529h1v1h-1zM440 522h1v1h-1zM448 518h1v1h-1zM456 539h1v1h-1zM453 520h1v1h-1zM451 531h1v1h-1zM455 542h1v1h-1zM450 530h1v1h-1zM456 537h1v1h-1zM454 534h1v1h-1zM445 534h1v1h-1zM437 540h1v1h-1zM467 533h1v1h-1zM451 559h1v1h-1zM451 510h1v1h-1zM451 530h1v1h-1zM447 525h1v1h-1zM464 544h1v1h-1zM448 512h1v1h-1zM451 527h1v1h-1zM449 508h1v1h-1zM453 533h1v1h-1zM457 519h1v1h-1zM455 517h1v1h-1zM441 542h1v1h-1zM468 520h1v1h-1zM457 537h1v1h-1zM463 532h1v1h-1zM446 535h1v1h-1zM444 542h1v1h-1zM453 537h1v1h-1zM456 544h1v1h-1zM432 530h1v1h-1zM452 527h1v1h-1zM454 544h1v1h-1zM439 531h1v1h-1zM446 544h1v1h-1zM460 530h1v1h-1zM448 533h1v1h-1zM445 535h1v1h-1zM443 530h1v1h-1zM452 515h1v1h-1zM456 534h1v1h-1zM450 534h1v1h-1zM452 541h1v1h-1zM452 521h1v1h-1zM457 535h1v1h-1zM452 524h1v1h-1zM463 508h1v1h-1zM447 553h1v1h-1zM448 536h1v1h-1zM450 540h1v1h-1zM445 540h1v1h-1zM428 539h1v1h-1zM450 522h1v1h-1zM449 520h1v1h-1zM439 524h1v1h-1zM446 531h1v1h-1zM444 515h1v1h-1zM460 532h1v1h-1zM458 539h1v1h-1zM450 541h1v1h-1zM442 528h1v1h-1zM448 537h1v1h-1zM452 519h1v1h-1zM453 542h1v1h-1zM448 535h1v1h-1zM454 525h1v1h-1zM434 538h1v1h-1zM454 541h1v1h-1zM458 544h1v1h-1zM455 537h1v1h-1zM465 529h1v1h-1zM463 546h1v1h-1zM448 531h1v1h-1zM451 539h1v1h-1zM450 535h1v1h-1zM450 533h1v1h-1zM445 525h1v1h-1zM435 529h1v1h-1zM450 519h1v1h-1zM445 530h1v1h-1zM452 529h1v1h-1zM461 523h1v1h-1zM449 525h1v1h-1zM441 538h1v1h-1zM454 514h1v1h-1zM452 534h1v1h-1zM438 544h1v1h-1zM447 541h1v1h-1zM446 541h1v1h-1zM457 543h1v1h-1zM448 528h1v1h-1zM446 536h1v1h-1zM454 519h1v1h-1zM448 527h1v1h-1zM456 530h1v1h-1zM458 527h1v1h-1zM447 535h1v1h-1zM454 511h1v1h-1zM448 541h1v1h-1zM454 539h1v1h-1zM456 546h1v1h-1zM455 530h1v1h-1zM450 525h1v1h-1zM450 532h1v1h-1zM457 528h1v1h-1zM448 520h1v1h-1zM463 528h1v1h-1zM444 546h1v1h-1zM446 528h1v1h-1zM451 529h1v1h-1zM454 551h1v1h-1zM445 522h1v1h-1zM456 545h1v1h-1zM430 521h1v1h-1zM453 543h1v1h-1zM458 524h1v1h-1zM450 557h1v1h-1zM459 511h1v1h-1zM437 536h1v1h-1zM450 531h1v1h-1zM453 527h1v1h-1zM451 542h1v1h-1zM449 515h1v1h-1zM441 522h1v1h-1zM456 540h1v1h-1zM455 539h1v1h-1zM461 541h1v1h-1zM455 546h1v1h-1zM450 536h1v1h-1zM445 526h1v1h-1zM440 523h1v1h-1zM458 525h1v1h-1zM460 527h1v1h-1zM462 528h1v1h-1zM449 540h1v1h-1zM444 537h1v1h-1zM450 526h1v1h-1zM446 534h1v1h-1zM461 511h1v1h-1zM461 521h1v1h-1zM449 538h1v1h-1zM447 533h1v1h-1zM461 529h1v1h-1zM458 531h1v1h-1zM461 535h1v1h-1zM441 531h1v1h-1zM440 559h1v1h-1zM451 537h1v1h-1zM455 538h1v1h-1zM456 527h1v1h-1zM444 535h1v1h-1zM458 542h1v1h-1zM451 516h1v1h-1zM435 536h1v1h-1zM453 536h1v1h-1zM455 532h1v1h-1zM454 532h1v1h-1zM455 523h1v1h-1zM453 516h1v1h-1zM456 536h1v1h-1zM455 535h1v1h-1zM440 537h1v1h-1zM462 510h1v1h-1zM460 541h1v1h-1zM451 514h1v1h-1zM462 546h1v1h-1zM436 541h1v1h-1zM457 541h1v1h-1zM448 540h1v1h-1zM448 524h1v1h-1zM452 539h1v1h-1zM464 515h1v1h-1zM447 547h1v1h-1zM463 540h1v1h-1zM452 531h1v1h-1zM441 545h1v1h-1zM451 521h1v1h-1zM438 532h1v1h-1zM462 541h1v1h-1zM466 537h1v1h-1zM459 543h1v1h-1zM457 540h1v1h-1zM457 532h1v1h-1zM438 525h1v1h-1zM463 513h1v1h-1zM454 527h1v1h-1zM448 525h1v1h-1zM445 517h1v1h-1zM457 524h1v1h-1zM462 525h1v1h-1zM447 537h1v1h-1zM454 530h1v1h-1zM448 532h1v1h-1zM439 539h1v1h-1zM462 542h1v1h-1zM439 532h1v1h-1zM460 524h1v1h-1zM453 544h1v1h-1zM455 516h1v1h-1zM455 522h1v1h-1zM463 550h1v1h-1zM445 520h1v1h-1zM448 538h1v1h-1zM450 523h1v1h-1zM442 527h1v1h-1zM444 527h1v1h-1zM446 537h1v1h-1zM459 526h1v1h-1zM455 511h1v1h-1zM458 534h1v1h-1zM449 531h1v1h-1zM443 537h1v1h-1zM447 543h1v1h-1zM447 538h1v1h-1zM463 525h1v1h-1zM453 541h1v1h-1zM461 524h1v1h-1zM469 531h1v1h-1zM442 520h1v1h-1zM451 520h1v1h-1zM458 535h1v1h-1zM465 520h1v1h-1zM440 536h1v1h-1zM449 532h1v1h-1zM459 518h1v1h-1zM448 534h1v1h-1zM458 526h1v1h-1zM437 524h1v1h-1zM462 522h1v1h-1zM462 527h1v1h-1zM444 526h1v1h-1zM447 523h1v1h-1zM443 524h1v1h-1zM443 523h1v1h-1zM462 530h1v1h-1zM459 528h1v1h-1zM438 524h1v1h-1zM449 517h1v1h-1zM464 539h1v1h-1zM448 544h1v1h-1zM453 525h1v1h-1zM459 548h1v1h-1zM457 530h1v1h-1zM452 528h1v1h-1zM445 532h1v1h-1zM444 538h1v1h-1zM444 523h1v1h-1zM464 522h1v1h-1zM466 543h1v1h-1zM460 543h1v1h-1zM453 523h1v1h-1zM443 526h1v1h-1zM463 531h1v1h-1zM443 514h1v1h-1zM454 543h1v1h-1zM467 538h1v1h-1zM446 552h1v1h-1zM450 542h1v1h-1zM453 529h1v1h-1zM454 520h1v1h-1zM446 548h1v1h-1zM462 523h1v1h-1zM451 511h1v1h-1zM450 527h1v1h-1zM444 514h1v1h-1zM453 540h1v1h-1zM444 532h1v1h-1zM446 524h1v1h-1zM446 516h1v1h-1zM435 535h1v1h-1zM464 536h1v1h-1zM451 533h1v1h-1zM445 544h1v1h-1zM461 526h1v1h-1zM456 518h1v1h-1zM461 522h1v1h-1zM457 542h1v1h-1zM461 539h1v1h-1zM461 542h1v1h-1zM447 545h1v1h-1zM454 535h1v1h-1zM449 545h1v1h-1zM445 546h1v1h-1zM455 544h1v1h-1zM456 542h1v1h-1zM461 531h1v1h-1zM449 537h1v1h-1zM458 546h1v1h-1zM455 536h1v1h-1zM455 543h1v1h-1zM445 545h1v1h-1zM457 539h1v1h-1zM461 538h1v1h-1zM463 539h1v1h-1zM451 543h1v1h-1zM457 545h1v1h-1zM448 543h1v1h-1zM464 535h1v1h-1zM460 533h1v1h-1zM465 545h1v1h-1zM452 554h1v1h-1zM452 542h1v1h-1zM459 534h1v1h-1zM453 538h1v1h-1zM457 544h1v1h-1zM456 549h1v1h-1zM458 537h1v1h-1zM457 551h1v1h-1zM446 539h1v1h-1zM450 538h1v1h-1zM452 552h1v1h-1zM449 551h1v1h-1zM442 541h1v1h-1zM450 544h1v1h-1zM456 541h1v1h-1zM459 538h1v1h-1zM456 538h1v1h-1zM452 544h1v1h-1zM447 542h1v1h-1zM449 539h1v1h-1zM473 550h1v1h-1zM484 550h1v1h-1zM468 550h1v1h-1zM473 549h1v1h-1zM477 554h1v1h-1zM477 553h1v1h-1zM471 555h1v1h-1zM491 556h1v1h-1zM473 551h1v1h-1zM474 550h1v1h-1zM453 562h1v1h-1zM461 552h1v1h-1zM482 552h1v1h-1zM482 562h1v1h-1zM457 554h1v1h-1zM478 555h1v1h-1zM488 559h1v1h-1zM478 552h1v1h-1zM497 552h1v1h-1zM454 547h1v1h-1zM479 551h1v1h-1zM458 565h1v1h-1zM473 559h1v1h-1zM495 554h1v1h-1zM491 557h1v1h-1zM488 558h1v1h-1zM463 558h1v1h-1zM481 556h1v1h-1zM483 547h1v1h-1zM483 559h1v1h-1zM457 556h1v1h-1zM476 551h1v1h-1zM471 558h1v1h-1zM475 553h1v1h-1zM477 547h1v1h-1zM477 558h1v1h-1zM501 563h1v1h-1zM470 561h1v1h-1zM468 555h1v1h-1zM486 557h1v1h-1zM460 563h1v1h-1zM469 557h1v1h-1z" fill="#000"/>
</g>
<text transform="translate(0.90,14.60)" font-size="19.0" font-weight="bold" font-style="normal" text-anchor="start" fill="#000" stroke="#000" stroke-width="0.25" >A</text><text transform="translate(141.40,15.10)" font-size="18.8" font-weight="bold" font-style="normal" text-anchor="start" fill="#000" stroke="#000" stroke-width="0.25" >B</text><text transform="translate(0.50,372.20)" font-size="19.0" font-weight="bold" font-style="normal" text-anchor="start" fill="#000" stroke="#000" stroke-width="0.25" >C</text><text transform="translate(30.40,29.40)" font-size="11.8" font-weight="bold" font-style="normal" text-anchor="start" fill="#000" stroke="#000" stroke-width="0.25" >isotype control</text><path d="M30.40 31.40h85.00" stroke="#222" stroke-width="1" fill="none"/><path d="M33.70 101.90v2.6M33.70 101.90h-2.6M39.70 101.90v1.6M33.70 97.38h-1.6M43.21 101.90v1.6M33.70 94.73h-1.6M45.70 101.90v1.6M33.70 92.85h-1.6M47.63 101.90v1.6M33.70 91.40h-1.6M49.20 101.90v1.6M33.70 90.21h-1.6M50.54 101.90v1.6M33.70 89.20h-1.6M51.69 101.90v1.6M33.70 88.33h-1.6M52.71 101.90v1.6M33.70 87.56h-1.6M53.62 101.90v2.6M33.70 86.88h-2.6M59.62 101.90v1.6M33.70 82.35h-1.6M63.13 101.90v1.6M33.70 79.71h-1.6M65.62 101.90v1.6M33.70 77.83h-1.6M67.55 101.90v1.6M33.70 76.37h-1.6M69.13 101.90v1.6M33.70 75.18h-1.6M70.46 101.90v1.6M33.70 74.18h-1.6M71.62 101.90v1.6M33.70 73.31h-1.6M72.64 101.90v1.6M33.70 72.54h-1.6M73.55 101.90v2.6M33.70 71.85h-2.6M79.55 101.90v1.6M33.70 67.33h-1.6M83.06 101.90v1.6M33.70 64.68h-1.6M85.55 101.90v1.6M33.70 62.80h-1.6M87.48 101.90v1.6M33.70 61.35h-1.6M89.05 101.90v1.6M33.70 60.16h-1.6M90.39 101.90v1.6M33.70 59.15h-1.6M91.54 101.90v1.6M33.70 58.28h-1.6M92.56 101.90v1.6M33.70 57.51h-1.6M93.48 101.90v2.6M33.70 56.83h-2.6M99.47 101.90v1.6M33.70 52.30h-1.6M102.98 101.90v1.6M33.70 49.66h-1.6M105.47 101.90v1.6M33.70 47.78h-1.6M107.40 101.90v1.6M33.70 46.32h-1.6M108.98 101.90v1.6M33.70 45.13h-1.6M110.31 101.90v1.6M33.70 44.13h-1.6M111.47 101.90v1.6M33.70 43.26h-1.6M112.49 101.90v1.6M33.70 42.49h-1.6M113.40 101.90v2.6M33.70 41.80h-2.6" stroke="#000" stroke-width="0.9" fill="none"/><rect x="33.70" y="41.80" width="79.70" height="60.10" fill="none" stroke="#111" stroke-width="1.3"/><text transform="translate(33.50,113.60)" font-size="7.8" text-anchor="middle" fill="#111" stroke="#111" stroke-width="0.18">10</text><text transform="translate(37.40,110.20)" font-size="6.2" text-anchor="start" fill="#111" stroke="#111" stroke-width="0.15">0</text><text transform="translate(52.83,113.60)" font-size="7.8" text-anchor="middle" fill="#111" stroke="#111" stroke-width="0.18">10</text><text transform="translate(56.73,110.20)" font-size="6.2" text-anchor="start" fill="#111" stroke="#111" stroke-width="0.15">1</text><text transform="translate(72.15,113.60)" font-size="7.8" text-anchor="middle" fill="#111" stroke="#111" stroke-width="0.18">10</text><text transform="translate(76.05,110.20)" font-size="6.2" text-anchor="start" fill="#111" stroke="#111" stroke-width="0.15">2</text><text transform="translate(91.38,113.60)" font-size="7.8" text-anchor="middle" fill="#111" stroke="#111" stroke-width="0.18">10</text><text transform="translate(95.28,110.20)" font-size="6.2" text-anchor="start" fill="#111" stroke="#111" stroke-width="0.15">3</text><text transform="translate(110.30,113.60)" font-size="7.8" text-anchor="middle" fill="#111" stroke="#111" stroke-width="0.18">10</text><text transform="translate(114.20,110.20)" font-size="6.2" text-anchor="start" fill="#111" stroke="#111" stroke-width="0.15">4</text><text transform="translate(28.30,102.20) rotate(-90)" font-size="7.8" text-anchor="middle" fill="#111" stroke="#111" stroke-width="0.18">10</text><text transform="translate(25.30,96.60) rotate(-90)" font-size="6.2" text-anchor="middle" fill="#111" stroke="#111" stroke-width="0.15">0</text><text transform="translate(28.30,88.17) rotate(-90)" font-size="7.8" text-anchor="middle" fill="#111" stroke="#111" stroke-width="0.18">10</text><text transform="translate(25.30,81.67) rotate(-90)" font-size="6.2" text-anchor="middle" fill="#111" stroke="#111" stroke-width="0.15">1</text><text transform="translate(28.30,73.55) rotate(-90)" font-size="7.8" text-anchor="middle" fill="#111" stroke="#111" stroke-width="0.18">10</text><text transform="translate(25.30,67.25) rotate(-90)" font-size="6.2" text-anchor="middle" fill="#111" stroke="#111" stroke-width="0.15">2</text><text transform="translate(28.30,57.83) rotate(-90)" font-size="7.8" text-anchor="middle" fill="#111" stroke="#111" stroke-width="0.18">10</text><text transform="translate(25.30,52.23) rotate(-90)" font-size="6.2" text-anchor="middle" fill="#111" stroke="#111" stroke-width="0.15">3</text><text transform="translate(28.30,44.80) rotate(-90)" font-size="7.8" text-anchor="middle" fill="#111" stroke="#111" stroke-width="0.18">10</text><text transform="translate(25.30,38.70) rotate(-90)" font-size="6.2" text-anchor="middle" fill="#111" stroke="#111" stroke-width="0.15">4</text><text transform="translate(13.10,71.60) rotate(-90)" font-size="11.9" font-weight="bold" font-style="normal" text-anchor="middle" fill="#000" stroke="#000" stroke-width="0.25" >rat IgG APC</text><path d="M33.70 203.20v2.6M33.70 203.20h-2.6M39.70 203.20v1.6M33.70 198.67h-1.6M43.21 203.20v1.6M33.70 196.02h-1.6M45.70 203.20v1.6M33.70 194.14h-1.6M47.63 203.20v1.6M33.70 192.68h-1.6M49.20 203.20v1.6M33.70 191.49h-1.6M50.54 203.20v1.6M33.70 190.48h-1.6M51.69 203.20v1.6M33.70 189.61h-1.6M52.71 203.20v1.6M33.70 188.84h-1.6M53.62 203.20v2.6M33.70 188.15h-2.6M59.62 203.20v1.6M33.70 183.62h-1.6M63.13 203.20v1.6M33.70 180.97h-1.6M65.62 203.20v1.6M33.70 179.09h-1.6M67.55 203.20v1.6M33.70 177.63h-1.6M69.13 203.20v1.6M33.70 176.44h-1.6M70.46 203.20v1.6M33.70 175.43h-1.6M71.62 203.20v1.6M33.70 174.56h-1.6M72.64 203.20v1.6M33.70 173.79h-1.6M73.55 203.20v2.6M33.70 173.10h-2.6M79.55 203.20v1.6M33.70 168.57h-1.6M83.06 203.20v1.6M33.70 165.92h-1.6M85.55 203.20v1.6M33.70 164.04h-1.6M87.48 203.20v1.6M33.70 162.58h-1.6M89.05 203.20v1.6M33.70 161.39h-1.6M90.39 203.20v1.6M33.70 160.38h-1.6M91.54 203.20v1.6M33.70 159.51h-1.6M92.56 203.20v1.6M33.70 158.74h-1.6M93.48 203.20v2.6M33.70 158.05h-2.6M99.47 203.20v1.6M33.70 153.52h-1.6M102.98 203.20v1.6M33.70 150.87h-1.6M105.47 203.20v1.6M33.70 148.99h-1.6M107.40 203.20v1.6M33.70 147.53h-1.6M108.98 203.20v1.6M33.70 146.34h-1.6M110.31 203.20v1.6M33.70 145.33h-1.6M111.47 203.20v1.6M33.70 144.46h-1.6M112.49 203.20v1.6M33.70 143.69h-1.6M113.40 203.20v2.6M33.70 143.00h-2.6" stroke="#000" stroke-width="0.9" fill="none"/><rect x="33.70" y="143.00" width="79.70" height="60.20" fill="none" stroke="#111" stroke-width="1.3"/><text transform="translate(33.50,214.90)" font-size="7.8" text-anchor="middle" fill="#111" stroke="#111" stroke-width="0.18">10</text><text transform="translate(37.40,211.50)" font-size="6.2" text-anchor="start" fill="#111" stroke="#111" stroke-width="0.15">0</text><text transform="translate(52.83,214.90)" font-size="7.8" text-anchor="middle" fill="#111" stroke="#111" stroke-width="0.18">10</text><text transform="translate(56.73,211.50)" font-size="6.2" text-anchor="start" fill="#111" stroke="#111" stroke-width="0.15">1</text><text transform="translate(72.15,214.90)" font-size="7.8" text-anchor="middle" fill="#111" stroke="#111" stroke-width="0.18">10</text><text transform="translate(76.05,211.50)" font-size="6.2" text-anchor="start" fill="#111" stroke="#111" stroke-width="0.15">2</text><text transform="translate(91.38,214.90)" font-size="7.8" text-anchor="middle" fill="#111" stroke="#111" stroke-width="0.18">10</text><text transform="translate(95.28,211.50)" font-size="6.2" text-anchor="start" fill="#111" stroke="#111" stroke-width="0.15">3</text><text transform="translate(110.30,214.90)" font-size="7.8" text-anchor="middle" fill="#111" stroke="#111" stroke-width="0.18">10</text><text transform="translate(114.20,211.50)" font-size="6.2" text-anchor="start" fill="#111" stroke="#111" stroke-width="0.15">4</text><text transform="translate(28.30,203.50) rotate(-90)" font-size="7.8" text-anchor="middle" fill="#111" stroke="#111" stroke-width="0.18">10</text><text transform="translate(25.30,197.90) rotate(-90)" font-size="6.2" text-anchor="middle" fill="#111" stroke="#111" stroke-width="0.15">0</text><text transform="translate(28.30,189.45) rotate(-90)" font-size="7.8" text-anchor="middle" fill="#111" stroke="#111" stroke-width="0.18">10</text><text transform="translate(25.30,182.95) rotate(-90)" font-size="6.2" text-anchor="middle" fill="#111" stroke="#111" stroke-width="0.15">1</text><text transform="translate(28.30,174.80) rotate(-90)" font-size="7.8" text-anchor="middle" fill="#111" stroke="#111" stroke-width="0.18">10</text><text transform="translate(25.30,168.50) rotate(-90)" font-size="6.2" text-anchor="middle" fill="#111" stroke="#111" stroke-width="0.15">2</text><text transform="translate(28.30,159.05) rotate(-90)" font-size="7.8" text-anchor="middle" fill="#111" stroke="#111" stroke-width="0.18">10</text><text transform="translate(25.30,153.45) rotate(-90)" font-size="6.2" text-anchor="middle" fill="#111" stroke="#111" stroke-width="0.15">3</text><text transform="translate(28.30,146.00) rotate(-90)" font-size="7.8" text-anchor="middle" fill="#111" stroke="#111" stroke-width="0.18">10</text><text transform="translate(25.30,139.90) rotate(-90)" font-size="6.2" text-anchor="middle" fill="#111" stroke="#111" stroke-width="0.15">4</text><rect x="34.9" y="143.4" width="16.4" height="35.2" fill="none" stroke="#707070" stroke-width="1.9"/><rect x="53.0" y="145.2" width="16.0" height="33.4" fill="none" stroke="#707070" stroke-width="1.9"/><path d="M43.4 134.5V146" stroke="#000" stroke-width="1.1" fill="none"/><path d="M37.4 145.2L48.2 145.2L43.4 153.2Z" fill="#000"/><path d="M76.5 155.3L68 158" stroke="#000" stroke-width="1.1" fill="none"/><path d="M59.3 162.3L68 153.6L70.2 163Z" fill="#000" stroke="#fff" stroke-width="0.6" paint-order="stroke"/><text transform="translate(36.20,131.40)" font-size="11.7" font-weight="normal" font-style="italic" text-anchor="start" fill="#000" stroke="#000" stroke-width="0.15" >region R3</text><text transform="translate(76.90,154.60)" font-size="11.7" font-weight="normal" font-style="italic" text-anchor="start" fill="#000" stroke="#000" stroke-width="0.15" >region</text><text transform="translate(76.90,168.50)" font-size="11.7" font-weight="normal" font-style="italic" text-anchor="start" fill="#000" stroke="#000" stroke-width="0.15" >R1</text><text transform="translate(11.00,174.20) rotate(-90)" font-size="11.6" font-weight="bold" font-style="normal" text-anchor="middle" fill="#000" stroke="#000" stroke-width="0.25" >IFN-γ APC</text><text transform="translate(8.20,237.10)" font-size="11.8" font-weight="bold" font-style="normal" text-anchor="start" fill="#000" stroke="#000" stroke-width="0.25" >Ab blocking control</text><path d="M8.20 239.10h110.80" stroke="#222" stroke-width="1" fill="none"/><path d="M33.70 308.80v2.6M33.70 308.80h-2.6M39.69 308.80v1.6M33.70 304.27h-1.6M43.19 308.80v1.6M33.70 301.62h-1.6M45.68 308.80v1.6M33.70 299.74h-1.6M47.61 308.80v1.6M33.70 298.28h-1.6M49.19 308.80v1.6M33.70 297.09h-1.6M50.52 308.80v1.6M33.70 296.08h-1.6M51.67 308.80v1.6M33.70 295.21h-1.6M52.69 308.80v1.6M33.70 294.44h-1.6M53.60 308.80v2.6M33.70 293.75h-2.6M59.59 308.80v1.6M33.70 289.22h-1.6M63.09 308.80v1.6M33.70 286.57h-1.6M65.58 308.80v1.6M33.70 284.69h-1.6M67.51 308.80v1.6M33.70 283.23h-1.6M69.09 308.80v1.6M33.70 282.04h-1.6M70.42 308.80v1.6M33.70 281.03h-1.6M71.57 308.80v1.6M33.70 280.16h-1.6M72.59 308.80v1.6M33.70 279.39h-1.6M73.50 308.80v2.6M33.70 278.70h-2.6M79.49 308.80v1.6M33.70 274.17h-1.6M82.99 308.80v1.6M33.70 271.52h-1.6M85.48 308.80v1.6M33.70 269.64h-1.6M87.41 308.80v1.6M33.70 268.18h-1.6M88.99 308.80v1.6M33.70 266.99h-1.6M90.32 308.80v1.6M33.70 265.98h-1.6M91.47 308.80v1.6M33.70 265.11h-1.6M92.49 308.80v1.6M33.70 264.34h-1.6M93.40 308.80v2.6M33.70 263.65h-2.6M99.39 308.80v1.6M33.70 259.12h-1.6M102.89 308.80v1.6M33.70 256.47h-1.6M105.38 308.80v1.6M33.70 254.59h-1.6M107.31 308.80v1.6M33.70 253.13h-1.6M108.89 308.80v1.6M33.70 251.94h-1.6M110.22 308.80v1.6M33.70 250.93h-1.6M111.37 308.80v1.6M33.70 250.06h-1.6M112.39 308.80v1.6M33.70 249.29h-1.6M113.30 308.80v2.6M33.70 248.60h-2.6" stroke="#000" stroke-width="0.9" fill="none"/><rect x="33.70" y="248.60" width="79.60" height="60.20" fill="none" stroke="#111" stroke-width="1.3"/><text transform="translate(33.50,320.50)" font-size="7.8" text-anchor="middle" fill="#111" stroke="#111" stroke-width="0.18">10</text><text transform="translate(37.40,317.10)" font-size="6.2" text-anchor="start" fill="#111" stroke="#111" stroke-width="0.15">0</text><text transform="translate(52.80,320.50)" font-size="7.8" text-anchor="middle" fill="#111" stroke="#111" stroke-width="0.18">10</text><text transform="translate(56.70,317.10)" font-size="6.2" text-anchor="start" fill="#111" stroke="#111" stroke-width="0.15">1</text><text transform="translate(72.10,320.50)" font-size="7.8" text-anchor="middle" fill="#111" stroke="#111" stroke-width="0.18">10</text><text transform="translate(76.00,317.10)" font-size="6.2" text-anchor="start" fill="#111" stroke="#111" stroke-width="0.15">2</text><text transform="translate(91.30,320.50)" font-size="7.8" text-anchor="middle" fill="#111" stroke="#111" stroke-width="0.18">10</text><text transform="translate(95.20,317.10)" font-size="6.2" text-anchor="start" fill="#111" stroke="#111" stroke-width="0.15">3</text><text transform="translate(110.20,320.50)" font-size="7.8" text-anchor="middle" fill="#111" stroke="#111" stroke-width="0.18">10</text><text transform="translate(114.10,317.10)" font-size="6.2" text-anchor="start" fill="#111" stroke="#111" stroke-width="0.15">4</text><text transform="translate(28.30,309.10) rotate(-90)" font-size="7.8" text-anchor="middle" fill="#111" stroke="#111" stroke-width="0.18">10</text><text transform="translate(25.30,303.50) rotate(-90)" font-size="6.2" text-anchor="middle" fill="#111" stroke="#111" stroke-width="0.15">0</text><text transform="translate(28.30,295.05) rotate(-90)" font-size="7.8" text-anchor="middle" fill="#111" stroke="#111" stroke-width="0.18">10</text><text transform="translate(25.30,288.55) rotate(-90)" font-size="6.2" text-anchor="middle" fill="#111" stroke="#111" stroke-width="0.15">1</text><text transform="translate(28.30,280.40) rotate(-90)" font-size="7.8" text-anchor="middle" fill="#111" stroke="#111" stroke-width="0.18">10</text><text transform="translate(25.30,274.10) rotate(-90)" font-size="6.2" text-anchor="middle" fill="#111" stroke="#111" stroke-width="0.15">2</text><text transform="translate(28.30,264.65) rotate(-90)" font-size="7.8" text-anchor="middle" fill="#111" stroke="#111" stroke-width="0.18">10</text><text transform="translate(25.30,259.05) rotate(-90)" font-size="6.2" text-anchor="middle" fill="#111" stroke="#111" stroke-width="0.15">3</text><text transform="translate(28.30,251.60) rotate(-90)" font-size="7.8" text-anchor="middle" fill="#111" stroke="#111" stroke-width="0.18">10</text><text transform="translate(25.30,245.50) rotate(-90)" font-size="6.2" text-anchor="middle" fill="#111" stroke="#111" stroke-width="0.15">4</text><text transform="translate(10.90,283.10) rotate(-90)" font-size="11.6" font-weight="bold" font-style="normal" text-anchor="middle" fill="#000" stroke="#000" stroke-width="0.25" >IFN-γ APC</text><text transform="translate(70.80,334.10)" font-size="11.4" font-weight="bold" font-style="normal" text-anchor="middle" fill="#000" stroke="#000" stroke-width="0.25" >FL1</text><path d="M160.0 36V331" stroke="#222" stroke-width="1.1" fill="none"/><path d="M159.6 29.5L164.2 38.8L155.0 38.8Z" fill="#000"/><text transform="translate(151.80,179.20) rotate(-90)" font-size="11.6" font-weight="bold" font-style="normal" text-anchor="middle" fill="#000" stroke="#000" stroke-width="0.25" >IFN-γ APC</text><path d="M184.30 101.80v2.6M184.30 101.80h-2.6M190.20 101.80v1.6M184.30 97.27h-1.6M193.65 101.80v1.6M184.30 94.62h-1.6M196.10 101.80v1.6M184.30 92.74h-1.6M198.00 101.80v1.6M184.30 91.28h-1.6M199.55 101.80v1.6M184.30 90.09h-1.6M200.86 101.80v1.6M184.30 89.08h-1.6M202.00 101.80v1.6M184.30 88.21h-1.6M203.00 101.80v1.6M184.30 87.44h-1.6M203.90 101.80v2.6M184.30 86.75h-2.6M209.80 101.80v1.6M184.30 82.22h-1.6M213.25 101.80v1.6M184.30 79.57h-1.6M215.70 101.80v1.6M184.30 77.69h-1.6M217.60 101.80v1.6M184.30 76.23h-1.6M219.15 101.80v1.6M184.30 75.04h-1.6M220.46 101.80v1.6M184.30 74.03h-1.6M221.60 101.80v1.6M184.30 73.16h-1.6M222.60 101.80v1.6M184.30 72.39h-1.6M223.50 101.80v2.6M184.30 71.70h-2.6M229.40 101.80v1.6M184.30 67.17h-1.6M232.85 101.80v1.6M184.30 64.52h-1.6M235.30 101.80v1.6M184.30 62.64h-1.6M237.20 101.80v1.6M184.30 61.18h-1.6M238.75 101.80v1.6M184.30 59.99h-1.6M240.06 101.80v1.6M184.30 58.98h-1.6M241.20 101.80v1.6M184.30 58.11h-1.6M242.20 101.80v1.6M184.30 57.34h-1.6M243.10 101.80v2.6M184.30 56.65h-2.6M249.00 101.80v1.6M184.30 52.12h-1.6M252.45 101.80v1.6M184.30 49.47h-1.6M254.90 101.80v1.6M184.30 47.59h-1.6M256.80 101.80v1.6M184.30 46.13h-1.6M258.35 101.80v1.6M184.30 44.94h-1.6M259.66 101.80v1.6M184.30 43.93h-1.6M260.80 101.80v1.6M184.30 43.06h-1.6M261.80 101.80v1.6M184.30 42.29h-1.6M262.70 101.80v2.6M184.30 41.60h-2.6" stroke="#000" stroke-width="0.9" fill="none"/><rect x="184.30" y="41.60" width="78.40" height="60.20" fill="none" stroke="#111" stroke-width="1.3"/><text transform="translate(184.10,113.50)" font-size="7.8" text-anchor="middle" fill="#111" stroke="#111" stroke-width="0.18">10</text><text transform="translate(188.00,110.10)" font-size="6.2" text-anchor="start" fill="#111" stroke="#111" stroke-width="0.15">0</text><text transform="translate(203.10,113.50)" font-size="7.8" text-anchor="middle" fill="#111" stroke="#111" stroke-width="0.18">10</text><text transform="translate(207.00,110.10)" font-size="6.2" text-anchor="start" fill="#111" stroke="#111" stroke-width="0.15">1</text><text transform="translate(222.10,113.50)" font-size="7.8" text-anchor="middle" fill="#111" stroke="#111" stroke-width="0.18">10</text><text transform="translate(226.00,110.10)" font-size="6.2" text-anchor="start" fill="#111" stroke="#111" stroke-width="0.15">2</text><text transform="translate(241.00,113.50)" font-size="7.8" text-anchor="middle" fill="#111" stroke="#111" stroke-width="0.18">10</text><text transform="translate(244.90,110.10)" font-size="6.2" text-anchor="start" fill="#111" stroke="#111" stroke-width="0.15">3</text><text transform="translate(259.60,113.50)" font-size="7.8" text-anchor="middle" fill="#111" stroke="#111" stroke-width="0.18">10</text><text transform="translate(263.50,110.10)" font-size="6.2" text-anchor="start" fill="#111" stroke="#111" stroke-width="0.15">4</text><text transform="translate(178.90,102.10) rotate(-90)" font-size="7.8" text-anchor="middle" fill="#111" stroke="#111" stroke-width="0.18">10</text><text transform="translate(175.90,96.50) rotate(-90)" font-size="6.2" text-anchor="middle" fill="#111" stroke="#111" stroke-width="0.15">0</text><text transform="translate(178.90,88.05) rotate(-90)" font-size="7.8" text-anchor="middle" fill="#111" stroke="#111" stroke-width="0.18">10</text><text transform="translate(175.90,81.55) rotate(-90)" font-size="6.2" text-anchor="middle" fill="#111" stroke="#111" stroke-width="0.15">1</text><text transform="translate(178.90,73.40) rotate(-90)" font-size="7.8" text-anchor="middle" fill="#111" stroke="#111" stroke-width="0.18">10</text><text transform="translate(175.90,67.10) rotate(-90)" font-size="6.2" text-anchor="middle" fill="#111" stroke="#111" stroke-width="0.15">2</text><text transform="translate(178.90,57.65) rotate(-90)" font-size="7.8" text-anchor="middle" fill="#111" stroke="#111" stroke-width="0.18">10</text><text transform="translate(175.90,52.05) rotate(-90)" font-size="6.2" text-anchor="middle" fill="#111" stroke="#111" stroke-width="0.15">3</text><text transform="translate(178.90,44.60) rotate(-90)" font-size="7.8" text-anchor="middle" fill="#111" stroke="#111" stroke-width="0.18">10</text><text transform="translate(175.90,38.50) rotate(-90)" font-size="6.2" text-anchor="middle" fill="#111" stroke="#111" stroke-width="0.15">4</text><text transform="translate(239.40,52.90)" font-size="9.3" font-weight="bold" font-style="normal" text-anchor="end" fill="#000" stroke="#000" stroke-width="0.25" >22</text><text transform="translate(243.30,52.90)" font-size="9.3" font-weight="bold" font-style="normal" text-anchor="start" fill="#000" stroke="#000" stroke-width="0.25" >0.01</text><path d="M226.30 54.50H262.70M241.60 45.60V59.20" stroke="#222" stroke-width="1.1" fill="none"/><text transform="translate(221.50,124.00)" font-size="11.7" font-weight="bold" font-style="normal" text-anchor="middle" fill="#000" stroke="#000" stroke-width="0.25" >rat IgG FITC</text><path d="M297.50 101.80v2.6M297.50 101.80h-2.6M303.39 101.80v1.6M297.50 97.27h-1.6M306.83 101.80v1.6M297.50 94.62h-1.6M309.27 101.80v1.6M297.50 92.74h-1.6M311.16 101.80v1.6M297.50 91.28h-1.6M312.71 101.80v1.6M297.50 90.09h-1.6M314.02 101.80v1.6M297.50 89.08h-1.6M315.16 101.80v1.6M297.50 88.21h-1.6M316.16 101.80v1.6M297.50 87.44h-1.6M317.05 101.80v2.6M297.50 86.75h-2.6M322.94 101.80v1.6M297.50 82.22h-1.6M326.38 101.80v1.6M297.50 79.57h-1.6M328.82 101.80v1.6M297.50 77.69h-1.6M330.71 101.80v1.6M297.50 76.23h-1.6M332.26 101.80v1.6M297.50 75.04h-1.6M333.57 101.80v1.6M297.50 74.03h-1.6M334.71 101.80v1.6M297.50 73.16h-1.6M335.71 101.80v1.6M297.50 72.39h-1.6M336.60 101.80v2.6M297.50 71.70h-2.6M342.49 101.80v1.6M297.50 67.17h-1.6M345.93 101.80v1.6M297.50 64.52h-1.6M348.37 101.80v1.6M297.50 62.64h-1.6M350.26 101.80v1.6M297.50 61.18h-1.6M351.81 101.80v1.6M297.50 59.99h-1.6M353.12 101.80v1.6M297.50 58.98h-1.6M354.26 101.80v1.6M297.50 58.11h-1.6M355.26 101.80v1.6M297.50 57.34h-1.6M356.15 101.80v2.6M297.50 56.65h-2.6M362.04 101.80v1.6M297.50 52.12h-1.6M365.48 101.80v1.6M297.50 49.47h-1.6M367.92 101.80v1.6M297.50 47.59h-1.6M369.81 101.80v1.6M297.50 46.13h-1.6M371.36 101.80v1.6M297.50 44.94h-1.6M372.67 101.80v1.6M297.50 43.93h-1.6M373.81 101.80v1.6M297.50 43.06h-1.6M374.81 101.80v1.6M297.50 42.29h-1.6M375.70 101.80v2.6M297.50 41.60h-2.6" stroke="#000" stroke-width="0.9" fill="none"/><rect x="297.50" y="41.60" width="78.20" height="60.20" fill="none" stroke="#111" stroke-width="1.3"/><text transform="translate(297.30,113.50)" font-size="7.8" text-anchor="middle" fill="#111" stroke="#111" stroke-width="0.18">10</text><text transform="translate(301.20,110.10)" font-size="6.2" text-anchor="start" fill="#111" stroke="#111" stroke-width="0.15">0</text><text transform="translate(316.25,113.50)" font-size="7.8" text-anchor="middle" fill="#111" stroke="#111" stroke-width="0.18">10</text><text transform="translate(320.15,110.10)" font-size="6.2" text-anchor="start" fill="#111" stroke="#111" stroke-width="0.15">1</text><text transform="translate(335.20,113.50)" font-size="7.8" text-anchor="middle" fill="#111" stroke="#111" stroke-width="0.18">10</text><text transform="translate(339.10,110.10)" font-size="6.2" text-anchor="start" fill="#111" stroke="#111" stroke-width="0.15">2</text><text transform="translate(354.05,113.50)" font-size="7.8" text-anchor="middle" fill="#111" stroke="#111" stroke-width="0.18">10</text><text transform="translate(357.95,110.10)" font-size="6.2" text-anchor="start" fill="#111" stroke="#111" stroke-width="0.15">3</text><text transform="translate(372.60,113.50)" font-size="7.8" text-anchor="middle" fill="#111" stroke="#111" stroke-width="0.18">10</text><text transform="translate(376.50,110.10)" font-size="6.2" text-anchor="start" fill="#111" stroke="#111" stroke-width="0.15">4</text><text transform="translate(292.10,102.10) rotate(-90)" font-size="7.8" text-anchor="middle" fill="#111" stroke="#111" stroke-width="0.18">10</text><text transform="translate(289.10,96.50) rotate(-90)" font-size="6.2" text-anchor="middle" fill="#111" stroke="#111" stroke-width="0.15">0</text><text transform="translate(292.10,88.05) rotate(-90)" font-size="7.8" text-anchor="middle" fill="#111" stroke="#111" stroke-width="0.18">10</text><text transform="translate(289.10,81.55) rotate(-90)" font-size="6.2" text-anchor="middle" fill="#111" stroke="#111" stroke-width="0.15">1</text><text transform="translate(292.10,73.40) rotate(-90)" font-size="7.8" text-anchor="middle" fill="#111" stroke="#111" stroke-width="0.18">10</text><text transform="translate(289.10,67.10) rotate(-90)" font-size="6.2" text-anchor="middle" fill="#111" stroke="#111" stroke-width="0.15">2</text><text transform="translate(292.10,57.65) rotate(-90)" font-size="7.8" text-anchor="middle" fill="#111" stroke="#111" stroke-width="0.18">10</text><text transform="translate(289.10,52.05) rotate(-90)" font-size="6.2" text-anchor="middle" fill="#111" stroke="#111" stroke-width="0.15">3</text><text transform="translate(292.10,44.60) rotate(-90)" font-size="7.8" text-anchor="middle" fill="#111" stroke="#111" stroke-width="0.18">10</text><text transform="translate(289.10,38.50) rotate(-90)" font-size="6.2" text-anchor="middle" fill="#111" stroke="#111" stroke-width="0.15">4</text><text transform="translate(334.00,124.00)" font-size="11.7" font-weight="bold" font-style="normal" text-anchor="middle" fill="#000" stroke="#000" stroke-width="0.25" >rat IgM PE</text><path d="M415.10 101.80v2.6M415.10 101.80h-2.6M420.99 101.80v1.6M415.10 97.27h-1.6M424.44 101.80v1.6M415.10 94.62h-1.6M426.89 101.80v1.6M415.10 92.74h-1.6M428.78 101.80v1.6M415.10 91.28h-1.6M430.33 101.80v1.6M415.10 90.09h-1.6M431.64 101.80v1.6M415.10 89.08h-1.6M432.78 101.80v1.6M415.10 88.21h-1.6M433.78 101.80v1.6M415.10 87.44h-1.6M434.68 101.80v2.6M415.10 86.75h-2.6M440.57 101.80v1.6M415.10 82.22h-1.6M444.01 101.80v1.6M415.10 79.57h-1.6M446.46 101.80v1.6M415.10 77.69h-1.6M448.36 101.80v1.6M415.10 76.23h-1.6M449.91 101.80v1.6M415.10 75.04h-1.6M451.22 101.80v1.6M415.10 74.03h-1.6M452.35 101.80v1.6M415.10 73.16h-1.6M453.35 101.80v1.6M415.10 72.39h-1.6M454.25 101.80v2.6M415.10 71.70h-2.6M460.14 101.80v1.6M415.10 67.17h-1.6M463.59 101.80v1.6M415.10 64.52h-1.6M466.04 101.80v1.6M415.10 62.64h-1.6M467.93 101.80v1.6M415.10 61.18h-1.6M469.48 101.80v1.6M415.10 59.99h-1.6M470.79 101.80v1.6M415.10 58.98h-1.6M471.93 101.80v1.6M415.10 58.11h-1.6M472.93 101.80v1.6M415.10 57.34h-1.6M473.82 101.80v2.6M415.10 56.65h-2.6M479.72 101.80v1.6M415.10 52.12h-1.6M483.16 101.80v1.6M415.10 49.47h-1.6M485.61 101.80v1.6M415.10 47.59h-1.6M487.51 101.80v1.6M415.10 46.13h-1.6M489.06 101.80v1.6M415.10 44.94h-1.6M490.37 101.80v1.6M415.10 43.93h-1.6M491.50 101.80v1.6M415.10 43.06h-1.6M492.50 101.80v1.6M415.10 42.29h-1.6M493.40 101.80v2.6M415.10 41.60h-2.6" stroke="#000" stroke-width="0.9" fill="none"/><rect x="415.10" y="41.60" width="78.30" height="60.20" fill="none" stroke="#111" stroke-width="1.3"/><text transform="translate(414.90,113.50)" font-size="7.8" text-anchor="middle" fill="#111" stroke="#111" stroke-width="0.18">10</text><text transform="translate(418.80,110.10)" font-size="6.2" text-anchor="start" fill="#111" stroke="#111" stroke-width="0.15">0</text><text transform="translate(433.88,113.50)" font-size="7.8" text-anchor="middle" fill="#111" stroke="#111" stroke-width="0.18">10</text><text transform="translate(437.77,110.10)" font-size="6.2" text-anchor="start" fill="#111" stroke="#111" stroke-width="0.15">1</text><text transform="translate(452.85,113.50)" font-size="7.8" text-anchor="middle" fill="#111" stroke="#111" stroke-width="0.18">10</text><text transform="translate(456.75,110.10)" font-size="6.2" text-anchor="start" fill="#111" stroke="#111" stroke-width="0.15">2</text><text transform="translate(471.72,113.50)" font-size="7.8" text-anchor="middle" fill="#111" stroke="#111" stroke-width="0.18">10</text><text transform="translate(475.62,110.10)" font-size="6.2" text-anchor="start" fill="#111" stroke="#111" stroke-width="0.15">3</text><text transform="translate(490.30,113.50)" font-size="7.8" text-anchor="middle" fill="#111" stroke="#111" stroke-width="0.18">10</text><text transform="translate(494.20,110.10)" font-size="6.2" text-anchor="start" fill="#111" stroke="#111" stroke-width="0.15">4</text><text transform="translate(409.70,102.10) rotate(-90)" font-size="7.8" text-anchor="middle" fill="#111" stroke="#111" stroke-width="0.18">10</text><text transform="translate(406.70,96.50) rotate(-90)" font-size="6.2" text-anchor="middle" fill="#111" stroke="#111" stroke-width="0.15">0</text><text transform="translate(409.70,88.05) rotate(-90)" font-size="7.8" text-anchor="middle" fill="#111" stroke="#111" stroke-width="0.18">10</text><text transform="translate(406.70,81.55) rotate(-90)" font-size="6.2" text-anchor="middle" fill="#111" stroke="#111" stroke-width="0.15">1</text><text transform="translate(409.70,73.40) rotate(-90)" font-size="7.8" text-anchor="middle" fill="#111" stroke="#111" stroke-width="0.18">10</text><text transform="translate(406.70,67.10) rotate(-90)" font-size="6.2" text-anchor="middle" fill="#111" stroke="#111" stroke-width="0.15">2</text><text transform="translate(409.70,57.65) rotate(-90)" font-size="7.8" text-anchor="middle" fill="#111" stroke="#111" stroke-width="0.18">10</text><text transform="translate(406.70,52.05) rotate(-90)" font-size="6.2" text-anchor="middle" fill="#111" stroke="#111" stroke-width="0.15">3</text><text transform="translate(409.70,44.60) rotate(-90)" font-size="7.8" text-anchor="middle" fill="#111" stroke="#111" stroke-width="0.18">10</text><text transform="translate(406.70,38.50) rotate(-90)" font-size="6.2" text-anchor="middle" fill="#111" stroke="#111" stroke-width="0.15">4</text><text transform="translate(449.00,124.00)" font-size="11.7" font-weight="bold" font-style="normal" text-anchor="middle" fill="#000" stroke="#000" stroke-width="0.25" >StrepPerCP</text><path d="M184.30 201.90v2.6M184.30 201.90h-2.6M190.19 201.90v1.6M184.30 197.42h-1.6M193.64 201.90v1.6M184.30 194.80h-1.6M196.09 201.90v1.6M184.30 192.94h-1.6M197.98 201.90v1.6M184.30 191.50h-1.6M199.53 201.90v1.6M184.30 190.33h-1.6M200.84 201.90v1.6M184.30 189.33h-1.6M201.98 201.90v1.6M184.30 188.47h-1.6M202.98 201.90v1.6M184.30 187.71h-1.6M203.88 201.90v2.6M184.30 187.03h-2.6M209.77 201.90v1.6M184.30 182.55h-1.6M213.21 201.90v1.6M184.30 179.93h-1.6M215.66 201.90v1.6M184.30 178.07h-1.6M217.56 201.90v1.6M184.30 176.63h-1.6M219.11 201.90v1.6M184.30 175.45h-1.6M220.42 201.90v1.6M184.30 174.45h-1.6M221.55 201.90v1.6M184.30 173.59h-1.6M222.55 201.90v1.6M184.30 172.83h-1.6M223.45 201.90v2.6M184.30 172.15h-2.6M229.34 201.90v1.6M184.30 167.67h-1.6M232.79 201.90v1.6M184.30 165.05h-1.6M235.24 201.90v1.6M184.30 163.19h-1.6M237.13 201.90v1.6M184.30 161.75h-1.6M238.68 201.90v1.6M184.30 160.58h-1.6M239.99 201.90v1.6M184.30 159.58h-1.6M241.13 201.90v1.6M184.30 158.72h-1.6M242.13 201.90v1.6M184.30 157.96h-1.6M243.03 201.90v2.6M184.30 157.28h-2.6M248.92 201.90v1.6M184.30 152.80h-1.6M252.36 201.90v1.6M184.30 150.18h-1.6M254.81 201.90v1.6M184.30 148.32h-1.6M256.71 201.90v1.6M184.30 146.88h-1.6M258.26 201.90v1.6M184.30 145.70h-1.6M259.57 201.90v1.6M184.30 144.70h-1.6M260.70 201.90v1.6M184.30 143.84h-1.6M261.70 201.90v1.6M184.30 143.08h-1.6M262.60 201.90v2.6M184.30 142.40h-2.6" stroke="#000" stroke-width="0.9" fill="none"/><rect x="184.30" y="142.40" width="78.30" height="59.50" fill="none" stroke="#111" stroke-width="1.3"/><text transform="translate(184.10,213.60)" font-size="7.8" text-anchor="middle" fill="#111" stroke="#111" stroke-width="0.18">10</text><text transform="translate(188.00,210.20)" font-size="6.2" text-anchor="start" fill="#111" stroke="#111" stroke-width="0.15">0</text><text transform="translate(203.07,213.60)" font-size="7.8" text-anchor="middle" fill="#111" stroke="#111" stroke-width="0.18">10</text><text transform="translate(206.97,210.20)" font-size="6.2" text-anchor="start" fill="#111" stroke="#111" stroke-width="0.15">1</text><text transform="translate(222.05,213.60)" font-size="7.8" text-anchor="middle" fill="#111" stroke="#111" stroke-width="0.18">10</text><text transform="translate(225.95,210.20)" font-size="6.2" text-anchor="start" fill="#111" stroke="#111" stroke-width="0.15">2</text><text transform="translate(240.93,213.60)" font-size="7.8" text-anchor="middle" fill="#111" stroke="#111" stroke-width="0.18">10</text><text transform="translate(244.83,210.20)" font-size="6.2" text-anchor="start" fill="#111" stroke="#111" stroke-width="0.15">3</text><text transform="translate(259.50,213.60)" font-size="7.8" text-anchor="middle" fill="#111" stroke="#111" stroke-width="0.18">10</text><text transform="translate(263.40,210.20)" font-size="6.2" text-anchor="start" fill="#111" stroke="#111" stroke-width="0.15">4</text><text transform="translate(178.90,202.20) rotate(-90)" font-size="7.8" text-anchor="middle" fill="#111" stroke="#111" stroke-width="0.18">10</text><text transform="translate(175.90,196.60) rotate(-90)" font-size="6.2" text-anchor="middle" fill="#111" stroke="#111" stroke-width="0.15">0</text><text transform="translate(178.90,188.33) rotate(-90)" font-size="7.8" text-anchor="middle" fill="#111" stroke="#111" stroke-width="0.18">10</text><text transform="translate(175.90,181.83) rotate(-90)" font-size="6.2" text-anchor="middle" fill="#111" stroke="#111" stroke-width="0.15">1</text><text transform="translate(178.90,173.85) rotate(-90)" font-size="7.8" text-anchor="middle" fill="#111" stroke="#111" stroke-width="0.18">10</text><text transform="translate(175.90,167.55) rotate(-90)" font-size="6.2" text-anchor="middle" fill="#111" stroke="#111" stroke-width="0.15">2</text><text transform="translate(178.90,158.28) rotate(-90)" font-size="7.8" text-anchor="middle" fill="#111" stroke="#111" stroke-width="0.18">10</text><text transform="translate(175.90,152.68) rotate(-90)" font-size="6.2" text-anchor="middle" fill="#111" stroke="#111" stroke-width="0.15">3</text><text transform="translate(178.90,145.40) rotate(-90)" font-size="7.8" text-anchor="middle" fill="#111" stroke="#111" stroke-width="0.18">10</text><text transform="translate(175.90,139.30) rotate(-90)" font-size="6.2" text-anchor="middle" fill="#111" stroke="#111" stroke-width="0.15">4</text><text transform="translate(238.80,152.30)" font-size="9.3" font-weight="bold" font-style="normal" text-anchor="end" fill="#000" stroke="#000" stroke-width="0.25" >3.2</text><text transform="translate(241.60,152.30)" font-size="9.3" font-weight="bold" font-style="normal" text-anchor="start" fill="#000" stroke="#000" stroke-width="0.25" >18.5</text><path d="M225.00 154.20H262.60M240.30 145.60V159.00" stroke="#222" stroke-width="1.1" fill="none"/><text transform="translate(221.20,227.30)" font-size="11.8" font-weight="bold" font-style="normal" text-anchor="middle" fill="#000" stroke="#000" stroke-width="0.25" >CD11b FITC</text><path d="M297.50 201.90v2.6M297.50 201.90h-2.6M303.39 201.90v1.6M297.50 197.42h-1.6M306.84 201.90v1.6M297.50 194.80h-1.6M309.29 201.90v1.6M297.50 192.94h-1.6M311.18 201.90v1.6M297.50 191.50h-1.6M312.73 201.90v1.6M297.50 190.33h-1.6M314.04 201.90v1.6M297.50 189.33h-1.6M315.18 201.90v1.6M297.50 188.47h-1.6M316.18 201.90v1.6M297.50 187.71h-1.6M317.07 201.90v2.6M297.50 187.03h-2.6M322.97 201.90v1.6M297.50 182.55h-1.6M326.41 201.90v1.6M297.50 179.93h-1.6M328.86 201.90v1.6M297.50 178.07h-1.6M330.76 201.90v1.6M297.50 176.63h-1.6M332.31 201.90v1.6M297.50 175.45h-1.6M333.62 201.90v1.6M297.50 174.45h-1.6M334.75 201.90v1.6M297.50 173.59h-1.6M335.75 201.90v1.6M297.50 172.83h-1.6M336.65 201.90v2.6M297.50 172.15h-2.6M342.54 201.90v1.6M297.50 167.67h-1.6M345.99 201.90v1.6M297.50 165.05h-1.6M348.44 201.90v1.6M297.50 163.19h-1.6M350.33 201.90v1.6M297.50 161.75h-1.6M351.88 201.90v1.6M297.50 160.58h-1.6M353.19 201.90v1.6M297.50 159.58h-1.6M354.33 201.90v1.6M297.50 158.72h-1.6M355.33 201.90v1.6M297.50 157.96h-1.6M356.23 201.90v2.6M297.50 157.28h-2.6M362.12 201.90v1.6M297.50 152.80h-1.6M365.56 201.90v1.6M297.50 150.18h-1.6M368.01 201.90v1.6M297.50 148.32h-1.6M369.91 201.90v1.6M297.50 146.88h-1.6M371.46 201.90v1.6M297.50 145.70h-1.6M372.77 201.90v1.6M297.50 144.70h-1.6M373.90 201.90v1.6M297.50 143.84h-1.6M374.90 201.90v1.6M297.50 143.08h-1.6M375.80 201.90v2.6M297.50 142.40h-2.6" stroke="#000" stroke-width="0.9" fill="none"/><rect x="297.50" y="142.40" width="78.30" height="59.50" fill="none" stroke="#111" stroke-width="1.3"/><text transform="translate(297.30,213.60)" font-size="7.8" text-anchor="middle" fill="#111" stroke="#111" stroke-width="0.18">10</text><text transform="translate(301.20,210.20)" font-size="6.2" text-anchor="start" fill="#111" stroke="#111" stroke-width="0.15">0</text><text transform="translate(316.27,213.60)" font-size="7.8" text-anchor="middle" fill="#111" stroke="#111" stroke-width="0.18">10</text><text transform="translate(320.17,210.20)" font-size="6.2" text-anchor="start" fill="#111" stroke="#111" stroke-width="0.15">1</text><text transform="translate(335.25,213.60)" font-size="7.8" text-anchor="middle" fill="#111" stroke="#111" stroke-width="0.18">10</text><text transform="translate(339.15,210.20)" font-size="6.2" text-anchor="start" fill="#111" stroke="#111" stroke-width="0.15">2</text><text transform="translate(354.12,213.60)" font-size="7.8" text-anchor="middle" fill="#111" stroke="#111" stroke-width="0.18">10</text><text transform="translate(358.02,210.20)" font-size="6.2" text-anchor="start" fill="#111" stroke="#111" stroke-width="0.15">3</text><text transform="translate(372.70,213.60)" font-size="7.8" text-anchor="middle" fill="#111" stroke="#111" stroke-width="0.18">10</text><text transform="translate(376.60,210.20)" font-size="6.2" text-anchor="start" fill="#111" stroke="#111" stroke-width="0.15">4</text><text transform="translate(292.10,202.20) rotate(-90)" font-size="7.8" text-anchor="middle" fill="#111" stroke="#111" stroke-width="0.18">10</text><text transform="translate(289.10,196.60) rotate(-90)" font-size="6.2" text-anchor="middle" fill="#111" stroke="#111" stroke-width="0.15">0</text><text transform="translate(292.10,188.33) rotate(-90)" font-size="7.8" text-anchor="middle" fill="#111" stroke="#111" stroke-width="0.18">10</text><text transform="translate(289.10,181.83) rotate(-90)" font-size="6.2" text-anchor="middle" fill="#111" stroke="#111" stroke-width="0.15">1</text><text transform="translate(292.10,173.85) rotate(-90)" font-size="7.8" text-anchor="middle" fill="#111" stroke="#111" stroke-width="0.18">10</text><text transform="translate(289.10,167.55) rotate(-90)" font-size="6.2" text-anchor="middle" fill="#111" stroke="#111" stroke-width="0.15">2</text><text transform="translate(292.10,158.28) rotate(-90)" font-size="7.8" text-anchor="middle" fill="#111" stroke="#111" stroke-width="0.18">10</text><text transform="translate(289.10,152.68) rotate(-90)" font-size="6.2" text-anchor="middle" fill="#111" stroke="#111" stroke-width="0.15">3</text><text transform="translate(292.10,145.40) rotate(-90)" font-size="7.8" text-anchor="middle" fill="#111" stroke="#111" stroke-width="0.18">10</text><text transform="translate(289.10,139.30) rotate(-90)" font-size="6.2" text-anchor="middle" fill="#111" stroke="#111" stroke-width="0.15">4</text><text transform="translate(352.00,152.40)" font-size="9.3" font-weight="bold" font-style="normal" text-anchor="end" fill="#000" stroke="#000" stroke-width="0.25" >2.6</text><text transform="translate(356.30,152.40)" font-size="9.3" font-weight="bold" font-style="normal" text-anchor="start" fill="#000" stroke="#000" stroke-width="0.25" >18.5</text><path d="M338.50 154.10H375.80M354.60 145.60V159.20" stroke="#222" stroke-width="1.1" fill="none"/><text transform="translate(335.40,227.30)" font-size="11.8" font-weight="bold" font-style="normal" text-anchor="middle" fill="#000" stroke="#000" stroke-width="0.25" >DX5 PE</text><path d="M415.10 201.90v2.6M415.10 201.90h-2.6M420.99 201.90v1.6M415.10 197.42h-1.6M424.44 201.90v1.6M415.10 194.80h-1.6M426.89 201.90v1.6M415.10 192.94h-1.6M428.78 201.90v1.6M415.10 191.50h-1.6M430.33 201.90v1.6M415.10 190.33h-1.6M431.64 201.90v1.6M415.10 189.33h-1.6M432.78 201.90v1.6M415.10 188.47h-1.6M433.78 201.90v1.6M415.10 187.71h-1.6M434.68 201.90v2.6M415.10 187.03h-2.6M440.57 201.90v1.6M415.10 182.55h-1.6M444.01 201.90v1.6M415.10 179.93h-1.6M446.46 201.90v1.6M415.10 178.07h-1.6M448.36 201.90v1.6M415.10 176.63h-1.6M449.91 201.90v1.6M415.10 175.45h-1.6M451.22 201.90v1.6M415.10 174.45h-1.6M452.35 201.90v1.6M415.10 173.59h-1.6M453.35 201.90v1.6M415.10 172.83h-1.6M454.25 201.90v2.6M415.10 172.15h-2.6M460.14 201.90v1.6M415.10 167.67h-1.6M463.59 201.90v1.6M415.10 165.05h-1.6M466.04 201.90v1.6M415.10 163.19h-1.6M467.93 201.90v1.6M415.10 161.75h-1.6M469.48 201.90v1.6M415.10 160.58h-1.6M470.79 201.90v1.6M415.10 159.58h-1.6M471.93 201.90v1.6M415.10 158.72h-1.6M472.93 201.90v1.6M415.10 157.96h-1.6M473.82 201.90v2.6M415.10 157.28h-2.6M479.72 201.90v1.6M415.10 152.80h-1.6M483.16 201.90v1.6M415.10 150.18h-1.6M485.61 201.90v1.6M415.10 148.32h-1.6M487.51 201.90v1.6M415.10 146.88h-1.6M489.06 201.90v1.6M415.10 145.70h-1.6M490.37 201.90v1.6M415.10 144.70h-1.6M491.50 201.90v1.6M415.10 143.84h-1.6M492.50 201.90v1.6M415.10 143.08h-1.6M493.40 201.90v2.6M415.10 142.40h-2.6" stroke="#000" stroke-width="0.9" fill="none"/><rect x="415.10" y="142.40" width="78.30" height="59.50" fill="none" stroke="#111" stroke-width="1.3"/><text transform="translate(414.90,213.60)" font-size="7.8" text-anchor="middle" fill="#111" stroke="#111" stroke-width="0.18">10</text><text transform="translate(418.80,210.20)" font-size="6.2" text-anchor="start" fill="#111" stroke="#111" stroke-width="0.15">0</text><text transform="translate(433.88,213.60)" font-size="7.8" text-anchor="middle" fill="#111" stroke="#111" stroke-width="0.18">10</text><text transform="translate(437.77,210.20)" font-size="6.2" text-anchor="start" fill="#111" stroke="#111" stroke-width="0.15">1</text><text transform="translate(452.85,213.60)" font-size="7.8" text-anchor="middle" fill="#111" stroke="#111" stroke-width="0.18">10</text><text transform="translate(456.75,210.20)" font-size="6.2" text-anchor="start" fill="#111" stroke="#111" stroke-width="0.15">2</text><text transform="translate(471.72,213.60)" font-size="7.8" text-anchor="middle" fill="#111" stroke="#111" stroke-width="0.18">10</text><text transform="translate(475.62,210.20)" font-size="6.2" text-anchor="start" fill="#111" stroke="#111" stroke-width="0.15">3</text><text transform="translate(490.30,213.60)" font-size="7.8" text-anchor="middle" fill="#111" stroke="#111" stroke-width="0.18">10</text><text transform="translate(494.20,210.20)" font-size="6.2" text-anchor="start" fill="#111" stroke="#111" stroke-width="0.15">4</text><text transform="translate(409.70,202.20) rotate(-90)" font-size="7.8" text-anchor="middle" fill="#111" stroke="#111" stroke-width="0.18">10</text><text transform="translate(406.70,196.60) rotate(-90)" font-size="6.2" text-anchor="middle" fill="#111" stroke="#111" stroke-width="0.15">0</text><text transform="translate(409.70,188.33) rotate(-90)" font-size="7.8" text-anchor="middle" fill="#111" stroke="#111" stroke-width="0.18">10</text><text transform="translate(406.70,181.83) rotate(-90)" font-size="6.2" text-anchor="middle" fill="#111" stroke="#111" stroke-width="0.15">1</text><text transform="translate(409.70,173.85) rotate(-90)" font-size="7.8" text-anchor="middle" fill="#111" stroke="#111" stroke-width="0.18">10</text><text transform="translate(406.70,167.55) rotate(-90)" font-size="6.2" text-anchor="middle" fill="#111" stroke="#111" stroke-width="0.15">2</text><text transform="translate(409.70,158.28) rotate(-90)" font-size="7.8" text-anchor="middle" fill="#111" stroke="#111" stroke-width="0.18">10</text><text transform="translate(406.70,152.68) rotate(-90)" font-size="6.2" text-anchor="middle" fill="#111" stroke="#111" stroke-width="0.15">3</text><text transform="translate(409.70,145.40) rotate(-90)" font-size="7.8" text-anchor="middle" fill="#111" stroke="#111" stroke-width="0.18">10</text><text transform="translate(406.70,139.30) rotate(-90)" font-size="6.2" text-anchor="middle" fill="#111" stroke="#111" stroke-width="0.15">4</text><text transform="translate(470.10,152.40)" font-size="9.3" font-weight="bold" font-style="normal" text-anchor="end" fill="#000" stroke="#000" stroke-width="0.25" >3.0</text><text transform="translate(474.00,152.40)" font-size="9.3" font-weight="bold" font-style="normal" text-anchor="start" fill="#000" stroke="#000" stroke-width="0.25" >18.4</text><path d="M455.70 154.10H493.40M472.60 145.60V159.20" stroke="#222" stroke-width="1.1" fill="none"/><text transform="translate(455.00,227.30)" font-size="11.9" font-weight="bold" font-style="normal" text-anchor="middle" fill="#000" stroke="#000" stroke-width="0.25" >CD11c bio StrepPerCP</text><path d="M183.80 308.10v2.6M183.80 308.10h-2.6M189.73 308.10v1.6M183.80 303.60h-1.6M193.20 308.10v1.6M183.80 300.97h-1.6M195.66 308.10v1.6M183.80 299.10h-1.6M197.57 308.10v1.6M183.80 297.65h-1.6M199.13 308.10v1.6M183.80 296.47h-1.6M200.45 308.10v1.6M183.80 295.47h-1.6M201.59 308.10v1.6M183.80 294.60h-1.6M202.60 308.10v1.6M183.80 293.83h-1.6M203.50 308.10v2.6M183.80 293.15h-2.6M209.43 308.10v1.6M183.80 288.65h-1.6M212.90 308.10v1.6M183.80 286.02h-1.6M215.36 308.10v1.6M183.80 284.15h-1.6M217.27 308.10v1.6M183.80 282.70h-1.6M218.83 308.10v1.6M183.80 281.52h-1.6M220.15 308.10v1.6M183.80 280.52h-1.6M221.29 308.10v1.6M183.80 279.65h-1.6M222.30 308.10v1.6M183.80 278.88h-1.6M223.20 308.10v2.6M183.80 278.20h-2.6M229.13 308.10v1.6M183.80 273.70h-1.6M232.60 308.10v1.6M183.80 271.07h-1.6M235.06 308.10v1.6M183.80 269.20h-1.6M236.97 308.10v1.6M183.80 267.75h-1.6M238.53 308.10v1.6M183.80 266.57h-1.6M239.85 308.10v1.6M183.80 265.57h-1.6M240.99 308.10v1.6M183.80 264.70h-1.6M242.00 308.10v1.6M183.80 263.93h-1.6M242.90 308.10v2.6M183.80 263.25h-2.6M248.83 308.10v1.6M183.80 258.75h-1.6M252.30 308.10v1.6M183.80 256.12h-1.6M254.76 308.10v1.6M183.80 254.25h-1.6M256.67 308.10v1.6M183.80 252.80h-1.6M258.23 308.10v1.6M183.80 251.62h-1.6M259.55 308.10v1.6M183.80 250.62h-1.6M260.69 308.10v1.6M183.80 249.75h-1.6M261.70 308.10v1.6M183.80 248.98h-1.6M262.60 308.10v2.6M183.80 248.30h-2.6" stroke="#000" stroke-width="0.9" fill="none"/><rect x="183.80" y="248.30" width="78.80" height="59.80" fill="none" stroke="#111" stroke-width="1.3"/><text transform="translate(183.60,319.80)" font-size="7.8" text-anchor="middle" fill="#111" stroke="#111" stroke-width="0.18">10</text><text transform="translate(187.50,316.40)" font-size="6.2" text-anchor="start" fill="#111" stroke="#111" stroke-width="0.15">0</text><text transform="translate(202.70,319.80)" font-size="7.8" text-anchor="middle" fill="#111" stroke="#111" stroke-width="0.18">10</text><text transform="translate(206.60,316.40)" font-size="6.2" text-anchor="start" fill="#111" stroke="#111" stroke-width="0.15">1</text><text transform="translate(221.80,319.80)" font-size="7.8" text-anchor="middle" fill="#111" stroke="#111" stroke-width="0.18">10</text><text transform="translate(225.70,316.40)" font-size="6.2" text-anchor="start" fill="#111" stroke="#111" stroke-width="0.15">2</text><text transform="translate(240.80,319.80)" font-size="7.8" text-anchor="middle" fill="#111" stroke="#111" stroke-width="0.18">10</text><text transform="translate(244.70,316.40)" font-size="6.2" text-anchor="start" fill="#111" stroke="#111" stroke-width="0.15">3</text><text transform="translate(259.50,319.80)" font-size="7.8" text-anchor="middle" fill="#111" stroke="#111" stroke-width="0.18">10</text><text transform="translate(263.40,316.40)" font-size="6.2" text-anchor="start" fill="#111" stroke="#111" stroke-width="0.15">4</text><text transform="translate(178.40,308.40) rotate(-90)" font-size="7.8" text-anchor="middle" fill="#111" stroke="#111" stroke-width="0.18">10</text><text transform="translate(175.40,302.80) rotate(-90)" font-size="6.2" text-anchor="middle" fill="#111" stroke="#111" stroke-width="0.15">0</text><text transform="translate(178.40,294.45) rotate(-90)" font-size="7.8" text-anchor="middle" fill="#111" stroke="#111" stroke-width="0.18">10</text><text transform="translate(175.40,287.95) rotate(-90)" font-size="6.2" text-anchor="middle" fill="#111" stroke="#111" stroke-width="0.15">1</text><text transform="translate(178.40,279.90) rotate(-90)" font-size="7.8" text-anchor="middle" fill="#111" stroke="#111" stroke-width="0.18">10</text><text transform="translate(175.40,273.60) rotate(-90)" font-size="6.2" text-anchor="middle" fill="#111" stroke="#111" stroke-width="0.15">2</text><text transform="translate(178.40,264.25) rotate(-90)" font-size="7.8" text-anchor="middle" fill="#111" stroke="#111" stroke-width="0.18">10</text><text transform="translate(175.40,258.65) rotate(-90)" font-size="6.2" text-anchor="middle" fill="#111" stroke="#111" stroke-width="0.15">3</text><text transform="translate(178.40,251.30) rotate(-90)" font-size="7.8" text-anchor="middle" fill="#111" stroke="#111" stroke-width="0.18">10</text><text transform="translate(175.40,245.20) rotate(-90)" font-size="6.2" text-anchor="middle" fill="#111" stroke="#111" stroke-width="0.15">4</text><text transform="translate(238.40,258.90)" font-size="9.3" font-weight="bold" font-style="normal" text-anchor="end" fill="#000" stroke="#000" stroke-width="0.25" >20</text><text transform="translate(243.00,258.90)" font-size="9.3" font-weight="bold" font-style="normal" text-anchor="start" fill="#000" stroke="#000" stroke-width="0.25" >1.5</text><path d="M225.70 260.90H261.20M240.90 252.50V265.70" stroke="#222" stroke-width="1.1" fill="none"/><text transform="translate(222.50,332.50)" font-size="11.8" font-weight="bold" font-style="normal" text-anchor="middle" fill="#000" stroke="#000" stroke-width="0.25" >CD8 FITC</text><path d="M297.50 308.00v2.6M297.50 308.00h-2.6M303.39 308.00v1.6M297.50 303.51h-1.6M306.83 308.00v1.6M297.50 300.88h-1.6M309.27 308.00v1.6M297.50 299.01h-1.6M311.16 308.00v1.6M297.50 297.57h-1.6M312.71 308.00v1.6M297.50 296.39h-1.6M314.02 308.00v1.6M297.50 295.39h-1.6M315.16 308.00v1.6M297.50 294.52h-1.6M316.16 308.00v1.6M297.50 293.76h-1.6M317.05 308.00v2.6M297.50 293.07h-2.6M322.94 308.00v1.6M297.50 288.58h-1.6M326.38 308.00v1.6M297.50 285.95h-1.6M328.82 308.00v1.6M297.50 284.09h-1.6M330.71 308.00v1.6M297.50 282.64h-1.6M332.26 308.00v1.6M297.50 281.46h-1.6M333.57 308.00v1.6M297.50 280.46h-1.6M334.71 308.00v1.6M297.50 279.60h-1.6M335.71 308.00v1.6M297.50 278.83h-1.6M336.60 308.00v2.6M297.50 278.15h-2.6M342.49 308.00v1.6M297.50 273.66h-1.6M345.93 308.00v1.6M297.50 271.03h-1.6M348.37 308.00v1.6M297.50 269.16h-1.6M350.26 308.00v1.6M297.50 267.72h-1.6M351.81 308.00v1.6M297.50 266.54h-1.6M353.12 308.00v1.6M297.50 265.54h-1.6M354.26 308.00v1.6M297.50 264.67h-1.6M355.26 308.00v1.6M297.50 263.91h-1.6M356.15 308.00v2.6M297.50 263.23h-2.6M362.04 308.00v1.6M297.50 258.73h-1.6M365.48 308.00v1.6M297.50 256.10h-1.6M367.92 308.00v1.6M297.50 254.24h-1.6M369.81 308.00v1.6M297.50 252.79h-1.6M371.36 308.00v1.6M297.50 251.61h-1.6M372.67 308.00v1.6M297.50 250.61h-1.6M373.81 308.00v1.6M297.50 249.75h-1.6M374.81 308.00v1.6M297.50 248.98h-1.6M375.70 308.00v2.6M297.50 248.30h-2.6" stroke="#000" stroke-width="0.9" fill="none"/><rect x="297.50" y="248.30" width="78.20" height="59.70" fill="none" stroke="#111" stroke-width="1.3"/><text transform="translate(297.30,319.70)" font-size="7.8" text-anchor="middle" fill="#111" stroke="#111" stroke-width="0.18">10</text><text transform="translate(301.20,316.30)" font-size="6.2" text-anchor="start" fill="#111" stroke="#111" stroke-width="0.15">0</text><text transform="translate(316.25,319.70)" font-size="7.8" text-anchor="middle" fill="#111" stroke="#111" stroke-width="0.18">10</text><text transform="translate(320.15,316.30)" font-size="6.2" text-anchor="start" fill="#111" stroke="#111" stroke-width="0.15">1</text><text transform="translate(335.20,319.70)" font-size="7.8" text-anchor="middle" fill="#111" stroke="#111" stroke-width="0.18">10</text><text transform="translate(339.10,316.30)" font-size="6.2" text-anchor="start" fill="#111" stroke="#111" stroke-width="0.15">2</text><text transform="translate(354.05,319.70)" font-size="7.8" text-anchor="middle" fill="#111" stroke="#111" stroke-width="0.18">10</text><text transform="translate(357.95,316.30)" font-size="6.2" text-anchor="start" fill="#111" stroke="#111" stroke-width="0.15">3</text><text transform="translate(372.60,319.70)" font-size="7.8" text-anchor="middle" fill="#111" stroke="#111" stroke-width="0.18">10</text><text transform="translate(376.50,316.30)" font-size="6.2" text-anchor="start" fill="#111" stroke="#111" stroke-width="0.15">4</text><text transform="translate(292.10,308.30) rotate(-90)" font-size="7.8" text-anchor="middle" fill="#111" stroke="#111" stroke-width="0.18">10</text><text transform="translate(289.10,302.70) rotate(-90)" font-size="6.2" text-anchor="middle" fill="#111" stroke="#111" stroke-width="0.15">0</text><text transform="translate(292.10,294.38) rotate(-90)" font-size="7.8" text-anchor="middle" fill="#111" stroke="#111" stroke-width="0.18">10</text><text transform="translate(289.10,287.88) rotate(-90)" font-size="6.2" text-anchor="middle" fill="#111" stroke="#111" stroke-width="0.15">1</text><text transform="translate(292.10,279.85) rotate(-90)" font-size="7.8" text-anchor="middle" fill="#111" stroke="#111" stroke-width="0.18">10</text><text transform="translate(289.10,273.55) rotate(-90)" font-size="6.2" text-anchor="middle" fill="#111" stroke="#111" stroke-width="0.15">2</text><text transform="translate(292.10,264.23) rotate(-90)" font-size="7.8" text-anchor="middle" fill="#111" stroke="#111" stroke-width="0.18">10</text><text transform="translate(289.10,258.62) rotate(-90)" font-size="6.2" text-anchor="middle" fill="#111" stroke="#111" stroke-width="0.15">3</text><text transform="translate(292.10,251.30) rotate(-90)" font-size="7.8" text-anchor="middle" fill="#111" stroke="#111" stroke-width="0.18">10</text><text transform="translate(289.10,245.20) rotate(-90)" font-size="6.2" text-anchor="middle" fill="#111" stroke="#111" stroke-width="0.15">4</text><text transform="translate(351.20,258.90)" font-size="9.3" font-weight="bold" font-style="normal" text-anchor="end" fill="#000" stroke="#000" stroke-width="0.25" >19</text><text transform="translate(356.30,258.90)" font-size="9.3" font-weight="bold" font-style="normal" text-anchor="start" fill="#000" stroke="#000" stroke-width="0.25" >2.5</text><path d="M339.00 260.90H374.90M354.60 252.50V265.70" stroke="#222" stroke-width="1.1" fill="none"/><text transform="translate(335.90,332.50)" font-size="11.8" font-weight="bold" font-style="normal" text-anchor="middle" fill="#000" stroke="#000" stroke-width="0.25" >CD3 PE</text><path d="M415.10 308.00v2.6M415.10 308.00h-2.6M420.99 308.00v1.6M415.10 303.51h-1.6M424.44 308.00v1.6M415.10 300.88h-1.6M426.89 308.00v1.6M415.10 299.01h-1.6M428.78 308.00v1.6M415.10 297.57h-1.6M430.33 308.00v1.6M415.10 296.39h-1.6M431.64 308.00v1.6M415.10 295.39h-1.6M432.78 308.00v1.6M415.10 294.52h-1.6M433.78 308.00v1.6M415.10 293.76h-1.6M434.68 308.00v2.6M415.10 293.07h-2.6M440.57 308.00v1.6M415.10 288.58h-1.6M444.01 308.00v1.6M415.10 285.95h-1.6M446.46 308.00v1.6M415.10 284.09h-1.6M448.36 308.00v1.6M415.10 282.64h-1.6M449.91 308.00v1.6M415.10 281.46h-1.6M451.22 308.00v1.6M415.10 280.46h-1.6M452.35 308.00v1.6M415.10 279.60h-1.6M453.35 308.00v1.6M415.10 278.83h-1.6M454.25 308.00v2.6M415.10 278.15h-2.6M460.14 308.00v1.6M415.10 273.66h-1.6M463.59 308.00v1.6M415.10 271.03h-1.6M466.04 308.00v1.6M415.10 269.16h-1.6M467.93 308.00v1.6M415.10 267.72h-1.6M469.48 308.00v1.6M415.10 266.54h-1.6M470.79 308.00v1.6M415.10 265.54h-1.6M471.93 308.00v1.6M415.10 264.67h-1.6M472.93 308.00v1.6M415.10 263.91h-1.6M473.82 308.00v2.6M415.10 263.23h-2.6M479.72 308.00v1.6M415.10 258.73h-1.6M483.16 308.00v1.6M415.10 256.10h-1.6M485.61 308.00v1.6M415.10 254.24h-1.6M487.51 308.00v1.6M415.10 252.79h-1.6M489.06 308.00v1.6M415.10 251.61h-1.6M490.37 308.00v1.6M415.10 250.61h-1.6M491.50 308.00v1.6M415.10 249.75h-1.6M492.50 308.00v1.6M415.10 248.98h-1.6M493.40 308.00v2.6M415.10 248.30h-2.6" stroke="#000" stroke-width="0.9" fill="none"/><rect x="415.10" y="248.30" width="78.30" height="59.70" fill="none" stroke="#111" stroke-width="1.3"/><text transform="translate(414.90,319.70)" font-size="7.8" text-anchor="middle" fill="#111" stroke="#111" stroke-width="0.18">10</text><text transform="translate(418.80,316.30)" font-size="6.2" text-anchor="start" fill="#111" stroke="#111" stroke-width="0.15">0</text><text transform="translate(433.88,319.70)" font-size="7.8" text-anchor="middle" fill="#111" stroke="#111" stroke-width="0.18">10</text><text transform="translate(437.77,316.30)" font-size="6.2" text-anchor="start" fill="#111" stroke="#111" stroke-width="0.15">1</text><text transform="translate(452.85,319.70)" font-size="7.8" text-anchor="middle" fill="#111" stroke="#111" stroke-width="0.18">10</text><text transform="translate(456.75,316.30)" font-size="6.2" text-anchor="start" fill="#111" stroke="#111" stroke-width="0.15">2</text><text transform="translate(471.72,319.70)" font-size="7.8" text-anchor="middle" fill="#111" stroke="#111" stroke-width="0.18">10</text><text transform="translate(475.62,316.30)" font-size="6.2" text-anchor="start" fill="#111" stroke="#111" stroke-width="0.15">3</text><text transform="translate(490.30,319.70)" font-size="7.8" text-anchor="middle" fill="#111" stroke="#111" stroke-width="0.18">10</text><text transform="translate(494.20,316.30)" font-size="6.2" text-anchor="start" fill="#111" stroke="#111" stroke-width="0.15">4</text><text transform="translate(409.70,308.30) rotate(-90)" font-size="7.8" text-anchor="middle" fill="#111" stroke="#111" stroke-width="0.18">10</text><text transform="translate(406.70,302.70) rotate(-90)" font-size="6.2" text-anchor="middle" fill="#111" stroke="#111" stroke-width="0.15">0</text><text transform="translate(409.70,294.38) rotate(-90)" font-size="7.8" text-anchor="middle" fill="#111" stroke="#111" stroke-width="0.18">10</text><text transform="translate(406.70,287.88) rotate(-90)" font-size="6.2" text-anchor="middle" fill="#111" stroke="#111" stroke-width="0.15">1</text><text transform="translate(409.70,279.85) rotate(-90)" font-size="7.8" text-anchor="middle" fill="#111" stroke="#111" stroke-width="0.18">10</text><text transform="translate(406.70,273.55) rotate(-90)" font-size="6.2" text-anchor="middle" fill="#111" stroke="#111" stroke-width="0.15">2</text><text transform="translate(409.70,264.23) rotate(-90)" font-size="7.8" text-anchor="middle" fill="#111" stroke="#111" stroke-width="0.18">10</text><text transform="translate(406.70,258.62) rotate(-90)" font-size="6.2" text-anchor="middle" fill="#111" stroke="#111" stroke-width="0.15">3</text><text transform="translate(409.70,251.30) rotate(-90)" font-size="7.8" text-anchor="middle" fill="#111" stroke="#111" stroke-width="0.18">10</text><text transform="translate(406.70,245.20) rotate(-90)" font-size="6.2" text-anchor="middle" fill="#111" stroke="#111" stroke-width="0.15">4</text><text transform="translate(469.20,258.90)" font-size="9.3" font-weight="bold" font-style="normal" text-anchor="end" fill="#000" stroke="#000" stroke-width="0.25" >21</text><text transform="translate(474.30,258.90)" font-size="9.3" font-weight="bold" font-style="normal" text-anchor="start" fill="#000" stroke="#000" stroke-width="0.25" >0.7</text><path d="M456.50 260.90H492.60M472.60 252.50V265.70" stroke="#222" stroke-width="1.1" fill="none"/><text transform="translate(454.40,331.80)" font-size="11.8" font-weight="bold" font-style="normal" text-anchor="middle" fill="#000" stroke="#000" stroke-width="0.25" >CD4 bio StrepPerCP</text><text transform="translate(31.00,386.30)" font-size="11.8" font-weight="bold" font-style="normal" text-anchor="start" fill="#000" stroke="#000" stroke-width="0.25" >isotype control</text><path d="M31.00 388.30h85.30" stroke="#222" stroke-width="1" fill="none"/><text transform="translate(173.90,386.30)" font-size="11.8" font-weight="bold" font-style="normal" text-anchor="start" fill="#000" stroke="#000" stroke-width="0.25" >macrophages</text><path d="M173.90 388.30h77.30" stroke="#222" stroke-width="1" fill="none"/><text transform="translate(390.80,386.30)" font-size="11.8" font-weight="bold" font-style="normal" text-anchor="start" fill="#000" stroke="#000" stroke-width="0.25" >T cells</text><path d="M390.80 388.30h37.10" stroke="#222" stroke-width="1" fill="none"/><path d="M39.80 461.20v2.6M39.80 461.20h-2.6M45.66 461.20v1.6M39.80 456.69h-1.6M49.08 461.20v1.6M39.80 454.06h-1.6M51.51 461.20v1.6M39.80 452.18h-1.6M53.39 461.20v1.6M39.80 450.73h-1.6M54.94 461.20v1.6M39.80 449.55h-1.6M56.24 461.20v1.6M39.80 448.54h-1.6M57.37 461.20v1.6M39.80 447.68h-1.6M58.36 461.20v1.6M39.80 446.91h-1.6M59.25 461.20v2.6M39.80 446.23h-2.6M65.11 461.20v1.6M39.80 441.72h-1.6M68.53 461.20v1.6M39.80 439.08h-1.6M70.96 461.20v1.6M39.80 437.21h-1.6M72.84 461.20v1.6M39.80 435.76h-1.6M74.39 461.20v1.6M39.80 434.57h-1.6M75.69 461.20v1.6M39.80 433.57h-1.6M76.82 461.20v1.6M39.80 432.70h-1.6M77.81 461.20v1.6M39.80 431.94h-1.6M78.70 461.20v2.6M39.80 431.25h-2.6M84.56 461.20v1.6M39.80 426.74h-1.6M87.98 461.20v1.6M39.80 424.11h-1.6M90.41 461.20v1.6M39.80 422.23h-1.6M92.29 461.20v1.6M39.80 420.78h-1.6M93.84 461.20v1.6M39.80 419.60h-1.6M95.14 461.20v1.6M39.80 418.59h-1.6M96.27 461.20v1.6M39.80 417.73h-1.6M97.26 461.20v1.6M39.80 416.96h-1.6M98.15 461.20v2.6M39.80 416.27h-2.6M104.01 461.20v1.6M39.80 411.77h-1.6M107.43 461.20v1.6M39.80 409.13h-1.6M109.86 461.20v1.6M39.80 407.26h-1.6M111.74 461.20v1.6M39.80 405.81h-1.6M113.29 461.20v1.6M39.80 404.62h-1.6M114.59 461.20v1.6M39.80 403.62h-1.6M115.72 461.20v1.6M39.80 402.75h-1.6M116.71 461.20v1.6M39.80 401.99h-1.6M117.60 461.20v2.6M39.80 401.30h-2.6" stroke="#000" stroke-width="0.9" fill="none"/><rect x="39.80" y="401.30" width="77.80" height="59.90" fill="none" stroke="#111" stroke-width="1.3"/><text transform="translate(39.60,472.90)" font-size="7.8" text-anchor="middle" fill="#111" stroke="#111" stroke-width="0.18">10</text><text transform="translate(43.50,469.50)" font-size="6.2" text-anchor="start" fill="#111" stroke="#111" stroke-width="0.15">0</text><text transform="translate(58.45,472.90)" font-size="7.8" text-anchor="middle" fill="#111" stroke="#111" stroke-width="0.18">10</text><text transform="translate(62.35,469.50)" font-size="6.2" text-anchor="start" fill="#111" stroke="#111" stroke-width="0.15">1</text><text transform="translate(77.30,472.90)" font-size="7.8" text-anchor="middle" fill="#111" stroke="#111" stroke-width="0.18">10</text><text transform="translate(81.20,469.50)" font-size="6.2" text-anchor="start" fill="#111" stroke="#111" stroke-width="0.15">2</text><text transform="translate(96.05,472.90)" font-size="7.8" text-anchor="middle" fill="#111" stroke="#111" stroke-width="0.18">10</text><text transform="translate(99.95,469.50)" font-size="6.2" text-anchor="start" fill="#111" stroke="#111" stroke-width="0.15">3</text><text transform="translate(114.50,472.90)" font-size="7.8" text-anchor="middle" fill="#111" stroke="#111" stroke-width="0.18">10</text><text transform="translate(118.40,469.50)" font-size="6.2" text-anchor="start" fill="#111" stroke="#111" stroke-width="0.15">4</text><text transform="translate(34.40,461.50) rotate(-90)" font-size="7.8" text-anchor="middle" fill="#111" stroke="#111" stroke-width="0.18">10</text><text transform="translate(31.40,455.90) rotate(-90)" font-size="6.2" text-anchor="middle" fill="#111" stroke="#111" stroke-width="0.15">0</text><text transform="translate(34.40,447.53) rotate(-90)" font-size="7.8" text-anchor="middle" fill="#111" stroke="#111" stroke-width="0.18">10</text><text transform="translate(31.40,441.03) rotate(-90)" font-size="6.2" text-anchor="middle" fill="#111" stroke="#111" stroke-width="0.15">1</text><text transform="translate(34.40,432.95) rotate(-90)" font-size="7.8" text-anchor="middle" fill="#111" stroke="#111" stroke-width="0.18">10</text><text transform="translate(31.40,426.65) rotate(-90)" font-size="6.2" text-anchor="middle" fill="#111" stroke="#111" stroke-width="0.15">2</text><text transform="translate(34.40,417.27) rotate(-90)" font-size="7.8" text-anchor="middle" fill="#111" stroke="#111" stroke-width="0.18">10</text><text transform="translate(31.40,411.67) rotate(-90)" font-size="6.2" text-anchor="middle" fill="#111" stroke="#111" stroke-width="0.15">3</text><text transform="translate(34.40,404.30) rotate(-90)" font-size="7.8" text-anchor="middle" fill="#111" stroke="#111" stroke-width="0.18">10</text><text transform="translate(31.40,398.20) rotate(-90)" font-size="6.2" text-anchor="middle" fill="#111" stroke="#111" stroke-width="0.15">4</text><text transform="translate(16.30,433.00) rotate(-90)" font-size="11.6" font-weight="bold" font-style="normal" text-anchor="middle" fill="#000" stroke="#000" stroke-width="0.25" >rat IgG APC</text><text transform="translate(75.30,485.20)" font-size="11.4" font-weight="bold" font-style="normal" text-anchor="middle" fill="#000" stroke="#000" stroke-width="0.25" >FL1</text><path d="M173.80 461.20v2.6M173.80 461.20h-2.6M179.73 461.20v1.6M173.80 456.69h-1.6M183.20 461.20v1.6M173.80 454.06h-1.6M185.66 461.20v1.6M173.80 452.18h-1.6M187.57 461.20v1.6M173.80 450.73h-1.6M189.13 461.20v1.6M173.80 449.55h-1.6M190.45 461.20v1.6M173.80 448.54h-1.6M191.59 461.20v1.6M173.80 447.68h-1.6M192.60 461.20v1.6M173.80 446.91h-1.6M193.50 461.20v2.6M173.80 446.23h-2.6M199.43 461.20v1.6M173.80 441.72h-1.6M202.90 461.20v1.6M173.80 439.08h-1.6M205.36 461.20v1.6M173.80 437.21h-1.6M207.27 461.20v1.6M173.80 435.76h-1.6M208.83 461.20v1.6M173.80 434.57h-1.6M210.15 461.20v1.6M173.80 433.57h-1.6M211.29 461.20v1.6M173.80 432.70h-1.6M212.30 461.20v1.6M173.80 431.94h-1.6M213.20 461.20v2.6M173.80 431.25h-2.6M219.13 461.20v1.6M173.80 426.74h-1.6M222.60 461.20v1.6M173.80 424.11h-1.6M225.06 461.20v1.6M173.80 422.23h-1.6M226.97 461.20v1.6M173.80 420.78h-1.6M228.53 461.20v1.6M173.80 419.60h-1.6M229.85 461.20v1.6M173.80 418.59h-1.6M230.99 461.20v1.6M173.80 417.73h-1.6M232.00 461.20v1.6M173.80 416.96h-1.6M232.90 461.20v2.6M173.80 416.27h-2.6M238.83 461.20v1.6M173.80 411.77h-1.6M242.30 461.20v1.6M173.80 409.13h-1.6M244.76 461.20v1.6M173.80 407.26h-1.6M246.67 461.20v1.6M173.80 405.81h-1.6M248.23 461.20v1.6M173.80 404.62h-1.6M249.55 461.20v1.6M173.80 403.62h-1.6M250.69 461.20v1.6M173.80 402.75h-1.6M251.70 461.20v1.6M173.80 401.99h-1.6M252.60 461.20v2.6M173.80 401.30h-2.6" stroke="#000" stroke-width="0.9" fill="none"/><rect x="173.80" y="401.30" width="78.80" height="59.90" fill="none" stroke="#111" stroke-width="1.3"/><text transform="translate(173.60,472.90)" font-size="7.8" text-anchor="middle" fill="#111" stroke="#111" stroke-width="0.18">10</text><text transform="translate(177.50,469.50)" font-size="6.2" text-anchor="start" fill="#111" stroke="#111" stroke-width="0.15">0</text><text transform="translate(192.70,472.90)" font-size="7.8" text-anchor="middle" fill="#111" stroke="#111" stroke-width="0.18">10</text><text transform="translate(196.60,469.50)" font-size="6.2" text-anchor="start" fill="#111" stroke="#111" stroke-width="0.15">1</text><text transform="translate(211.80,472.90)" font-size="7.8" text-anchor="middle" fill="#111" stroke="#111" stroke-width="0.18">10</text><text transform="translate(215.70,469.50)" font-size="6.2" text-anchor="start" fill="#111" stroke="#111" stroke-width="0.15">2</text><text transform="translate(230.80,472.90)" font-size="7.8" text-anchor="middle" fill="#111" stroke="#111" stroke-width="0.18">10</text><text transform="translate(234.70,469.50)" font-size="6.2" text-anchor="start" fill="#111" stroke="#111" stroke-width="0.15">3</text><text transform="translate(249.50,472.90)" font-size="7.8" text-anchor="middle" fill="#111" stroke="#111" stroke-width="0.18">10</text><text transform="translate(253.40,469.50)" font-size="6.2" text-anchor="start" fill="#111" stroke="#111" stroke-width="0.15">4</text><text transform="translate(168.40,461.50) rotate(-90)" font-size="7.8" text-anchor="middle" fill="#111" stroke="#111" stroke-width="0.18">10</text><text transform="translate(165.40,455.90) rotate(-90)" font-size="6.2" text-anchor="middle" fill="#111" stroke="#111" stroke-width="0.15">0</text><text transform="translate(168.40,447.53) rotate(-90)" font-size="7.8" text-anchor="middle" fill="#111" stroke="#111" stroke-width="0.18">10</text><text transform="translate(165.40,441.03) rotate(-90)" font-size="6.2" text-anchor="middle" fill="#111" stroke="#111" stroke-width="0.15">1</text><text transform="translate(168.40,432.95) rotate(-90)" font-size="7.8" text-anchor="middle" fill="#111" stroke="#111" stroke-width="0.18">10</text><text transform="translate(165.40,426.65) rotate(-90)" font-size="6.2" text-anchor="middle" fill="#111" stroke="#111" stroke-width="0.15">2</text><text transform="translate(168.40,417.27) rotate(-90)" font-size="7.8" text-anchor="middle" fill="#111" stroke="#111" stroke-width="0.18">10</text><text transform="translate(165.40,411.67) rotate(-90)" font-size="6.2" text-anchor="middle" fill="#111" stroke="#111" stroke-width="0.15">3</text><text transform="translate(168.40,404.30) rotate(-90)" font-size="7.8" text-anchor="middle" fill="#111" stroke="#111" stroke-width="0.18">10</text><text transform="translate(165.40,398.20) rotate(-90)" font-size="6.2" text-anchor="middle" fill="#111" stroke="#111" stroke-width="0.15">4</text><text transform="translate(151.10,433.80) rotate(-90)" font-size="11.6" font-weight="bold" font-style="normal" text-anchor="middle" fill="#000" stroke="#000" stroke-width="0.25" >IFN-γ APC</text><text transform="translate(211.50,484.80)" font-size="11.8" font-weight="bold" font-style="normal" text-anchor="middle" fill="#000" stroke="#000" stroke-width="0.25" >CD11b FITC</text><path d="M319.20 460.80v2.6M319.20 460.80h-2.6M325.08 460.80v1.6M319.20 456.33h-1.6M328.52 460.80v1.6M319.20 453.71h-1.6M330.96 460.80v1.6M319.20 451.86h-1.6M332.85 460.80v1.6M319.20 450.42h-1.6M334.39 460.80v1.6M319.20 449.24h-1.6M335.70 460.80v1.6M319.20 448.25h-1.6M336.83 460.80v1.6M319.20 447.39h-1.6M337.83 460.80v1.6M319.20 446.63h-1.6M338.73 460.80v2.6M319.20 445.95h-2.6M344.60 460.80v1.6M319.20 441.48h-1.6M348.04 460.80v1.6M319.20 438.86h-1.6M350.48 460.80v1.6M319.20 437.01h-1.6M352.37 460.80v1.6M319.20 435.57h-1.6M353.92 460.80v1.6M319.20 434.39h-1.6M355.23 460.80v1.6M319.20 433.40h-1.6M356.36 460.80v1.6M319.20 432.54h-1.6M357.36 460.80v1.6M319.20 431.78h-1.6M358.25 460.80v2.6M319.20 431.10h-2.6M364.13 460.80v1.6M319.20 426.63h-1.6M367.57 460.80v1.6M319.20 424.01h-1.6M370.01 460.80v1.6M319.20 422.16h-1.6M371.90 460.80v1.6M319.20 420.72h-1.6M373.44 460.80v1.6M319.20 419.54h-1.6M374.75 460.80v1.6M319.20 418.55h-1.6M375.88 460.80v1.6M319.20 417.69h-1.6M376.88 460.80v1.6M319.20 416.93h-1.6M377.77 460.80v2.6M319.20 416.25h-2.6M383.65 460.80v1.6M319.20 411.78h-1.6M387.09 460.80v1.6M319.20 409.16h-1.6M389.53 460.80v1.6M319.20 407.31h-1.6M391.42 460.80v1.6M319.20 405.87h-1.6M392.97 460.80v1.6M319.20 404.69h-1.6M394.28 460.80v1.6M319.20 403.70h-1.6M395.41 460.80v1.6M319.20 402.84h-1.6M396.41 460.80v1.6M319.20 402.08h-1.6M397.30 460.80v2.6M319.20 401.40h-2.6" stroke="#000" stroke-width="0.9" fill="none"/><rect x="319.20" y="401.40" width="78.10" height="59.40" fill="none" stroke="#111" stroke-width="1.3"/><text transform="translate(319.00,472.50)" font-size="7.8" text-anchor="middle" fill="#111" stroke="#111" stroke-width="0.18">10</text><text transform="translate(322.90,469.10)" font-size="6.2" text-anchor="start" fill="#111" stroke="#111" stroke-width="0.15">0</text><text transform="translate(337.93,472.50)" font-size="7.8" text-anchor="middle" fill="#111" stroke="#111" stroke-width="0.18">10</text><text transform="translate(341.82,469.10)" font-size="6.2" text-anchor="start" fill="#111" stroke="#111" stroke-width="0.15">1</text><text transform="translate(356.85,472.50)" font-size="7.8" text-anchor="middle" fill="#111" stroke="#111" stroke-width="0.18">10</text><text transform="translate(360.75,469.10)" font-size="6.2" text-anchor="start" fill="#111" stroke="#111" stroke-width="0.15">2</text><text transform="translate(375.67,472.50)" font-size="7.8" text-anchor="middle" fill="#111" stroke="#111" stroke-width="0.18">10</text><text transform="translate(379.57,469.10)" font-size="6.2" text-anchor="start" fill="#111" stroke="#111" stroke-width="0.15">3</text><text transform="translate(394.20,472.50)" font-size="7.8" text-anchor="middle" fill="#111" stroke="#111" stroke-width="0.18">10</text><text transform="translate(398.10,469.10)" font-size="6.2" text-anchor="start" fill="#111" stroke="#111" stroke-width="0.15">4</text><text transform="translate(313.80,461.10) rotate(-90)" font-size="7.8" text-anchor="middle" fill="#111" stroke="#111" stroke-width="0.18">10</text><text transform="translate(310.80,455.50) rotate(-90)" font-size="6.2" text-anchor="middle" fill="#111" stroke="#111" stroke-width="0.15">0</text><text transform="translate(313.80,447.25) rotate(-90)" font-size="7.8" text-anchor="middle" fill="#111" stroke="#111" stroke-width="0.18">10</text><text transform="translate(310.80,440.75) rotate(-90)" font-size="6.2" text-anchor="middle" fill="#111" stroke="#111" stroke-width="0.15">1</text><text transform="translate(313.80,432.80) rotate(-90)" font-size="7.8" text-anchor="middle" fill="#111" stroke="#111" stroke-width="0.18">10</text><text transform="translate(310.80,426.50) rotate(-90)" font-size="6.2" text-anchor="middle" fill="#111" stroke="#111" stroke-width="0.15">2</text><text transform="translate(313.80,417.25) rotate(-90)" font-size="7.8" text-anchor="middle" fill="#111" stroke="#111" stroke-width="0.18">10</text><text transform="translate(310.80,411.65) rotate(-90)" font-size="6.2" text-anchor="middle" fill="#111" stroke="#111" stroke-width="0.15">3</text><text transform="translate(313.80,404.40) rotate(-90)" font-size="7.8" text-anchor="middle" fill="#111" stroke="#111" stroke-width="0.18">10</text><text transform="translate(310.80,398.30) rotate(-90)" font-size="6.2" text-anchor="middle" fill="#111" stroke="#111" stroke-width="0.15">4</text><text transform="translate(295.50,434.10) rotate(-90)" font-size="11.6" font-weight="bold" font-style="normal" text-anchor="middle" fill="#000" stroke="#000" stroke-width="0.25" >IFN-γ APC</text><text transform="translate(357.50,485.00)" font-size="11.8" font-weight="bold" font-style="normal" text-anchor="middle" fill="#000" stroke="#000" stroke-width="0.25" >rat IgG FITC</text><path d="M425.10 460.80v2.6M425.10 460.80h-2.6M430.99 460.80v1.6M425.10 456.33h-1.6M434.43 460.80v1.6M425.10 453.71h-1.6M436.87 460.80v1.6M425.10 451.86h-1.6M438.76 460.80v1.6M425.10 450.42h-1.6M440.31 460.80v1.6M425.10 449.24h-1.6M441.62 460.80v1.6M425.10 448.25h-1.6M442.76 460.80v1.6M425.10 447.39h-1.6M443.76 460.80v1.6M425.10 446.63h-1.6M444.65 460.80v2.6M425.10 445.95h-2.6M450.54 460.80v1.6M425.10 441.48h-1.6M453.98 460.80v1.6M425.10 438.86h-1.6M456.42 460.80v1.6M425.10 437.01h-1.6M458.31 460.80v1.6M425.10 435.57h-1.6M459.86 460.80v1.6M425.10 434.39h-1.6M461.17 460.80v1.6M425.10 433.40h-1.6M462.31 460.80v1.6M425.10 432.54h-1.6M463.31 460.80v1.6M425.10 431.78h-1.6M464.20 460.80v2.6M425.10 431.10h-2.6M470.09 460.80v1.6M425.10 426.63h-1.6M473.53 460.80v1.6M425.10 424.01h-1.6M475.97 460.80v1.6M425.10 422.16h-1.6M477.86 460.80v1.6M425.10 420.72h-1.6M479.41 460.80v1.6M425.10 419.54h-1.6M480.72 460.80v1.6M425.10 418.55h-1.6M481.86 460.80v1.6M425.10 417.69h-1.6M482.86 460.80v1.6M425.10 416.93h-1.6M483.75 460.80v2.6M425.10 416.25h-2.6M489.64 460.80v1.6M425.10 411.78h-1.6M493.08 460.80v1.6M425.10 409.16h-1.6M495.52 460.80v1.6M425.10 407.31h-1.6M497.41 460.80v1.6M425.10 405.87h-1.6M498.96 460.80v1.6M425.10 404.69h-1.6M500.27 460.80v1.6M425.10 403.70h-1.6M501.41 460.80v1.6M425.10 402.84h-1.6M502.41 460.80v1.6M425.10 402.08h-1.6M503.30 460.80v2.6M425.10 401.40h-2.6" stroke="#000" stroke-width="0.9" fill="none"/><rect x="425.10" y="401.40" width="78.20" height="59.40" fill="none" stroke="#111" stroke-width="1.3"/><text transform="translate(424.90,472.50)" font-size="7.8" text-anchor="middle" fill="#111" stroke="#111" stroke-width="0.18">10</text><text transform="translate(428.80,469.10)" font-size="6.2" text-anchor="start" fill="#111" stroke="#111" stroke-width="0.15">0</text><text transform="translate(443.85,472.50)" font-size="7.8" text-anchor="middle" fill="#111" stroke="#111" stroke-width="0.18">10</text><text transform="translate(447.75,469.10)" font-size="6.2" text-anchor="start" fill="#111" stroke="#111" stroke-width="0.15">1</text><text transform="translate(462.80,472.50)" font-size="7.8" text-anchor="middle" fill="#111" stroke="#111" stroke-width="0.18">10</text><text transform="translate(466.70,469.10)" font-size="6.2" text-anchor="start" fill="#111" stroke="#111" stroke-width="0.15">2</text><text transform="translate(481.65,472.50)" font-size="7.8" text-anchor="middle" fill="#111" stroke="#111" stroke-width="0.18">10</text><text transform="translate(485.55,469.10)" font-size="6.2" text-anchor="start" fill="#111" stroke="#111" stroke-width="0.15">3</text><text transform="translate(500.20,472.50)" font-size="7.8" text-anchor="middle" fill="#111" stroke="#111" stroke-width="0.18">10</text><text transform="translate(504.10,469.10)" font-size="6.2" text-anchor="start" fill="#111" stroke="#111" stroke-width="0.15">4</text><text transform="translate(419.70,461.10) rotate(-90)" font-size="7.8" text-anchor="middle" fill="#111" stroke="#111" stroke-width="0.18">10</text><text transform="translate(416.70,455.50) rotate(-90)" font-size="6.2" text-anchor="middle" fill="#111" stroke="#111" stroke-width="0.15">0</text><text transform="translate(419.70,447.25) rotate(-90)" font-size="7.8" text-anchor="middle" fill="#111" stroke="#111" stroke-width="0.18">10</text><text transform="translate(416.70,440.75) rotate(-90)" font-size="6.2" text-anchor="middle" fill="#111" stroke="#111" stroke-width="0.15">1</text><text transform="translate(419.70,432.80) rotate(-90)" font-size="7.8" text-anchor="middle" fill="#111" stroke="#111" stroke-width="0.18">10</text><text transform="translate(416.70,426.50) rotate(-90)" font-size="6.2" text-anchor="middle" fill="#111" stroke="#111" stroke-width="0.15">2</text><text transform="translate(419.70,417.25) rotate(-90)" font-size="7.8" text-anchor="middle" fill="#111" stroke="#111" stroke-width="0.18">10</text><text transform="translate(416.70,411.65) rotate(-90)" font-size="6.2" text-anchor="middle" fill="#111" stroke="#111" stroke-width="0.15">3</text><text transform="translate(419.70,404.40) rotate(-90)" font-size="7.8" text-anchor="middle" fill="#111" stroke="#111" stroke-width="0.18">10</text><text transform="translate(416.70,398.30) rotate(-90)" font-size="6.2" text-anchor="middle" fill="#111" stroke="#111" stroke-width="0.15">4</text><text transform="translate(463.90,484.20)" font-size="11.8" font-weight="bold" font-style="normal" text-anchor="middle" fill="#000" stroke="#000" stroke-width="0.25" >CD8 FITC</text><path d="M39.80 566.30v2.6M39.80 566.30h-2.6M45.64 566.30v1.6M39.80 561.78h-1.6M49.06 566.30v1.6M39.80 559.14h-1.6M51.48 566.30v1.6M39.80 557.27h-1.6M53.36 566.30v1.6M39.80 555.82h-1.6M54.90 566.30v1.6M39.80 554.63h-1.6M56.19 566.30v1.6M39.80 553.62h-1.6M57.32 566.30v1.6M39.80 552.75h-1.6M58.31 566.30v1.6M39.80 551.99h-1.6M59.20 566.30v2.6M39.80 551.30h-2.6M65.04 566.30v1.6M39.80 546.78h-1.6M68.46 566.30v1.6M39.80 544.14h-1.6M70.88 566.30v1.6M39.80 542.27h-1.6M72.76 566.30v1.6M39.80 540.82h-1.6M74.30 566.30v1.6M39.80 539.63h-1.6M75.59 566.30v1.6M39.80 538.62h-1.6M76.72 566.30v1.6M39.80 537.75h-1.6M77.71 566.30v1.6M39.80 536.99h-1.6M78.60 566.30v2.6M39.80 536.30h-2.6M84.44 566.30v1.6M39.80 531.78h-1.6M87.86 566.30v1.6M39.80 529.14h-1.6M90.28 566.30v1.6M39.80 527.27h-1.6M92.16 566.30v1.6M39.80 525.82h-1.6M93.70 566.30v1.6M39.80 524.63h-1.6M94.99 566.30v1.6M39.80 523.62h-1.6M96.12 566.30v1.6M39.80 522.75h-1.6M97.11 566.30v1.6M39.80 521.99h-1.6M98.00 566.30v2.6M39.80 521.30h-2.6M103.84 566.30v1.6M39.80 516.78h-1.6M107.26 566.30v1.6M39.80 514.14h-1.6M109.68 566.30v1.6M39.80 512.27h-1.6M111.56 566.30v1.6M39.80 510.82h-1.6M113.10 566.30v1.6M39.80 509.63h-1.6M114.39 566.30v1.6M39.80 508.62h-1.6M115.52 566.30v1.6M39.80 507.75h-1.6M116.51 566.30v1.6M39.80 506.99h-1.6M117.40 566.30v2.6M39.80 506.30h-2.6" stroke="#000" stroke-width="0.9" fill="none"/><rect x="39.80" y="506.30" width="77.60" height="60.00" fill="none" stroke="#111" stroke-width="1.3"/><text transform="translate(39.60,578.00)" font-size="7.8" text-anchor="middle" fill="#111" stroke="#111" stroke-width="0.18">10</text><text transform="translate(43.50,574.60)" font-size="6.2" text-anchor="start" fill="#111" stroke="#111" stroke-width="0.15">0</text><text transform="translate(58.40,578.00)" font-size="7.8" text-anchor="middle" fill="#111" stroke="#111" stroke-width="0.18">10</text><text transform="translate(62.30,574.60)" font-size="6.2" text-anchor="start" fill="#111" stroke="#111" stroke-width="0.15">1</text><text transform="translate(77.20,578.00)" font-size="7.8" text-anchor="middle" fill="#111" stroke="#111" stroke-width="0.18">10</text><text transform="translate(81.10,574.60)" font-size="6.2" text-anchor="start" fill="#111" stroke="#111" stroke-width="0.15">2</text><text transform="translate(95.90,578.00)" font-size="7.8" text-anchor="middle" fill="#111" stroke="#111" stroke-width="0.18">10</text><text transform="translate(99.80,574.60)" font-size="6.2" text-anchor="start" fill="#111" stroke="#111" stroke-width="0.15">3</text><text transform="translate(114.30,578.00)" font-size="7.8" text-anchor="middle" fill="#111" stroke="#111" stroke-width="0.18">10</text><text transform="translate(118.20,574.60)" font-size="6.2" text-anchor="start" fill="#111" stroke="#111" stroke-width="0.15">4</text><text transform="translate(34.40,566.60) rotate(-90)" font-size="7.8" text-anchor="middle" fill="#111" stroke="#111" stroke-width="0.18">10</text><text transform="translate(31.40,561.00) rotate(-90)" font-size="6.2" text-anchor="middle" fill="#111" stroke="#111" stroke-width="0.15">0</text><text transform="translate(34.40,552.60) rotate(-90)" font-size="7.8" text-anchor="middle" fill="#111" stroke="#111" stroke-width="0.18">10</text><text transform="translate(31.40,546.10) rotate(-90)" font-size="6.2" text-anchor="middle" fill="#111" stroke="#111" stroke-width="0.15">1</text><text transform="translate(34.40,538.00) rotate(-90)" font-size="7.8" text-anchor="middle" fill="#111" stroke="#111" stroke-width="0.18">10</text><text transform="translate(31.40,531.70) rotate(-90)" font-size="6.2" text-anchor="middle" fill="#111" stroke="#111" stroke-width="0.15">2</text><text transform="translate(34.40,522.30) rotate(-90)" font-size="7.8" text-anchor="middle" fill="#111" stroke="#111" stroke-width="0.18">10</text><text transform="translate(31.40,516.70) rotate(-90)" font-size="6.2" text-anchor="middle" fill="#111" stroke="#111" stroke-width="0.15">3</text><text transform="translate(34.40,509.30) rotate(-90)" font-size="7.8" text-anchor="middle" fill="#111" stroke="#111" stroke-width="0.18">10</text><text transform="translate(31.40,503.20) rotate(-90)" font-size="6.2" text-anchor="middle" fill="#111" stroke="#111" stroke-width="0.15">4</text><text transform="translate(16.30,540.10) rotate(-90)" font-size="11.6" font-weight="bold" font-style="normal" text-anchor="middle" fill="#000" stroke="#000" stroke-width="0.25" >IFN-γ APC</text><text transform="translate(75.60,589.60)" font-size="11.4" font-weight="bold" font-style="normal" text-anchor="middle" fill="#000" stroke="#000" stroke-width="0.25" >FL1</text><path d="M173.80 566.00v2.6M173.80 566.00h-2.6M179.75 566.00v1.6M173.80 561.51h-1.6M183.22 566.00v1.6M173.80 558.88h-1.6M185.69 566.00v1.6M173.80 557.01h-1.6M187.60 566.00v1.6M173.80 555.57h-1.6M189.17 566.00v1.6M173.80 554.39h-1.6M190.49 566.00v1.6M173.80 553.39h-1.6M191.64 566.00v1.6M173.80 552.52h-1.6M192.65 566.00v1.6M173.80 551.76h-1.6M193.55 566.00v2.6M173.80 551.08h-2.6M199.50 566.00v1.6M173.80 546.58h-1.6M202.97 566.00v1.6M173.80 543.95h-1.6M205.44 566.00v1.6M173.80 542.09h-1.6M207.35 566.00v1.6M173.80 540.64h-1.6M208.92 566.00v1.6M173.80 539.46h-1.6M210.24 566.00v1.6M173.80 538.46h-1.6M211.39 566.00v1.6M173.80 537.60h-1.6M212.40 566.00v1.6M173.80 536.83h-1.6M213.30 566.00v2.6M173.80 536.15h-2.6M219.25 566.00v1.6M173.80 531.66h-1.6M222.72 566.00v1.6M173.80 529.03h-1.6M225.19 566.00v1.6M173.80 527.16h-1.6M227.10 566.00v1.6M173.80 525.72h-1.6M228.67 566.00v1.6M173.80 524.54h-1.6M229.99 566.00v1.6M173.80 523.54h-1.6M231.14 566.00v1.6M173.80 522.67h-1.6M232.15 566.00v1.6M173.80 521.91h-1.6M233.05 566.00v2.6M173.80 521.23h-2.6M239.00 566.00v1.6M173.80 516.73h-1.6M242.47 566.00v1.6M173.80 514.10h-1.6M244.94 566.00v1.6M173.80 512.24h-1.6M246.85 566.00v1.6M173.80 510.79h-1.6M248.42 566.00v1.6M173.80 509.61h-1.6M249.74 566.00v1.6M173.80 508.61h-1.6M250.89 566.00v1.6M173.80 507.75h-1.6M251.90 566.00v1.6M173.80 506.98h-1.6M252.80 566.00v2.6M173.80 506.30h-2.6" stroke="#000" stroke-width="0.9" fill="none"/><rect x="173.80" y="506.30" width="79.00" height="59.70" fill="none" stroke="#111" stroke-width="1.3"/><text transform="translate(173.60,577.70)" font-size="7.8" text-anchor="middle" fill="#111" stroke="#111" stroke-width="0.18">10</text><text transform="translate(177.50,574.30)" font-size="6.2" text-anchor="start" fill="#111" stroke="#111" stroke-width="0.15">0</text><text transform="translate(192.75,577.70)" font-size="7.8" text-anchor="middle" fill="#111" stroke="#111" stroke-width="0.18">10</text><text transform="translate(196.65,574.30)" font-size="6.2" text-anchor="start" fill="#111" stroke="#111" stroke-width="0.15">1</text><text transform="translate(211.90,577.70)" font-size="7.8" text-anchor="middle" fill="#111" stroke="#111" stroke-width="0.18">10</text><text transform="translate(215.80,574.30)" font-size="6.2" text-anchor="start" fill="#111" stroke="#111" stroke-width="0.15">2</text><text transform="translate(230.95,577.70)" font-size="7.8" text-anchor="middle" fill="#111" stroke="#111" stroke-width="0.18">10</text><text transform="translate(234.85,574.30)" font-size="6.2" text-anchor="start" fill="#111" stroke="#111" stroke-width="0.15">3</text><text transform="translate(249.70,577.70)" font-size="7.8" text-anchor="middle" fill="#111" stroke="#111" stroke-width="0.18">10</text><text transform="translate(253.60,574.30)" font-size="6.2" text-anchor="start" fill="#111" stroke="#111" stroke-width="0.15">4</text><text transform="translate(168.40,566.30) rotate(-90)" font-size="7.8" text-anchor="middle" fill="#111" stroke="#111" stroke-width="0.18">10</text><text transform="translate(165.40,560.70) rotate(-90)" font-size="6.2" text-anchor="middle" fill="#111" stroke="#111" stroke-width="0.15">0</text><text transform="translate(168.40,552.38) rotate(-90)" font-size="7.8" text-anchor="middle" fill="#111" stroke="#111" stroke-width="0.18">10</text><text transform="translate(165.40,545.88) rotate(-90)" font-size="6.2" text-anchor="middle" fill="#111" stroke="#111" stroke-width="0.15">1</text><text transform="translate(168.40,537.85) rotate(-90)" font-size="7.8" text-anchor="middle" fill="#111" stroke="#111" stroke-width="0.18">10</text><text transform="translate(165.40,531.55) rotate(-90)" font-size="6.2" text-anchor="middle" fill="#111" stroke="#111" stroke-width="0.15">2</text><text transform="translate(168.40,522.23) rotate(-90)" font-size="7.8" text-anchor="middle" fill="#111" stroke="#111" stroke-width="0.18">10</text><text transform="translate(165.40,516.62) rotate(-90)" font-size="6.2" text-anchor="middle" fill="#111" stroke="#111" stroke-width="0.15">3</text><text transform="translate(168.40,509.30) rotate(-90)" font-size="7.8" text-anchor="middle" fill="#111" stroke="#111" stroke-width="0.18">10</text><text transform="translate(165.40,503.20) rotate(-90)" font-size="6.2" text-anchor="middle" fill="#111" stroke="#111" stroke-width="0.15">4</text><text transform="translate(151.10,540.00) rotate(-90)" font-size="11.6" font-weight="bold" font-style="normal" text-anchor="middle" fill="#000" stroke="#000" stroke-width="0.25" >IFN-γ APC</text><text transform="translate(210.30,588.70)" font-size="11.8" font-weight="bold" font-style="normal" text-anchor="middle" fill="#000" stroke="#000" stroke-width="0.25" >F4/80 PE</text><path d="M319.20 566.30v2.6M319.20 566.30h-2.6M325.08 566.30v1.6M319.20 561.80h-1.6M328.52 566.30v1.6M319.20 559.17h-1.6M330.96 566.30v1.6M319.20 557.30h-1.6M332.85 566.30v1.6M319.20 555.85h-1.6M334.39 566.30v1.6M319.20 554.67h-1.6M335.70 566.30v1.6M319.20 553.67h-1.6M336.83 566.30v1.6M319.20 552.80h-1.6M337.83 566.30v1.6M319.20 552.03h-1.6M338.73 566.30v2.6M319.20 551.35h-2.6M344.60 566.30v1.6M319.20 546.85h-1.6M348.04 566.30v1.6M319.20 544.22h-1.6M350.48 566.30v1.6M319.20 542.35h-1.6M352.37 566.30v1.6M319.20 540.90h-1.6M353.92 566.30v1.6M319.20 539.72h-1.6M355.23 566.30v1.6M319.20 538.72h-1.6M356.36 566.30v1.6M319.20 537.85h-1.6M357.36 566.30v1.6M319.20 537.08h-1.6M358.25 566.30v2.6M319.20 536.40h-2.6M364.13 566.30v1.6M319.20 531.90h-1.6M367.57 566.30v1.6M319.20 529.27h-1.6M370.01 566.30v1.6M319.20 527.40h-1.6M371.90 566.30v1.6M319.20 525.95h-1.6M373.44 566.30v1.6M319.20 524.77h-1.6M374.75 566.30v1.6M319.20 523.77h-1.6M375.88 566.30v1.6M319.20 522.90h-1.6M376.88 566.30v1.6M319.20 522.13h-1.6M377.77 566.30v2.6M319.20 521.45h-2.6M383.65 566.30v1.6M319.20 516.95h-1.6M387.09 566.30v1.6M319.20 514.32h-1.6M389.53 566.30v1.6M319.20 512.45h-1.6M391.42 566.30v1.6M319.20 511.00h-1.6M392.97 566.30v1.6M319.20 509.82h-1.6M394.28 566.30v1.6M319.20 508.82h-1.6M395.41 566.30v1.6M319.20 507.95h-1.6M396.41 566.30v1.6M319.20 507.18h-1.6M397.30 566.30v2.6M319.20 506.50h-2.6" stroke="#000" stroke-width="0.9" fill="none"/><rect x="319.20" y="506.50" width="78.10" height="59.80" fill="none" stroke="#111" stroke-width="1.3"/><text transform="translate(319.00,578.00)" font-size="7.8" text-anchor="middle" fill="#111" stroke="#111" stroke-width="0.18">10</text><text transform="translate(322.90,574.60)" font-size="6.2" text-anchor="start" fill="#111" stroke="#111" stroke-width="0.15">0</text><text transform="translate(337.93,578.00)" font-size="7.8" text-anchor="middle" fill="#111" stroke="#111" stroke-width="0.18">10</text><text transform="translate(341.82,574.60)" font-size="6.2" text-anchor="start" fill="#111" stroke="#111" stroke-width="0.15">1</text><text transform="translate(356.85,578.00)" font-size="7.8" text-anchor="middle" fill="#111" stroke="#111" stroke-width="0.18">10</text><text transform="translate(360.75,574.60)" font-size="6.2" text-anchor="start" fill="#111" stroke="#111" stroke-width="0.15">2</text><text transform="translate(375.67,578.00)" font-size="7.8" text-anchor="middle" fill="#111" stroke="#111" stroke-width="0.18">10</text><text transform="translate(379.57,574.60)" font-size="6.2" text-anchor="start" fill="#111" stroke="#111" stroke-width="0.15">3</text><text transform="translate(394.20,578.00)" font-size="7.8" text-anchor="middle" fill="#111" stroke="#111" stroke-width="0.18">10</text><text transform="translate(398.10,574.60)" font-size="6.2" text-anchor="start" fill="#111" stroke="#111" stroke-width="0.15">4</text><text transform="translate(313.80,566.60) rotate(-90)" font-size="7.8" text-anchor="middle" fill="#111" stroke="#111" stroke-width="0.18">10</text><text transform="translate(310.80,561.00) rotate(-90)" font-size="6.2" text-anchor="middle" fill="#111" stroke="#111" stroke-width="0.15">0</text><text transform="translate(313.80,552.65) rotate(-90)" font-size="7.8" text-anchor="middle" fill="#111" stroke="#111" stroke-width="0.18">10</text><text transform="translate(310.80,546.15) rotate(-90)" font-size="6.2" text-anchor="middle" fill="#111" stroke="#111" stroke-width="0.15">1</text><text transform="translate(313.80,538.10) rotate(-90)" font-size="7.8" text-anchor="middle" fill="#111" stroke="#111" stroke-width="0.18">10</text><text transform="translate(310.80,531.80) rotate(-90)" font-size="6.2" text-anchor="middle" fill="#111" stroke="#111" stroke-width="0.15">2</text><text transform="translate(313.80,522.45) rotate(-90)" font-size="7.8" text-anchor="middle" fill="#111" stroke="#111" stroke-width="0.18">10</text><text transform="translate(310.80,516.85) rotate(-90)" font-size="6.2" text-anchor="middle" fill="#111" stroke="#111" stroke-width="0.15">3</text><text transform="translate(313.80,509.50) rotate(-90)" font-size="7.8" text-anchor="middle" fill="#111" stroke="#111" stroke-width="0.18">10</text><text transform="translate(310.80,503.40) rotate(-90)" font-size="6.2" text-anchor="middle" fill="#111" stroke="#111" stroke-width="0.15">4</text><text transform="translate(295.50,540.00) rotate(-90)" font-size="11.6" font-weight="bold" font-style="normal" text-anchor="middle" fill="#000" stroke="#000" stroke-width="0.25" >IFN-γ APC</text><text transform="translate(357.00,589.40)" font-size="11.8" font-weight="bold" font-style="normal" text-anchor="middle" fill="#000" stroke="#000" stroke-width="0.25" >StrepPerCP</text><path d="M424.30 566.00v2.6M424.30 566.00h-2.6M430.19 566.00v1.6M424.30 561.51h-1.6M433.64 566.00v1.6M424.30 558.88h-1.6M436.09 566.00v1.6M424.30 557.01h-1.6M437.98 566.00v1.6M424.30 555.57h-1.6M439.53 566.00v1.6M424.30 554.39h-1.6M440.84 566.00v1.6M424.30 553.39h-1.6M441.98 566.00v1.6M424.30 552.52h-1.6M442.98 566.00v1.6M424.30 551.76h-1.6M443.88 566.00v2.6M424.30 551.08h-2.6M449.77 566.00v1.6M424.30 546.58h-1.6M453.21 566.00v1.6M424.30 543.95h-1.6M455.66 566.00v1.6M424.30 542.09h-1.6M457.56 566.00v1.6M424.30 540.64h-1.6M459.11 566.00v1.6M424.30 539.46h-1.6M460.42 566.00v1.6M424.30 538.46h-1.6M461.55 566.00v1.6M424.30 537.60h-1.6M462.55 566.00v1.6M424.30 536.83h-1.6M463.45 566.00v2.6M424.30 536.15h-2.6M469.34 566.00v1.6M424.30 531.66h-1.6M472.79 566.00v1.6M424.30 529.03h-1.6M475.24 566.00v1.6M424.30 527.16h-1.6M477.13 566.00v1.6M424.30 525.72h-1.6M478.68 566.00v1.6M424.30 524.54h-1.6M479.99 566.00v1.6M424.30 523.54h-1.6M481.13 566.00v1.6M424.30 522.67h-1.6M482.13 566.00v1.6M424.30 521.91h-1.6M483.03 566.00v2.6M424.30 521.23h-2.6M488.92 566.00v1.6M424.30 516.73h-1.6M492.36 566.00v1.6M424.30 514.10h-1.6M494.81 566.00v1.6M424.30 512.24h-1.6M496.71 566.00v1.6M424.30 510.79h-1.6M498.26 566.00v1.6M424.30 509.61h-1.6M499.57 566.00v1.6M424.30 508.61h-1.6M500.70 566.00v1.6M424.30 507.75h-1.6M501.70 566.00v1.6M424.30 506.98h-1.6M502.60 566.00v2.6M424.30 506.30h-2.6" stroke="#000" stroke-width="0.9" fill="none"/><rect x="424.30" y="506.30" width="78.30" height="59.70" fill="none" stroke="#111" stroke-width="1.3"/><text transform="translate(424.10,577.70)" font-size="7.8" text-anchor="middle" fill="#111" stroke="#111" stroke-width="0.18">10</text><text transform="translate(428.00,574.30)" font-size="6.2" text-anchor="start" fill="#111" stroke="#111" stroke-width="0.15">0</text><text transform="translate(443.07,577.70)" font-size="7.8" text-anchor="middle" fill="#111" stroke="#111" stroke-width="0.18">10</text><text transform="translate(446.97,574.30)" font-size="6.2" text-anchor="start" fill="#111" stroke="#111" stroke-width="0.15">1</text><text transform="translate(462.05,577.70)" font-size="7.8" text-anchor="middle" fill="#111" stroke="#111" stroke-width="0.18">10</text><text transform="translate(465.95,574.30)" font-size="6.2" text-anchor="start" fill="#111" stroke="#111" stroke-width="0.15">2</text><text transform="translate(480.93,577.70)" font-size="7.8" text-anchor="middle" fill="#111" stroke="#111" stroke-width="0.18">10</text><text transform="translate(484.82,574.30)" font-size="6.2" text-anchor="start" fill="#111" stroke="#111" stroke-width="0.15">3</text><text transform="translate(499.50,577.70)" font-size="7.8" text-anchor="middle" fill="#111" stroke="#111" stroke-width="0.18">10</text><text transform="translate(503.40,574.30)" font-size="6.2" text-anchor="start" fill="#111" stroke="#111" stroke-width="0.15">4</text><text transform="translate(418.90,566.30) rotate(-90)" font-size="7.8" text-anchor="middle" fill="#111" stroke="#111" stroke-width="0.18">10</text><text transform="translate(415.90,560.70) rotate(-90)" font-size="6.2" text-anchor="middle" fill="#111" stroke="#111" stroke-width="0.15">0</text><text transform="translate(418.90,552.38) rotate(-90)" font-size="7.8" text-anchor="middle" fill="#111" stroke="#111" stroke-width="0.18">10</text><text transform="translate(415.90,545.88) rotate(-90)" font-size="6.2" text-anchor="middle" fill="#111" stroke="#111" stroke-width="0.15">1</text><text transform="translate(418.90,537.85) rotate(-90)" font-size="7.8" text-anchor="middle" fill="#111" stroke="#111" stroke-width="0.18">10</text><text transform="translate(415.90,531.55) rotate(-90)" font-size="6.2" text-anchor="middle" fill="#111" stroke="#111" stroke-width="0.15">2</text><text transform="translate(418.90,522.23) rotate(-90)" font-size="7.8" text-anchor="middle" fill="#111" stroke="#111" stroke-width="0.18">10</text><text transform="translate(415.90,516.62) rotate(-90)" font-size="6.2" text-anchor="middle" fill="#111" stroke="#111" stroke-width="0.15">3</text><text transform="translate(418.90,509.30) rotate(-90)" font-size="7.8" text-anchor="middle" fill="#111" stroke="#111" stroke-width="0.18">10</text><text transform="translate(415.90,503.20) rotate(-90)" font-size="6.2" text-anchor="middle" fill="#111" stroke="#111" stroke-width="0.15">4</text><text transform="translate(460.30,588.70)" font-size="11.8" font-weight="bold" font-style="normal" text-anchor="middle" fill="#000" stroke="#000" stroke-width="0.25" >CD3 PerCP</text>
</g>
</svg>
</body></html>
